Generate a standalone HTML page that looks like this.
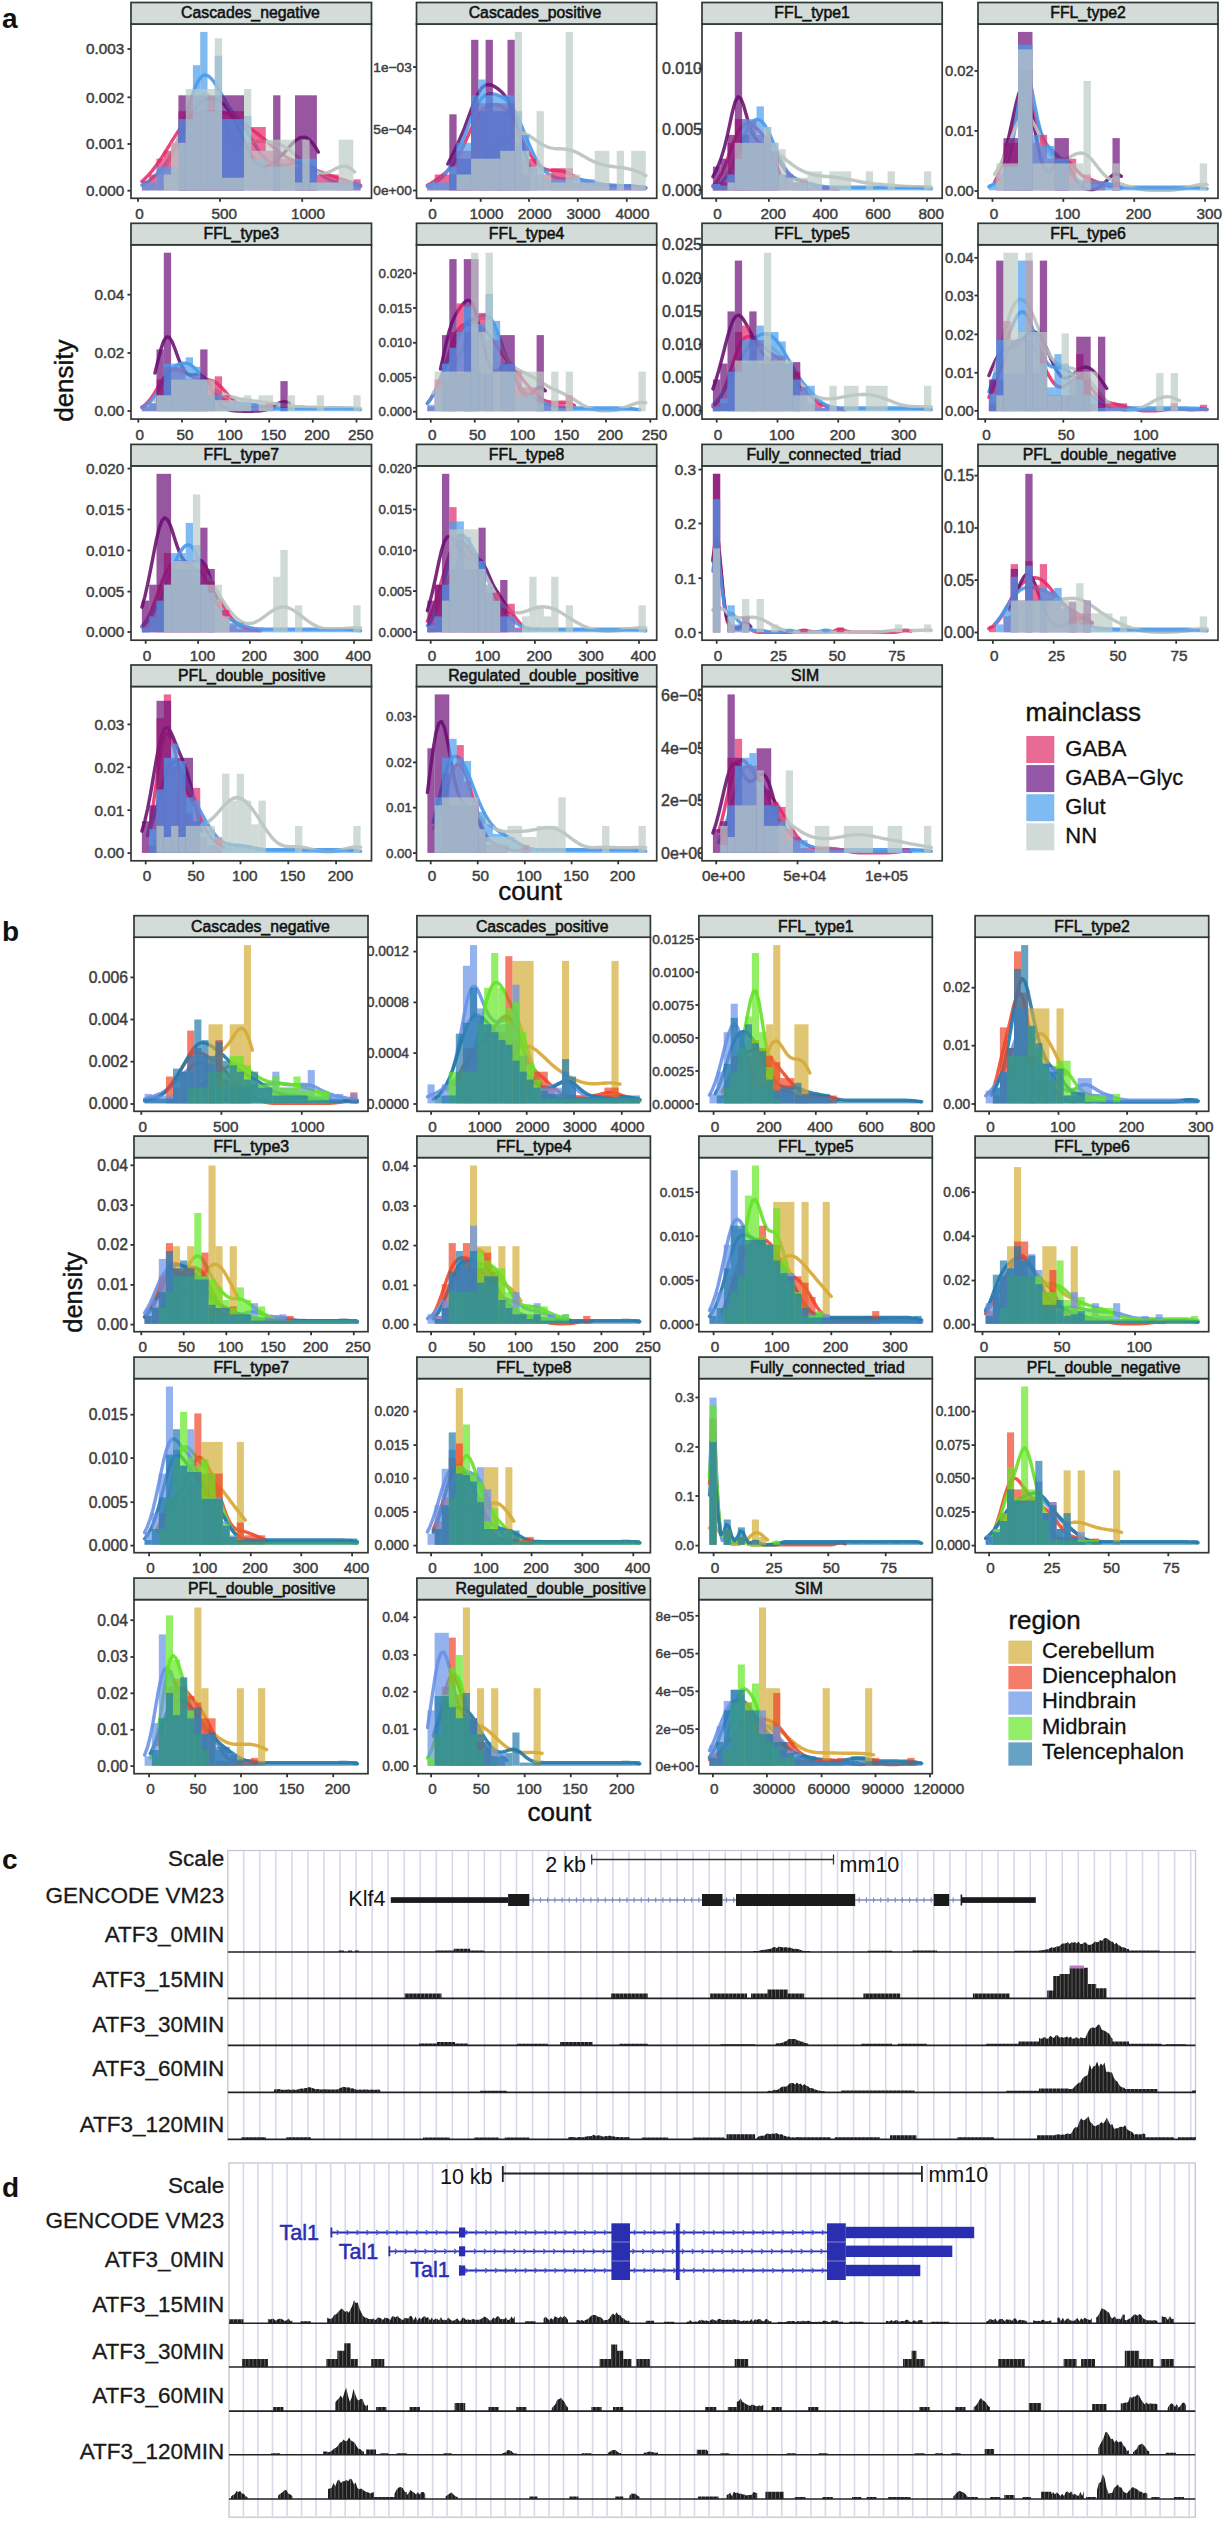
<!DOCTYPE html>
<html><head><meta charset="utf-8"><style>html,body{margin:0;padding:0;background:#fff;}svg{display:block;font-family:"Liberation Sans",sans-serif;}</style></head><body>
<svg width="1224" height="2521" viewBox="0 0 1224 2521" font-family="&quot;Liberation Sans&quot;, sans-serif">
<rect width="1224" height="2521" fill="#fff"/>
<g font-weight="bold" font-size="28" fill="#111">
<text x="2" y="27.7">a</text>
<text x="2" y="941">b</text>
<text x="2" y="1868.5">c</text>
<text x="2" y="2196.5">d</text>
</g>
<text x="124.2" y="54.3" font-size="15.3" fill="#3d3d3d" stroke="#3d3d3d" stroke-width="0.45" text-anchor="end">0.003</text>
<text x="124.2" y="102.6" font-size="15.3" fill="#3d3d3d" stroke="#3d3d3d" stroke-width="0.45" text-anchor="end">0.002</text>
<text x="124.2" y="149.3" font-size="15.3" fill="#3d3d3d" stroke="#3d3d3d" stroke-width="0.45" text-anchor="end">0.001</text>
<text x="124.2" y="196" font-size="15.3" fill="#3d3d3d" stroke="#3d3d3d" stroke-width="0.45" text-anchor="end">0.000</text>
<text x="411.8" y="71.7" font-size="13.7" fill="#3d3d3d" stroke="#3d3d3d" stroke-width="0.45" text-anchor="end">1e−03</text>
<text x="411.8" y="133.7" font-size="13.7" fill="#3d3d3d" stroke="#3d3d3d" stroke-width="0.45" text-anchor="end">5e−04</text>
<text x="411.8" y="195.2" font-size="13.7" fill="#3d3d3d" stroke="#3d3d3d" stroke-width="0.45" text-anchor="end">0e+00</text>
<text x="702" y="74.1" font-size="16" fill="#3d3d3d" stroke="#3d3d3d" stroke-width="0.45" text-anchor="end">0.010</text>
<text x="702" y="134.7" font-size="16" fill="#3d3d3d" stroke="#3d3d3d" stroke-width="0.45" text-anchor="end">0.005</text>
<text x="702" y="195.5" font-size="16" fill="#3d3d3d" stroke="#3d3d3d" stroke-width="0.45" text-anchor="end">0.000</text>
<text x="973.8" y="76" font-size="14.8" fill="#3d3d3d" stroke="#3d3d3d" stroke-width="0.45" text-anchor="end">0.02</text>
<text x="973.8" y="136" font-size="14.8" fill="#3d3d3d" stroke="#3d3d3d" stroke-width="0.45" text-anchor="end">0.01</text>
<text x="973.8" y="196.1" font-size="14.8" fill="#3d3d3d" stroke="#3d3d3d" stroke-width="0.45" text-anchor="end">0.00</text>
<text x="124.2" y="300" font-size="15.3" fill="#3d3d3d" stroke="#3d3d3d" stroke-width="0.45" text-anchor="end">0.04</text>
<text x="124.2" y="358.3" font-size="15.3" fill="#3d3d3d" stroke="#3d3d3d" stroke-width="0.45" text-anchor="end">0.02</text>
<text x="124.2" y="416.3" font-size="15.3" fill="#3d3d3d" stroke="#3d3d3d" stroke-width="0.45" text-anchor="end">0.00</text>
<text x="411.9" y="277.9" font-size="13.3" fill="#3d3d3d" stroke="#3d3d3d" stroke-width="0.45" text-anchor="end">0.020</text>
<text x="411.9" y="312.6" font-size="13.3" fill="#3d3d3d" stroke="#3d3d3d" stroke-width="0.45" text-anchor="end">0.015</text>
<text x="411.9" y="347.4" font-size="13.3" fill="#3d3d3d" stroke="#3d3d3d" stroke-width="0.45" text-anchor="end">0.010</text>
<text x="411.9" y="382.1" font-size="13.3" fill="#3d3d3d" stroke="#3d3d3d" stroke-width="0.45" text-anchor="end">0.005</text>
<text x="411.9" y="416.3" font-size="13.3" fill="#3d3d3d" stroke="#3d3d3d" stroke-width="0.45" text-anchor="end">0.000</text>
<text x="702" y="249.9" font-size="16" fill="#3d3d3d" stroke="#3d3d3d" stroke-width="0.45" text-anchor="end">0.025</text>
<text x="702" y="283.7" font-size="16" fill="#3d3d3d" stroke="#3d3d3d" stroke-width="0.45" text-anchor="end">0.020</text>
<text x="702" y="316.8" font-size="16" fill="#3d3d3d" stroke="#3d3d3d" stroke-width="0.45" text-anchor="end">0.015</text>
<text x="702" y="349.9" font-size="16" fill="#3d3d3d" stroke="#3d3d3d" stroke-width="0.45" text-anchor="end">0.010</text>
<text x="702" y="383" font-size="16" fill="#3d3d3d" stroke="#3d3d3d" stroke-width="0.45" text-anchor="end">0.005</text>
<text x="702" y="416.1" font-size="16" fill="#3d3d3d" stroke="#3d3d3d" stroke-width="0.45" text-anchor="end">0.000</text>
<text x="973.8" y="262.9" font-size="14.8" fill="#3d3d3d" stroke="#3d3d3d" stroke-width="0.45" text-anchor="end">0.04</text>
<text x="973.8" y="300.6" font-size="14.8" fill="#3d3d3d" stroke="#3d3d3d" stroke-width="0.45" text-anchor="end">0.03</text>
<text x="973.8" y="339.5" font-size="14.8" fill="#3d3d3d" stroke="#3d3d3d" stroke-width="0.45" text-anchor="end">0.02</text>
<text x="973.8" y="377.9" font-size="14.8" fill="#3d3d3d" stroke="#3d3d3d" stroke-width="0.45" text-anchor="end">0.01</text>
<text x="973.8" y="415.9" font-size="14.8" fill="#3d3d3d" stroke="#3d3d3d" stroke-width="0.45" text-anchor="end">0.00</text>
<text x="124.2" y="473.9" font-size="15.3" fill="#3d3d3d" stroke="#3d3d3d" stroke-width="0.45" text-anchor="end">0.020</text>
<text x="124.2" y="514.8" font-size="15.3" fill="#3d3d3d" stroke="#3d3d3d" stroke-width="0.45" text-anchor="end">0.015</text>
<text x="124.2" y="555.8" font-size="15.3" fill="#3d3d3d" stroke="#3d3d3d" stroke-width="0.45" text-anchor="end">0.010</text>
<text x="124.2" y="596.9" font-size="15.3" fill="#3d3d3d" stroke="#3d3d3d" stroke-width="0.45" text-anchor="end">0.005</text>
<text x="124.2" y="637.3" font-size="15.3" fill="#3d3d3d" stroke="#3d3d3d" stroke-width="0.45" text-anchor="end">0.000</text>
<text x="411.9" y="472.5" font-size="13.3" fill="#3d3d3d" stroke="#3d3d3d" stroke-width="0.45" text-anchor="end">0.020</text>
<text x="411.9" y="514.1" font-size="13.3" fill="#3d3d3d" stroke="#3d3d3d" stroke-width="0.45" text-anchor="end">0.015</text>
<text x="411.9" y="555.1" font-size="13.3" fill="#3d3d3d" stroke="#3d3d3d" stroke-width="0.45" text-anchor="end">0.010</text>
<text x="411.9" y="595.7" font-size="13.3" fill="#3d3d3d" stroke="#3d3d3d" stroke-width="0.45" text-anchor="end">0.005</text>
<text x="411.9" y="636.6" font-size="13.3" fill="#3d3d3d" stroke="#3d3d3d" stroke-width="0.45" text-anchor="end">0.000</text>
<text x="696.1" y="474.9" font-size="15.4" fill="#3d3d3d" stroke="#3d3d3d" stroke-width="0.45" text-anchor="end">0.3</text>
<text x="696.1" y="528.8" font-size="15.4" fill="#3d3d3d" stroke="#3d3d3d" stroke-width="0.45" text-anchor="end">0.2</text>
<text x="696.1" y="583.5" font-size="15.4" fill="#3d3d3d" stroke="#3d3d3d" stroke-width="0.45" text-anchor="end">0.1</text>
<text x="696.1" y="637.9" font-size="15.4" fill="#3d3d3d" stroke="#3d3d3d" stroke-width="0.45" text-anchor="end">0.0</text>
<text x="974.3" y="481" font-size="15.6" fill="#3d3d3d" stroke="#3d3d3d" stroke-width="0.45" text-anchor="end">0.15</text>
<text x="974.3" y="533.4" font-size="15.6" fill="#3d3d3d" stroke="#3d3d3d" stroke-width="0.45" text-anchor="end">0.10</text>
<text x="974.3" y="585.5" font-size="15.6" fill="#3d3d3d" stroke="#3d3d3d" stroke-width="0.45" text-anchor="end">0.05</text>
<text x="974.3" y="637.9" font-size="15.6" fill="#3d3d3d" stroke="#3d3d3d" stroke-width="0.45" text-anchor="end">0.00</text>
<text x="124.2" y="729.7" font-size="15.3" fill="#3d3d3d" stroke="#3d3d3d" stroke-width="0.45" text-anchor="end">0.03</text>
<text x="124.2" y="772.6" font-size="15.3" fill="#3d3d3d" stroke="#3d3d3d" stroke-width="0.45" text-anchor="end">0.02</text>
<text x="124.2" y="815.5" font-size="15.3" fill="#3d3d3d" stroke="#3d3d3d" stroke-width="0.45" text-anchor="end">0.01</text>
<text x="124.2" y="858.4" font-size="15.3" fill="#3d3d3d" stroke="#3d3d3d" stroke-width="0.45" text-anchor="end">0.00</text>
<text x="411.9" y="721.2" font-size="13.3" fill="#3d3d3d" stroke="#3d3d3d" stroke-width="0.45" text-anchor="end">0.03</text>
<text x="411.9" y="767" font-size="13.3" fill="#3d3d3d" stroke="#3d3d3d" stroke-width="0.45" text-anchor="end">0.02</text>
<text x="411.9" y="812.3" font-size="13.3" fill="#3d3d3d" stroke="#3d3d3d" stroke-width="0.45" text-anchor="end">0.01</text>
<text x="411.9" y="857.7" font-size="13.3" fill="#3d3d3d" stroke="#3d3d3d" stroke-width="0.45" text-anchor="end">0.00</text>
<text x="706" y="701" font-size="16" fill="#3d3d3d" stroke="#3d3d3d" stroke-width="0.45" text-anchor="end">6e−05</text>
<text x="706" y="753.7" font-size="16" fill="#3d3d3d" stroke="#3d3d3d" stroke-width="0.45" text-anchor="end">4e−05</text>
<text x="706" y="805.9" font-size="16" fill="#3d3d3d" stroke="#3d3d3d" stroke-width="0.45" text-anchor="end">2e−05</text>
<text x="706" y="858.6" font-size="16" fill="#3d3d3d" stroke="#3d3d3d" stroke-width="0.45" text-anchor="end">0e+00</text>
<text x="127.9" y="982.8" font-size="15.7" fill="#3d3d3d" stroke="#3d3d3d" stroke-width="0.45" text-anchor="end">0.006</text>
<text x="127.9" y="1024.9" font-size="15.7" fill="#3d3d3d" stroke="#3d3d3d" stroke-width="0.45" text-anchor="end">0.004</text>
<text x="127.9" y="1067.1" font-size="15.7" fill="#3d3d3d" stroke="#3d3d3d" stroke-width="0.45" text-anchor="end">0.002</text>
<text x="127.9" y="1109.4" font-size="15.7" fill="#3d3d3d" stroke="#3d3d3d" stroke-width="0.45" text-anchor="end">0.000</text>
<text x="409" y="956.3" font-size="13.8" fill="#3d3d3d" stroke="#3d3d3d" stroke-width="0.45" text-anchor="end">0.0012</text>
<text x="409" y="1007.1" font-size="13.8" fill="#3d3d3d" stroke="#3d3d3d" stroke-width="0.45" text-anchor="end">0.0008</text>
<text x="409" y="1057.8" font-size="13.8" fill="#3d3d3d" stroke="#3d3d3d" stroke-width="0.45" text-anchor="end">0.0004</text>
<text x="409" y="1108.7" font-size="13.8" fill="#3d3d3d" stroke="#3d3d3d" stroke-width="0.45" text-anchor="end">0.0000</text>
<text x="694" y="943.8" font-size="13.7" fill="#3d3d3d" stroke="#3d3d3d" stroke-width="0.45" text-anchor="end">0.0125</text>
<text x="694" y="976.9" font-size="13.7" fill="#3d3d3d" stroke="#3d3d3d" stroke-width="0.45" text-anchor="end">0.0100</text>
<text x="694" y="1009.7" font-size="13.7" fill="#3d3d3d" stroke="#3d3d3d" stroke-width="0.45" text-anchor="end">0.0075</text>
<text x="694" y="1042.6" font-size="13.7" fill="#3d3d3d" stroke="#3d3d3d" stroke-width="0.45" text-anchor="end">0.0050</text>
<text x="694" y="1075.7" font-size="13.7" fill="#3d3d3d" stroke="#3d3d3d" stroke-width="0.45" text-anchor="end">0.0025</text>
<text x="694" y="1108.7" font-size="13.7" fill="#3d3d3d" stroke="#3d3d3d" stroke-width="0.45" text-anchor="end">0.0000</text>
<text x="970.2" y="992.4" font-size="13.8" fill="#3d3d3d" stroke="#3d3d3d" stroke-width="0.45" text-anchor="end">0.02</text>
<text x="970.2" y="1050.4" font-size="13.8" fill="#3d3d3d" stroke="#3d3d3d" stroke-width="0.45" text-anchor="end">0.01</text>
<text x="970.2" y="1108.7" font-size="13.8" fill="#3d3d3d" stroke="#3d3d3d" stroke-width="0.45" text-anchor="end">0.00</text>
<text x="127.9" y="1170.7" font-size="15.7" fill="#3d3d3d" stroke="#3d3d3d" stroke-width="0.45" text-anchor="end">0.04</text>
<text x="127.9" y="1210.6" font-size="15.7" fill="#3d3d3d" stroke="#3d3d3d" stroke-width="0.45" text-anchor="end">0.03</text>
<text x="127.9" y="1250.3" font-size="15.7" fill="#3d3d3d" stroke="#3d3d3d" stroke-width="0.45" text-anchor="end">0.02</text>
<text x="127.9" y="1290.3" font-size="15.7" fill="#3d3d3d" stroke="#3d3d3d" stroke-width="0.45" text-anchor="end">0.01</text>
<text x="127.9" y="1330" font-size="15.7" fill="#3d3d3d" stroke="#3d3d3d" stroke-width="0.45" text-anchor="end">0.00</text>
<text x="409" y="1170.7" font-size="13.8" fill="#3d3d3d" stroke="#3d3d3d" stroke-width="0.45" text-anchor="end">0.04</text>
<text x="409" y="1210.7" font-size="13.8" fill="#3d3d3d" stroke="#3d3d3d" stroke-width="0.45" text-anchor="end">0.03</text>
<text x="409" y="1250.3" font-size="13.8" fill="#3d3d3d" stroke="#3d3d3d" stroke-width="0.45" text-anchor="end">0.02</text>
<text x="409" y="1290.1" font-size="13.8" fill="#3d3d3d" stroke="#3d3d3d" stroke-width="0.45" text-anchor="end">0.01</text>
<text x="409" y="1329.3" font-size="13.8" fill="#3d3d3d" stroke="#3d3d3d" stroke-width="0.45" text-anchor="end">0.00</text>
<text x="694" y="1196.9" font-size="13.7" fill="#3d3d3d" stroke="#3d3d3d" stroke-width="0.45" text-anchor="end">0.015</text>
<text x="694" y="1241" font-size="13.7" fill="#3d3d3d" stroke="#3d3d3d" stroke-width="0.45" text-anchor="end">0.010</text>
<text x="694" y="1285.2" font-size="13.7" fill="#3d3d3d" stroke="#3d3d3d" stroke-width="0.45" text-anchor="end">0.005</text>
<text x="694" y="1329.3" font-size="13.7" fill="#3d3d3d" stroke="#3d3d3d" stroke-width="0.45" text-anchor="end">0.000</text>
<text x="970.2" y="1196.9" font-size="13.8" fill="#3d3d3d" stroke="#3d3d3d" stroke-width="0.45" text-anchor="end">0.06</text>
<text x="970.2" y="1241" font-size="13.8" fill="#3d3d3d" stroke="#3d3d3d" stroke-width="0.45" text-anchor="end">0.04</text>
<text x="970.2" y="1285.2" font-size="13.8" fill="#3d3d3d" stroke="#3d3d3d" stroke-width="0.45" text-anchor="end">0.02</text>
<text x="970.2" y="1329.3" font-size="13.8" fill="#3d3d3d" stroke="#3d3d3d" stroke-width="0.45" text-anchor="end">0.00</text>
<text x="127.9" y="1420.1" font-size="15.7" fill="#3d3d3d" stroke="#3d3d3d" stroke-width="0.45" text-anchor="end">0.015</text>
<text x="127.9" y="1463.5" font-size="15.7" fill="#3d3d3d" stroke="#3d3d3d" stroke-width="0.45" text-anchor="end">0.010</text>
<text x="127.9" y="1507.6" font-size="15.7" fill="#3d3d3d" stroke="#3d3d3d" stroke-width="0.45" text-anchor="end">0.005</text>
<text x="127.9" y="1551" font-size="15.7" fill="#3d3d3d" stroke="#3d3d3d" stroke-width="0.45" text-anchor="end">0.000</text>
<text x="409" y="1416.2" font-size="13.8" fill="#3d3d3d" stroke="#3d3d3d" stroke-width="0.45" text-anchor="end">0.020</text>
<text x="409" y="1449.8" font-size="13.8" fill="#3d3d3d" stroke="#3d3d3d" stroke-width="0.45" text-anchor="end">0.015</text>
<text x="409" y="1483.1" font-size="13.8" fill="#3d3d3d" stroke="#3d3d3d" stroke-width="0.45" text-anchor="end">0.010</text>
<text x="409" y="1516.7" font-size="13.8" fill="#3d3d3d" stroke="#3d3d3d" stroke-width="0.45" text-anchor="end">0.005</text>
<text x="409" y="1550.3" font-size="13.8" fill="#3d3d3d" stroke="#3d3d3d" stroke-width="0.45" text-anchor="end">0.000</text>
<text x="694" y="1402.2" font-size="13.7" fill="#3d3d3d" stroke="#3d3d3d" stroke-width="0.45" text-anchor="end">0.3</text>
<text x="694" y="1451.7" font-size="13.7" fill="#3d3d3d" stroke="#3d3d3d" stroke-width="0.45" text-anchor="end">0.2</text>
<text x="694" y="1500.7" font-size="13.7" fill="#3d3d3d" stroke="#3d3d3d" stroke-width="0.45" text-anchor="end">0.1</text>
<text x="694" y="1550.3" font-size="13.7" fill="#3d3d3d" stroke="#3d3d3d" stroke-width="0.45" text-anchor="end">0.0</text>
<text x="970.2" y="1416.2" font-size="13.8" fill="#3d3d3d" stroke="#3d3d3d" stroke-width="0.45" text-anchor="end">0.100</text>
<text x="970.2" y="1449.8" font-size="13.8" fill="#3d3d3d" stroke="#3d3d3d" stroke-width="0.45" text-anchor="end">0.075</text>
<text x="970.2" y="1483.1" font-size="13.8" fill="#3d3d3d" stroke="#3d3d3d" stroke-width="0.45" text-anchor="end">0.050</text>
<text x="970.2" y="1516.7" font-size="13.8" fill="#3d3d3d" stroke="#3d3d3d" stroke-width="0.45" text-anchor="end">0.025</text>
<text x="970.2" y="1550.3" font-size="13.8" fill="#3d3d3d" stroke="#3d3d3d" stroke-width="0.45" text-anchor="end">0.000</text>
<text x="127.9" y="1625.6" font-size="15.7" fill="#3d3d3d" stroke="#3d3d3d" stroke-width="0.45" text-anchor="end">0.04</text>
<text x="127.9" y="1662.4" font-size="15.7" fill="#3d3d3d" stroke="#3d3d3d" stroke-width="0.45" text-anchor="end">0.03</text>
<text x="127.9" y="1698.7" font-size="15.7" fill="#3d3d3d" stroke="#3d3d3d" stroke-width="0.45" text-anchor="end">0.02</text>
<text x="127.9" y="1735.2" font-size="15.7" fill="#3d3d3d" stroke="#3d3d3d" stroke-width="0.45" text-anchor="end">0.01</text>
<text x="127.9" y="1771.5" font-size="15.7" fill="#3d3d3d" stroke="#3d3d3d" stroke-width="0.45" text-anchor="end">0.00</text>
<text x="409" y="1622" font-size="13.8" fill="#3d3d3d" stroke="#3d3d3d" stroke-width="0.45" text-anchor="end">0.04</text>
<text x="409" y="1659.7" font-size="13.8" fill="#3d3d3d" stroke="#3d3d3d" stroke-width="0.45" text-anchor="end">0.03</text>
<text x="409" y="1696.5" font-size="13.8" fill="#3d3d3d" stroke="#3d3d3d" stroke-width="0.45" text-anchor="end">0.02</text>
<text x="409" y="1734" font-size="13.8" fill="#3d3d3d" stroke="#3d3d3d" stroke-width="0.45" text-anchor="end">0.01</text>
<text x="409" y="1770.8" font-size="13.8" fill="#3d3d3d" stroke="#3d3d3d" stroke-width="0.45" text-anchor="end">0.00</text>
<text x="694" y="1620.5" font-size="13.7" fill="#3d3d3d" stroke="#3d3d3d" stroke-width="0.45" text-anchor="end">8e−05</text>
<text x="694" y="1658.3" font-size="13.7" fill="#3d3d3d" stroke="#3d3d3d" stroke-width="0.45" text-anchor="end">6e−05</text>
<text x="694" y="1696" font-size="13.7" fill="#3d3d3d" stroke="#3d3d3d" stroke-width="0.45" text-anchor="end">4e−05</text>
<text x="694" y="1733.8" font-size="13.7" fill="#3d3d3d" stroke="#3d3d3d" stroke-width="0.45" text-anchor="end">2e−05</text>
<text x="694" y="1771" font-size="13.7" fill="#3d3d3d" stroke="#3d3d3d" stroke-width="0.45" text-anchor="end">0e+00</text>
<clipPath id="ca00"><rect x="131" y="24" width="240.5" height="174.3"/></clipPath>
<rect x="131" y="24" width="240.5" height="174.3" fill="#fff"/>
<g clip-path="url(#ca00)">
<path d="M141.9,181.4 L144.8,178.8 L147.7,175.9 L150.6,172.7 L153.4,169.1 L156.3,165.3 L159.2,161.2 L162.1,156.9 L164.9,152.4 L167.8,147.8 L170.7,143.1 L173.6,138.4 L176.5,133.9 L179.3,129.6 L182.2,125.7 L185.1,122.2 L188,119.3 L190.8,116.9 L193.7,115.1 L196.6,113.8 L199.5,112.8 L202.3,112.2 L205.2,111.8 L208.1,111.5 L211,111.4 L213.9,111.5 L216.7,111.6 L219.6,111.9 L222.5,112.4 L225.4,113.1 L228.2,114 L231.1,115.2 L234,116.7 L236.9,118.5 L239.7,120.5 L242.6,122.5 L245.5,124.7 L248.4,126.9 L251.2,129 L254.1,131.2 L257,133.4 L259.9,135.6 L262.8,138 L265.6,140.4 L268.5,142.9 L271.4,145.5 L274.3,147.9 L277.1,150.3 L280,152.6 L282.9,154.7 L285.8,156.6 L288.6,158.4 L291.5,160 L294.4,161.5 L297.3,162.8 L300.2,164.1 L303,165.3 L305.9,166.5 L308.8,167.6 L311.7,168.6 L314.5,169.7 L317.4,170.8 L320.3,171.8 L323.2,172.8 L326,173.9 L328.9,174.9 L331.8,175.9 L334.7,176.9 L337.6,177.8 L340.4,178.8 L343.3,179.7 L346.2,180.7 L349.1,181.6 L351.9,182.6 L354.8,183.5 L357.7,184.5 L360.6,185.4" fill="none" stroke="#E3336E" stroke-opacity="0.9" stroke-width="3.4" stroke-linejoin="round" stroke-linecap="round"/>
<path d="M176.9,146.4 L179.8,139.3 L182.7,132.3 L185.6,125.7 L188.5,119.6 L191.3,114.3 L194.2,109.7 L197.1,106 L200,103 L202.9,100.9 L205.8,99.4 L208.7,98.6 L211.5,98.4 L214.4,98.8 L217.3,99.7 L220.2,101.4 L223.1,103.7 L226,106.8 L228.9,110.6 L231.7,115.3 L234.6,120.7 L237.5,126.6 L240.4,132.9 L243.3,139.4 L246.2,145.7 L249,151.5 L251.9,156.5 L254.8,160.6 L257.7,163.7 L260.6,165.6 L263.5,166.5 L266.4,166.4 L269.2,165.4 L272.1,163.8 L275,161.7 L277.9,159.2 L280.8,156.4 L283.7,153.3 L286.6,150.1 L289.4,146.8 L292.3,143.7 L295.2,141 L298.1,138.8 L301,137.4 L303.9,137.1 L306.8,137.9 L309.6,139.9 L312.5,143.1 L315.4,147.2 L318.3,152.1" fill="none" stroke="#6A1470" stroke-opacity="0.9" stroke-width="3.4" stroke-linejoin="round" stroke-linecap="round"/>
<path d="M141.9,185.2 L144.8,183.5 L147.7,181.6 L150.6,179.4 L153.4,177.1 L156.3,174.5 L159.2,171.8 L162.1,168.7 L164.9,165.2 L167.8,161.1 L170.7,156.3 L173.6,150.4 L176.5,143.6 L179.3,135.8 L182.2,127.2 L185.1,118.1 L188,108.7 L190.8,99.5 L193.7,91.2 L196.6,84.2 L199.5,79 L202.3,75.9 L205.2,74.9 L208.1,75.8 L211,78.2 L213.9,81.8 L216.7,86.1 L219.6,90.8 L222.5,95.9 L225.4,100.9 L228.2,105.7 L231.1,110.1 L234,114.1 L236.9,117.7 L239.7,121.3 L242.6,125 L245.5,129.2 L248.4,133.7 L251.2,138.5 L254.1,143.5 L257,148.2 L259.9,152.5 L262.8,156.2 L265.6,159.2 L268.5,161.5 L271.4,163.1 L274.3,164.3 L277.1,165 L280,165.3 L282.9,165.2 L285.8,164.9 L288.6,164.4 L291.5,163.8 L294.4,163.1 L297.3,162.6 L300.2,162.4 L303,162.5 L305.9,163.2 L308.8,164.5 L311.7,166.4 L314.5,168.7 L317.4,171.2 L320.3,173.8 L323.2,176.1 L326,178.1 L328.9,179.6 L331.8,180.7 L334.7,181.5 L337.6,182 L340.4,182.4 L343.3,182.7 L346.2,183 L349.1,183.5 L351.9,184 L354.8,184.7 L357.7,185.5 L360.6,186.4" fill="none" stroke="#4A98E8" stroke-opacity="0.9" stroke-width="3.4" stroke-linejoin="round" stroke-linecap="round"/>
<path d="M162.3,173.3 L165.2,168.4 L168.1,162.8 L171,156.5 L173.8,149.8 L176.7,142.7 L179.6,135.4 L182.4,128.2 L185.3,121.3 L188.2,114.8 L191.1,108.9 L193.9,103.8 L196.8,99.7 L199.7,96.6 L202.5,94.8 L205.4,94.3 L208.3,95.3 L211.2,97.9 L214,102 L216.9,107.4 L219.8,113.8 L222.6,120.7 L225.5,127.5 L228.4,133.7 L231.3,138.7 L234.1,142.4 L237,144.5 L239.9,145.3 L242.7,145.1 L245.6,144.3 L248.5,143.2 L251.4,142.3 L254.2,141.6 L257.1,141.2 L260,141.2 L262.8,141.3 L265.7,141.6 L268.6,141.9 L271.5,142.4 L274.3,142.9 L277.2,143.6 L280.1,144.6 L282.9,145.9 L285.8,147.5 L288.7,149.4 L291.6,151.6 L294.4,154 L297.3,156.5 L300.2,159.1 L303,161.7 L305.9,164.2 L308.8,166.7 L311.7,168.9 L314.5,170.8 L317.4,172.2 L320.3,173.1 L323.2,173.4 L326,173.1 L328.9,172.1 L331.8,170.8 L334.6,169.2 L337.5,167.8 L340.4,166.6 L343.3,166.1 L346.1,166.4 L349,167.5 L351.9,169.4 L354.7,171.9" fill="none" stroke="#B8C2BE" stroke-opacity="0.9" stroke-width="3.4" stroke-linejoin="round" stroke-linecap="round"/>
<g fill="#E12A69" fill-opacity="0.7">
<rect x="141.9" y="180.9" width="7.3" height="9.5"/>
<rect x="149.2" y="174.5" width="7.3" height="15.8"/>
<rect x="156.5" y="158.7" width="7.3" height="31.7"/>
<rect x="163.8" y="150.8" width="7.3" height="39.6"/>
<rect x="171.1" y="142.8" width="7.3" height="47.5"/>
<rect x="178.4" y="111.2" width="65.6" height="79.2"/>
<rect x="244" y="142.8" width="7.3" height="47.5"/>
<rect x="251.2" y="127" width="14.6" height="63.4"/>
<rect x="265.8" y="150.8" width="14.6" height="39.6"/>
<rect x="280.4" y="158.7" width="14.6" height="31.7"/>
<rect x="295" y="166.6" width="21.9" height="23.8"/>
<rect x="316.8" y="174.5" width="21.9" height="15.8"/>
<rect x="338.7" y="182.5" width="14.6" height="7.9"/>
<rect x="353.3" y="179.3" width="7.3" height="11.1"/>
</g>
<g fill="#6E0E78" fill-opacity="0.7">
<rect x="178.4" y="95.3" width="65.6" height="95.1"/>
<rect x="273.1" y="95.3" width="7.3" height="95.1"/>
<rect x="295" y="95.3" width="21.9" height="95.1"/>
</g>
<g fill="#499CEC" fill-opacity="0.7">
<rect x="141.9" y="182.5" width="14.6" height="7.9"/>
<rect x="156.5" y="166.6" width="21.9" height="23.8"/>
<rect x="178.4" y="119.1" width="14.6" height="71.3"/>
<rect x="192.9" y="65.2" width="7.3" height="125.2"/>
<rect x="200.2" y="31.9" width="7.3" height="158.5"/>
<rect x="207.5" y="111.2" width="7.3" height="79.2"/>
<rect x="214.8" y="55.7" width="7.3" height="134.7"/>
<rect x="222.1" y="119.1" width="21.9" height="71.3"/>
<rect x="244" y="115.9" width="7.3" height="74.5"/>
<rect x="251.2" y="158.7" width="14.6" height="31.7"/>
<rect x="265.8" y="166.6" width="29.2" height="23.8"/>
<rect x="295" y="158.7" width="21.9" height="31.7"/>
<rect x="316.8" y="182.5" width="43.7" height="7.9"/>
</g>
<g fill="#BCCAC4" fill-opacity="0.7">
<rect x="163.8" y="174.5" width="7.3" height="15.8"/>
<rect x="171.1" y="142.8" width="14.6" height="47.5"/>
<rect x="185.7" y="89" width="29.2" height="101.4"/>
<rect x="214.8" y="38.3" width="7.3" height="152.1"/>
<rect x="222.1" y="177.7" width="21.9" height="12.7"/>
<rect x="244" y="89" width="7.3" height="101.4"/>
<rect x="251.2" y="150.8" width="14.6" height="39.6"/>
<rect x="265.8" y="139.7" width="29.2" height="50.7"/>
<rect x="295" y="182.5" width="7.3" height="7.9"/>
<rect x="302.3" y="139.7" width="7.3" height="50.7"/>
<rect x="309.6" y="182.5" width="29.2" height="7.9"/>
<rect x="338.7" y="139.7" width="14.6" height="50.7"/>
</g>
</g>
<rect x="131" y="24" width="240.5" height="174.3" fill="none" stroke="#333835" stroke-width="1.7"/>
<rect x="131" y="2.5" width="240.5" height="21.5" fill="#D3DCD8" stroke="#2E3834" stroke-width="1.7"/>
<text x="250.5" y="18.3" font-size="15.8" fill="#111" stroke="#111" stroke-width="0.55" text-anchor="middle">Cascades_negative</text>
<line x1="127.5" y1="49" x2="131" y2="49" stroke="#333" stroke-width="1.8"/>
<line x1="127.5" y1="97.3" x2="131" y2="97.3" stroke="#333" stroke-width="1.8"/>
<line x1="127.5" y1="144" x2="131" y2="144" stroke="#333" stroke-width="1.8"/>
<line x1="127.5" y1="190.7" x2="131" y2="190.7" stroke="#333" stroke-width="1.8"/>
<line x1="138" y1="198.3" x2="138" y2="201.8" stroke="#333" stroke-width="1.8"/>
<text x="139.4" y="218.9" font-size="15.3" fill="#3d3d3d" stroke="#3d3d3d" stroke-width="0.45" text-anchor="middle">0</text>
<line x1="220" y1="198.3" x2="220" y2="201.8" stroke="#333" stroke-width="1.8"/>
<text x="224.3" y="218.9" font-size="15.3" fill="#3d3d3d" stroke="#3d3d3d" stroke-width="0.45" text-anchor="middle">500</text>
<line x1="302.2" y1="198.3" x2="302.2" y2="201.8" stroke="#333" stroke-width="1.8"/>
<text x="308" y="218.9" font-size="15.3" fill="#3d3d3d" stroke="#3d3d3d" stroke-width="0.45" text-anchor="middle">1000</text>
<clipPath id="ca10"><rect x="416.5" y="24" width="240.2" height="174.3"/></clipPath>
<rect x="416.5" y="24" width="240.2" height="174.3" fill="#fff"/>
<g clip-path="url(#ca10)">
<path d="M427.4,185.3 L430.3,183.6 L433.2,181.8 L436,179.9 L438.9,177.9 L441.8,175.7 L444.7,173.4 L447.5,170.8 L450.4,167.7 L453.3,164.1 L456.1,159.8 L459,154.8 L461.9,149.2 L464.8,143 L467.6,136.6 L470.5,130.1 L473.4,124 L476.3,118.5 L479.1,113.9 L482,110.2 L484.9,107.6 L487.8,105.9 L490.6,104.9 L493.5,104.5 L496.4,104.6 L499.2,105.3 L502.1,106.7 L505,108.9 L507.9,111.9 L510.7,115.9 L513.6,120.8 L516.5,126.4 L519.4,132.5 L522.2,138.8 L525.1,144.9 L528,150.5 L530.9,155.5 L533.7,159.8 L536.6,163.2 L539.5,165.9 L542.3,167.9 L545.2,169.2 L548.1,169.9 L551,170.3 L553.8,170.4 L556.7,170.5 L559.6,170.7 L562.5,171.1 L565.3,171.9 L568.2,173.1 L571.1,174.5 L574,176 L576.8,177.6 L579.7,179 L582.6,180.3 L585.4,181.4 L588.3,182.3 L591.2,183.1 L594.1,183.7 L596.9,184.2 L599.8,184.6 L602.7,184.9 L605.6,185.1 L608.4,185.3 L611.3,185.5 L614.2,185.5 L617.1,185.6 L619.9,185.6 L622.8,185.7 L625.7,185.7 L628.5,185.8 L631.4,186 L634.3,186.2 L637.2,186.6 L640,187 L642.9,187.5 L645.8,188" fill="none" stroke="#E3336E" stroke-opacity="0.9" stroke-width="3.4" stroke-linejoin="round" stroke-linecap="round"/>
<path d="M447.8,164 L450.7,158.3 L453.5,152.5 L456.4,146.6 L459.2,140.4 L462.1,133.8 L465,126.6 L467.8,118.9 L470.7,111.1 L473.6,103.6 L476.4,97 L479.3,91.5 L482.1,87.6 L485,85.3 L487.9,84.5 L490.7,84.8 L493.6,86 L496.4,87.7 L499.3,89.9 L502.2,92.5 L505,95.9 L507.9,100.4 L510.7,106.4 L513.6,114 L516.5,123 L519.3,133.1 L522.2,143.5 L525.1,153.5 L527.9,162.6 L530.8,170.4" fill="none" stroke="#6A1470" stroke-opacity="0.9" stroke-width="3.4" stroke-linejoin="round" stroke-linecap="round"/>
<path d="M427.4,186.5 L430.3,185.3 L433.2,184 L436,182.3 L438.9,180.3 L441.8,177.8 L444.7,174.6 L447.5,170.9 L450.4,166.4 L453.3,161.2 L456.1,155.4 L459,149.1 L461.9,142.2 L464.8,135 L467.6,127.5 L470.5,120.1 L473.4,113.1 L476.3,106.9 L479.1,101.7 L482,97.9 L484.9,95.4 L487.8,94.1 L490.6,93.7 L493.5,94 L496.4,94.7 L499.2,95.7 L502.1,97.1 L505,99.1 L507.9,101.7 L510.7,105.1 L513.6,109.4 L516.5,114.7 L519.4,120.8 L522.2,127.5 L525.1,134.6 L528,141.6 L530.9,148.4 L533.7,154.5 L536.6,159.9 L539.5,164.5 L542.3,168.3 L545.2,171.4 L548.1,173.8 L551,175.6 L553.8,176.9 L556.7,177.8 L559.6,178.4 L562.5,178.8 L565.3,179.1 L568.2,179.2 L571.1,179.3 L574,179.4 L576.8,179.5 L579.7,179.7 L582.6,180 L585.4,180.4 L588.3,181 L591.2,181.6 L594.1,182.3 L596.9,183 L599.8,183.6 L602.7,184.2 L605.6,184.7 L608.4,185 L611.3,185.3 L614.2,185.4 L617.1,185.5 L619.9,185.6 L622.8,185.7 L625.7,185.7 L628.5,185.8 L631.4,186 L634.3,186.2 L637.2,186.6 L640,187 L642.9,187.5 L645.8,188" fill="none" stroke="#4A98E8" stroke-opacity="0.9" stroke-width="3.4" stroke-linejoin="round" stroke-linecap="round"/>
<path d="M455.1,180.1 L458,178.3 L460.9,176.3 L463.7,174.3 L466.6,172.2 L469.5,170.1 L472.4,167.9 L475.3,165.8 L478.2,163.6 L481.1,161.3 L484,159 L486.9,156.6 L489.8,154.1 L492.6,151.5 L495.5,148.7 L498.4,145.9 L501.3,143.1 L504.2,140.5 L507.1,138 L510,135.9 L512.9,134.2 L515.8,133.1 L518.6,132.6 L521.5,132.7 L524.4,133.4 L527.3,134.7 L530.2,136.3 L533.1,138.3 L536,140.3 L538.9,142.3 L541.8,144.2 L544.7,145.7 L547.5,147 L550.4,147.9 L553.3,148.4 L556.2,148.7 L559.1,148.8 L562,148.9 L564.9,149.1 L567.8,149.5 L570.7,150.1 L573.5,151.1 L576.4,152.3 L579.3,153.8 L582.2,155.4 L585.1,157.1 L588,158.7 L590.9,160.3 L593.8,161.6 L596.7,162.8 L599.6,163.8 L602.4,164.7 L605.3,165.3 L608.2,165.9 L611.1,166.3 L614,166.7 L616.9,167.1 L619.8,167.4 L622.7,167.8 L625.6,168.3 L628.4,168.8 L631.3,169.5 L634.2,170.4 L637.1,171.4 L640,172.7 L642.9,174 L645.8,175.6" fill="none" stroke="#B8C2BE" stroke-opacity="0.9" stroke-width="3.4" stroke-linejoin="round" stroke-linecap="round"/>
<g fill="#E12A69" fill-opacity="0.7">
<rect x="427.4" y="185.6" width="7.3" height="4.8"/>
<rect x="434.7" y="174.5" width="21.8" height="15.8"/>
<rect x="456.5" y="150.8" width="14.6" height="39.6"/>
<rect x="471.1" y="103.2" width="43.7" height="87.1"/>
<rect x="514.8" y="127" width="7.3" height="63.4"/>
<rect x="522" y="158.7" width="14.6" height="31.7"/>
<rect x="536.6" y="174.5" width="14.6" height="15.8"/>
<rect x="551.2" y="168.2" width="21.8" height="22.2"/>
<rect x="573" y="182.5" width="21.8" height="7.9"/>
<rect x="594.8" y="185.6" width="51" height="4.8"/>
</g>
<g fill="#6E0E78" fill-opacity="0.7">
<rect x="449.3" y="114.3" width="7.3" height="76.1"/>
<rect x="456.5" y="158.7" width="14.6" height="31.7"/>
<rect x="471.1" y="39.8" width="7.3" height="150.5"/>
<rect x="478.4" y="111.2" width="7.3" height="79.2"/>
<rect x="485.6" y="39.8" width="7.3" height="150.5"/>
<rect x="492.9" y="111.2" width="14.6" height="79.2"/>
<rect x="507.5" y="39.8" width="7.3" height="150.5"/>
<rect x="514.8" y="142.8" width="7.3" height="47.5"/>
<rect x="522" y="174.5" width="7.3" height="15.8"/>
</g>
<g fill="#499CEC" fill-opacity="0.7">
<rect x="427.4" y="184" width="7.3" height="6.3"/>
<rect x="434.7" y="182.5" width="14.6" height="7.9"/>
<rect x="449.3" y="166.6" width="7.3" height="23.8"/>
<rect x="456.5" y="142.8" width="14.6" height="47.5"/>
<rect x="471.1" y="95.3" width="7.3" height="95.1"/>
<rect x="478.4" y="79.5" width="7.3" height="110.9"/>
<rect x="485.6" y="95.3" width="29.1" height="95.1"/>
<rect x="514.8" y="111.2" width="7.3" height="79.2"/>
<rect x="522" y="134.9" width="7.3" height="55.5"/>
<rect x="529.3" y="166.6" width="14.6" height="23.8"/>
<rect x="543.9" y="179.3" width="51" height="11.1"/>
<rect x="594.8" y="185.6" width="51" height="4.8"/>
</g>
<g fill="#BCCAC4" fill-opacity="0.7">
<rect x="456.5" y="174.5" width="14.6" height="15.8"/>
<rect x="471.1" y="158.7" width="29.1" height="31.7"/>
<rect x="500.2" y="150.8" width="14.6" height="39.6"/>
<rect x="514.8" y="31.9" width="7.3" height="158.5"/>
<rect x="522" y="150.8" width="7.3" height="39.6"/>
<rect x="529.3" y="166.6" width="7.3" height="23.8"/>
<rect x="536.6" y="111.2" width="7.3" height="79.2"/>
<rect x="543.9" y="174.5" width="7.3" height="15.8"/>
<rect x="551.2" y="182.5" width="14.6" height="7.9"/>
<rect x="565.7" y="31.9" width="7.3" height="158.5"/>
<rect x="573" y="174.5" width="7.3" height="15.8"/>
<rect x="580.3" y="182.5" width="14.6" height="7.9"/>
<rect x="594.8" y="150.8" width="14.6" height="39.6"/>
<rect x="616.7" y="150.8" width="7.3" height="39.6"/>
<rect x="631.2" y="150.8" width="14.6" height="39.6"/>
</g>
</g>
<rect x="416.5" y="24" width="240.2" height="174.3" fill="none" stroke="#333835" stroke-width="1.7"/>
<rect x="416.5" y="2.5" width="240.2" height="21.5" fill="#D3DCD8" stroke="#2E3834" stroke-width="1.7"/>
<text x="535" y="18.3" font-size="15.8" fill="#111" stroke="#111" stroke-width="0.55" text-anchor="middle">Cascades_positive</text>
<line x1="413" y1="67" x2="416.5" y2="67" stroke="#333" stroke-width="1.8"/>
<line x1="413" y1="129" x2="416.5" y2="129" stroke="#333" stroke-width="1.8"/>
<line x1="413" y1="190.5" x2="416.5" y2="190.5" stroke="#333" stroke-width="1.8"/>
<line x1="431" y1="198.3" x2="431" y2="201.8" stroke="#333" stroke-width="1.8"/>
<text x="432.4" y="218.9" font-size="15.3" fill="#3d3d3d" stroke="#3d3d3d" stroke-width="0.45" text-anchor="middle">0</text>
<line x1="480.7" y1="198.3" x2="480.7" y2="201.8" stroke="#333" stroke-width="1.8"/>
<text x="486.5" y="218.9" font-size="15.3" fill="#3d3d3d" stroke="#3d3d3d" stroke-width="0.45" text-anchor="middle">1000</text>
<line x1="529" y1="198.3" x2="529" y2="201.8" stroke="#333" stroke-width="1.8"/>
<text x="534.8" y="218.9" font-size="15.3" fill="#3d3d3d" stroke="#3d3d3d" stroke-width="0.45" text-anchor="middle">2000</text>
<line x1="577.8" y1="198.3" x2="577.8" y2="201.8" stroke="#333" stroke-width="1.8"/>
<text x="583.6" y="218.9" font-size="15.3" fill="#3d3d3d" stroke="#3d3d3d" stroke-width="0.45" text-anchor="middle">3000</text>
<line x1="626.8" y1="198.3" x2="626.8" y2="201.8" stroke="#333" stroke-width="1.8"/>
<text x="632.6" y="218.9" font-size="15.3" fill="#3d3d3d" stroke="#3d3d3d" stroke-width="0.45" text-anchor="middle">4000</text>
<clipPath id="ca20"><rect x="702" y="24" width="240.2" height="174.3"/></clipPath>
<rect x="702" y="24" width="240.2" height="174.3" fill="#fff"/>
<g clip-path="url(#ca20)">
<path d="M712.9,185.6 L715.8,182.8 L718.6,178.9 L721.5,173.8 L724.3,167.3 L727.1,159.8 L730,151.7 L732.8,143.9 L735.7,136.8 L738.5,131.1 L741.4,127.1 L744.2,124.7 L747.1,123.8 L749.9,124.1 L752.8,125.5 L755.6,127.6 L758.4,130.1 L761.3,133.1 L764.1,136.5 L767,140.4 L769.8,144.7 L772.7,149.5 L775.5,154.6 L778.4,159.7 L781.2,164.4 L784.1,168.6 L786.9,172 L789.7,174.7 L792.6,176.9 L795.4,178.5 L798.3,179.9 L801.1,181.1 L804,182.2 L806.8,183.3 L809.7,184.3 L812.5,185.2 L815.4,185.9 L818.2,186.5 L821,186.9 L823.9,187.2 L826.7,187.5 L829.6,187.8 L832.4,188.2 L835.3,188.6 L838.1,189" fill="none" stroke="#E3336E" stroke-opacity="0.9" stroke-width="3.4" stroke-linejoin="round" stroke-linecap="round"/>
<path d="M712.9,176.7 L715.7,171.2 L718.5,165 L721.3,157.6 L724.1,148.6 L726.9,137.5 L729.7,124.7 L732.4,111.9 L735.2,101.7 L738,96.8 L740.8,98.4 L743.6,105.4 L746.4,115.2 L749.2,124.9 L752,132.5 L754.8,137.7 L757.6,140.8 L760.4,142.7 L763.1,144.3 L765.9,146.4 L768.7,149.6 L771.5,154.1 L774.3,159.9 L777.1,166.6 L779.9,173.4" fill="none" stroke="#6A1470" stroke-opacity="0.9" stroke-width="3.4" stroke-linejoin="round" stroke-linecap="round"/>
<path d="M712.9,186.9 L715.8,185.7 L718.7,184.1 L721.5,182 L724.4,179.2 L727.3,175.5 L730.2,170.8 L733,164.9 L735.9,158.1 L738.8,150.6 L741.6,143 L744.5,135.8 L747.4,129.5 L750.3,124.6 L753.1,121.2 L756,119.5 L758.9,119.6 L761.8,121.4 L764.6,124.9 L767.5,129.9 L770.4,135.9 L773.3,142.7 L776.1,149.7 L779,156.4 L781.9,162.5 L784.7,167.6 L787.6,171.8 L790.5,174.9 L793.4,177.4 L796.2,179.2 L799.1,180.5 L802,181.5 L804.9,182.4 L807.7,183.1 L810.6,183.8 L813.5,184.5 L816.4,185.1 L819.2,185.8 L822.1,186.3 L825,186.7 L827.8,186.9 L830.7,187.1 L833.6,187.1 L836.5,187.2 L839.3,187.2 L842.2,187.2 L845.1,187.2 L848,187.2 L850.8,187.2 L853.7,187.2 L856.6,187.2 L859.5,187.2 L862.3,187.2 L865.2,187.2 L868.1,187.2 L870.9,187.2 L873.8,187.2 L876.7,187.2 L879.6,187.2 L882.4,187.2 L885.3,187.2 L888.2,187.2 L891.1,187.2 L893.9,187.2 L896.8,187.2 L899.7,187.2 L902.6,187.2 L905.4,187.2 L908.3,187.2 L911.2,187.2 L914,187.3 L916.9,187.4 L919.8,187.5 L922.7,187.7 L925.5,188 L928.4,188.4 L931.3,188.8" fill="none" stroke="#4A98E8" stroke-opacity="0.9" stroke-width="3.4" stroke-linejoin="round" stroke-linecap="round"/>
<path d="M726,174.4 L728.9,171.4 L731.8,168.2 L734.7,165 L737.6,161.8 L740.5,158.7 L743.4,155.9 L746.3,153.3 L749.1,151 L752,149.1 L754.9,147.7 L757.8,146.8 L760.7,146.4 L763.6,146.4 L766.5,147 L769.4,148 L772.3,149.4 L775.2,151.2 L778.1,153.2 L780.9,155.5 L783.8,157.9 L786.7,160.3 L789.6,162.6 L792.5,164.8 L795.4,166.9 L798.3,168.7 L801.2,170.3 L804.1,171.7 L807,172.8 L809.9,173.7 L812.8,174.5 L815.6,175.1 L818.5,175.5 L821.4,175.9 L824.3,176.2 L827.2,176.5 L830.1,176.7 L833,177 L835.9,177.4 L838.8,177.7 L841.7,178.2 L844.6,178.7 L847.4,179.2 L850.3,179.8 L853.2,180.3 L856.1,180.9 L859,181.5 L861.9,182 L864.8,182.5 L867.7,182.9 L870.6,183.2 L873.5,183.6 L876.4,183.9 L879.2,184.1 L882.1,184.4 L885,184.7 L887.9,184.9 L890.8,185.2 L893.7,185.4 L896.6,185.7 L899.5,185.9 L902.4,186.1 L905.3,186.3 L908.2,186.4 L911,186.5 L913.9,186.6 L916.8,186.6 L919.7,186.6 L922.6,186.7 L925.5,186.8 L928.4,186.9 L931.3,187.1" fill="none" stroke="#B8C2BE" stroke-opacity="0.9" stroke-width="3.4" stroke-linejoin="round" stroke-linecap="round"/>
<g fill="#E12A69" fill-opacity="0.7">
<rect x="712.9" y="185.6" width="7.3" height="4.8"/>
<rect x="720.2" y="182.5" width="7.3" height="7.9"/>
<rect x="727.5" y="142.8" width="7.3" height="47.5"/>
<rect x="734.8" y="119.1" width="14.6" height="71.3"/>
<rect x="749.3" y="120.7" width="7.3" height="69.7"/>
<rect x="756.6" y="134.9" width="14.6" height="55.5"/>
<rect x="771.1" y="150.8" width="7.3" height="39.6"/>
<rect x="778.4" y="174.5" width="14.6" height="15.8"/>
<rect x="793" y="182.5" width="7.3" height="7.9"/>
<rect x="800.3" y="179.3" width="7.3" height="11.1"/>
<rect x="807.5" y="187.2" width="29.1" height="3.2"/>
</g>
<g fill="#6E0E78" fill-opacity="0.7">
<rect x="712.9" y="166.6" width="7.3" height="23.8"/>
<rect x="720.2" y="158.7" width="7.3" height="31.7"/>
<rect x="727.5" y="134.9" width="7.3" height="55.5"/>
<rect x="734.8" y="31.9" width="7.3" height="158.5"/>
<rect x="742" y="134.9" width="7.3" height="55.5"/>
<rect x="749.3" y="142.8" width="21.8" height="47.5"/>
<rect x="771.1" y="152.3" width="7.3" height="38"/>
</g>
<g fill="#499CEC" fill-opacity="0.7">
<rect x="712.9" y="184" width="7.3" height="6.3"/>
<rect x="720.2" y="185.6" width="7.3" height="4.8"/>
<rect x="727.5" y="174.5" width="7.3" height="15.8"/>
<rect x="734.8" y="158.7" width="7.3" height="31.7"/>
<rect x="742" y="119.1" width="14.6" height="71.3"/>
<rect x="756.6" y="106.4" width="7.3" height="84"/>
<rect x="763.9" y="127" width="7.3" height="63.4"/>
<rect x="771.1" y="142.8" width="7.3" height="47.5"/>
<rect x="778.4" y="174.5" width="14.6" height="15.8"/>
<rect x="793" y="182.5" width="21.8" height="7.9"/>
<rect x="814.8" y="187.2" width="116.5" height="3.2"/>
</g>
<g fill="#BCCAC4" fill-opacity="0.7">
<rect x="727.5" y="182.5" width="7.3" height="7.9"/>
<rect x="734.8" y="142.8" width="29.1" height="47.5"/>
<rect x="763.9" y="127" width="7.3" height="63.4"/>
<rect x="771.1" y="142.8" width="7.3" height="47.5"/>
<rect x="778.4" y="149.2" width="7.3" height="41.2"/>
<rect x="785.7" y="177.7" width="21.8" height="12.7"/>
<rect x="807.5" y="171.4" width="14.6" height="19"/>
<rect x="829.4" y="171.4" width="21.8" height="19"/>
<rect x="865.8" y="171.4" width="7.3" height="19"/>
<rect x="887.6" y="171.4" width="7.3" height="19"/>
<rect x="924" y="171.4" width="7.3" height="19"/>
</g>
</g>
<rect x="702" y="24" width="240.2" height="174.3" fill="none" stroke="#333835" stroke-width="1.7"/>
<rect x="702" y="2.5" width="240.2" height="21.5" fill="#D3DCD8" stroke="#2E3834" stroke-width="1.7"/>
<text x="812.1" y="18.3" font-size="15.8" fill="#111" stroke="#111" stroke-width="0.55" text-anchor="middle">FFL_type1</text>
<line x1="698.5" y1="68.6" x2="702" y2="68.6" stroke="#333" stroke-width="1.8"/>
<line x1="698.5" y1="129.2" x2="702" y2="129.2" stroke="#333" stroke-width="1.8"/>
<line x1="698.5" y1="190" x2="702" y2="190" stroke="#333" stroke-width="1.8"/>
<line x1="716.2" y1="198.3" x2="716.2" y2="201.8" stroke="#333" stroke-width="1.8"/>
<text x="717.6" y="218.9" font-size="15.3" fill="#3d3d3d" stroke="#3d3d3d" stroke-width="0.45" text-anchor="middle">0</text>
<line x1="768.9" y1="198.3" x2="768.9" y2="201.8" stroke="#333" stroke-width="1.8"/>
<text x="773.2" y="218.9" font-size="15.3" fill="#3d3d3d" stroke="#3d3d3d" stroke-width="0.45" text-anchor="middle">200</text>
<line x1="821" y1="198.3" x2="821" y2="201.8" stroke="#333" stroke-width="1.8"/>
<text x="825.3" y="218.9" font-size="15.3" fill="#3d3d3d" stroke="#3d3d3d" stroke-width="0.45" text-anchor="middle">400</text>
<line x1="873.8" y1="198.3" x2="873.8" y2="201.8" stroke="#333" stroke-width="1.8"/>
<text x="878.1" y="218.9" font-size="15.3" fill="#3d3d3d" stroke="#3d3d3d" stroke-width="0.45" text-anchor="middle">600</text>
<line x1="927" y1="198.3" x2="927" y2="201.8" stroke="#333" stroke-width="1.8"/>
<text x="931.3" y="218.9" font-size="15.3" fill="#3d3d3d" stroke="#3d3d3d" stroke-width="0.45" text-anchor="middle">800</text>
<clipPath id="ca30"><rect x="978" y="24" width="240" height="174.3"/></clipPath>
<rect x="978" y="24" width="240" height="174.3" fill="#fff"/>
<g clip-path="url(#ca30)">
<path d="M994.7,181.8 L997.6,176.3 L1000.5,169.3 L1003.4,161.2 L1006.2,152.6 L1009.1,143.5 L1012,133.2 L1014.9,121.5 L1017.7,109.1 L1020.6,98.1 L1023.5,91.2 L1026.4,90.3 L1029.2,95.5 L1032.1,105.1 L1035,116.2 L1037.9,126.4 L1040.7,134.6 L1043.6,140.8 L1046.5,145.9 L1049.4,150.2 L1052.2,153.6 L1055.1,156.1 L1058,157.6 L1060.9,158.5 L1063.8,159.3 L1066.6,160.4 L1069.5,162.3 L1072.4,165.1 L1075.3,168.5 L1078.1,171.9 L1081,174.6 L1083.9,176.6 L1086.8,177.9 L1089.6,178.9 L1092.5,180.1 L1095.4,181.3 L1098.3,182.6 L1101.1,183.8 L1104,184.9 L1106.9,185.8 L1109.8,186.2 L1112.6,186.4 L1115.5,186.6 L1118.4,187.1 L1121.3,187.8" fill="none" stroke="#E3336E" stroke-opacity="0.9" stroke-width="3.4" stroke-linejoin="round" stroke-linecap="round"/>
<path d="M1002,163.6 L1004.8,153.5 L1007.7,141.9 L1010.5,129 L1013.4,115.7 L1016.2,103.1 L1019,93 L1021.9,87.2 L1024.7,87.2 L1027.6,93.4 L1030.4,105.1 L1033.2,120.4 L1036.1,136.6 L1038.9,151.2 L1041.8,162.3 L1044.6,169 L1047.4,171.5 L1050.3,170.5 L1053.1,167.4 L1056,163.8 L1058.8,161 L1061.6,160 L1064.5,161.2 L1067.3,164.5 L1070.2,169.2 L1073,174.4 L1075.8,179.3 L1078.7,183.3 L1081.5,186.2 L1084.4,188.1 L1087.2,189.1 L1090,189.6 L1092.9,189.5 L1095.7,188.9 L1098.6,187.7 L1101.4,185.8 L1104.2,183.2 L1107.1,180.3 L1109.9,177.4 L1112.8,175.1 L1115.6,174 L1118.4,174.5 L1121.3,176.3" fill="none" stroke="#6A1470" stroke-opacity="0.9" stroke-width="3.4" stroke-linejoin="round" stroke-linecap="round"/>
<path d="M988.9,186.8 L991.8,185.1 L994.6,183.1 L997.5,180.7 L1000.4,177.5 L1003.3,173.4 L1006.1,167.6 L1009,159.1 L1011.9,146.6 L1014.7,129.6 L1017.6,109.8 L1020.5,91.1 L1023.4,77.9 L1026.2,73.5 L1029.1,78.3 L1032,90.2 L1034.8,105.2 L1037.7,119.6 L1040.6,131 L1043.5,138.8 L1046.3,143.9 L1049.2,147.4 L1052.1,150.3 L1054.9,153 L1057.8,155.9 L1060.7,159.1 L1063.5,162.6 L1066.4,166.7 L1069.3,171 L1072.2,175 L1075,178.2 L1077.9,180.4 L1080.8,181.6 L1083.6,182.1 L1086.5,182.4 L1089.4,182.4 L1092.3,182.5 L1095.1,182.5 L1098,182.5 L1100.9,182.6 L1103.7,182.9 L1106.6,183.3 L1109.5,184 L1112.4,184.8 L1115.2,185.6 L1118.1,186.2 L1121,186.7 L1123.8,187 L1126.7,187.1 L1129.6,187.2 L1132.5,187.2 L1135.3,187.2 L1138.2,187.2 L1141.1,187.2 L1143.9,187.2 L1146.8,187.2 L1149.7,187.2 L1152.5,187.2 L1155.4,187.2 L1158.3,187.2 L1161.2,187.2 L1164,187.2 L1166.9,187.2 L1169.8,187.2 L1172.6,187.2 L1175.5,187.2 L1178.4,187.2 L1181.3,187.2 L1184.1,187.2 L1187,187.2 L1189.9,187.2 L1192.7,187.3 L1195.6,187.3 L1198.5,187.5 L1201.4,187.8 L1204.2,188.3 L1207.1,188.8" fill="none" stroke="#4A98E8" stroke-opacity="0.9" stroke-width="3.4" stroke-linejoin="round" stroke-linecap="round"/>
<path d="M994.7,174.2 L997.6,169.6 L1000.5,164.2 L1003.3,158 L1006.2,151.1 L1009.1,143.7 L1011.9,136.3 L1014.8,129.2 L1017.7,123.1 L1020.6,118.4 L1023.4,115.7 L1026.3,115.2 L1029.2,116.9 L1032,120.5 L1034.9,125.6 L1037.8,131.5 L1040.6,137.7 L1043.5,143.5 L1046.4,148.7 L1049.3,152.9 L1052.1,156 L1055,158.2 L1057.9,159.3 L1060.7,159.7 L1063.6,159.4 L1066.5,158.5 L1069.3,157.2 L1072.2,155.8 L1075.1,154.4 L1078,153.4 L1080.8,153 L1083.7,153.4 L1086.6,154.8 L1089.4,157.1 L1092.3,160.2 L1095.2,163.8 L1098,167.5 L1100.9,171.1 L1103.8,174.3 L1106.6,176.9 L1109.5,179 L1112.4,180.6 L1115.3,181.8 L1118.1,182.9 L1121,183.9 L1123.9,184.9 L1126.7,185.8 L1129.6,186.7 L1132.5,187.6 L1135.3,188.3 L1138.2,188.9 L1141.1,189.4 L1144,189.7 L1146.8,190 L1149.7,190.2 L1152.6,190.2 L1155.4,190.3 L1158.3,190.3 L1161.2,190.3 L1164,190.3 L1166.9,190.3 L1169.8,190.2 L1172.7,190 L1175.5,189.8 L1178.4,189.4 L1181.3,189 L1184.1,188.4 L1187,187.7 L1189.9,186.9 L1192.7,186.1 L1195.6,185.4 L1198.5,184.8 L1201.4,184.5 L1204.2,184.4 L1207.1,184.6" fill="none" stroke="#B8C2BE" stroke-opacity="0.9" stroke-width="3.4" stroke-linejoin="round" stroke-linecap="round"/>
<g fill="#E12A69" fill-opacity="0.7">
<rect x="996.2" y="177.7" width="7.3" height="12.7"/>
<rect x="1003.5" y="142.8" width="14.5" height="47.5"/>
<rect x="1018" y="70" width="14.5" height="120.4"/>
<rect x="1032.5" y="142.8" width="7.3" height="47.5"/>
<rect x="1039.8" y="134.9" width="7.3" height="55.5"/>
<rect x="1047.1" y="158.7" width="29.1" height="31.7"/>
<rect x="1076.2" y="182.5" width="7.3" height="7.9"/>
<rect x="1083.5" y="174.5" width="7.3" height="15.8"/>
<rect x="1090.7" y="182.5" width="14.5" height="7.9"/>
<rect x="1112.5" y="182.5" width="7.3" height="7.9"/>
</g>
<g fill="#6E0E78" fill-opacity="0.7">
<rect x="1003.5" y="138.1" width="14.5" height="52.3"/>
<rect x="1018" y="31.9" width="14.5" height="158.5"/>
<rect x="1054.4" y="138.1" width="14.5" height="52.3"/>
<rect x="1112.5" y="138.1" width="7.3" height="52.3"/>
</g>
<g fill="#499CEC" fill-opacity="0.7">
<rect x="988.9" y="184" width="7.3" height="6.3"/>
<rect x="996.2" y="182.5" width="7.3" height="7.9"/>
<rect x="1003.5" y="166.6" width="14.5" height="23.8"/>
<rect x="1018" y="44.6" width="14.5" height="145.8"/>
<rect x="1032.5" y="134.9" width="7.3" height="55.5"/>
<rect x="1039.8" y="146" width="14.5" height="44.4"/>
<rect x="1054.4" y="158.7" width="14.5" height="31.7"/>
<rect x="1068.9" y="182.5" width="43.6" height="7.9"/>
<rect x="1112.5" y="187.2" width="94.5" height="3.2"/>
</g>
<g fill="#BCCAC4" fill-opacity="0.7">
<rect x="996.2" y="163.4" width="21.8" height="26.9"/>
<rect x="1018" y="49.4" width="14.5" height="141"/>
<rect x="1032.5" y="163.4" width="50.9" height="26.9"/>
<rect x="1083.5" y="81" width="7.3" height="109.3"/>
<rect x="1112.5" y="163.4" width="7.3" height="26.9"/>
<rect x="1199.8" y="163.4" width="7.3" height="26.9"/>
</g>
</g>
<rect x="978" y="24" width="240" height="174.3" fill="none" stroke="#333835" stroke-width="1.7"/>
<rect x="978" y="2.5" width="240" height="21.5" fill="#D3DCD8" stroke="#2E3834" stroke-width="1.7"/>
<text x="1088" y="18.3" font-size="15.8" fill="#111" stroke="#111" stroke-width="0.55" text-anchor="middle">FFL_type2</text>
<line x1="974.5" y1="70.9" x2="978" y2="70.9" stroke="#333" stroke-width="1.8"/>
<line x1="974.5" y1="130.9" x2="978" y2="130.9" stroke="#333" stroke-width="1.8"/>
<line x1="974.5" y1="191" x2="978" y2="191" stroke="#333" stroke-width="1.8"/>
<line x1="992.5" y1="198.3" x2="992.5" y2="201.8" stroke="#333" stroke-width="1.8"/>
<text x="993.9" y="218.9" font-size="15.3" fill="#3d3d3d" stroke="#3d3d3d" stroke-width="0.45" text-anchor="middle">0</text>
<line x1="1063.3" y1="198.3" x2="1063.3" y2="201.8" stroke="#333" stroke-width="1.8"/>
<text x="1067.6" y="218.9" font-size="15.3" fill="#3d3d3d" stroke="#3d3d3d" stroke-width="0.45" text-anchor="middle">100</text>
<line x1="1134.2" y1="198.3" x2="1134.2" y2="201.8" stroke="#333" stroke-width="1.8"/>
<text x="1138.5" y="218.9" font-size="15.3" fill="#3d3d3d" stroke="#3d3d3d" stroke-width="0.45" text-anchor="middle">200</text>
<line x1="1205" y1="198.3" x2="1205" y2="201.8" stroke="#333" stroke-width="1.8"/>
<text x="1209.3" y="218.9" font-size="15.3" fill="#3d3d3d" stroke="#3d3d3d" stroke-width="0.45" text-anchor="middle">300</text>
<clipPath id="ca01"><rect x="131" y="244.8" width="240.5" height="174.3"/></clipPath>
<rect x="131" y="244.8" width="240.5" height="174.3" fill="#fff"/>
<g clip-path="url(#ca01)">
<path d="M141.9,407.1 L144.8,405.1 L147.7,402.3 L150.6,398.8 L153.5,394.7 L156.3,390 L159.2,385.1 L162.1,380.5 L165,376.4 L167.9,373.2 L170.8,371 L173.6,369.9 L176.5,369.7 L179.4,370.2 L182.3,371.4 L185.2,372.9 L188.1,374.6 L191,376.1 L193.8,377.4 L196.7,378.2 L199.6,378.8 L202.5,379.2 L205.4,379.4 L208.3,379.8 L211.1,380.4 L214,381.5 L216.9,383.3 L219.8,385.8 L222.7,388.8 L225.6,392 L228.4,395.3 L231.3,398.3 L234.2,400.8 L237.1,402.7 L240,404.1 L242.9,405.1 L245.7,405.7 L248.6,406 L251.5,406.2 L254.4,406.2 L257.3,406.1 L260.2,406.1 L263,406.2 L265.9,406.4 L268.8,406.8 L271.7,407.5 L274.6,408.2" fill="none" stroke="#E3336E" stroke-opacity="0.9" stroke-width="3.4" stroke-linejoin="round" stroke-linecap="round"/>
<path d="M155,373 L157.9,360.8 L160.8,349.6 L163.6,341.1 L166.5,336.9 L169.3,337.3 L172.2,341.9 L175,349 L177.9,357 L180.7,364.1 L183.6,369.6 L186.4,373 L189.3,374.6 L192.1,374.9 L195,374.6 L197.8,374.4 L200.7,375.1 L203.6,377 L206.4,380.3 L209.3,384.9 L212.1,390.2 L215,395.5 L217.8,400.2 L220.7,404.1 L223.5,406.9 L226.4,408.8 L229.2,409.9 L232.1,410.6 L234.9,410.9 L237.8,411.1 L240.6,411.1 L243.5,411.2 L246.4,411.2 L249.2,411.2 L252.1,411.2 L254.9,411.1 L257.8,411 L260.6,410.8 L263.5,410.4 L266.3,409.7 L269.2,408.6 L272,407.1 L274.9,405.4 L277.7,403.7 L280.6,402.4 L283.4,401.8 L286.3,402 L289.1,403.1" fill="none" stroke="#6A1470" stroke-opacity="0.9" stroke-width="3.4" stroke-linejoin="round" stroke-linecap="round"/>
<path d="M141.9,407.7 L144.8,406.1 L147.7,404.2 L150.6,401.6 L153.4,398.3 L156.3,394.2 L159.2,389.5 L162.1,384.3 L164.9,379.1 L167.8,374.4 L170.7,370.4 L173.6,367.4 L176.5,365.3 L179.3,363.9 L182.2,363.2 L185.1,363.1 L188,363.6 L190.8,365 L193.7,367.1 L196.6,370.1 L199.5,373.7 L202.3,377.6 L205.2,381.7 L208.1,385.7 L211,389.2 L213.9,392.3 L216.7,394.9 L219.6,397 L222.5,398.8 L225.4,400.2 L228.2,401.3 L231.1,402.1 L234,402.6 L236.9,403 L239.7,403.2 L242.6,403.3 L245.5,403.5 L248.4,403.8 L251.2,404.2 L254.1,404.7 L257,405.3 L259.9,405.9 L262.8,406.5 L265.6,407.1 L268.5,407.4 L271.4,407.7 L274.3,407.9 L277.1,407.9 L280,408 L282.9,408 L285.8,408 L288.6,408 L291.5,408 L294.4,408 L297.3,408 L300.2,408 L303,408 L305.9,408 L308.8,408 L311.7,408 L314.5,408 L317.4,408 L320.3,408 L323.2,408 L326,408 L328.9,408 L331.8,408 L334.7,408 L337.6,408 L340.4,408 L343.3,408.1 L346.2,408.2 L349.1,408.3 L351.9,408.5 L354.8,408.8 L357.7,409.2 L360.6,409.6" fill="none" stroke="#4A98E8" stroke-opacity="0.9" stroke-width="3.4" stroke-linejoin="round" stroke-linecap="round"/>
<path d="M155,401 L157.9,399.2 L160.8,397.3 L163.7,395.4 L166.6,393.5 L169.5,391.7 L172.4,389.9 L175.3,388.3 L178.2,386.9 L181.1,385.7 L184,384.8 L186.9,384.1 L189.8,383.7 L192.7,383.6 L195.6,383.7 L198.5,384.1 L201.4,384.7 L204.3,385.6 L207.2,386.6 L210,387.8 L212.9,389 L215.8,390.3 L218.7,391.7 L221.6,392.9 L224.5,394.2 L227.4,395.3 L230.3,396.3 L233.2,397.2 L236.1,398 L239,398.7 L241.9,399.2 L244.8,399.7 L247.7,400.1 L250.6,400.5 L253.5,400.9 L256.4,401.2 L259.3,401.5 L262.2,401.9 L265,402.3 L267.9,402.7 L270.8,403.1 L273.7,403.5 L276.6,403.9 L279.5,404.3 L282.4,404.8 L285.3,405.1 L288.2,405.5 L291.1,405.8 L294,406.1 L296.9,406.4 L299.8,406.6 L302.7,406.8 L305.6,407 L308.5,407.1 L311.4,407.2 L314.3,407.3 L317.1,407.4 L320,407.5 L322.9,407.6 L325.8,407.7 L328.7,407.8 L331.6,407.9 L334.5,408 L337.4,408 L340.3,408.1 L343.2,408.1 L346.1,408.1 L349,408.1 L351.9,408.1 L354.8,408.2 L357.7,408.3 L360.6,408.4" fill="none" stroke="#B8C2BE" stroke-opacity="0.9" stroke-width="3.4" stroke-linejoin="round" stroke-linecap="round"/>
<g fill="#E12A69" fill-opacity="0.7">
<rect x="141.9" y="406.4" width="7.3" height="4.8"/>
<rect x="149.2" y="403.3" width="7.3" height="7.9"/>
<rect x="156.5" y="379.5" width="7.3" height="31.7"/>
<rect x="163.8" y="366.8" width="21.9" height="44.4"/>
<rect x="185.7" y="379.5" width="29.2" height="31.7"/>
<rect x="214.8" y="376.3" width="7.3" height="34.9"/>
<rect x="222.1" y="395.3" width="7.3" height="15.8"/>
<rect x="229.4" y="403.3" width="7.3" height="7.9"/>
<rect x="236.7" y="406.4" width="29.2" height="4.8"/>
<rect x="265.8" y="403.3" width="7.3" height="7.9"/>
</g>
<g fill="#6E0E78" fill-opacity="0.7">
<rect x="156.5" y="349.4" width="7.3" height="61.8"/>
<rect x="163.8" y="252.7" width="7.3" height="158.5"/>
<rect x="171.1" y="379.5" width="29.2" height="31.7"/>
<rect x="200.2" y="349.4" width="7.3" height="61.8"/>
<rect x="207.5" y="395.3" width="7.3" height="15.8"/>
<rect x="280.4" y="381.1" width="7.3" height="30.1"/>
</g>
<g fill="#499CEC" fill-opacity="0.7">
<rect x="141.9" y="406.4" width="7.3" height="4.8"/>
<rect x="149.2" y="403.3" width="7.3" height="7.9"/>
<rect x="156.5" y="395.3" width="7.3" height="15.8"/>
<rect x="163.8" y="363.6" width="21.9" height="47.5"/>
<rect x="185.7" y="357.3" width="7.3" height="53.9"/>
<rect x="192.9" y="366.8" width="7.3" height="44.4"/>
<rect x="200.2" y="379.5" width="7.3" height="31.7"/>
<rect x="207.5" y="395.3" width="14.6" height="15.8"/>
<rect x="222.1" y="403.3" width="36.4" height="7.9"/>
<rect x="258.5" y="408" width="102" height="3.2"/>
</g>
<g fill="#BCCAC4" fill-opacity="0.7">
<rect x="156.5" y="395.3" width="14.6" height="15.8"/>
<rect x="171.1" y="379.5" width="43.7" height="31.7"/>
<rect x="214.8" y="400.1" width="29.2" height="11.1"/>
<rect x="244" y="395.3" width="7.3" height="15.8"/>
<rect x="258.5" y="395.3" width="14.6" height="15.8"/>
<rect x="287.7" y="395.3" width="7.3" height="15.8"/>
<rect x="316.8" y="395.3" width="7.3" height="15.8"/>
<rect x="353.3" y="395.3" width="7.3" height="15.8"/>
</g>
</g>
<rect x="131" y="244.8" width="240.5" height="174.3" fill="none" stroke="#333835" stroke-width="1.7"/>
<rect x="131" y="223.3" width="240.5" height="21.5" fill="#D3DCD8" stroke="#2E3834" stroke-width="1.7"/>
<text x="241.3" y="239.1" font-size="15.8" fill="#111" stroke="#111" stroke-width="0.55" text-anchor="middle">FFL_type3</text>
<line x1="127.5" y1="294.7" x2="131" y2="294.7" stroke="#333" stroke-width="1.8"/>
<line x1="127.5" y1="353" x2="131" y2="353" stroke="#333" stroke-width="1.8"/>
<line x1="127.5" y1="411" x2="131" y2="411" stroke="#333" stroke-width="1.8"/>
<line x1="138.3" y1="419.1" x2="138.3" y2="422.6" stroke="#333" stroke-width="1.8"/>
<text x="139.7" y="439.7" font-size="15.3" fill="#3d3d3d" stroke="#3d3d3d" stroke-width="0.45" text-anchor="middle">0</text>
<line x1="182" y1="419.1" x2="182" y2="422.6" stroke="#333" stroke-width="1.8"/>
<text x="184.9" y="439.7" font-size="15.3" fill="#3d3d3d" stroke="#3d3d3d" stroke-width="0.45" text-anchor="middle">50</text>
<line x1="225.8" y1="419.1" x2="225.8" y2="422.6" stroke="#333" stroke-width="1.8"/>
<text x="230.1" y="439.7" font-size="15.3" fill="#3d3d3d" stroke="#3d3d3d" stroke-width="0.45" text-anchor="middle">100</text>
<line x1="269.2" y1="419.1" x2="269.2" y2="422.6" stroke="#333" stroke-width="1.8"/>
<text x="273.5" y="439.7" font-size="15.3" fill="#3d3d3d" stroke="#3d3d3d" stroke-width="0.45" text-anchor="middle">150</text>
<line x1="312.8" y1="419.1" x2="312.8" y2="422.6" stroke="#333" stroke-width="1.8"/>
<text x="317.1" y="439.7" font-size="15.3" fill="#3d3d3d" stroke="#3d3d3d" stroke-width="0.45" text-anchor="middle">200</text>
<line x1="356.5" y1="419.1" x2="356.5" y2="422.6" stroke="#333" stroke-width="1.8"/>
<text x="360.8" y="439.7" font-size="15.3" fill="#3d3d3d" stroke="#3d3d3d" stroke-width="0.45" text-anchor="middle">250</text>
<clipPath id="ca11"><rect x="416.5" y="244.8" width="240.2" height="174.3"/></clipPath>
<rect x="416.5" y="244.8" width="240.2" height="174.3" fill="#fff"/>
<g clip-path="url(#ca11)">
<path d="M427.4,403.3 L430.3,399.4 L433.2,394.6 L436.1,388.9 L438.9,382.4 L441.8,375 L444.7,366.7 L447.6,357.8 L450.5,348.7 L453.4,340.2 L456.2,333.2 L459.1,328.2 L462,325.4 L464.9,324.4 L467.8,324.6 L470.7,325.2 L473.5,325.8 L476.4,326.3 L479.3,327 L482.2,328.3 L485.1,330.5 L488,333.5 L490.8,337.1 L493.7,341.3 L496.6,345.7 L499.5,350 L502.4,354.3 L505.3,358.2 L508.1,361.9 L511,365.4 L513.9,368.7 L516.8,372.1 L519.7,375.6 L522.6,379.1 L525.4,382.6 L528.3,385.9 L531.2,389.1 L534.1,392.2 L537,395 L539.9,397.4 L542.7,399.4 L545.6,400.9 L548.5,401.8 L551.4,402.3 L554.3,402.5 L557.2,402.4 L560,402.2 L562.9,402.2 L565.8,402.4 L568.7,403 L571.6,404.1 L574.5,405.5" fill="none" stroke="#E3336E" stroke-opacity="0.9" stroke-width="3.4" stroke-linejoin="round" stroke-linecap="round"/>
<path d="M440.5,369.1 L443.4,355.9 L446.2,343.1 L449,331.9 L451.9,323 L454.7,316.4 L457.5,311.5 L460.3,307.3 L463.2,303.7 L466,300.9 L468.8,300.2 L471.7,302.6 L474.5,308.9 L477.3,318.7 L480.2,330.7 L483,343.3 L485.8,354.7 L488.7,363.6 L491.5,369.2 L494.3,371.4 L497.2,370.8 L500,368.5 L502.8,366 L505.7,364.6 L508.5,365.6 L511.3,369.2 L514.2,375 L517,381.8 L519.8,388.3 L522.7,393.2 L525.5,395.7 L528.3,395.7 L531.2,393.8 L534,390.9 L536.8,388.4 L539.7,387.2 L542.5,388 L545.3,390.7" fill="none" stroke="#6A1470" stroke-opacity="0.9" stroke-width="3.4" stroke-linejoin="round" stroke-linecap="round"/>
<path d="M427.4,403.5 L430.3,399.7 L433.2,394.9 L436,389.2 L438.9,382.7 L441.8,375.8 L444.7,368.6 L447.5,361.4 L450.4,354.2 L453.3,347.3 L456.1,340.7 L459,334.7 L461.9,329.4 L464.8,325.2 L467.6,322.1 L470.5,320.2 L473.4,319 L476.2,318 L479.1,317 L482,316 L484.9,315.5 L487.7,316 L490.6,318.3 L493.5,322.7 L496.3,329.1 L499.2,336.8 L502.1,345.2 L505,353.5 L507.8,361.4 L510.7,368.6 L513.6,375.1 L516.5,380.8 L519.3,385.6 L522.2,389.5 L525.1,392.4 L527.9,394.6 L530.8,396.4 L533.7,397.9 L536.6,399.3 L539.4,400.7 L542.3,402 L545.2,403.2 L548,404.3 L550.9,405.2 L553.8,406 L556.7,406.7 L559.5,407.2 L562.4,407.6 L565.3,407.8 L568.2,407.9 L571,408 L573.9,408 L576.8,408 L579.6,408 L582.5,408 L585.4,408 L588.3,408 L591.1,408 L594,408 L596.9,408 L599.7,408 L602.6,408 L605.5,408 L608.4,408 L611.2,408 L614.1,408 L617,408 L619.9,408.1 L622.7,408.1 L625.6,408.2 L628.5,408.4 L631.3,408.6 L634.2,409 L637.1,409.4 L640,409.8" fill="none" stroke="#4A98E8" stroke-opacity="0.9" stroke-width="3.4" stroke-linejoin="round" stroke-linecap="round"/>
<path d="M433.2,393 L436.1,389.3 L439,385.5 L441.9,381.8 L444.7,378.1 L447.6,374.3 L450.5,370.4 L453.3,366.2 L456.2,361.4 L459.1,356.1 L462,350.2 L464.8,343.8 L467.7,337.3 L470.6,331.1 L473.5,325.6 L476.3,321.3 L479.2,318.6 L482.1,317.6 L484.9,318.6 L487.8,321.4 L490.7,325.8 L493.6,331.3 L496.4,337.4 L499.3,343.7 L502.2,349.7 L505,355.1 L507.9,359.8 L510.8,363.5 L513.7,366.4 L516.5,368.7 L519.4,370.4 L522.3,371.8 L525.2,373.1 L528,374.4 L530.9,375.8 L533.8,377.4 L536.6,379.2 L539.5,381 L542.4,382.9 L545.3,384.7 L548.1,386.4 L551,387.9 L553.9,389.3 L556.7,390.6 L559.6,391.9 L562.5,393.2 L565.4,394.5 L568.2,396.1 L571.1,397.7 L574,399.5 L576.9,401.4 L579.7,403.2 L582.6,404.9 L585.5,406.5 L588.3,407.8 L591.2,408.8 L594.1,409.6 L597,410.2 L599.8,410.5 L602.7,410.7 L605.6,410.8 L608.4,410.8 L611.3,410.6 L614.2,410.3 L617.1,409.8 L619.9,409.1 L622.8,408.2 L625.7,407.2 L628.5,406.1 L631.4,404.9 L634.3,403.8 L637.2,403 L640,402.5 L642.9,402.4 L645.8,402.7" fill="none" stroke="#B8C2BE" stroke-opacity="0.9" stroke-width="3.4" stroke-linejoin="round" stroke-linecap="round"/>
<g fill="#E12A69" fill-opacity="0.7">
<rect x="427.4" y="406.4" width="7.3" height="4.8"/>
<rect x="434.7" y="379.5" width="14.6" height="31.7"/>
<rect x="449.3" y="332" width="7.3" height="79.2"/>
<rect x="456.5" y="303.4" width="7.3" height="107.7"/>
<rect x="463.8" y="332" width="14.6" height="79.2"/>
<rect x="478.4" y="312.9" width="7.3" height="98.2"/>
<rect x="485.6" y="339.9" width="14.6" height="71.3"/>
<rect x="500.2" y="363.6" width="14.6" height="47.5"/>
<rect x="514.8" y="371.6" width="7.3" height="39.6"/>
<rect x="522" y="387.4" width="14.6" height="23.8"/>
<rect x="536.6" y="403.3" width="29.1" height="7.9"/>
<rect x="565.7" y="395.3" width="7.3" height="15.8"/>
</g>
<g fill="#6E0E78" fill-opacity="0.7">
<rect x="442" y="335.1" width="7.3" height="76.1"/>
<rect x="449.3" y="259.1" width="7.3" height="152.1"/>
<rect x="456.5" y="373.1" width="7.3" height="38"/>
<rect x="463.8" y="259.1" width="14.6" height="152.1"/>
<rect x="478.4" y="373.1" width="14.6" height="38"/>
<rect x="500.2" y="335.1" width="14.6" height="76.1"/>
<rect x="536.6" y="335.1" width="7.3" height="76.1"/>
</g>
<g fill="#499CEC" fill-opacity="0.7">
<rect x="427.4" y="404.8" width="7.3" height="6.3"/>
<rect x="434.7" y="387.4" width="7.3" height="23.8"/>
<rect x="442" y="363.6" width="7.3" height="47.5"/>
<rect x="449.3" y="347.8" width="7.3" height="63.4"/>
<rect x="456.5" y="332" width="7.3" height="79.2"/>
<rect x="463.8" y="306.6" width="7.3" height="104.6"/>
<rect x="471.1" y="324" width="14.6" height="87.1"/>
<rect x="485.6" y="293.9" width="7.3" height="117.3"/>
<rect x="492.9" y="320.9" width="7.3" height="90.3"/>
<rect x="500.2" y="363.6" width="14.6" height="47.5"/>
<rect x="514.8" y="395.3" width="21.8" height="15.8"/>
<rect x="536.6" y="403.3" width="14.6" height="7.9"/>
<rect x="551.2" y="408" width="87.3" height="3.2"/>
</g>
<g fill="#BCCAC4" fill-opacity="0.7">
<rect x="434.7" y="371.6" width="36.4" height="39.6"/>
<rect x="471.1" y="252.7" width="7.3" height="158.5"/>
<rect x="478.4" y="332" width="7.3" height="79.2"/>
<rect x="485.6" y="252.7" width="7.3" height="158.5"/>
<rect x="492.9" y="371.6" width="51" height="39.6"/>
<rect x="551.2" y="371.6" width="7.3" height="39.6"/>
<rect x="565.7" y="371.6" width="7.3" height="39.6"/>
<rect x="638.5" y="371.6" width="7.3" height="39.6"/>
</g>
</g>
<rect x="416.5" y="244.8" width="240.2" height="174.3" fill="none" stroke="#333835" stroke-width="1.7"/>
<rect x="416.5" y="223.3" width="240.2" height="21.5" fill="#D3DCD8" stroke="#2E3834" stroke-width="1.7"/>
<text x="526.6" y="239.1" font-size="15.8" fill="#111" stroke="#111" stroke-width="0.55" text-anchor="middle">FFL_type4</text>
<line x1="413" y1="273.3" x2="416.5" y2="273.3" stroke="#333" stroke-width="1.8"/>
<line x1="413" y1="308" x2="416.5" y2="308" stroke="#333" stroke-width="1.8"/>
<line x1="413" y1="342.8" x2="416.5" y2="342.8" stroke="#333" stroke-width="1.8"/>
<line x1="413" y1="377.5" x2="416.5" y2="377.5" stroke="#333" stroke-width="1.8"/>
<line x1="413" y1="411.7" x2="416.5" y2="411.7" stroke="#333" stroke-width="1.8"/>
<line x1="430.8" y1="419.1" x2="430.8" y2="422.6" stroke="#333" stroke-width="1.8"/>
<text x="432.2" y="439.7" font-size="15.3" fill="#3d3d3d" stroke="#3d3d3d" stroke-width="0.45" text-anchor="middle">0</text>
<line x1="474.7" y1="419.1" x2="474.7" y2="422.6" stroke="#333" stroke-width="1.8"/>
<text x="477.6" y="439.7" font-size="15.3" fill="#3d3d3d" stroke="#3d3d3d" stroke-width="0.45" text-anchor="middle">50</text>
<line x1="518.3" y1="419.1" x2="518.3" y2="422.6" stroke="#333" stroke-width="1.8"/>
<text x="522.6" y="439.7" font-size="15.3" fill="#3d3d3d" stroke="#3d3d3d" stroke-width="0.45" text-anchor="middle">100</text>
<line x1="562.2" y1="419.1" x2="562.2" y2="422.6" stroke="#333" stroke-width="1.8"/>
<text x="566.5" y="439.7" font-size="15.3" fill="#3d3d3d" stroke="#3d3d3d" stroke-width="0.45" text-anchor="middle">150</text>
<line x1="606" y1="419.1" x2="606" y2="422.6" stroke="#333" stroke-width="1.8"/>
<text x="610.3" y="439.7" font-size="15.3" fill="#3d3d3d" stroke="#3d3d3d" stroke-width="0.45" text-anchor="middle">200</text>
<line x1="650.3" y1="419.1" x2="650.3" y2="422.6" stroke="#333" stroke-width="1.8"/>
<text x="654.6" y="439.7" font-size="15.3" fill="#3d3d3d" stroke="#3d3d3d" stroke-width="0.45" text-anchor="middle">250</text>
<clipPath id="ca21"><rect x="702" y="244.8" width="240.2" height="174.3"/></clipPath>
<rect x="702" y="244.8" width="240.2" height="174.3" fill="#fff"/>
<g clip-path="url(#ca21)">
<path d="M712.9,406.6 L715.8,404 L718.7,400.3 L721.6,395.3 L724.4,388.7 L727.3,380.8 L730.2,371.9 L733.1,362.6 L736,354 L738.8,346.7 L741.7,341.2 L744.6,337.9 L747.5,336.5 L750.4,336.8 L753.2,338.2 L756.1,340.3 L759,342.8 L761.9,345.5 L764.8,348.1 L767.6,350.6 L770.5,352.8 L773.4,354.8 L776.3,356.7 L779.2,358.7 L782,361 L784.9,363.6 L787.8,366.4 L790.7,369.5 L793.6,372.9 L796.4,376.6 L799.3,380.6 L802.2,384.7 L805.1,388.9 L808,392.9 L810.8,396.5 L813.7,399.4 L816.6,401.8 L819.5,403.6 L822.4,405 L825.2,406 L828.1,406.8 L831,407.5 L833.9,408 L836.8,408.4 L839.6,408.9 L842.5,409.3 L845.4,409.8" fill="none" stroke="#E3336E" stroke-opacity="0.9" stroke-width="3.4" stroke-linejoin="round" stroke-linecap="round"/>
<path d="M712.9,388.9 L715.8,380.6 L718.6,371 L721.5,360.3 L724.4,349 L727.2,337.9 L730.1,328 L733,320.5 L735.8,316.1 L738.7,315.1 L741.6,317 L744.4,321 L747.3,326.1 L750.2,331.6 L753,337 L755.9,342.2 L758.8,347.1 L761.6,351.6 L764.5,355.4 L767.3,358.5 L770.2,360.7 L773.1,362.1 L775.9,363 L778.8,363.6 L781.7,364.3 L784.5,365.3 L787.4,367 L790.3,369.6 L793.1,373.4 L796,378.3 L798.9,384 L801.7,390" fill="none" stroke="#6A1470" stroke-opacity="0.9" stroke-width="3.4" stroke-linejoin="round" stroke-linecap="round"/>
<path d="M712.9,404.7 L715.8,402 L718.7,398.7 L721.5,394.7 L724.4,390.1 L727.3,385.1 L730.2,379.8 L733,374.3 L735.9,368.7 L738.8,363.1 L741.6,357.7 L744.5,352.5 L747.4,347.9 L750.3,343.7 L753.1,340.2 L756,337.5 L758.9,335.5 L761.8,334.3 L764.6,333.8 L767.5,334.2 L770.4,335.5 L773.3,337.5 L776.1,340.3 L779,343.9 L781.9,348.2 L784.7,353 L787.6,358.1 L790.5,363.2 L793.4,368.3 L796.2,373.1 L799.1,377.5 L802,381.5 L804.9,385.2 L807.7,388.6 L810.6,391.9 L813.5,395 L816.4,397.9 L819.2,400.5 L822.1,402.7 L825,404.4 L827.8,405.7 L830.7,406.7 L833.6,407.3 L836.5,407.6 L839.3,407.8 L842.2,407.9 L845.1,408 L848,408 L850.8,408 L853.7,408 L856.6,408 L859.5,408 L862.3,408 L865.2,408 L868.1,408 L870.9,408 L873.8,408 L876.7,408 L879.6,408 L882.4,408 L885.3,408 L888.2,408 L891.1,408 L893.9,408 L896.8,408 L899.7,408 L902.6,408 L905.4,408 L908.3,408 L911.2,408.1 L914,408.2 L916.9,408.3 L919.8,408.4 L922.7,408.6 L925.5,408.9 L928.4,409.2 L931.3,409.6" fill="none" stroke="#4A98E8" stroke-opacity="0.9" stroke-width="3.4" stroke-linejoin="round" stroke-linecap="round"/>
<path d="M733.3,384.9 L736.2,380.6 L739,376.2 L741.9,371.7 L744.8,367.2 L747.6,362.8 L750.5,358.8 L753.4,355.1 L756.3,352 L759.1,349.5 L762,347.7 L764.9,346.7 L767.7,346.6 L770.6,347.3 L773.5,348.9 L776.3,351.2 L779.2,354.1 L782.1,357.6 L784.9,361.5 L787.8,365.5 L790.7,369.7 L793.6,373.9 L796.4,377.8 L799.3,381.6 L802.2,385 L805,388.1 L807.9,390.8 L810.8,393.1 L813.6,395 L816.5,396.5 L819.4,397.6 L822.2,398.3 L825.1,398.7 L828,398.9 L830.9,398.8 L833.7,398.5 L836.6,398.1 L839.5,397.7 L842.3,397.1 L845.2,396.6 L848.1,396.1 L850.9,395.6 L853.8,395.2 L856.7,394.8 L859.5,394.6 L862.4,394.5 L865.3,394.4 L868.2,394.6 L871,394.9 L873.9,395.4 L876.8,396 L879.6,396.8 L882.5,397.8 L885.4,398.9 L888.2,400 L891.1,401.2 L894,402.3 L896.9,403.4 L899.7,404.3 L902.6,405.1 L905.5,405.6 L908.3,406.1 L911.2,406.4 L914.1,406.5 L916.9,406.6 L919.8,406.6 L922.7,406.6 L925.5,406.6 L928.4,406.7 L931.3,406.9" fill="none" stroke="#B8C2BE" stroke-opacity="0.9" stroke-width="3.4" stroke-linejoin="round" stroke-linecap="round"/>
<g fill="#E12A69" fill-opacity="0.7">
<rect x="712.9" y="406.4" width="7.3" height="4.8"/>
<rect x="720.2" y="403.3" width="7.3" height="7.9"/>
<rect x="727.5" y="371.6" width="7.3" height="39.6"/>
<rect x="734.8" y="332" width="7.3" height="79.2"/>
<rect x="742" y="325.6" width="7.3" height="85.6"/>
<rect x="749.3" y="339.9" width="14.6" height="71.3"/>
<rect x="763.9" y="355.7" width="21.8" height="55.5"/>
<rect x="785.7" y="371.6" width="14.6" height="39.6"/>
<rect x="800.3" y="387.4" width="7.3" height="23.8"/>
<rect x="807.5" y="403.3" width="14.6" height="7.9"/>
<rect x="822.1" y="408" width="21.8" height="3.2"/>
</g>
<g fill="#6E0E78" fill-opacity="0.7">
<rect x="712.9" y="379.5" width="7.3" height="31.7"/>
<rect x="720.2" y="363.6" width="7.3" height="47.5"/>
<rect x="727.5" y="311.4" width="7.3" height="99.8"/>
<rect x="734.8" y="260.6" width="7.3" height="150.5"/>
<rect x="742" y="363.6" width="7.3" height="47.5"/>
<rect x="749.3" y="311.4" width="7.3" height="99.8"/>
<rect x="756.6" y="363.6" width="36.4" height="47.5"/>
<rect x="793" y="362.1" width="7.3" height="49.1"/>
</g>
<g fill="#499CEC" fill-opacity="0.7">
<rect x="712.9" y="406.4" width="7.3" height="4.8"/>
<rect x="720.2" y="398.5" width="7.3" height="12.7"/>
<rect x="727.5" y="371.6" width="14.6" height="39.6"/>
<rect x="742" y="339.9" width="14.6" height="71.3"/>
<rect x="756.6" y="325.6" width="7.3" height="85.6"/>
<rect x="763.9" y="332" width="14.6" height="79.2"/>
<rect x="778.4" y="341.5" width="7.3" height="69.7"/>
<rect x="785.7" y="363.6" width="7.3" height="47.5"/>
<rect x="793" y="379.5" width="7.3" height="31.7"/>
<rect x="800.3" y="387.4" width="7.3" height="23.8"/>
<rect x="807.5" y="385.8" width="7.3" height="25.4"/>
<rect x="814.8" y="408" width="116.5" height="3.2"/>
</g>
<g fill="#BCCAC4" fill-opacity="0.7">
<rect x="734.8" y="360.5" width="29.1" height="50.7"/>
<rect x="763.9" y="252.7" width="7.3" height="158.5"/>
<rect x="771.1" y="360.5" width="21.8" height="50.7"/>
<rect x="793" y="395.3" width="21.8" height="15.8"/>
<rect x="829.4" y="385.8" width="7.3" height="25.4"/>
<rect x="843.9" y="385.8" width="14.6" height="25.4"/>
<rect x="865.8" y="385.8" width="21.8" height="25.4"/>
<rect x="924" y="385.8" width="7.3" height="25.4"/>
</g>
</g>
<rect x="702" y="244.8" width="240.2" height="174.3" fill="none" stroke="#333835" stroke-width="1.7"/>
<rect x="702" y="223.3" width="240.2" height="21.5" fill="#D3DCD8" stroke="#2E3834" stroke-width="1.7"/>
<text x="812.1" y="239.1" font-size="15.8" fill="#111" stroke="#111" stroke-width="0.55" text-anchor="middle">FFL_type5</text>
<line x1="698.5" y1="244.4" x2="702" y2="244.4" stroke="#333" stroke-width="1.8"/>
<line x1="698.5" y1="278.2" x2="702" y2="278.2" stroke="#333" stroke-width="1.8"/>
<line x1="698.5" y1="311.3" x2="702" y2="311.3" stroke="#333" stroke-width="1.8"/>
<line x1="698.5" y1="344.4" x2="702" y2="344.4" stroke="#333" stroke-width="1.8"/>
<line x1="698.5" y1="377.5" x2="702" y2="377.5" stroke="#333" stroke-width="1.8"/>
<line x1="698.5" y1="410.6" x2="702" y2="410.6" stroke="#333" stroke-width="1.8"/>
<line x1="716.7" y1="419.1" x2="716.7" y2="422.6" stroke="#333" stroke-width="1.8"/>
<text x="718.1" y="439.7" font-size="15.3" fill="#3d3d3d" stroke="#3d3d3d" stroke-width="0.45" text-anchor="middle">0</text>
<line x1="777.5" y1="419.1" x2="777.5" y2="422.6" stroke="#333" stroke-width="1.8"/>
<text x="781.8" y="439.7" font-size="15.3" fill="#3d3d3d" stroke="#3d3d3d" stroke-width="0.45" text-anchor="middle">100</text>
<line x1="838.2" y1="419.1" x2="838.2" y2="422.6" stroke="#333" stroke-width="1.8"/>
<text x="842.5" y="439.7" font-size="15.3" fill="#3d3d3d" stroke="#3d3d3d" stroke-width="0.45" text-anchor="middle">200</text>
<line x1="899.5" y1="419.1" x2="899.5" y2="422.6" stroke="#333" stroke-width="1.8"/>
<text x="903.8" y="439.7" font-size="15.3" fill="#3d3d3d" stroke="#3d3d3d" stroke-width="0.45" text-anchor="middle">300</text>
<clipPath id="ca31"><rect x="978" y="244.8" width="240" height="174.3"/></clipPath>
<rect x="978" y="244.8" width="240" height="174.3" fill="#fff"/>
<g clip-path="url(#ca31)">
<path d="M988.9,397.3 L991.8,391.5 L994.6,384.7 L997.5,377.1 L1000.4,369.2 L1003.3,361.5 L1006.1,354.6 L1009,349 L1011.9,344.8 L1014.7,342 L1017.6,340.4 L1020.5,339.8 L1023.4,340 L1026.2,340.9 L1029.1,342.6 L1032,345.2 L1034.8,348.7 L1037.7,353.3 L1040.6,358.7 L1043.5,364.6 L1046.3,370.7 L1049.2,376.2 L1052.1,380.9 L1054.9,384.4 L1057.8,386.5 L1060.7,387.1 L1063.5,386.5 L1066.4,385 L1069.3,382.8 L1072.2,380.6 L1075,378.9 L1077.9,378.1 L1080.8,378.4 L1083.6,379.9 L1086.5,382.5 L1089.4,385.9 L1092.3,389.5 L1095.1,393 L1098,396.1 L1100.9,398.5 L1103.7,400.4 L1106.6,401.7 L1109.5,402.7 L1112.4,403.4 L1115.2,404 L1118.1,404.7 L1121,405.4 L1123.8,406.2 L1126.7,407.1 L1129.6,408 L1132.5,408.8 L1135.3,409.5 L1138.2,410.1 L1141.1,410.5 L1143.9,410.7 L1146.8,410.9 L1149.7,410.9 L1152.5,410.9 L1155.4,410.7 L1158.3,410.5 L1161.2,410.2 L1164,409.8 L1166.9,409.5 L1169.8,409.2 L1172.6,409 L1175.5,408.9 L1178.4,409 L1181.3,409.2 L1184.1,409.4 L1187,409.6 L1189.9,409.7 L1192.7,409.7 L1195.6,409.6 L1198.5,409.5 L1201.4,409.4 L1204.2,409.4 L1207.1,409.5" fill="none" stroke="#E3336E" stroke-opacity="0.9" stroke-width="3.4" stroke-linejoin="round" stroke-linecap="round"/>
<path d="M988.9,375.6 L991.8,368.4 L994.7,362 L997.5,356.6 L1000.4,352.7 L1003.3,350.1 L1006.1,348.7 L1009,347.9 L1011.9,347.1 L1014.8,345.9 L1017.6,344.1 L1020.5,341.6 L1023.4,338.6 L1026.3,335.7 L1029.1,333.3 L1032,331.9 L1034.9,331.9 L1037.8,333.6 L1040.6,337 L1043.5,341.9 L1046.4,347.9 L1049.3,354.6 L1052.1,361.3 L1055,367.4 L1057.9,372.4 L1060.7,376 L1063.6,377.8 L1066.5,378.1 L1069.4,377 L1072.2,375 L1075.1,372.5 L1078,370.1 L1080.9,368.2 L1083.7,367.2 L1086.6,367.2 L1089.5,368.2 L1092.4,370.1 L1095.2,372.9 L1098.1,376.2 L1101,380.1 L1103.9,384.2 L1106.7,388.4" fill="none" stroke="#6A1470" stroke-opacity="0.9" stroke-width="3.4" stroke-linejoin="round" stroke-linecap="round"/>
<path d="M988.9,391.9 L991.8,383.8 L994.6,374.8 L997.5,365.5 L1000.4,356.7 L1003.3,348.6 L1006.1,341.2 L1009,334.1 L1011.9,327.1 L1014.7,320.6 L1017.6,315.2 L1020.5,312 L1023.4,311.7 L1026.2,314.5 L1029.1,319.9 L1032,326.9 L1034.8,334.8 L1037.7,342.8 L1040.6,350.3 L1043.5,356.9 L1046.3,361.9 L1049.2,365.3 L1052.1,366.9 L1054.9,367.3 L1057.8,367.2 L1060.7,367.2 L1063.5,368 L1066.4,369.6 L1069.3,372 L1072.2,374.9 L1075,378 L1077.9,381.2 L1080.8,384.3 L1083.6,387.4 L1086.5,390.4 L1089.4,393.3 L1092.3,396.1 L1095.1,398.6 L1098,401 L1100.9,403 L1103.7,404.7 L1106.6,406 L1109.5,406.9 L1112.4,407.4 L1115.2,407.7 L1118.1,407.9 L1121,408 L1123.8,408 L1126.7,408 L1129.6,408 L1132.5,408 L1135.3,408 L1138.2,408 L1141.1,408 L1143.9,408 L1146.8,408 L1149.7,408 L1152.5,408 L1155.4,408 L1158.3,408 L1161.2,408 L1164,408 L1166.9,408 L1169.8,408 L1172.6,408 L1175.5,408 L1178.4,408 L1181.3,408 L1184.1,408 L1187,408 L1189.9,408.1 L1192.7,408.2 L1195.6,408.3 L1198.5,408.5 L1201.4,408.8 L1204.2,409.2 L1207.1,409.6" fill="none" stroke="#4A98E8" stroke-opacity="0.9" stroke-width="3.4" stroke-linejoin="round" stroke-linecap="round"/>
<path d="M994.7,370.6 L997.6,359.7 L1000.5,348.1 L1003.4,336.5 L1006.3,325.7 L1009.2,316.2 L1012,308.6 L1014.9,303.2 L1017.8,300.1 L1020.7,299.2 L1023.6,300.3 L1026.5,303.2 L1029.4,307.7 L1032.2,313.5 L1035.1,320.2 L1038,327.4 L1040.9,334.9 L1043.8,342.2 L1046.7,348.9 L1049.6,354.6 L1052.5,359.2 L1055.3,362.6 L1058.2,364.8 L1061.1,366.2 L1064,367 L1066.9,367.4 L1069.8,367.8 L1072.7,368.5 L1075.5,369.4 L1078.4,370.9 L1081.3,372.7 L1084.2,375.1 L1087.1,377.9 L1090,381 L1092.9,384.5 L1095.7,388.2 L1098.6,391.9 L1101.5,395.5 L1104.4,398.8 L1107.3,401.8 L1110.2,404.3 L1113.1,406.3 L1116,407.9 L1118.8,409 L1121.7,409.7 L1124.6,410.2 L1127.5,410.3 L1130.4,410.2 L1133.3,409.9 L1136.2,409.4 L1139,408.5 L1141.9,407.5 L1144.8,406.1 L1147.7,404.6 L1150.6,403 L1153.5,401.3 L1156.4,399.8 L1159.3,398.4 L1162.1,397.4 L1165,396.9 L1167.9,396.8 L1170.8,397.1 L1173.7,398 L1176.6,399.2 L1179.5,400.6" fill="none" stroke="#B8C2BE" stroke-opacity="0.9" stroke-width="3.4" stroke-linejoin="round" stroke-linecap="round"/>
<g fill="#E12A69" fill-opacity="0.7">
<rect x="988.9" y="403.3" width="7.3" height="7.9"/>
<rect x="996.2" y="379.5" width="7.3" height="31.7"/>
<rect x="1003.5" y="320.9" width="7.3" height="90.3"/>
<rect x="1010.7" y="339.9" width="21.8" height="71.3"/>
<rect x="1032.5" y="332" width="7.3" height="79.2"/>
<rect x="1039.8" y="363.6" width="7.3" height="47.5"/>
<rect x="1047.1" y="395.3" width="21.8" height="15.8"/>
<rect x="1068.9" y="379.5" width="7.3" height="31.7"/>
<rect x="1076.2" y="354.1" width="7.3" height="57"/>
<rect x="1083.5" y="379.5" width="7.3" height="31.7"/>
<rect x="1090.7" y="403.3" width="36.4" height="7.9"/>
<rect x="1170.7" y="403.3" width="7.3" height="7.9"/>
<rect x="1199.8" y="404.8" width="7.3" height="6.3"/>
</g>
<g fill="#6E0E78" fill-opacity="0.7">
<rect x="988.9" y="379.5" width="7.3" height="31.7"/>
<rect x="996.2" y="260.6" width="7.3" height="150.5"/>
<rect x="1003.5" y="373.1" width="21.8" height="38"/>
<rect x="1025.3" y="260.6" width="7.3" height="150.5"/>
<rect x="1032.5" y="373.1" width="7.3" height="38"/>
<rect x="1039.8" y="260.6" width="7.3" height="150.5"/>
<rect x="1047.1" y="395.3" width="29.1" height="15.8"/>
<rect x="1076.2" y="336.7" width="14.5" height="74.5"/>
<rect x="1098" y="336.7" width="7.3" height="74.5"/>
</g>
<g fill="#499CEC" fill-opacity="0.7">
<rect x="988.9" y="393.7" width="7.3" height="17.4"/>
<rect x="996.2" y="339.9" width="21.8" height="71.3"/>
<rect x="1018" y="260.6" width="7.3" height="150.5"/>
<rect x="1025.3" y="332" width="14.5" height="79.2"/>
<rect x="1039.8" y="363.6" width="7.3" height="47.5"/>
<rect x="1047.1" y="387.4" width="7.3" height="23.8"/>
<rect x="1054.4" y="354.1" width="7.3" height="57"/>
<rect x="1061.6" y="363.6" width="7.3" height="47.5"/>
<rect x="1068.9" y="379.5" width="14.5" height="31.7"/>
<rect x="1083.5" y="395.3" width="14.5" height="15.8"/>
<rect x="1098" y="408" width="109.1" height="3.2"/>
</g>
<g fill="#BCCAC4" fill-opacity="0.7">
<rect x="996.2" y="395.3" width="7.3" height="15.8"/>
<rect x="1003.5" y="252.7" width="14.5" height="158.5"/>
<rect x="1018" y="332" width="7.3" height="79.2"/>
<rect x="1025.3" y="252.7" width="7.3" height="158.5"/>
<rect x="1032.5" y="332" width="14.5" height="79.2"/>
<rect x="1047.1" y="395.3" width="14.5" height="15.8"/>
<rect x="1061.6" y="333.5" width="7.3" height="77.6"/>
<rect x="1068.9" y="371.6" width="29.1" height="39.6"/>
<rect x="1156.2" y="373.1" width="7.3" height="38"/>
<rect x="1170.7" y="373.1" width="7.3" height="38"/>
</g>
</g>
<rect x="978" y="244.8" width="240" height="174.3" fill="none" stroke="#333835" stroke-width="1.7"/>
<rect x="978" y="223.3" width="240" height="21.5" fill="#D3DCD8" stroke="#2E3834" stroke-width="1.7"/>
<text x="1088" y="239.1" font-size="15.8" fill="#111" stroke="#111" stroke-width="0.55" text-anchor="middle">FFL_type6</text>
<line x1="974.5" y1="257.8" x2="978" y2="257.8" stroke="#333" stroke-width="1.8"/>
<line x1="974.5" y1="295.5" x2="978" y2="295.5" stroke="#333" stroke-width="1.8"/>
<line x1="974.5" y1="334.4" x2="978" y2="334.4" stroke="#333" stroke-width="1.8"/>
<line x1="974.5" y1="372.8" x2="978" y2="372.8" stroke="#333" stroke-width="1.8"/>
<line x1="974.5" y1="410.8" x2="978" y2="410.8" stroke="#333" stroke-width="1.8"/>
<line x1="985.2" y1="419.1" x2="985.2" y2="422.6" stroke="#333" stroke-width="1.8"/>
<text x="986.6" y="439.7" font-size="15.3" fill="#3d3d3d" stroke="#3d3d3d" stroke-width="0.45" text-anchor="middle">0</text>
<line x1="1063.3" y1="419.1" x2="1063.3" y2="422.6" stroke="#333" stroke-width="1.8"/>
<text x="1066.2" y="439.7" font-size="15.3" fill="#3d3d3d" stroke="#3d3d3d" stroke-width="0.45" text-anchor="middle">50</text>
<line x1="1141.4" y1="419.1" x2="1141.4" y2="422.6" stroke="#333" stroke-width="1.8"/>
<text x="1145.7" y="439.7" font-size="15.3" fill="#3d3d3d" stroke="#3d3d3d" stroke-width="0.45" text-anchor="middle">100</text>
<clipPath id="ca02"><rect x="131" y="465.9" width="240.5" height="174.3"/></clipPath>
<rect x="131" y="465.9" width="240.5" height="174.3" fill="#fff"/>
<g clip-path="url(#ca02)">
<path d="M141.9,626.2 L144.8,622.9 L147.7,618.3 L150.6,612.5 L153.4,605.5 L156.3,597.6 L159.2,589.4 L162.1,581.4 L165,574.4 L167.8,568.9 L170.7,565.1 L173.6,562.8 L176.5,561.7 L179.4,561.6 L182.2,562.2 L185.1,563.2 L188,564.6 L190.9,566.1 L193.8,567.7 L196.6,569.4 L199.5,571.2 L202.4,573.3 L205.3,576.1 L208.2,579.7 L211,584.1 L213.9,589 L216.8,594.3 L219.7,599.6 L222.6,604.7 L225.4,609.5 L228.3,613.9 L231.2,617.8 L234.1,621 L237,623.7 L239.8,625.7 L242.7,627.2 L245.6,628.2 L248.5,628.9 L251.4,629.5 L254.2,630 L257.1,630.4 L260,630.9" fill="none" stroke="#E3336E" stroke-opacity="0.9" stroke-width="3.4" stroke-linejoin="round" stroke-linecap="round"/>
<path d="M141.9,607.2 L144.8,596.9 L147.6,584.4 L150.5,570.2 L153.4,555.1 L156.2,540.7 L159.1,528.7 L161.9,520.8 L164.8,517.8 L167.7,519.8 L170.5,525.9 L173.4,534.4 L176.2,543.4 L179.1,551.4 L182,557.5 L184.8,561.3 L187.7,563 L190.5,563 L193.4,562 L196.3,560.7 L199.1,560.1 L202,561.2 L204.8,564.6 L207.7,570.7 L210.5,579.1 L213.4,589.1 L216.3,599.3" fill="none" stroke="#6A1470" stroke-opacity="0.9" stroke-width="3.4" stroke-linejoin="round" stroke-linecap="round"/>
<path d="M141.9,627 L144.8,624.4 L147.7,621 L150.6,617 L153.4,612.2 L156.3,606.8 L159.2,600.7 L162.1,594.1 L164.9,587.1 L167.8,579.8 L170.7,572.5 L173.6,565.5 L176.5,559.1 L179.3,553.5 L182.2,549 L185.1,545.9 L188,544.8 L190.8,545.9 L193.7,549.4 L196.6,555 L199.5,562.1 L202.3,570 L205.2,577.8 L208.1,585.2 L211,591.8 L213.9,597.7 L216.7,603 L219.6,607.6 L222.5,611.6 L225.4,614.9 L228.2,617.6 L231.1,619.8 L234,621.5 L236.9,622.9 L239.7,624.1 L242.6,625.3 L245.5,626.3 L248.4,627.1 L251.2,627.9 L254.1,628.4 L257,628.7 L259.9,628.9 L262.8,629 L265.6,629.1 L268.5,629.1 L271.4,629.1 L274.3,629.1 L277.1,629.1 L280,629.1 L282.9,629.1 L285.8,629.1 L288.6,629.1 L291.5,629.1 L294.4,629.1 L297.3,629.1 L300.2,629.1 L303,629.1 L305.9,629.1 L308.8,629.1 L311.7,629.1 L314.5,629.1 L317.4,629.1 L320.3,629.1 L323.2,629.1 L326,629.1 L328.9,629.1 L331.8,629.1 L334.7,629.1 L337.6,629.1 L340.4,629.1 L343.3,629.2 L346.2,629.3 L349.1,629.4 L351.9,629.6 L354.8,629.9 L357.7,630.3 L360.6,630.7" fill="none" stroke="#4A98E8" stroke-opacity="0.9" stroke-width="3.4" stroke-linejoin="round" stroke-linecap="round"/>
<path d="M162.3,601.5 L165.2,596.6 L168.1,591.5 L171,586.5 L173.8,581.6 L176.7,577.2 L179.6,573.2 L182.4,569.9 L185.3,567.3 L188.2,565.5 L191.1,564.7 L193.9,564.7 L196.8,565.7 L199.7,567.6 L202.6,570.2 L205.4,573.5 L208.3,577.4 L211.2,581.8 L214,586.4 L216.9,591.1 L219.8,595.9 L222.7,600.5 L225.5,604.9 L228.4,609 L231.3,612.7 L234.2,615.9 L237,618.6 L239.9,620.8 L242.8,622.3 L245.7,623.2 L248.5,623.6 L251.4,623.3 L254.3,622.6 L257.1,621.3 L260,619.6 L262.9,617.7 L265.8,615.5 L268.6,613.4 L271.5,611.3 L274.4,609.6 L277.3,608.2 L280.1,607.3 L283,606.9 L285.9,607.2 L288.7,608 L291.6,609.2 L294.5,610.9 L297.4,612.9 L300.2,615.1 L303.1,617.4 L306,619.6 L308.9,621.7 L311.7,623.6 L314.6,625.2 L317.5,626.6 L320.3,627.7 L323.2,628.5 L326.1,629.1 L329,629.4 L331.8,629.5 L334.7,629.5 L337.6,629.3 L340.5,629.1 L343.3,628.7 L346.2,628.4 L349.1,628.1 L352,627.9 L354.8,627.8 L357.7,627.8 L360.6,627.9" fill="none" stroke="#B8C2BE" stroke-opacity="0.9" stroke-width="3.4" stroke-linejoin="round" stroke-linecap="round"/>
<g fill="#E12A69" fill-opacity="0.7">
<rect x="141.9" y="627.5" width="7.3" height="4.8"/>
<rect x="149.2" y="616.4" width="7.3" height="15.8"/>
<rect x="156.5" y="584.7" width="7.3" height="47.5"/>
<rect x="163.8" y="553.1" width="7.3" height="79.2"/>
<rect x="171.1" y="561" width="21.9" height="71.3"/>
<rect x="192.9" y="576.8" width="7.3" height="55.5"/>
<rect x="200.2" y="564.1" width="7.3" height="68.1"/>
<rect x="207.5" y="581.6" width="7.3" height="50.7"/>
<rect x="214.8" y="600.6" width="7.3" height="31.7"/>
<rect x="222.1" y="610.1" width="7.3" height="22.2"/>
<rect x="229.4" y="624.4" width="7.3" height="7.9"/>
<rect x="236.7" y="629.1" width="21.9" height="3.2"/>
</g>
<g fill="#6E0E78" fill-opacity="0.7">
<rect x="141.9" y="600.6" width="7.3" height="31.7"/>
<rect x="149.2" y="584.7" width="7.3" height="47.5"/>
<rect x="156.5" y="473.8" width="14.6" height="158.5"/>
<rect x="171.1" y="568.9" width="29.2" height="63.4"/>
<rect x="200.2" y="527.7" width="7.3" height="104.6"/>
<rect x="207.5" y="568.9" width="7.3" height="63.4"/>
</g>
<g fill="#499CEC" fill-opacity="0.7">
<rect x="141.9" y="627.5" width="7.3" height="4.8"/>
<rect x="149.2" y="616.4" width="7.3" height="15.8"/>
<rect x="156.5" y="600.6" width="7.3" height="31.7"/>
<rect x="163.8" y="584.7" width="7.3" height="47.5"/>
<rect x="171.1" y="553.1" width="14.6" height="79.2"/>
<rect x="185.7" y="522.9" width="7.3" height="109.3"/>
<rect x="192.9" y="545.1" width="7.3" height="87.2"/>
<rect x="200.2" y="584.7" width="7.3" height="47.5"/>
<rect x="207.5" y="592.7" width="7.3" height="39.6"/>
<rect x="214.8" y="608.5" width="7.3" height="23.8"/>
<rect x="222.1" y="619.6" width="7.3" height="12.7"/>
<rect x="229.4" y="622.8" width="14.6" height="9.5"/>
<rect x="244" y="629.1" width="116.6" height="3.2"/>
</g>
<g fill="#BCCAC4" fill-opacity="0.7">
<rect x="163.8" y="584.7" width="7.3" height="47.5"/>
<rect x="171.1" y="561" width="21.9" height="71.3"/>
<rect x="192.9" y="494.4" width="7.3" height="137.9"/>
<rect x="200.2" y="584.7" width="21.9" height="47.5"/>
<rect x="222.1" y="616.4" width="7.3" height="15.8"/>
<rect x="273.1" y="576.8" width="7.3" height="55.5"/>
<rect x="280.4" y="549.9" width="7.3" height="82.4"/>
<rect x="295" y="605.3" width="7.3" height="26.9"/>
<rect x="353.3" y="605.3" width="7.3" height="26.9"/>
</g>
</g>
<rect x="131" y="465.9" width="240.5" height="174.3" fill="none" stroke="#333835" stroke-width="1.7"/>
<rect x="131" y="444.4" width="240.5" height="21.5" fill="#D3DCD8" stroke="#2E3834" stroke-width="1.7"/>
<text x="241.3" y="460.2" font-size="15.8" fill="#111" stroke="#111" stroke-width="0.55" text-anchor="middle">FFL_type7</text>
<line x1="127.5" y1="468.6" x2="131" y2="468.6" stroke="#333" stroke-width="1.8"/>
<line x1="127.5" y1="509.5" x2="131" y2="509.5" stroke="#333" stroke-width="1.8"/>
<line x1="127.5" y1="550.5" x2="131" y2="550.5" stroke="#333" stroke-width="1.8"/>
<line x1="127.5" y1="591.6" x2="131" y2="591.6" stroke="#333" stroke-width="1.8"/>
<line x1="127.5" y1="632" x2="131" y2="632" stroke="#333" stroke-width="1.8"/>
<line x1="145.7" y1="640.2" x2="145.7" y2="643.7" stroke="#333" stroke-width="1.8"/>
<text x="147.1" y="660.8" font-size="15.3" fill="#3d3d3d" stroke="#3d3d3d" stroke-width="0.45" text-anchor="middle">0</text>
<line x1="198.1" y1="640.2" x2="198.1" y2="643.7" stroke="#333" stroke-width="1.8"/>
<text x="202.4" y="660.8" font-size="15.3" fill="#3d3d3d" stroke="#3d3d3d" stroke-width="0.45" text-anchor="middle">100</text>
<line x1="249.9" y1="640.2" x2="249.9" y2="643.7" stroke="#333" stroke-width="1.8"/>
<text x="254.2" y="660.8" font-size="15.3" fill="#3d3d3d" stroke="#3d3d3d" stroke-width="0.45" text-anchor="middle">200</text>
<line x1="301.8" y1="640.2" x2="301.8" y2="643.7" stroke="#333" stroke-width="1.8"/>
<text x="306.1" y="660.8" font-size="15.3" fill="#3d3d3d" stroke="#3d3d3d" stroke-width="0.45" text-anchor="middle">300</text>
<line x1="354" y1="640.2" x2="354" y2="643.7" stroke="#333" stroke-width="1.8"/>
<text x="358.3" y="660.8" font-size="15.3" fill="#3d3d3d" stroke="#3d3d3d" stroke-width="0.45" text-anchor="middle">400</text>
<clipPath id="ca12"><rect x="416.5" y="465.9" width="240.2" height="174.3"/></clipPath>
<rect x="416.5" y="465.9" width="240.2" height="174.3" fill="#fff"/>
<g clip-path="url(#ca12)">
<path d="M427.4,621.2 L430.2,615.5 L433.1,608.5 L435.9,600.3 L438.7,591.1 L441.5,581.3 L444.4,571.2 L447.2,561.6 L450,553.1 L452.9,546.6 L455.7,542.6 L458.5,541.1 L461.3,541.7 L464.2,543.7 L467,546.6 L469.8,550 L472.6,553.9 L475.5,558.2 L478.3,562.9 L481.1,567.8 L483.9,573 L486.8,578.1 L489.6,583 L492.4,587.6 L495.2,591.9 L498.1,595.8 L500.9,599.5 L503.7,603 L506.5,606.4 L509.4,609.8 L512.2,613.4 L515,617.1 L517.8,620.7 L520.7,624 L523.5,626.7" fill="none" stroke="#E3336E" stroke-opacity="0.9" stroke-width="3.4" stroke-linejoin="round" stroke-linecap="round"/>
<path d="M427.4,610.5 L430.2,600.9 L433,589.3 L435.9,576.2 L438.7,562.6 L441.5,550.5 L444.3,541.5 L447.1,536.9 L449.9,536.4 L452.7,538.9 L455.5,542.8 L458.3,546.9 L461.2,550.7 L464,554 L466.8,556.6 L469.6,558.1 L472.4,558.6 L475.2,558.5 L478,558.7 L480.8,560.4 L483.6,564.2 L486.5,569.9 L489.3,576.5 L492.1,582.8 L494.9,588.2 L497.7,592.5 L500.5,596.6 L503.3,601.1 L506.1,606.5 L508.9,612.5" fill="none" stroke="#6A1470" stroke-opacity="0.9" stroke-width="3.4" stroke-linejoin="round" stroke-linecap="round"/>
<path d="M427.4,625.6 L430.3,621.9 L433.2,616.9 L436,610.1 L438.9,601.5 L441.8,591.2 L444.7,579.5 L447.5,567.4 L450.4,556 L453.3,546.5 L456.1,539.7 L459,535.8 L461.9,534.9 L464.8,536.5 L467.6,539.7 L470.5,544.1 L473.4,549.1 L476.3,554.5 L479.1,560.2 L482,566.3 L484.9,572.6 L487.8,579.1 L490.6,585.7 L493.5,592 L496.4,597.9 L499.2,603.3 L502.1,607.9 L505,612 L507.9,615.4 L510.7,618.4 L513.6,621.1 L516.5,623.3 L519.4,625.2 L522.2,626.6 L525.1,627.7 L528,628.3 L530.9,628.7 L533.7,628.9 L536.6,629 L539.5,629.1 L542.3,629.1 L545.2,629.1 L548.1,629.1 L551,629.1 L553.8,629.1 L556.7,629.1 L559.6,629.1 L562.5,629.1 L565.3,629.1 L568.2,629.1 L571.1,629.1 L574,629.1 L576.8,629.1 L579.7,629.1 L582.6,629.1 L585.4,629.1 L588.3,629.1 L591.2,629.1 L594.1,629.1 L596.9,629.1 L599.8,629.1 L602.7,629.1 L605.6,629.1 L608.4,629.1 L611.3,629.1 L614.2,629.1 L617.1,629.1 L619.9,629.1 L622.8,629.1 L625.7,629.1 L628.5,629.2 L631.4,629.3 L634.3,629.4 L637.2,629.6 L640,629.9 L642.9,630.3 L645.8,630.7" fill="none" stroke="#4A98E8" stroke-opacity="0.9" stroke-width="3.4" stroke-linejoin="round" stroke-linecap="round"/>
<path d="M440.5,596.3 L443.4,590.2 L446.3,584 L449.2,578 L452.1,572.4 L455,567.4 L457.9,563.2 L460.8,560 L463.6,557.9 L466.5,556.9 L469.4,557.1 L472.3,558.5 L475.2,561 L478.1,564.3 L481,568.4 L483.9,573.1 L486.8,578.2 L489.7,583.4 L492.6,588.6 L495.4,593.6 L498.3,598.2 L501.2,602.3 L504.1,605.8 L507,608.6 L509.9,610.7 L512.8,612.1 L515.7,612.8 L518.6,612.9 L521.5,612.5 L524.4,611.7 L527.3,610.8 L530.1,609.7 L533,608.7 L535.9,607.9 L538.8,607.2 L541.7,606.9 L544.6,606.9 L547.5,607.2 L550.4,607.8 L553.3,608.8 L556.2,610 L559.1,611.5 L561.9,613.1 L564.8,614.9 L567.7,616.7 L570.6,618.6 L573.5,620.4 L576.4,622.2 L579.3,623.8 L582.2,625.3 L585.1,626.7 L588,627.8 L590.9,628.8 L593.7,629.6 L596.6,630.2 L599.5,630.6 L602.4,630.9 L605.3,631.1 L608.2,631.1 L611.1,631 L614,630.9 L616.9,630.6 L619.8,630.2 L622.7,629.8 L625.5,629.4 L628.4,629 L631.3,628.6 L634.2,628.2 L637.1,628 L640,627.8 L642.9,627.8 L645.8,627.9" fill="none" stroke="#B8C2BE" stroke-opacity="0.9" stroke-width="3.4" stroke-linejoin="round" stroke-linecap="round"/>
<g fill="#E12A69" fill-opacity="0.7">
<rect x="427.4" y="627.5" width="7.3" height="4.8"/>
<rect x="434.7" y="584.7" width="14.6" height="47.5"/>
<rect x="449.3" y="507.1" width="7.3" height="125.2"/>
<rect x="456.5" y="545.1" width="14.6" height="87.2"/>
<rect x="471.1" y="553.1" width="7.3" height="79.2"/>
<rect x="478.4" y="568.9" width="7.3" height="63.4"/>
<rect x="485.6" y="586.3" width="7.3" height="46"/>
<rect x="492.9" y="592.7" width="7.3" height="39.6"/>
<rect x="500.2" y="608.5" width="7.3" height="23.8"/>
<rect x="507.5" y="603.8" width="7.3" height="28.5"/>
<rect x="514.8" y="627.5" width="7.3" height="4.8"/>
</g>
<g fill="#6E0E78" fill-opacity="0.7">
<rect x="427.4" y="600.6" width="7.3" height="31.7"/>
<rect x="434.7" y="584.7" width="7.3" height="47.5"/>
<rect x="442" y="473.8" width="7.3" height="158.5"/>
<rect x="449.3" y="568.9" width="7.3" height="63.4"/>
<rect x="456.5" y="534" width="7.3" height="98.2"/>
<rect x="463.8" y="568.9" width="14.6" height="63.4"/>
<rect x="478.4" y="527.7" width="7.3" height="104.6"/>
<rect x="485.6" y="592.7" width="7.3" height="39.6"/>
<rect x="492.9" y="600.6" width="7.3" height="31.7"/>
<rect x="500.2" y="580" width="7.3" height="52.3"/>
</g>
<g fill="#499CEC" fill-opacity="0.7">
<rect x="427.4" y="625.9" width="7.3" height="6.3"/>
<rect x="434.7" y="616.4" width="7.3" height="15.8"/>
<rect x="442" y="584.7" width="7.3" height="47.5"/>
<rect x="449.3" y="521.4" width="14.6" height="110.9"/>
<rect x="463.8" y="537.2" width="7.3" height="95.1"/>
<rect x="471.1" y="553.1" width="7.3" height="79.2"/>
<rect x="478.4" y="561" width="7.3" height="71.3"/>
<rect x="485.6" y="584.7" width="7.3" height="47.5"/>
<rect x="492.9" y="600.6" width="7.3" height="31.7"/>
<rect x="500.2" y="616.4" width="14.6" height="15.8"/>
<rect x="514.8" y="629.1" width="131" height="3.2"/>
</g>
<g fill="#BCCAC4" fill-opacity="0.7">
<rect x="442" y="600.6" width="7.3" height="31.7"/>
<rect x="449.3" y="529.3" width="29.1" height="103"/>
<rect x="478.4" y="568.9" width="7.3" height="63.4"/>
<rect x="485.6" y="584.7" width="7.3" height="47.5"/>
<rect x="492.9" y="600.6" width="7.3" height="31.7"/>
<rect x="522" y="616.4" width="7.3" height="15.8"/>
<rect x="529.3" y="576.8" width="7.3" height="55.5"/>
<rect x="536.6" y="605.3" width="7.3" height="26.9"/>
<rect x="543.9" y="616.4" width="7.3" height="15.8"/>
<rect x="551.2" y="576.8" width="7.3" height="55.5"/>
<rect x="565.7" y="605.3" width="7.3" height="26.9"/>
<rect x="638.5" y="605.3" width="7.3" height="26.9"/>
</g>
</g>
<rect x="416.5" y="465.9" width="240.2" height="174.3" fill="none" stroke="#333835" stroke-width="1.7"/>
<rect x="416.5" y="444.4" width="240.2" height="21.5" fill="#D3DCD8" stroke="#2E3834" stroke-width="1.7"/>
<text x="526.6" y="460.2" font-size="15.8" fill="#111" stroke="#111" stroke-width="0.55" text-anchor="middle">FFL_type8</text>
<line x1="413" y1="467.9" x2="416.5" y2="467.9" stroke="#333" stroke-width="1.8"/>
<line x1="413" y1="509.5" x2="416.5" y2="509.5" stroke="#333" stroke-width="1.8"/>
<line x1="413" y1="550.5" x2="416.5" y2="550.5" stroke="#333" stroke-width="1.8"/>
<line x1="413" y1="591.1" x2="416.5" y2="591.1" stroke="#333" stroke-width="1.8"/>
<line x1="413" y1="632" x2="416.5" y2="632" stroke="#333" stroke-width="1.8"/>
<line x1="430.7" y1="640.2" x2="430.7" y2="643.7" stroke="#333" stroke-width="1.8"/>
<text x="432.1" y="660.8" font-size="15.3" fill="#3d3d3d" stroke="#3d3d3d" stroke-width="0.45" text-anchor="middle">0</text>
<line x1="483.1" y1="640.2" x2="483.1" y2="643.7" stroke="#333" stroke-width="1.8"/>
<text x="487.4" y="660.8" font-size="15.3" fill="#3d3d3d" stroke="#3d3d3d" stroke-width="0.45" text-anchor="middle">100</text>
<line x1="534.9" y1="640.2" x2="534.9" y2="643.7" stroke="#333" stroke-width="1.8"/>
<text x="539.2" y="660.8" font-size="15.3" fill="#3d3d3d" stroke="#3d3d3d" stroke-width="0.45" text-anchor="middle">200</text>
<line x1="586.8" y1="640.2" x2="586.8" y2="643.7" stroke="#333" stroke-width="1.8"/>
<text x="591.1" y="660.8" font-size="15.3" fill="#3d3d3d" stroke="#3d3d3d" stroke-width="0.45" text-anchor="middle">300</text>
<line x1="639" y1="640.2" x2="639" y2="643.7" stroke="#333" stroke-width="1.8"/>
<text x="643.3" y="660.8" font-size="15.3" fill="#3d3d3d" stroke="#3d3d3d" stroke-width="0.45" text-anchor="middle">400</text>
<clipPath id="ca22"><rect x="702" y="465.9" width="240.2" height="174.3"/></clipPath>
<rect x="702" y="465.9" width="240.2" height="174.3" fill="#fff"/>
<g clip-path="url(#ca22)">
<path d="M712.9,559.5 L715.8,534.8 L718.7,542.9 L721.5,575.8 L724.4,606.5 L727.3,621.7 L730.1,626 L733,627.4 L735.9,628.8 L738.7,629.4 L741.6,628.5 L744.5,627.4 L747.3,627.6 L750.2,629.2 L753.1,630.9 L756,631.8 L758.8,632.2 L761.7,632.3 L764.6,632.3 L767.4,632.3 L770.3,632.3 L773.2,632.3 L776,632.3 L778.9,632.3 L781.8,632.3 L784.7,632.3 L787.5,632.3 L790.4,632.2 L793.3,632.1 L796.1,631.8 L799,631.1 L801.9,630.5 L804.7,630.3 L807.6,630.8 L810.5,631.5 L813.3,632 L816.2,632.2 L819.1,632.3 L822,632.3 L824.8,632.3 L827.7,632.2 L830.6,631.9 L833.4,631.3 L836.3,630.2 L839.2,629.4 L842,629.5 L844.9,630.5 L847.8,631.5 L850.6,632 L853.5,632.2 L856.4,632.3 L859.3,632.3 L862.1,632.3 L865,632.3 L867.9,632.3 L870.7,632.3 L873.6,632.3 L876.5,632.3 L879.3,632.3 L882.2,632.3 L885.1,632.3 L887.9,632.3 L890.8,632.3 L893.7,632.2 L896.6,632 L899.4,631.5 L902.3,630.8 L905.2,630.3 L908,630.5 L910.9,631.2" fill="none" stroke="#E3336E" stroke-opacity="0.9" stroke-width="3.4" stroke-linejoin="round" stroke-linecap="round"/>
<path d="M712.9,561.3 L715.6,540.9 L718.3,544.9 L721,569.9 L723.7,598.2 L726.4,616.6 L729.1,624.3 L731.8,626.7 L734.5,627.8 L737.2,627.9 L740,626.6 L742.7,624.2 L745.4,622.9 L748.1,624 L750.8,626.8" fill="none" stroke="#6A1470" stroke-opacity="0.9" stroke-width="3.4" stroke-linejoin="round" stroke-linecap="round"/>
<path d="M712.9,571.1 L715.8,550.3 L718.7,556.9 L721.5,583.5 L724.4,606.3 L727.3,614.2 L730.2,613.6 L733,614 L735.9,617.6 L738.8,621.4 L741.7,623.7 L744.6,625.2 L747.4,626.8 L750.3,628.9 L753.2,630.3 L756.1,630.5 L758.9,630.3 L761.8,630.4 L764.7,631 L767.6,631.7 L770.4,632.1 L773.3,632.2 L776.2,632.2 L779.1,632.1 L781.9,631.7 L784.8,631 L787.7,630.4 L790.6,630.4 L793.4,630.9 L796.3,631.6 L799.2,632.1 L802.1,632.2 L805,632.3 L807.8,632.3 L810.7,632.3 L813.6,632.2 L816.5,632 L819.3,631.5 L822.2,630.8 L825.1,630.3 L828,630.5 L830.8,631.2" fill="none" stroke="#4A98E8" stroke-opacity="0.9" stroke-width="3.4" stroke-linejoin="round" stroke-linecap="round"/>
<path d="M712.9,610 L715.8,608.2 L718.7,607.7 L721.5,608.5 L724.4,610.2 L727.3,612.3 L730.2,614.4 L733,616 L735.9,617.1 L738.8,617.6 L741.6,617.7 L744.5,617.5 L747.4,617.2 L750.3,617.1 L753.1,617.2 L756,617.6 L758.9,618.3 L761.8,619.4 L764.6,620.8 L767.5,622.3 L770.4,623.9 L773.3,625.5 L776.1,626.9 L779,628.2 L781.9,629.3 L784.7,630.2 L787.6,630.8 L790.5,631.3 L793.4,631.7 L796.2,631.9 L799.1,632.1 L802,632.2 L804.9,632.2 L807.7,632.3 L810.6,632.3 L813.5,632.3 L816.4,632.3 L819.2,632.3 L822.1,632.3 L825,632.3 L827.8,632.3 L830.7,632.3 L833.6,632.3 L836.5,632.3 L839.3,632.3 L842.2,632.3 L845.1,632.3 L848,632.3 L850.8,632.3 L853.7,632.3 L856.6,632.3 L859.5,632.3 L862.3,632.3 L865.2,632.3 L868.1,632.2 L870.9,632.2 L873.8,632.1 L876.7,632 L879.6,631.8 L882.4,631.6 L885.3,631.3 L888.2,630.9 L891.1,630.6 L893.9,630.3 L896.8,630.2 L899.7,630.1 L902.6,630.2 L905.4,630.3 L908.3,630.4 L911.2,630.5 L914,630.5 L916.9,630.5 L919.8,630.3 L922.7,630.2 L925.5,630.1 L928.4,630.1 L931.3,630.3" fill="none" stroke="#B8C2BE" stroke-opacity="0.9" stroke-width="3.4" stroke-linejoin="round" stroke-linecap="round"/>
<g fill="#E12A69" fill-opacity="0.7">
<rect x="712.9" y="473.8" width="7.3" height="158.5"/>
<rect x="727.5" y="624.4" width="7.3" height="7.9"/>
<rect x="742" y="624.4" width="7.3" height="7.9"/>
<rect x="800.3" y="629.1" width="7.3" height="3.2"/>
<rect x="836.7" y="627.5" width="7.3" height="4.8"/>
<rect x="902.2" y="629.1" width="7.3" height="3.2"/>
</g>
<g fill="#6E0E78" fill-opacity="0.7">
<rect x="712.9" y="473.8" width="7.3" height="158.5"/>
<rect x="727.5" y="624.4" width="7.3" height="7.9"/>
<rect x="742" y="616.4" width="7.3" height="15.8"/>
</g>
<g fill="#499CEC" fill-opacity="0.7">
<rect x="712.9" y="499.2" width="7.3" height="133.1"/>
<rect x="727.5" y="605.3" width="7.3" height="26.9"/>
<rect x="734.8" y="624.4" width="14.6" height="7.9"/>
<rect x="756.6" y="629.1" width="7.3" height="3.2"/>
<rect x="785.7" y="629.1" width="7.3" height="3.2"/>
<rect x="822.1" y="629.1" width="7.3" height="3.2"/>
</g>
<g fill="#BCCAC4" fill-opacity="0.7">
<rect x="712.9" y="548.3" width="7.3" height="84"/>
<rect x="727.5" y="616.4" width="7.3" height="15.8"/>
<rect x="742" y="599" width="7.3" height="33.3"/>
<rect x="756.6" y="599" width="7.3" height="33.3"/>
<rect x="771.1" y="624.4" width="7.3" height="7.9"/>
<rect x="894.9" y="624.4" width="7.3" height="7.9"/>
<rect x="924" y="624.4" width="7.3" height="7.9"/>
</g>
</g>
<rect x="702" y="465.9" width="240.2" height="174.3" fill="none" stroke="#333835" stroke-width="1.7"/>
<rect x="702" y="444.4" width="240.2" height="21.5" fill="#D3DCD8" stroke="#2E3834" stroke-width="1.7"/>
<text x="823.7" y="460.2" font-size="15.8" fill="#111" stroke="#111" stroke-width="0.55" text-anchor="middle">Fully_connected_triad</text>
<line x1="698.5" y1="469.6" x2="702" y2="469.6" stroke="#333" stroke-width="1.8"/>
<line x1="698.5" y1="523.5" x2="702" y2="523.5" stroke="#333" stroke-width="1.8"/>
<line x1="698.5" y1="578.2" x2="702" y2="578.2" stroke="#333" stroke-width="1.8"/>
<line x1="698.5" y1="632.6" x2="702" y2="632.6" stroke="#333" stroke-width="1.8"/>
<line x1="716.7" y1="640.2" x2="716.7" y2="643.7" stroke="#333" stroke-width="1.8"/>
<text x="718.1" y="660.8" font-size="15.3" fill="#3d3d3d" stroke="#3d3d3d" stroke-width="0.45" text-anchor="middle">0</text>
<line x1="775.5" y1="640.2" x2="775.5" y2="643.7" stroke="#333" stroke-width="1.8"/>
<text x="778.4" y="660.8" font-size="15.3" fill="#3d3d3d" stroke="#3d3d3d" stroke-width="0.45" text-anchor="middle">25</text>
<line x1="834.3" y1="640.2" x2="834.3" y2="643.7" stroke="#333" stroke-width="1.8"/>
<text x="837.2" y="660.8" font-size="15.3" fill="#3d3d3d" stroke="#3d3d3d" stroke-width="0.45" text-anchor="middle">50</text>
<line x1="893.9" y1="640.2" x2="893.9" y2="643.7" stroke="#333" stroke-width="1.8"/>
<text x="896.8" y="660.8" font-size="15.3" fill="#3d3d3d" stroke="#3d3d3d" stroke-width="0.45" text-anchor="middle">75</text>
<clipPath id="ca32"><rect x="978" y="465.9" width="240" height="174.3"/></clipPath>
<rect x="978" y="465.9" width="240" height="174.3" fill="#fff"/>
<g clip-path="url(#ca32)">
<path d="M988.9,628.6 L991.8,627 L994.6,624.8 L997.5,621.8 L1000.4,618 L1003.3,613.4 L1006.1,608.3 L1009,602.9 L1011.9,597.6 L1014.7,592.8 L1017.6,588.7 L1020.5,585.2 L1023.3,582.5 L1026.2,580.4 L1029.1,578.9 L1031.9,578 L1034.8,577.7 L1037.7,578.1 L1040.5,579.3 L1043.4,581.2 L1046.3,583.8 L1049.2,587 L1052,590.4 L1054.9,594 L1057.8,597.6 L1060.6,600.8 L1063.5,603.8 L1066.4,606.3 L1069.2,608.5 L1072.1,610.4 L1075,612.1 L1077.8,613.8 L1080.7,615.5 L1083.6,617.4 L1086.4,619.4 L1089.3,621.6 L1092.2,623.8" fill="none" stroke="#E3336E" stroke-opacity="0.9" stroke-width="3.4" stroke-linejoin="round" stroke-linecap="round"/>
<path d="M1009.3,609.9 L1012.1,603.3 L1015,596.3 L1017.8,589.2 L1020.7,582.6 L1023.6,577.2 L1026.4,574.1 L1029.3,574.2 L1032.1,577.8 L1035,584.1 L1037.9,592.1 L1040.7,600.4 L1043.6,608 L1046.4,614.3 L1049.3,619.3 L1052.2,622.9 L1055,625.2 L1057.9,626.2 L1060.7,626 L1063.6,625 L1066.5,623.4 L1069.3,621.6 L1072.2,620.1 L1075,618.9 L1077.9,618.2 L1080.7,618.1 L1083.6,618.4 L1086.5,619.3 L1089.3,620.8 L1092.2,622.7" fill="none" stroke="#6A1470" stroke-opacity="0.9" stroke-width="3.4" stroke-linejoin="round" stroke-linecap="round"/>
<path d="M994.7,624 L997.6,620.6 L1000.5,616.7 L1003.3,612.3 L1006.2,607.7 L1009.1,603.1 L1011.9,598.8 L1014.8,595.1 L1017.7,592.1 L1020.6,589.8 L1023.4,588.3 L1026.3,587.4 L1029.2,587.2 L1032,587.4 L1034.9,588 L1037.8,588.8 L1040.6,589.7 L1043.5,590.6 L1046.4,591.6 L1049.3,592.8 L1052.1,594.3 L1055,596.3 L1057.9,598.8 L1060.7,601.9 L1063.6,605.3 L1066.5,608.9 L1069.3,612.4 L1072.2,615.7 L1075.1,618.5 L1078,620.8 L1080.8,622.6 L1083.7,624 L1086.6,625.2 L1089.4,626.1 L1092.3,626.8 L1095.2,627.4 L1098,627.9 L1100.9,628.3 L1103.8,628.6 L1106.6,628.8 L1109.5,628.9 L1112.4,629 L1115.3,629.1 L1118.1,629.1 L1121,629.1 L1123.9,629.1 L1126.7,629.1 L1129.6,629.1 L1132.5,629.1 L1135.3,629.1 L1138.2,629.1 L1141.1,629.1 L1144,629.1 L1146.8,629.1 L1149.7,629.1 L1152.6,629.1 L1155.4,629.1 L1158.3,629.1 L1161.2,629.1 L1164,629.1 L1166.9,629.1 L1169.8,629.1 L1172.7,629.1 L1175.5,629.1 L1178.4,629.1 L1181.3,629.1 L1184.1,629.1 L1187,629.2 L1189.9,629.3 L1192.7,629.4 L1195.6,629.5 L1198.5,629.7 L1201.4,630 L1204.2,630.3 L1207.1,630.7" fill="none" stroke="#4A98E8" stroke-opacity="0.9" stroke-width="3.4" stroke-linejoin="round" stroke-linecap="round"/>
<path d="M1009.3,617.9 L1012.1,615.1 L1015,612.3 L1017.9,609.8 L1020.7,607.5 L1023.6,605.6 L1026.5,604.1 L1029.3,603 L1032.2,602.1 L1035.1,601.5 L1037.9,601.1 L1040.8,600.9 L1043.7,600.7 L1046.5,600.5 L1049.4,600.4 L1052.3,600.2 L1055.1,600 L1058,599.7 L1060.9,599.4 L1063.7,599 L1066.6,598.7 L1069.5,598.4 L1072.3,598.3 L1075.2,598.4 L1078.1,598.9 L1080.9,599.7 L1083.8,600.9 L1086.7,602.4 L1089.5,604.1 L1092.4,606.1 L1095.3,608.1 L1098.1,610.2 L1101,612.3 L1103.9,614.2 L1106.7,616.1 L1109.6,617.9 L1112.5,619.5 L1115.3,621 L1118.2,622.5 L1121.1,623.8 L1124,625.1 L1126.8,626.3 L1129.7,627.4 L1132.6,628.4 L1135.4,629.2 L1138.3,630 L1141.2,630.6 L1144,631.1 L1146.9,631.5 L1149.8,631.8 L1152.6,632 L1155.5,632.1 L1158.4,632.2 L1161.2,632.2 L1164.1,632.2 L1167,632.2 L1169.8,632.1 L1172.7,632.1 L1175.6,631.9 L1178.4,631.7 L1181.3,631.4 L1184.2,631.1 L1187,630.7 L1189.9,630.2 L1192.8,629.8 L1195.6,629.3 L1198.5,629 L1201.4,628.8 L1204.2,628.8 L1207.1,628.9" fill="none" stroke="#B8C2BE" stroke-opacity="0.9" stroke-width="3.4" stroke-linejoin="round" stroke-linecap="round"/>
<g fill="#E12A69" fill-opacity="0.7">
<rect x="988.9" y="625.9" width="7.3" height="6.3"/>
<rect x="1003.5" y="616.4" width="7.3" height="15.8"/>
<rect x="1010.7" y="564.1" width="7.3" height="68.1"/>
<rect x="1018" y="600.6" width="7.3" height="31.7"/>
<rect x="1025.3" y="561" width="7.3" height="71.3"/>
<rect x="1032.5" y="584.7" width="7.3" height="47.5"/>
<rect x="1039.8" y="564.1" width="7.3" height="68.1"/>
<rect x="1047.1" y="592.7" width="7.3" height="39.6"/>
<rect x="1054.4" y="600.6" width="7.3" height="31.7"/>
<rect x="1061.6" y="608.5" width="7.3" height="23.8"/>
<rect x="1068.9" y="613.3" width="21.8" height="19"/>
</g>
<g fill="#6E0E78" fill-opacity="0.7">
<rect x="1010.7" y="568.9" width="7.3" height="63.4"/>
<rect x="1025.3" y="473.8" width="7.3" height="158.5"/>
<rect x="1039.8" y="600.6" width="7.3" height="31.7"/>
<rect x="1068.9" y="602.2" width="7.3" height="30.1"/>
<rect x="1083.5" y="600.6" width="7.3" height="31.7"/>
</g>
<g fill="#499CEC" fill-opacity="0.7">
<rect x="996.2" y="624.4" width="7.3" height="7.9"/>
<rect x="1003.5" y="608.5" width="7.3" height="23.8"/>
<rect x="1010.7" y="576.8" width="7.3" height="55.5"/>
<rect x="1018" y="600.6" width="7.3" height="31.7"/>
<rect x="1025.3" y="565.7" width="7.3" height="66.6"/>
<rect x="1032.5" y="600.6" width="7.3" height="31.7"/>
<rect x="1039.8" y="587.9" width="7.3" height="44.4"/>
<rect x="1047.1" y="592.7" width="7.3" height="39.6"/>
<rect x="1054.4" y="587.9" width="7.3" height="44.4"/>
<rect x="1061.6" y="608.5" width="7.3" height="23.8"/>
<rect x="1068.9" y="624.4" width="21.8" height="7.9"/>
<rect x="1090.7" y="629.1" width="116.4" height="3.2"/>
</g>
<g fill="#BCCAC4" fill-opacity="0.7">
<rect x="1010.7" y="600.6" width="65.5" height="31.7"/>
<rect x="1076.2" y="583.2" width="7.3" height="49.1"/>
<rect x="1083.5" y="600.6" width="7.3" height="31.7"/>
<rect x="1090.7" y="613.3" width="21.8" height="19"/>
<rect x="1119.8" y="616.4" width="7.3" height="15.8"/>
<rect x="1199.8" y="616.4" width="7.3" height="15.8"/>
</g>
</g>
<rect x="978" y="465.9" width="240" height="174.3" fill="none" stroke="#333835" stroke-width="1.7"/>
<rect x="978" y="444.4" width="240" height="21.5" fill="#D3DCD8" stroke="#2E3834" stroke-width="1.7"/>
<text x="1099.5" y="460.2" font-size="15.8" fill="#111" stroke="#111" stroke-width="0.55" text-anchor="middle">PFL_double_negative</text>
<line x1="974.5" y1="475.6" x2="978" y2="475.6" stroke="#333" stroke-width="1.8"/>
<line x1="974.5" y1="528" x2="978" y2="528" stroke="#333" stroke-width="1.8"/>
<line x1="974.5" y1="580.1" x2="978" y2="580.1" stroke="#333" stroke-width="1.8"/>
<line x1="974.5" y1="632.5" x2="978" y2="632.5" stroke="#333" stroke-width="1.8"/>
<line x1="992.9" y1="640.2" x2="992.9" y2="643.7" stroke="#333" stroke-width="1.8"/>
<text x="994.3" y="660.8" font-size="15.3" fill="#3d3d3d" stroke="#3d3d3d" stroke-width="0.45" text-anchor="middle">0</text>
<line x1="1053.7" y1="640.2" x2="1053.7" y2="643.7" stroke="#333" stroke-width="1.8"/>
<text x="1056.6" y="660.8" font-size="15.3" fill="#3d3d3d" stroke="#3d3d3d" stroke-width="0.45" text-anchor="middle">25</text>
<line x1="1115" y1="640.2" x2="1115" y2="643.7" stroke="#333" stroke-width="1.8"/>
<text x="1117.9" y="660.8" font-size="15.3" fill="#3d3d3d" stroke="#3d3d3d" stroke-width="0.45" text-anchor="middle">50</text>
<line x1="1176.2" y1="640.2" x2="1176.2" y2="643.7" stroke="#333" stroke-width="1.8"/>
<text x="1179.1" y="660.8" font-size="15.3" fill="#3d3d3d" stroke="#3d3d3d" stroke-width="0.45" text-anchor="middle">75</text>
<clipPath id="ca03"><rect x="131" y="686.5" width="240.5" height="174.3"/></clipPath>
<rect x="131" y="686.5" width="240.5" height="174.3" fill="#fff"/>
<g clip-path="url(#ca03)">
<path d="M147.8,834.7 L150.7,820.8 L153.6,802.2 L156.5,780.7 L159.4,759.9 L162.3,743.6 L165.3,734.5 L168.2,733.4 L171.1,738.8 L174,748.4 L176.9,759.4 L179.8,770.2 L182.7,779.7 L185.7,787.7 L188.6,794.2 L191.5,799.5 L194.4,804.5 L197.3,810.1 L200.2,816.7 L203.1,823.6 L206.1,830.1 L209,835.2 L211.9,838.8 L214.8,841.2 L217.7,843.1 L220.6,845 L223.6,847" fill="none" stroke="#E3336E" stroke-opacity="0.9" stroke-width="3.4" stroke-linejoin="round" stroke-linecap="round"/>
<path d="M141.9,831.1 L144.8,821.2 L147.6,808.8 L150.5,793.9 L153.3,777.4 L156.2,760.5 L159,745.4 L161.9,734.1 L164.7,728.2 L167.5,727.6 L170.4,731.3 L173.2,737.5 L176.1,744.6 L178.9,751.5 L181.8,758.1 L184.6,765.2 L187.5,773.6 L190.3,783.9 L193.2,795.8 L196,808.4 L198.8,820.6 L201.7,831.1" fill="none" stroke="#6A1470" stroke-opacity="0.9" stroke-width="3.4" stroke-linejoin="round" stroke-linecap="round"/>
<path d="M147.8,835.6 L150.6,827.7 L153.5,818.2 L156.4,807.7 L159.3,796.7 L162.1,786.2 L165,776.7 L167.9,769.2 L170.8,764.1 L173.6,761.7 L176.5,762.2 L179.4,765.3 L182.3,770.5 L185.1,776.9 L188,783.9 L190.9,790.9 L193.8,797.5 L196.6,803.7 L199.5,809.5 L202.4,814.9 L205.3,820.1 L208.2,824.9 L211,829.4 L213.9,833.4 L216.8,836.9 L219.7,839.6 L222.5,841.7 L225.4,843.1 L228.3,844 L231.2,844.5 L234,844.9 L236.9,845.1 L239.8,845.3 L242.7,845.7 L245.5,846.1 L248.4,846.7 L251.3,847.3 L254.2,848 L257,848.5 L259.9,849 L262.8,849.3 L265.7,849.5 L268.5,849.6 L271.4,849.7 L274.3,849.7 L277.2,849.7 L280,849.7 L282.9,849.7 L285.8,849.7 L288.7,849.7 L291.6,849.7 L294.4,849.7 L297.3,849.7 L300.2,849.7 L303.1,849.7 L305.9,849.7 L308.8,849.7 L311.7,849.7 L314.6,849.7 L317.4,849.7 L320.3,849.7 L323.2,849.7 L326.1,849.7 L328.9,849.7 L331.8,849.7 L334.7,849.7 L337.6,849.7 L340.4,849.7 L343.3,849.8 L346.2,849.9 L349.1,850 L351.9,850.2 L354.8,850.5 L357.7,850.9 L360.6,851.3" fill="none" stroke="#4A98E8" stroke-opacity="0.9" stroke-width="3.4" stroke-linejoin="round" stroke-linecap="round"/>
<path d="M155,842.5 L157.9,840.6 L160.8,838.7 L163.7,837 L166.6,835.5 L169.5,834.2 L172.4,833.1 L175.3,832.1 L178.2,831.3 L181.1,830.6 L184,829.9 L186.9,829.3 L189.8,828.6 L192.7,828 L195.6,827.2 L198.5,826.4 L201.4,825.4 L204.3,824.1 L207.2,822.5 L210,820.4 L212.9,817.9 L215.8,815 L218.7,811.8 L221.6,808.4 L224.5,805.2 L227.4,802.2 L230.3,799.9 L233.2,798.3 L236.1,797.5 L239,797.7 L241.9,798.9 L244.8,800.8 L247.7,803.6 L250.6,806.9 L253.5,810.7 L256.4,814.9 L259.3,819.2 L262.2,823.7 L265,828.1 L267.9,832.3 L270.8,836.1 L273.7,839.4 L276.6,842 L279.5,844.1 L282.4,845.4 L285.3,846.2 L288.2,846.5 L291.1,846.6 L294,846.6 L296.9,846.6 L299.8,846.7 L302.7,847.1 L305.6,847.6 L308.5,848.3 L311.4,849.1 L314.3,849.9 L317.1,850.6 L320,851.2 L322.9,851.6 L325.8,851.8 L328.7,851.9 L331.6,851.7 L334.5,851.3 L337.4,850.8 L340.3,850.2 L343.2,849.4 L346.1,848.6 L349,847.9 L351.9,847.3 L354.8,847 L357.7,846.9 L360.6,847.1" fill="none" stroke="#B8C2BE" stroke-opacity="0.9" stroke-width="3.4" stroke-linejoin="round" stroke-linecap="round"/>
<g fill="#E12A69" fill-opacity="0.7">
<rect x="149.2" y="845" width="7.3" height="7.9"/>
<rect x="156.5" y="718.2" width="7.3" height="134.7"/>
<rect x="163.8" y="694.4" width="7.3" height="158.5"/>
<rect x="171.1" y="765.7" width="7.3" height="87.1"/>
<rect x="178.4" y="773.7" width="7.3" height="79.2"/>
<rect x="185.7" y="813.3" width="7.3" height="39.6"/>
<rect x="192.9" y="787.9" width="7.3" height="65"/>
<rect x="200.2" y="837" width="7.3" height="15.8"/>
<rect x="207.5" y="845" width="7.3" height="7.9"/>
<rect x="214.8" y="837" width="7.3" height="15.8"/>
</g>
<g fill="#6E0E78" fill-opacity="0.7">
<rect x="141.9" y="821.2" width="7.3" height="31.7"/>
<rect x="149.2" y="805.3" width="7.3" height="47.5"/>
<rect x="156.5" y="700.8" width="14.6" height="152.1"/>
<rect x="171.1" y="757.8" width="21.9" height="95.1"/>
<rect x="192.9" y="821.2" width="7.3" height="31.7"/>
</g>
<g fill="#499CEC" fill-opacity="0.7">
<rect x="149.2" y="829.1" width="7.3" height="23.8"/>
<rect x="156.5" y="789.5" width="7.3" height="63.4"/>
<rect x="163.8" y="757.8" width="7.3" height="95.1"/>
<rect x="171.1" y="743.5" width="7.3" height="109.3"/>
<rect x="178.4" y="761" width="7.3" height="91.9"/>
<rect x="185.7" y="797.4" width="7.3" height="55.5"/>
<rect x="192.9" y="800.6" width="7.3" height="52.3"/>
<rect x="200.2" y="821.2" width="7.3" height="31.7"/>
<rect x="207.5" y="829.1" width="7.3" height="23.8"/>
<rect x="214.8" y="845" width="36.4" height="7.9"/>
<rect x="251.2" y="849.7" width="109.3" height="3.2"/>
</g>
<g fill="#BCCAC4" fill-opacity="0.7">
<rect x="156.5" y="825.9" width="7.3" height="26.9"/>
<rect x="163.8" y="837" width="7.3" height="15.8"/>
<rect x="171.1" y="825.9" width="7.3" height="26.9"/>
<rect x="178.4" y="837" width="7.3" height="15.8"/>
<rect x="185.7" y="825.9" width="29.2" height="26.9"/>
<rect x="214.8" y="837" width="7.3" height="15.8"/>
<rect x="222.1" y="773.7" width="7.3" height="79.2"/>
<rect x="229.4" y="800.6" width="7.3" height="52.3"/>
<rect x="236.7" y="773.7" width="7.3" height="79.2"/>
<rect x="244" y="800.6" width="7.3" height="52.3"/>
<rect x="251.2" y="824.4" width="7.3" height="28.5"/>
<rect x="258.5" y="800.6" width="7.3" height="52.3"/>
<rect x="295" y="825.9" width="7.3" height="26.9"/>
<rect x="353.3" y="825.9" width="7.3" height="26.9"/>
</g>
</g>
<rect x="131" y="686.5" width="240.5" height="174.3" fill="none" stroke="#333835" stroke-width="1.7"/>
<rect x="131" y="665" width="240.5" height="21.5" fill="#D3DCD8" stroke="#2E3834" stroke-width="1.7"/>
<text x="251.8" y="680.8" font-size="15.8" fill="#111" stroke="#111" stroke-width="0.55" text-anchor="middle">PFL_double_positive</text>
<line x1="127.5" y1="724.4" x2="131" y2="724.4" stroke="#333" stroke-width="1.8"/>
<line x1="127.5" y1="767.3" x2="131" y2="767.3" stroke="#333" stroke-width="1.8"/>
<line x1="127.5" y1="810.2" x2="131" y2="810.2" stroke="#333" stroke-width="1.8"/>
<line x1="127.5" y1="853.1" x2="131" y2="853.1" stroke="#333" stroke-width="1.8"/>
<line x1="145.7" y1="860.8" x2="145.7" y2="864.3" stroke="#333" stroke-width="1.8"/>
<text x="147.1" y="881.4" font-size="15.3" fill="#3d3d3d" stroke="#3d3d3d" stroke-width="0.45" text-anchor="middle">0</text>
<line x1="193.2" y1="860.8" x2="193.2" y2="864.3" stroke="#333" stroke-width="1.8"/>
<text x="196.1" y="881.4" font-size="15.3" fill="#3d3d3d" stroke="#3d3d3d" stroke-width="0.45" text-anchor="middle">50</text>
<line x1="240.5" y1="860.8" x2="240.5" y2="864.3" stroke="#333" stroke-width="1.8"/>
<text x="244.8" y="881.4" font-size="15.3" fill="#3d3d3d" stroke="#3d3d3d" stroke-width="0.45" text-anchor="middle">100</text>
<line x1="288.3" y1="860.8" x2="288.3" y2="864.3" stroke="#333" stroke-width="1.8"/>
<text x="292.6" y="881.4" font-size="15.3" fill="#3d3d3d" stroke="#3d3d3d" stroke-width="0.45" text-anchor="middle">150</text>
<line x1="336.1" y1="860.8" x2="336.1" y2="864.3" stroke="#333" stroke-width="1.8"/>
<text x="340.4" y="881.4" font-size="15.3" fill="#3d3d3d" stroke="#3d3d3d" stroke-width="0.45" text-anchor="middle">200</text>
<clipPath id="ca13"><rect x="416.5" y="686.5" width="240.2" height="174.3"/></clipPath>
<rect x="416.5" y="686.5" width="240.2" height="174.3" fill="#fff"/>
<g clip-path="url(#ca13)">
<path d="M440.5,818.4 L443.4,804.7 L446.3,791.3 L449.3,779.8 L452.2,771.3 L455.1,766 L458,764.2 L460.9,765.8 L463.8,770.5 L466.7,777.7 L469.6,786.4 L472.5,796.1 L475.5,806.1 L478.4,815.7 L481.3,824.4 L484.2,831.6 L487.1,837 L490,840.7 L492.9,843 L495.8,844.4 L498.7,845.5 L501.7,846.5 L504.6,847.6 L507.5,848.7 L510.4,849.8 L513.3,850.4 L516.2,850.6 L519.1,850.4 L522,850 L525,849.8 L527.9,849.9 L530.8,850.4" fill="none" stroke="#E3336E" stroke-opacity="0.9" stroke-width="3.4" stroke-linejoin="round" stroke-linecap="round"/>
<path d="M427.4,792.5 L430.3,770.4 L433.1,749.6 L435.9,733.1 L438.8,723.3 L441.6,721.5 L444.5,727.7 L447.3,740.3 L450.2,756.4 L453,772.4 L455.8,785.8 L458.7,795.2 L461.5,800.9 L464.4,804.1 L467.2,806.2 L470.1,808.4 L472.9,811.4 L475.7,815.7 L478.6,821.3 L481.4,827.7 L484.3,834.3 L487.1,840.3" fill="none" stroke="#6A1470" stroke-opacity="0.9" stroke-width="3.4" stroke-linejoin="round" stroke-linecap="round"/>
<path d="M433.2,822.4 L436.1,810.8 L439,798.3 L441.9,786.1 L444.7,775.1 L447.6,766.3 L450.5,760.2 L453.3,756.9 L456.2,756.2 L459.1,757.8 L462,761.4 L464.8,766.5 L467.7,772.8 L470.6,779.9 L473.5,787.5 L476.3,795 L479.2,802.1 L482.1,808.5 L484.9,814.2 L487.8,819.1 L490.7,823.3 L493.6,826.7 L496.4,829.5 L499.3,831.7 L502.2,833.5 L505,835.1 L507.9,836.7 L510.8,838.4 L513.7,840.1 L516.5,841.9 L519.4,843.7 L522.3,845.3 L525.2,846.7 L528,847.8 L530.9,848.6 L533.8,849.1 L536.6,849.4 L539.5,849.6 L542.4,849.7 L545.3,849.7 L548.1,849.7 L551,849.7 L553.9,849.7 L556.7,849.7 L559.6,849.7 L562.5,849.7 L565.4,849.7 L568.2,849.7 L571.1,849.7 L574,849.7 L576.9,849.7 L579.7,849.7 L582.6,849.7 L585.5,849.7 L588.3,849.7 L591.2,849.7 L594.1,849.7 L597,849.7 L599.8,849.7 L602.7,849.7 L605.6,849.7 L608.4,849.7 L611.3,849.7 L614.2,849.7 L617.1,849.7 L619.9,849.7 L622.8,849.7 L625.7,849.7 L628.5,849.8 L631.4,849.9 L634.3,850 L637.2,850.2 L640,850.5 L642.9,850.9 L645.8,851.3" fill="none" stroke="#4A98E8" stroke-opacity="0.9" stroke-width="3.4" stroke-linejoin="round" stroke-linecap="round"/>
<path d="M433.2,828.7 L436.1,824.7 L439,820.6 L441.9,816.8 L444.7,813.3 L447.6,810.3 L450.5,807.9 L453.3,806.1 L456.2,805 L459.1,804.5 L462,804.7 L464.8,805.6 L467.7,807 L470.6,808.9 L473.5,811.2 L476.3,813.7 L479.2,816.4 L482.1,819.1 L484.9,821.8 L487.8,824.1 L490.7,826.2 L493.6,828 L496.4,829.3 L499.3,830.3 L502.2,831 L505,831.4 L507.9,831.6 L510.8,831.7 L513.7,831.6 L516.5,831.5 L519.4,831.4 L522.3,831.2 L525.2,831 L528,830.7 L530.9,830.3 L533.8,829.8 L536.6,829.3 L539.5,828.8 L542.4,828.3 L545.3,827.9 L548.1,827.7 L551,827.8 L553.9,828.3 L556.7,829.2 L559.6,830.4 L562.5,832.1 L565.4,834 L568.2,836.1 L571.1,838.3 L574,840.5 L576.9,842.4 L579.7,844.1 L582.6,845.5 L585.5,846.5 L588.3,847.1 L591.2,847.5 L594.1,847.6 L597,847.5 L599.8,847.4 L602.7,847.3 L605.6,847.3 L608.4,847.3 L611.3,847.4 L614.2,847.5 L617.1,847.6 L619.9,847.8 L622.8,847.8 L625.7,847.8 L628.5,847.7 L631.4,847.6 L634.3,847.5 L637.2,847.4 L640,847.4 L642.9,847.5 L645.8,847.7" fill="none" stroke="#B8C2BE" stroke-opacity="0.9" stroke-width="3.4" stroke-linejoin="round" stroke-linecap="round"/>
<g fill="#E12A69" fill-opacity="0.7">
<rect x="442" y="773.7" width="7.3" height="79.2"/>
<rect x="449.3" y="765.7" width="7.3" height="87.1"/>
<rect x="456.5" y="745.1" width="7.3" height="107.7"/>
<rect x="463.8" y="781.6" width="7.3" height="71.3"/>
<rect x="471.1" y="799" width="7.3" height="53.9"/>
<rect x="478.4" y="837" width="7.3" height="15.8"/>
<rect x="485.6" y="845" width="21.8" height="7.9"/>
<rect x="522" y="845" width="7.3" height="7.9"/>
</g>
<g fill="#6E0E78" fill-opacity="0.7">
<rect x="427.4" y="748.3" width="7.3" height="104.6"/>
<rect x="434.7" y="694.4" width="14.6" height="158.5"/>
<rect x="449.3" y="805.3" width="29.1" height="47.5"/>
<rect x="478.4" y="829.1" width="7.3" height="23.8"/>
</g>
<g fill="#499CEC" fill-opacity="0.7">
<rect x="434.7" y="797.4" width="7.3" height="55.5"/>
<rect x="442" y="757.8" width="7.3" height="95.1"/>
<rect x="449.3" y="738.8" width="7.3" height="114.1"/>
<rect x="456.5" y="757.8" width="7.3" height="95.1"/>
<rect x="463.8" y="761" width="7.3" height="91.9"/>
<rect x="471.1" y="797.4" width="7.3" height="55.5"/>
<rect x="478.4" y="811.7" width="7.3" height="41.2"/>
<rect x="485.6" y="824.4" width="7.3" height="28.5"/>
<rect x="492.9" y="833.9" width="14.6" height="19"/>
<rect x="507.5" y="837" width="7.3" height="15.8"/>
<rect x="514.8" y="843.4" width="7.3" height="9.5"/>
<rect x="522" y="849.7" width="123.7" height="3.2"/>
</g>
<g fill="#BCCAC4" fill-opacity="0.7">
<rect x="434.7" y="805.3" width="7.3" height="47.5"/>
<rect x="442" y="797.4" width="36.4" height="55.5"/>
<rect x="478.4" y="829.1" width="7.3" height="23.8"/>
<rect x="485.6" y="837" width="21.8" height="15.8"/>
<rect x="507.5" y="825.9" width="14.6" height="26.9"/>
<rect x="522" y="837" width="14.6" height="15.8"/>
<rect x="536.6" y="825.9" width="21.8" height="26.9"/>
<rect x="558.4" y="797.4" width="7.3" height="55.5"/>
<rect x="602.1" y="825.9" width="7.3" height="26.9"/>
<rect x="638.5" y="825.9" width="7.3" height="26.9"/>
</g>
</g>
<rect x="416.5" y="686.5" width="240.2" height="174.3" fill="none" stroke="#333835" stroke-width="1.7"/>
<rect x="416.5" y="665" width="240.2" height="21.5" fill="#D3DCD8" stroke="#2E3834" stroke-width="1.7"/>
<text x="543.5" y="680.8" font-size="15.8" fill="#111" stroke="#111" stroke-width="0.55" text-anchor="middle">Regulated_double_positive</text>
<line x1="413" y1="716.6" x2="416.5" y2="716.6" stroke="#333" stroke-width="1.8"/>
<line x1="413" y1="762.4" x2="416.5" y2="762.4" stroke="#333" stroke-width="1.8"/>
<line x1="413" y1="807.7" x2="416.5" y2="807.7" stroke="#333" stroke-width="1.8"/>
<line x1="413" y1="853.1" x2="416.5" y2="853.1" stroke="#333" stroke-width="1.8"/>
<line x1="430.7" y1="860.8" x2="430.7" y2="864.3" stroke="#333" stroke-width="1.8"/>
<text x="432.1" y="881.4" font-size="15.3" fill="#3d3d3d" stroke="#3d3d3d" stroke-width="0.45" text-anchor="middle">0</text>
<line x1="477.7" y1="860.8" x2="477.7" y2="864.3" stroke="#333" stroke-width="1.8"/>
<text x="480.6" y="881.4" font-size="15.3" fill="#3d3d3d" stroke="#3d3d3d" stroke-width="0.45" text-anchor="middle">50</text>
<line x1="524.8" y1="860.8" x2="524.8" y2="864.3" stroke="#333" stroke-width="1.8"/>
<text x="529.1" y="881.4" font-size="15.3" fill="#3d3d3d" stroke="#3d3d3d" stroke-width="0.45" text-anchor="middle">100</text>
<line x1="571.6" y1="860.8" x2="571.6" y2="864.3" stroke="#333" stroke-width="1.8"/>
<text x="575.9" y="881.4" font-size="15.3" fill="#3d3d3d" stroke="#3d3d3d" stroke-width="0.45" text-anchor="middle">150</text>
<line x1="618.2" y1="860.8" x2="618.2" y2="864.3" stroke="#333" stroke-width="1.8"/>
<text x="622.5" y="881.4" font-size="15.3" fill="#3d3d3d" stroke="#3d3d3d" stroke-width="0.45" text-anchor="middle">200</text>
<clipPath id="ca23"><rect x="702" y="686.5" width="240.2" height="174.3"/></clipPath>
<rect x="702" y="686.5" width="240.2" height="174.3" fill="#fff"/>
<g clip-path="url(#ca23)">
<path d="M718.7,831.3 L721.6,821.1 L724.5,809 L727.3,796.1 L730.2,783.8 L733.1,773.4 L735.9,765.8 L738.8,761.5 L741.7,760.2 L744.6,761.2 L747.4,764 L750.3,767.7 L753.2,771.9 L756,776.3 L758.9,780.6 L761.8,784.7 L764.6,788.5 L767.5,792.2 L770.4,795.7 L773.2,799.4 L776.1,803.3 L779,807.5 L781.8,812 L784.7,816.9 L787.6,821.8 L790.4,826.6 L793.3,831.1 L796.2,835.2 L799,838.7 L801.9,841.6 L804.8,843.9 L807.7,845.6 L810.5,846.7 L813.4,847.4 L816.3,847.8 L819.1,848 L822,848.1 L824.9,848.2 L827.7,848.3 L830.6,848.4 L833.5,848.6 L836.3,849 L839.2,849.5 L842.1,850.1 L844.9,850.7 L847.8,851.3 L850.7,851.9 L853.5,852.3 L856.4,852.5 L859.3,852.7 L862.1,852.8 L865,852.8 L867.9,852.9 L870.7,852.9 L873.6,852.9 L876.5,852.9 L879.4,852.9 L882.2,852.8 L885.1,852.8 L888,852.7 L890.8,852.5 L893.7,852.3 L896.6,852 L899.4,851.7 L902.3,851.4 L905.2,851.3 L908,851.3 L910.9,851.5" fill="none" stroke="#E3336E" stroke-opacity="0.9" stroke-width="3.4" stroke-linejoin="round" stroke-linecap="round"/>
<path d="M712.9,833.1 L715.7,824.6 L718.5,814.3 L721.3,802.5 L724.1,790.2 L726.9,778.8 L729.7,769.8 L732.4,764.3 L735.2,763 L738,765.2 L740.8,769.8 L743.6,775 L746.4,779.2 L749.2,781.4 L752,781.2 L754.8,779.1 L757.6,776.3 L760.4,774.2 L763.1,774 L765.9,776.7 L768.7,782.5 L771.5,791.1 L774.3,801.4 L777.1,812.4 L779.9,822.9" fill="none" stroke="#6A1470" stroke-opacity="0.9" stroke-width="3.4" stroke-linejoin="round" stroke-linecap="round"/>
<path d="M718.7,842.3 L721.6,836.2 L724.5,828.4 L727.4,819 L730.2,808.6 L733.1,797.9 L736,787.8 L738.8,779.1 L741.7,772.3 L744.6,767.7 L747.5,765.6 L750.3,765.8 L753.2,768.3 L756.1,772.6 L759,778.2 L761.8,784.4 L764.7,790.7 L767.6,796.7 L770.4,802.1 L773.3,807.2 L776.2,812.1 L779.1,816.9 L781.9,821.6 L784.8,826.2 L787.7,830.3 L790.5,833.8 L793.4,836.6 L796.3,838.8 L799.2,840.6 L802,842.1 L804.9,843.6 L807.8,845 L810.7,846.3 L813.5,847.4 L816.4,848.3 L819.3,848.9 L822.1,849.3 L825,849.5 L827.9,849.6 L830.8,849.7 L833.6,849.7 L836.5,849.7 L839.4,849.7 L842.2,849.7 L845.1,849.7 L848,849.7 L850.9,849.7 L853.7,849.7 L856.6,849.7 L859.5,849.7 L862.4,849.7 L865.2,849.7 L868.1,849.7 L871,849.7 L873.8,849.7 L876.7,849.7 L879.6,849.7 L882.5,849.7 L885.3,849.7 L888.2,849.7 L891.1,849.7 L893.9,849.7 L896.8,849.7 L899.7,849.7 L902.6,849.7 L905.4,849.7 L908.3,849.7 L911.2,849.7 L914,849.8 L916.9,849.9 L919.8,850 L922.7,850.2 L925.5,850.5 L928.4,850.9 L931.3,851.3" fill="none" stroke="#4A98E8" stroke-opacity="0.9" stroke-width="3.4" stroke-linejoin="round" stroke-linecap="round"/>
<path d="M718.7,837.8 L721.6,835.1 L724.5,832.3 L727.4,829.4 L730.2,826.4 L733.1,823.4 L736,820.6 L738.8,817.9 L741.7,815.4 L744.6,813.3 L747.5,811.6 L750.3,810.2 L753.2,809.3 L756.1,808.8 L759,808.7 L761.8,809 L764.7,809.7 L767.6,810.6 L770.4,811.7 L773.3,813.1 L776.2,814.7 L779.1,816.4 L781.9,818.2 L784.8,820.2 L787.7,822.2 L790.5,824.3 L793.4,826.4 L796.3,828.4 L799.2,830.4 L802,832.2 L804.9,833.8 L807.8,835.2 L810.7,836.3 L813.5,837.2 L816.4,837.8 L819.3,838.3 L822.1,838.5 L825,838.6 L827.9,838.5 L830.8,838.3 L833.6,838 L836.5,837.6 L839.4,837.1 L842.2,836.6 L845.1,836 L848,835.5 L850.9,835.1 L853.7,834.8 L856.6,834.6 L859.5,834.6 L862.4,834.7 L865.2,835 L868.1,835.4 L871,835.9 L873.8,836.5 L876.7,837.1 L879.6,837.7 L882.5,838.3 L885.3,838.8 L888.2,839.3 L891.1,839.9 L893.9,840.4 L896.8,841 L899.7,841.5 L902.6,842.1 L905.4,842.7 L908.3,843.3 L911.2,843.9 L914,844.4 L916.9,844.9 L919.8,845.4 L922.7,845.9 L925.5,846.4 L928.4,846.9 L931.3,847.4" fill="none" stroke="#B8C2BE" stroke-opacity="0.9" stroke-width="3.4" stroke-linejoin="round" stroke-linecap="round"/>
<g fill="#E12A69" fill-opacity="0.7">
<rect x="720.2" y="829.1" width="7.3" height="23.8"/>
<rect x="727.5" y="757.8" width="7.3" height="95.1"/>
<rect x="734.8" y="738.8" width="7.3" height="114.1"/>
<rect x="742" y="765.7" width="14.6" height="87.1"/>
<rect x="756.6" y="789.5" width="14.6" height="63.4"/>
<rect x="771.1" y="802.2" width="7.3" height="50.7"/>
<rect x="778.4" y="806.9" width="7.3" height="46"/>
<rect x="785.7" y="829.1" width="7.3" height="23.8"/>
<rect x="793" y="837" width="7.3" height="15.8"/>
<rect x="800.3" y="848.1" width="43.7" height="4.8"/>
<rect x="902.2" y="848.1" width="7.3" height="4.8"/>
</g>
<g fill="#6E0E78" fill-opacity="0.7">
<rect x="712.9" y="829.1" width="7.3" height="23.8"/>
<rect x="720.2" y="821.2" width="7.3" height="31.7"/>
<rect x="727.5" y="694.4" width="7.3" height="158.5"/>
<rect x="734.8" y="757.8" width="7.3" height="95.1"/>
<rect x="742" y="805.3" width="14.6" height="47.5"/>
<rect x="756.6" y="748.3" width="14.6" height="104.6"/>
<rect x="771.1" y="805.3" width="7.3" height="47.5"/>
</g>
<g fill="#499CEC" fill-opacity="0.7">
<rect x="720.2" y="845" width="7.3" height="7.9"/>
<rect x="727.5" y="805.3" width="7.3" height="47.5"/>
<rect x="734.8" y="765.7" width="7.3" height="87.1"/>
<rect x="742" y="757.8" width="7.3" height="95.1"/>
<rect x="749.3" y="753.1" width="7.3" height="99.8"/>
<rect x="756.6" y="781.6" width="7.3" height="71.3"/>
<rect x="763.9" y="805.3" width="14.6" height="47.5"/>
<rect x="778.4" y="821.2" width="7.3" height="31.7"/>
<rect x="785.7" y="840.2" width="21.8" height="12.7"/>
<rect x="807.5" y="849.7" width="123.7" height="3.2"/>
</g>
<g fill="#BCCAC4" fill-opacity="0.7">
<rect x="720.2" y="825.9" width="7.3" height="26.9"/>
<rect x="727.5" y="837" width="7.3" height="15.8"/>
<rect x="734.8" y="805.3" width="21.8" height="47.5"/>
<rect x="756.6" y="770.5" width="7.3" height="82.4"/>
<rect x="763.9" y="825.9" width="21.8" height="26.9"/>
<rect x="785.7" y="770.5" width="7.3" height="82.4"/>
<rect x="814.8" y="825.9" width="14.6" height="26.9"/>
<rect x="843.9" y="825.9" width="29.1" height="26.9"/>
<rect x="887.6" y="825.9" width="14.6" height="26.9"/>
<rect x="924" y="825.9" width="7.3" height="26.9"/>
</g>
</g>
<rect x="702" y="686.5" width="240.2" height="174.3" fill="none" stroke="#333835" stroke-width="1.7"/>
<rect x="702" y="665" width="240.2" height="21.5" fill="#D3DCD8" stroke="#2E3834" stroke-width="1.7"/>
<text x="805.1" y="680.8" font-size="15.8" fill="#111" stroke="#111" stroke-width="0.55" text-anchor="middle">SIM</text>
<line x1="698.5" y1="695.5" x2="702" y2="695.5" stroke="#333" stroke-width="1.8"/>
<line x1="698.5" y1="748.2" x2="702" y2="748.2" stroke="#333" stroke-width="1.8"/>
<line x1="698.5" y1="800.4" x2="702" y2="800.4" stroke="#333" stroke-width="1.8"/>
<line x1="698.5" y1="853.1" x2="702" y2="853.1" stroke="#333" stroke-width="1.8"/>
<line x1="716.2" y1="860.8" x2="716.2" y2="864.3" stroke="#333" stroke-width="1.8"/>
<text x="723.5" y="881.4" font-size="15.3" fill="#3d3d3d" stroke="#3d3d3d" stroke-width="0.45" text-anchor="middle">0e+00</text>
<line x1="797.5" y1="860.8" x2="797.5" y2="864.3" stroke="#333" stroke-width="1.8"/>
<text x="804.8" y="881.4" font-size="15.3" fill="#3d3d3d" stroke="#3d3d3d" stroke-width="0.45" text-anchor="middle">5e+04</text>
<line x1="879.2" y1="860.8" x2="879.2" y2="864.3" stroke="#333" stroke-width="1.8"/>
<text x="886.5" y="881.4" font-size="15.3" fill="#3d3d3d" stroke="#3d3d3d" stroke-width="0.45" text-anchor="middle">1e+05</text>
<clipPath id="cb00"><rect x="134" y="937.2" width="234" height="174.1"/></clipPath>
<rect x="134" y="937.2" width="234" height="174.1" fill="#fff"/>
<g clip-path="url(#cb00)">
<path d="M207,1072.2 L209.9,1066 L212.7,1060.6 L215.5,1056.5 L218.4,1053.4 L221.2,1051.1 L224.1,1048.7 L226.9,1045.9 L229.7,1042.2 L232.6,1037.8 L235.4,1033.4 L238.2,1029.8 L241.1,1028.2 L243.9,1029.3 L246.7,1033.6 L249.6,1040.8 L252.4,1050.2" fill="none" stroke="#D8A632" stroke-opacity="0.9" stroke-width="3.4" stroke-linejoin="round" stroke-linecap="round"/>
<path d="M164.5,1092.2 L167.3,1089.1 L170.1,1085.7 L172.9,1081.9 L175.7,1077.9 L178.5,1073.5 L181.3,1068.8 L184.1,1064.2 L186.9,1060 L189.6,1056.4 L192.4,1053.9 L195.2,1052.6 L198,1052.4 L200.8,1053 L203.6,1054.3 L206.4,1055.8 L209.2,1057.4 L212,1059 L214.8,1060.9 L217.6,1063 L220.4,1065.6 L223.2,1068.6 L226,1072 L228.8,1075.4 L231.6,1078.8 L234.4,1081.9 L237.2,1084.6 L240,1087.1 L242.8,1089.3 L245.6,1091.4 L248.3,1093.4 L251.1,1095.4 L253.9,1097.2 L256.7,1098.9 L259.5,1100.3 L262.3,1101.3 L265.1,1102.1 L267.9,1102.7 L270.7,1103 L273.5,1103.2 L276.3,1103.3 L279.1,1103.3 L281.9,1103.4 L284.7,1103.4 L287.5,1103.4 L290.3,1103.4 L293.1,1103.4 L295.9,1103.4 L298.7,1103.4 L301.5,1103.4 L304.3,1103.4 L307,1103.4 L309.8,1103.4 L312.6,1103.4 L315.4,1103.4 L318.2,1103.4 L321,1103.4 L323.8,1103.3 L326.6,1103.3 L329.4,1103.2 L332.2,1103.1 L335,1102.8 L337.8,1102.5 L340.6,1102.1 L343.4,1101.6 L346.2,1101.1 L349,1100.6 L351.8,1100.4 L354.6,1100.3 L357.4,1100.5" fill="none" stroke="#EF4A2A" stroke-opacity="0.9" stroke-width="3.4" stroke-linejoin="round" stroke-linecap="round"/>
<path d="M144.6,1099 L147.4,1098.1 L150.2,1097.2 L153,1096.3 L155.8,1095.3 L158.6,1094.2 L161.4,1093 L164.2,1091.5 L167,1089.7 L169.8,1087.6 L172.6,1085.2 L175.4,1082.5 L178.2,1079.7 L181,1076.7 L183.8,1073.8 L186.6,1070.9 L189.4,1068.3 L192.2,1066 L195,1064.3 L197.8,1063.2 L200.6,1062.9 L203.4,1063.5 L206.2,1064.9 L209,1067 L211.8,1069.6 L214.6,1072.5 L217.4,1075.5 L220.2,1078.3 L223,1080.7 L225.8,1082.8 L228.6,1084.3 L231.4,1085.4 L234.2,1086.2 L237,1086.6 L239.8,1086.8 L242.6,1086.9 L245.4,1086.8 L248.2,1086.6 L251,1086.4 L253.8,1086.2 L256.6,1085.8 L259.4,1085.5 L262.2,1085 L265,1084.5 L267.8,1084.1 L270.6,1083.7 L273.4,1083.5 L276.2,1083.4 L279,1083.5 L281.8,1083.8 L284.6,1084.2 L287.4,1084.5 L290.2,1084.8 L293,1084.8 L295.8,1084.8 L298.6,1084.6 L301.4,1084.4 L304.2,1084.4 L307,1084.6 L309.8,1085.1 L312.6,1086 L315.4,1087.1 L318.2,1088.5 L321,1089.9 L323.8,1091.4 L326.6,1092.7 L329.4,1093.8 L332.2,1094.7 L335,1095.6 L337.8,1096.2 L340.6,1096.9 L343.4,1097.4 L346.2,1098 L349,1098.5 L351.8,1099.1 L354.6,1099.6 L357.4,1100.2" fill="none" stroke="#6A94E8" stroke-opacity="0.9" stroke-width="3.4" stroke-linejoin="round" stroke-linecap="round"/>
<path d="M185.8,1095.9 L188.5,1094.1 L191.3,1092.2 L194.1,1090.2 L196.9,1088.2 L199.7,1086.2 L202.5,1084.1 L205.2,1082.1 L208,1080 L210.8,1077.9 L213.6,1075.9 L216.4,1073.8 L219.1,1071.9 L221.9,1070 L224.7,1068.3 L227.5,1066.7 L230.3,1065.4 L233.1,1064.6 L235.8,1064.2 L238.6,1064.4 L241.4,1065.2 L244.2,1066.6 L247,1068.4 L249.7,1070.6 L252.5,1072.8 L255.3,1074.9 L258.1,1076.9 L260.9,1078.5 L263.7,1079.9 L266.4,1080.9 L269.2,1081.6 L272,1082.1 L274.8,1082.6 L277.6,1082.9 L280.3,1083.3 L283.1,1083.6 L285.9,1083.9 L288.7,1084.2 L291.5,1084.6 L294.3,1085 L297,1085.5 L299.8,1086.1 L302.6,1086.8 L305.4,1087.7 L308.2,1088.6 L310.9,1089.5 L313.7,1090.5 L316.5,1091.5 L319.3,1092.6 L322.1,1093.8 L324.9,1095 L327.6,1096.3 L330.4,1097.6" fill="none" stroke="#66E02A" stroke-opacity="0.9" stroke-width="3.4" stroke-linejoin="round" stroke-linecap="round"/>
<path d="M144.6,1100.9 L147.4,1100.3 L150.2,1099.7 L153,1098.9 L155.8,1098 L158.6,1096.8 L161.4,1095.1 L164.2,1093 L167,1090.3 L169.8,1087 L172.6,1083.1 L175.4,1078.9 L178.2,1074.3 L181,1069.5 L183.8,1064.5 L186.6,1059.5 L189.4,1054.7 L192.2,1050.4 L195,1046.9 L197.8,1044.3 L200.6,1042.9 L203.4,1042.7 L206.2,1043.3 L209,1044.7 L211.8,1046.4 L214.6,1048.4 L217.4,1050.5 L220.2,1052.8 L223,1055.1 L225.8,1057.7 L228.6,1060.3 L231.4,1062.9 L234.2,1065.4 L237,1067.8 L239.8,1070 L242.6,1072 L245.4,1073.8 L248.2,1075.5 L251,1077.1 L253.8,1078.7 L256.6,1080.5 L259.4,1082.3 L262.2,1084.1 L265,1086 L267.8,1087.8 L270.6,1089.5 L273.4,1091 L276.2,1092.2 L279,1093.2 L281.8,1094 L284.6,1094.6 L287.4,1095 L290.2,1095.4 L293,1095.7 L295.8,1095.9 L298.6,1096.3 L301.4,1096.7 L304.2,1097.2 L307,1097.7 L309.8,1098.2 L312.6,1098.7 L315.4,1099.2 L318.2,1099.5 L321,1099.8 L323.8,1100 L326.6,1100.1 L329.4,1100.2 L332.2,1100.2 L335,1100.2 L337.8,1100.3 L340.6,1100.4 L343.4,1100.5 L346.2,1100.6 L349,1100.9 L351.8,1101.1 L354.6,1101.5 L357.4,1101.8" fill="none" stroke="#2277A8" stroke-opacity="0.9" stroke-width="3.4" stroke-linejoin="round" stroke-linecap="round"/>
<g fill="#D3AE36" fill-opacity="0.7">
<rect x="208.5" y="1024.3" width="14.2" height="79.1"/>
<rect x="229.7" y="1024.3" width="14.2" height="79.1"/>
<rect x="243.9" y="945.1" width="7.1" height="158.3"/>
</g>
<g fill="#EF442A" fill-opacity="0.7">
<rect x="165.9" y="1076.5" width="7.1" height="26.9"/>
<rect x="173" y="1087.6" width="7.1" height="15.8"/>
<rect x="180.1" y="1071.7" width="7.1" height="31.7"/>
<rect x="187.2" y="1030.6" width="7.1" height="72.8"/>
<rect x="194.3" y="1048" width="7.1" height="55.4"/>
<rect x="201.4" y="1055.9" width="7.1" height="47.5"/>
<rect x="208.5" y="1071.7" width="7.1" height="31.7"/>
<rect x="215.5" y="1040.1" width="7.1" height="63.3"/>
<rect x="222.6" y="1079.6" width="7.1" height="23.7"/>
<rect x="229.7" y="1087.6" width="21.3" height="15.8"/>
<rect x="350.3" y="1092.3" width="7.1" height="11.1"/>
</g>
<g fill="#6691E7" fill-opacity="0.7">
<rect x="144.6" y="1093.9" width="7.1" height="9.5"/>
<rect x="151.7" y="1095.5" width="21.3" height="7.9"/>
<rect x="173" y="1079.6" width="7.1" height="23.7"/>
<rect x="180.1" y="1071.7" width="14.2" height="31.7"/>
<rect x="194.3" y="1048" width="7.1" height="55.4"/>
<rect x="201.4" y="1055.9" width="7.1" height="47.5"/>
<rect x="208.5" y="1063.8" width="7.1" height="39.6"/>
<rect x="215.5" y="1087.6" width="35.5" height="15.8"/>
<rect x="251" y="1084.4" width="7.1" height="19"/>
<rect x="258.1" y="1087.6" width="14.2" height="15.8"/>
<rect x="272.3" y="1071.7" width="7.1" height="31.7"/>
<rect x="279.4" y="1087.6" width="21.3" height="15.8"/>
<rect x="300.6" y="1084.4" width="7.1" height="19"/>
<rect x="307.7" y="1070.1" width="7.1" height="33.2"/>
<rect x="314.8" y="1095.5" width="21.3" height="7.9"/>
<rect x="336.1" y="1093.9" width="7.1" height="9.5"/>
<rect x="350.3" y="1093.9" width="7.1" height="9.5"/>
</g>
<g fill="#63E724" fill-opacity="0.7">
<rect x="187.2" y="1087.6" width="21.3" height="15.8"/>
<rect x="208.5" y="1071.7" width="21.3" height="31.7"/>
<rect x="229.7" y="1055.9" width="14.2" height="47.5"/>
<rect x="243.9" y="1065.4" width="7.1" height="38"/>
<rect x="251" y="1079.6" width="7.1" height="23.7"/>
<rect x="258.1" y="1084.4" width="14.2" height="19"/>
<rect x="272.3" y="1076.5" width="7.1" height="26.9"/>
<rect x="279.4" y="1087.6" width="14.2" height="15.8"/>
<rect x="293.5" y="1076.5" width="7.1" height="26.9"/>
<rect x="300.6" y="1090.7" width="28.4" height="12.7"/>
</g>
<g fill="#247AAB" fill-opacity="0.7">
<rect x="144.6" y="1098.6" width="28.4" height="4.7"/>
<rect x="173" y="1068.6" width="7.1" height="34.8"/>
<rect x="180.1" y="1071.7" width="7.1" height="31.7"/>
<rect x="187.2" y="1055.9" width="7.1" height="47.5"/>
<rect x="194.3" y="1019.5" width="7.1" height="83.9"/>
<rect x="201.4" y="1040.1" width="7.1" height="63.3"/>
<rect x="208.5" y="1055.9" width="7.1" height="47.5"/>
<rect x="215.5" y="1041.7" width="7.1" height="61.7"/>
<rect x="222.6" y="1060.7" width="7.1" height="42.7"/>
<rect x="229.7" y="1065.4" width="7.1" height="38"/>
<rect x="236.8" y="1071.7" width="7.1" height="31.7"/>
<rect x="243.9" y="1079.6" width="7.1" height="23.7"/>
<rect x="251" y="1071.7" width="7.1" height="31.7"/>
<rect x="258.1" y="1087.6" width="14.2" height="15.8"/>
<rect x="272.3" y="1095.5" width="35.5" height="7.9"/>
<rect x="307.7" y="1100.2" width="49.6" height="3.2"/>
</g>
</g>
<rect x="134" y="937.2" width="234" height="174.1" fill="none" stroke="#333835" stroke-width="1.7"/>
<rect x="134" y="915.7" width="234" height="21.5" fill="#D3DCD8" stroke="#2E3834" stroke-width="1.7"/>
<text x="260.5" y="931.5" font-size="15.8" fill="#111" stroke="#111" stroke-width="0.55" text-anchor="middle">Cascades_negative</text>
<line x1="130.5" y1="977.4" x2="134" y2="977.4" stroke="#333" stroke-width="1.8"/>
<line x1="130.5" y1="1019.5" x2="134" y2="1019.5" stroke="#333" stroke-width="1.8"/>
<line x1="130.5" y1="1061.7" x2="134" y2="1061.7" stroke="#333" stroke-width="1.8"/>
<line x1="130.5" y1="1104" x2="134" y2="1104" stroke="#333" stroke-width="1.8"/>
<line x1="141.3" y1="1111.3" x2="141.3" y2="1114.8" stroke="#333" stroke-width="1.8"/>
<text x="142.7" y="1131.9" font-size="15.3" fill="#3d3d3d" stroke="#3d3d3d" stroke-width="0.45" text-anchor="middle">0</text>
<line x1="221.4" y1="1111.3" x2="221.4" y2="1114.8" stroke="#333" stroke-width="1.8"/>
<text x="225.7" y="1131.9" font-size="15.3" fill="#3d3d3d" stroke="#3d3d3d" stroke-width="0.45" text-anchor="middle">500</text>
<line x1="301.8" y1="1111.3" x2="301.8" y2="1114.8" stroke="#333" stroke-width="1.8"/>
<text x="307.6" y="1131.9" font-size="15.3" fill="#3d3d3d" stroke="#3d3d3d" stroke-width="0.45" text-anchor="middle">1000</text>
<clipPath id="cb10"><rect x="416.9" y="937.2" width="233.5" height="174.1"/></clipPath>
<rect x="416.9" y="937.2" width="233.5" height="174.1" fill="#fff"/>
<g clip-path="url(#cb10)">
<path d="M511,1055.5 L513.8,1052.2 L516.6,1049.6 L519.4,1047.6 L522.2,1046.3 L525,1045.8 L527.8,1045.9 L530.6,1046.8 L533.4,1048.3 L536.2,1050.2 L538.9,1052.5 L541.7,1055 L544.5,1057.6 L547.3,1060.3 L550.1,1062.9 L552.9,1065.4 L555.7,1067.7 L558.5,1069.9 L561.3,1071.9 L564.1,1073.8 L566.9,1075.5 L569.7,1077.1 L572.5,1078.5 L575.3,1079.8 L578.1,1080.9 L580.9,1081.9 L583.7,1082.7 L586.4,1083.2 L589.2,1083.6 L592,1083.8 L594.8,1083.8 L597.6,1083.7 L600.4,1083.4 L603.2,1083.2 L606,1083 L608.8,1082.9 L611.6,1082.9 L614.4,1083.1 L617.2,1083.6 L620,1084.2" fill="none" stroke="#D8A632" stroke-opacity="0.9" stroke-width="3.4" stroke-linejoin="round" stroke-linecap="round"/>
<path d="M454.4,1084.6 L457.2,1079 L460,1073.1 L462.8,1067.3 L465.6,1061.9 L468.4,1057.2 L471.3,1053.1 L474.1,1049.6 L476.9,1046.6 L479.7,1043.8 L482.5,1041.1 L485.3,1038.3 L488.1,1035.2 L490.9,1031.9 L493.7,1028.2 L496.5,1024.4 L499.3,1020.8 L502.2,1017.8 L505,1016.2 L507.8,1016.5 L510.6,1019 L513.4,1023.7 L516.2,1030.1 L519,1037.6 L521.8,1045.3 L524.6,1052.6 L527.4,1058.9 L530.2,1064.1 L533,1068.2 L535.9,1071.4 L538.7,1074.1 L541.5,1076.5 L544.3,1078.9 L547.1,1081.4 L549.9,1084.1 L552.7,1086.7 L555.5,1089.1 L558.3,1091.3 L561.1,1093.1 L563.9,1094.5 L566.8,1095.5 L569.6,1096.2 L572.4,1096.6 L575.2,1096.8 L578,1096.9 L580.8,1096.9 L583.6,1096.9 L586.4,1096.7 L589.2,1096.5 L592,1096.1 L594.8,1095.5 L597.7,1094.9 L600.5,1094.2 L603.3,1093.4 L606.1,1092.8 L608.9,1092.5 L611.7,1092.5 L614.5,1092.9 L617.3,1093.5 L620.1,1094.5 L622.9,1095.5 L625.7,1096.6 L628.6,1097.6 L631.4,1098.5 L634.2,1099.4 L637,1100.1 L639.8,1100.8" fill="none" stroke="#EF4A2A" stroke-opacity="0.9" stroke-width="3.4" stroke-linejoin="round" stroke-linecap="round"/>
<path d="M427.5,1096.8 L430.3,1095.4 L433.1,1094.3 L435.9,1093.1 L438.7,1091.6 L441.5,1089.7 L444.3,1086.9 L447.1,1083 L449.9,1077.7 L452.7,1070.2 L455.4,1060.1 L458.2,1047.2 L461,1032.2 L463.8,1016.6 L466.6,1002.6 L469.4,992.2 L472.2,986.7 L475,986.3 L477.8,990.1 L480.6,996.4 L483.4,1003.6 L486.2,1010.2 L489,1015.4 L491.8,1019 L494.5,1021.1 L497.3,1021.9 L500.1,1021.7 L502.9,1020.7 L505.7,1019.5 L508.5,1018.6 L511.3,1019 L514.1,1021.6 L516.9,1026.9 L519.7,1034.8 L522.5,1044.5 L525.3,1054.9 L528.1,1064.5 L530.9,1072.5 L533.6,1078.5 L536.4,1082.5 L539.2,1085 L542,1086.3 L544.8,1086.8 L547.6,1086.8 L550.4,1086.4 L553.2,1085.6 L556,1084.7 L558.8,1083.6 L561.6,1082.7 L564.4,1082.4 L567.2,1082.9 L570,1084.1 L572.8,1086.1 L575.5,1088.5 L578.3,1090.8 L581.1,1092.9 L583.9,1094.5 L586.7,1095.6 L589.5,1096.3 L592.3,1096.7 L595.1,1096.9 L597.9,1097 L600.7,1097 L603.5,1097.1 L606.3,1097.1 L609.1,1097.1 L611.9,1097.1 L614.6,1097.1 L617.4,1097.1 L620.2,1097.1 L623,1097.2 L625.8,1097.3 L628.6,1097.6 L631.4,1098 L634.2,1098.6 L637,1099.4 L639.8,1100.2" fill="none" stroke="#6A94E8" stroke-opacity="0.9" stroke-width="3.4" stroke-linejoin="round" stroke-linecap="round"/>
<path d="M447.3,1089.7 L450.1,1085.4 L452.9,1081.4 L455.7,1077.8 L458.5,1074.9 L461.3,1072.3 L464.1,1069.7 L466.9,1066.3 L469.6,1061.6 L472.4,1054.9 L475.2,1046.3 L478,1035.8 L480.8,1024.2 L483.6,1012.3 L486.4,1001.3 L489.2,992.2 L492,985.8 L494.7,982.6 L497.5,982.5 L500.3,985 L503.1,989.2 L505.9,994.3 L508.7,999.7 L511.5,1005.3 L514.3,1011.2 L517.1,1017.8 L519.8,1025.3 L522.6,1033.6 L525.4,1042.5 L528.2,1051.5 L531,1060.3 L533.8,1068.4 L536.6,1075.7 L539.4,1081.9 L542.2,1087.1 L545,1091.1 L547.7,1094 L550.5,1096 L553.3,1097.3 L556.1,1098 L558.9,1098.4 L561.7,1098.5 L564.5,1098.6 L567.3,1098.6 L570.1,1098.6 L572.8,1098.6 L575.6,1098.6 L578.4,1098.6 L581.2,1098.6 L584,1098.6 L586.8,1098.6 L589.6,1098.6 L592.4,1098.6 L595.2,1098.6 L597.9,1098.6 L600.7,1098.6 L603.5,1098.6 L606.3,1098.6 L609.1,1098.6 L611.9,1098.6 L614.7,1098.6 L617.5,1098.7 L620.3,1098.7 L623.1,1098.7 L625.8,1098.9 L628.6,1099.1 L631.4,1099.4 L634.2,1099.8 L637,1100.4 L639.8,1101" fill="none" stroke="#66E02A" stroke-opacity="0.9" stroke-width="3.4" stroke-linejoin="round" stroke-linecap="round"/>
<path d="M433.2,1099.1 L436,1097.5 L438.8,1095.3 L441.5,1092.4 L444.3,1088.5 L447.1,1083.5 L449.9,1077.1 L452.7,1069.5 L455.5,1060.9 L458.3,1051.7 L461.1,1042.6 L463.9,1034.1 L466.7,1026.8 L469.5,1021.1 L472.3,1017.3 L475.1,1015.3 L477.8,1015.1 L480.6,1016.3 L483.4,1018.5 L486.2,1021.4 L489,1024.6 L491.8,1028 L494.6,1031.4 L497.4,1034.7 L500.2,1038.1 L503,1041.5 L505.8,1045.1 L508.6,1048.8 L511.4,1052.7 L514.1,1056.7 L516.9,1060.8 L519.7,1064.8 L522.5,1068.7 L525.3,1072.3 L528.1,1075.7 L530.9,1078.8 L533.7,1081.5 L536.5,1083.9 L539.3,1085.8 L542.1,1087.3 L544.9,1088.1 L547.6,1088.4 L550.4,1088 L553.2,1087 L556,1085.4 L558.8,1083.7 L561.6,1082.1 L564.4,1081 L567.2,1080.7 L570,1081.3 L572.8,1082.7 L575.6,1084.9 L578.4,1087.3 L581.2,1089.7 L583.9,1091.9 L586.7,1093.7 L589.5,1095 L592.3,1095.9 L595.1,1096.4 L597.9,1096.7 L600.7,1096.9 L603.5,1097 L606.3,1097 L609.1,1097 L611.9,1096.9 L614.7,1096.9 L617.5,1096.8 L620.2,1096.8 L623,1096.8 L625.8,1096.9 L628.6,1097.1 L631.4,1097.5 L634.2,1098.1 L637,1098.8 L639.8,1099.6" fill="none" stroke="#2277A8" stroke-opacity="0.9" stroke-width="3.4" stroke-linejoin="round" stroke-linecap="round"/>
<g fill="#D3AE36" fill-opacity="0.7">
<rect x="512.4" y="960.9" width="21.2" height="142.4"/>
<rect x="562" y="960.9" width="7.1" height="142.4"/>
<rect x="611.5" y="960.9" width="7.1" height="142.4"/>
</g>
<g fill="#EF442A" fill-opacity="0.7">
<rect x="455.8" y="1071.7" width="7.1" height="31.7"/>
<rect x="462.9" y="1048" width="21.2" height="55.4"/>
<rect x="484.1" y="1032.2" width="21.2" height="71.2"/>
<rect x="505.3" y="956.2" width="7.1" height="147.2"/>
<rect x="512.4" y="1040.1" width="7.1" height="63.3"/>
<rect x="519.5" y="1055.9" width="7.1" height="47.5"/>
<rect x="526.6" y="1079.6" width="7.1" height="23.7"/>
<rect x="533.6" y="1071.7" width="14.2" height="31.7"/>
<rect x="547.8" y="1087.6" width="7.1" height="15.8"/>
<rect x="554.9" y="1097.1" width="49.5" height="6.3"/>
<rect x="604.4" y="1087.6" width="14.2" height="15.8"/>
<rect x="618.6" y="1098.6" width="21.2" height="4.7"/>
</g>
<g fill="#6691E7" fill-opacity="0.7">
<rect x="427.5" y="1084.4" width="7.1" height="19"/>
<rect x="441.7" y="1084.4" width="7.1" height="19"/>
<rect x="448.7" y="1079.6" width="14.2" height="23.7"/>
<rect x="462.9" y="965.7" width="7.1" height="137.7"/>
<rect x="470" y="945.1" width="7.1" height="158.3"/>
<rect x="477" y="1008.4" width="7.1" height="95"/>
<rect x="484.1" y="1024.3" width="28.3" height="79.1"/>
<rect x="512.4" y="984.7" width="7.1" height="118.7"/>
<rect x="519.5" y="1055.9" width="7.1" height="47.5"/>
<rect x="526.6" y="1087.6" width="35.4" height="15.8"/>
<rect x="562" y="1071.7" width="7.1" height="31.7"/>
<rect x="569" y="1084.4" width="7.1" height="19"/>
<rect x="576.1" y="1097.1" width="63.7" height="6.3"/>
</g>
<g fill="#63E724" fill-opacity="0.7">
<rect x="448.7" y="1071.7" width="28.3" height="31.7"/>
<rect x="477" y="1024.3" width="7.1" height="79.1"/>
<rect x="484.1" y="987.8" width="7.1" height="115.5"/>
<rect x="491.2" y="953" width="7.1" height="150.4"/>
<rect x="498.3" y="987.8" width="7.1" height="115.5"/>
<rect x="505.3" y="1008.4" width="7.1" height="95"/>
<rect x="512.4" y="1002.1" width="7.1" height="101.3"/>
<rect x="519.5" y="1032.2" width="7.1" height="71.2"/>
<rect x="526.6" y="1063.8" width="7.1" height="39.6"/>
<rect x="533.6" y="1079.6" width="7.1" height="23.7"/>
<rect x="540.7" y="1098.6" width="99.1" height="4.7"/>
</g>
<g fill="#247AAB" fill-opacity="0.7">
<rect x="434.6" y="1095.5" width="21.2" height="7.9"/>
<rect x="455.8" y="1033.7" width="7.1" height="69.6"/>
<rect x="462.9" y="1022.7" width="7.1" height="80.7"/>
<rect x="470" y="987.8" width="7.1" height="115.5"/>
<rect x="477" y="1016.3" width="7.1" height="87"/>
<rect x="484.1" y="1024.3" width="7.1" height="79.1"/>
<rect x="491.2" y="1032.2" width="7.1" height="71.2"/>
<rect x="498.3" y="1040.1" width="7.1" height="63.3"/>
<rect x="505.3" y="1044.8" width="7.1" height="58.6"/>
<rect x="512.4" y="1060.7" width="7.1" height="42.7"/>
<rect x="519.5" y="1071.7" width="7.1" height="31.7"/>
<rect x="526.6" y="1079.6" width="7.1" height="23.7"/>
<rect x="533.6" y="1087.6" width="7.1" height="15.8"/>
<rect x="540.7" y="1090.7" width="7.1" height="12.7"/>
<rect x="547.8" y="1093.9" width="14.2" height="9.5"/>
<rect x="562" y="1059.1" width="7.1" height="44.3"/>
<rect x="569" y="1076.5" width="7.1" height="26.9"/>
<rect x="576.1" y="1097.1" width="49.5" height="6.3"/>
<rect x="625.6" y="1095.5" width="14.2" height="7.9"/>
</g>
</g>
<rect x="416.9" y="937.2" width="233.5" height="174.1" fill="none" stroke="#333835" stroke-width="1.7"/>
<rect x="416.9" y="915.7" width="233.5" height="21.5" fill="#D3DCD8" stroke="#2E3834" stroke-width="1.7"/>
<text x="542.2" y="931.5" font-size="15.8" fill="#111" stroke="#111" stroke-width="0.55" text-anchor="middle">Cascades_positive</text>
<line x1="413.4" y1="951.6" x2="416.9" y2="951.6" stroke="#333" stroke-width="1.8"/>
<line x1="413.4" y1="1002.4" x2="416.9" y2="1002.4" stroke="#333" stroke-width="1.8"/>
<line x1="413.4" y1="1053.1" x2="416.9" y2="1053.1" stroke="#333" stroke-width="1.8"/>
<line x1="413.4" y1="1104" x2="416.9" y2="1104" stroke="#333" stroke-width="1.8"/>
<line x1="431.1" y1="1111.3" x2="431.1" y2="1114.8" stroke="#333" stroke-width="1.8"/>
<text x="432.5" y="1131.9" font-size="15.3" fill="#3d3d3d" stroke="#3d3d3d" stroke-width="0.45" text-anchor="middle">0</text>
<line x1="478.9" y1="1111.3" x2="478.9" y2="1114.8" stroke="#333" stroke-width="1.8"/>
<text x="484.7" y="1131.9" font-size="15.3" fill="#3d3d3d" stroke="#3d3d3d" stroke-width="0.45" text-anchor="middle">1000</text>
<line x1="526.7" y1="1111.3" x2="526.7" y2="1114.8" stroke="#333" stroke-width="1.8"/>
<text x="532.5" y="1131.9" font-size="15.3" fill="#3d3d3d" stroke="#3d3d3d" stroke-width="0.45" text-anchor="middle">2000</text>
<line x1="574" y1="1111.3" x2="574" y2="1114.8" stroke="#333" stroke-width="1.8"/>
<text x="579.8" y="1131.9" font-size="15.3" fill="#3d3d3d" stroke="#3d3d3d" stroke-width="0.45" text-anchor="middle">3000</text>
<line x1="621.8" y1="1111.3" x2="621.8" y2="1114.8" stroke="#333" stroke-width="1.8"/>
<text x="627.6" y="1131.9" font-size="15.3" fill="#3d3d3d" stroke="#3d3d3d" stroke-width="0.45" text-anchor="middle">4000</text>
<clipPath id="cb20"><rect x="698.9" y="937.2" width="233.4" height="174.1"/></clipPath>
<rect x="698.9" y="937.2" width="233.4" height="174.1" fill="#fff"/>
<g clip-path="url(#cb20)">
<path d="M764.7,1062.2 L767.5,1053.5 L770.3,1046.4 L773.2,1042 L776,1040.8 L778.8,1042.5 L781.7,1046.2 L784.5,1050.6 L787.3,1054.6 L790.1,1057.3 L793,1058.6 L795.8,1059 L798.6,1059.3 L801.5,1060.6 L804.3,1063.3 L807.1,1067.6 L809.9,1073.1" fill="none" stroke="#D8A632" stroke-opacity="0.9" stroke-width="3.4" stroke-linejoin="round" stroke-linecap="round"/>
<path d="M722.2,1091.8 L725,1086.7 L727.8,1081 L730.5,1075.2 L733.3,1069.6 L736,1064.8 L738.8,1060.8 L741.6,1057.6 L744.3,1055.1 L747.1,1053 L749.9,1051.2 L752.6,1049.8 L755.4,1049 L758.1,1048.9 L760.9,1049.6 L763.7,1051.1 L766.4,1053.3 L769.2,1056 L772,1059 L774.7,1062.3 L777.5,1065.8 L780.2,1069.3 L783,1072.8 L785.8,1076.2 L788.5,1079.5 L791.3,1082.7 L794,1085.7 L796.8,1088.4 L799.6,1090.7 L802.3,1092.5 L805.1,1093.8 L807.9,1094.6 L810.6,1095.1 L813.4,1095.3 L816.1,1095.4 L818.9,1095.6 L821.7,1095.7 L824.4,1096 L827.2,1096.4 L829.9,1097.1 L832.7,1097.9 L835.5,1098.9 L838.2,1100" fill="none" stroke="#EF4A2A" stroke-opacity="0.9" stroke-width="3.4" stroke-linejoin="round" stroke-linecap="round"/>
<path d="M709.5,1095 L712.3,1089.8 L715,1082.9 L717.8,1074.2 L720.6,1064 L723.3,1053 L726.1,1042.1 L728.9,1032.8 L731.6,1026.5 L734.4,1024.5 L737.2,1026.9 L739.9,1033.3 L742.7,1042.5 L745.5,1052.8 L748.2,1062.8 L751,1071.3 L753.7,1077.8 L756.5,1082.3 L759.3,1085 L762,1086.6 L764.8,1087.5 L767.6,1088 L770.3,1088.6 L773.1,1089.1 L775.9,1089.7 L778.6,1090.1 L781.4,1090.5 L784.2,1090.9 L786.9,1091.5 L789.7,1092.2 L792.5,1093.1 L795.2,1094.2 L798,1095.2 L800.7,1096 L803.5,1096.6 L806.3,1096.8 L809,1097 L811.8,1097.1 L814.6,1097.1 L817.3,1097.2 L820.1,1097.5 L822.9,1098 L825.6,1098.7 L828.4,1099.7 L831.2,1100.8" fill="none" stroke="#6A94E8" stroke-opacity="0.9" stroke-width="3.4" stroke-linejoin="round" stroke-linecap="round"/>
<path d="M722.2,1096.3 L725.1,1091.4 L727.9,1085.5 L730.7,1078.8 L733.6,1071.4 L736.4,1062.9 L739.2,1053.2 L742,1042 L744.9,1029 L747.7,1014.4 L750.5,1000.4 L753.4,991.2 L756.2,991.3 L759,1001.7 L761.8,1018.6 L764.7,1036.9 L767.5,1053.6 L770.3,1067.9 L773.2,1079.8 L776,1089.2 L778.8,1095.7 L781.7,1099.8" fill="none" stroke="#66E02A" stroke-opacity="0.9" stroke-width="3.4" stroke-linejoin="round" stroke-linecap="round"/>
<path d="M715.2,1093.9 L718,1088.5 L720.7,1081.5 L723.5,1073.2 L726.3,1064 L729.1,1054.9 L731.9,1046.6 L734.7,1039.9 L737.5,1035.1 L740.3,1032.4 L743.1,1031.5 L745.9,1032.1 L748.7,1034.1 L751.4,1037.1 L754.2,1041.1 L757,1045.9 L759.8,1051.4 L762.6,1057.4 L765.4,1063.6 L768.2,1069.6 L771,1075 L773.8,1079.4 L776.6,1082.8 L779.4,1085.1 L782.1,1086.4 L784.9,1086.9 L787.7,1087.1 L790.5,1087.2 L793.3,1087.3 L796.1,1087.7 L798.9,1088.4 L801.7,1089.4 L804.5,1090.5 L807.3,1091.5 L810.1,1092.4 L812.8,1093.2 L815.6,1093.7 L818.4,1094.2 L821.2,1094.8 L824,1095.4 L826.8,1096.2 L829.6,1097 L832.4,1097.9 L835.2,1098.6 L838,1099.2 L840.8,1099.6 L843.5,1099.9 L846.3,1100.1 L849.1,1100.2 L851.9,1100.2 L854.7,1100.2 L857.5,1100.2 L860.3,1100.2 L863.1,1100.2 L865.9,1100.2 L868.7,1100.2 L871.5,1100.2 L874.2,1100.2 L877,1100.2 L879.8,1100.2 L882.6,1100.2 L885.4,1100.2 L888.2,1100.2 L891,1100.2 L893.8,1100.2 L896.6,1100.2 L899.4,1100.2 L902.2,1100.2 L904.9,1100.3 L907.7,1100.4 L910.5,1100.5 L913.3,1100.7 L916.1,1101 L918.9,1101.4 L921.7,1101.8" fill="none" stroke="#2277A8" stroke-opacity="0.9" stroke-width="3.4" stroke-linejoin="round" stroke-linecap="round"/>
<g fill="#D3AE36" fill-opacity="0.7">
<rect x="766.1" y="1024.3" width="7.1" height="79.1"/>
<rect x="773.2" y="945.1" width="7.1" height="158.3"/>
<rect x="794.4" y="1024.3" width="14.1" height="79.1"/>
</g>
<g fill="#EF442A" fill-opacity="0.7">
<rect x="723.7" y="1087.6" width="7.1" height="15.8"/>
<rect x="730.7" y="1055.9" width="21.2" height="47.5"/>
<rect x="751.9" y="1040.1" width="7.1" height="63.3"/>
<rect x="759" y="1048" width="7.1" height="55.4"/>
<rect x="766.1" y="1055.9" width="7.1" height="47.5"/>
<rect x="773.2" y="1062.2" width="7.1" height="41.2"/>
<rect x="780.2" y="1078.1" width="14.1" height="25.3"/>
<rect x="794.4" y="1095.5" width="42.4" height="7.9"/>
</g>
<g fill="#6691E7" fill-opacity="0.7">
<rect x="709.5" y="1093.9" width="7.1" height="9.5"/>
<rect x="716.6" y="1071.7" width="7.1" height="31.7"/>
<rect x="723.7" y="1032.2" width="7.1" height="71.2"/>
<rect x="730.7" y="1003.7" width="7.1" height="99.7"/>
<rect x="737.8" y="1032.2" width="7.1" height="71.2"/>
<rect x="744.9" y="1071.7" width="7.1" height="31.7"/>
<rect x="751.9" y="1087.6" width="21.2" height="15.8"/>
<rect x="773.2" y="1090.7" width="21.2" height="12.7"/>
<rect x="794.4" y="1097.1" width="35.4" height="6.3"/>
</g>
<g fill="#63E724" fill-opacity="0.7">
<rect x="723.7" y="1087.6" width="7.1" height="15.8"/>
<rect x="730.7" y="1071.7" width="7.1" height="31.7"/>
<rect x="737.8" y="1048" width="7.1" height="55.4"/>
<rect x="744.9" y="1016.3" width="7.1" height="87"/>
<rect x="751.9" y="953" width="7.1" height="150.4"/>
<rect x="759" y="1032.2" width="7.1" height="71.2"/>
<rect x="766.1" y="1067" width="7.1" height="36.4"/>
<rect x="773.2" y="1098.6" width="7.1" height="4.7"/>
</g>
<g fill="#247AAB" fill-opacity="0.7">
<rect x="716.6" y="1095.5" width="7.1" height="7.9"/>
<rect x="723.7" y="1063.8" width="7.1" height="39.6"/>
<rect x="730.7" y="1017.9" width="7.1" height="85.5"/>
<rect x="737.8" y="1032.2" width="7.1" height="71.2"/>
<rect x="744.9" y="1024.3" width="7.1" height="79.1"/>
<rect x="751.9" y="1043.2" width="7.1" height="60.1"/>
<rect x="759" y="1051.2" width="7.1" height="52.2"/>
<rect x="766.1" y="1079.6" width="7.1" height="23.7"/>
<rect x="773.2" y="1090.7" width="7.1" height="12.7"/>
<rect x="780.2" y="1087.6" width="14.1" height="15.8"/>
<rect x="794.4" y="1082.8" width="7.1" height="20.6"/>
<rect x="801.5" y="1093.9" width="28.3" height="9.5"/>
<rect x="829.7" y="1100.2" width="91.9" height="3.2"/>
</g>
</g>
<rect x="698.9" y="937.2" width="233.4" height="174.1" fill="none" stroke="#333835" stroke-width="1.7"/>
<rect x="698.9" y="915.7" width="233.4" height="21.5" fill="#D3DCD8" stroke="#2E3834" stroke-width="1.7"/>
<text x="815.8" y="931.5" font-size="15.8" fill="#111" stroke="#111" stroke-width="0.55" text-anchor="middle">FFL_type1</text>
<line x1="695.4" y1="939.1" x2="698.9" y2="939.1" stroke="#333" stroke-width="1.8"/>
<line x1="695.4" y1="972.2" x2="698.9" y2="972.2" stroke="#333" stroke-width="1.8"/>
<line x1="695.4" y1="1005" x2="698.9" y2="1005" stroke="#333" stroke-width="1.8"/>
<line x1="695.4" y1="1037.9" x2="698.9" y2="1037.9" stroke="#333" stroke-width="1.8"/>
<line x1="695.4" y1="1071" x2="698.9" y2="1071" stroke="#333" stroke-width="1.8"/>
<line x1="695.4" y1="1104" x2="698.9" y2="1104" stroke="#333" stroke-width="1.8"/>
<line x1="713.6" y1="1111.3" x2="713.6" y2="1114.8" stroke="#333" stroke-width="1.8"/>
<text x="715" y="1131.9" font-size="15.3" fill="#3d3d3d" stroke="#3d3d3d" stroke-width="0.45" text-anchor="middle">0</text>
<line x1="764.6" y1="1111.3" x2="764.6" y2="1114.8" stroke="#333" stroke-width="1.8"/>
<text x="768.9" y="1131.9" font-size="15.3" fill="#3d3d3d" stroke="#3d3d3d" stroke-width="0.45" text-anchor="middle">200</text>
<line x1="815.8" y1="1111.3" x2="815.8" y2="1114.8" stroke="#333" stroke-width="1.8"/>
<text x="820.1" y="1131.9" font-size="15.3" fill="#3d3d3d" stroke="#3d3d3d" stroke-width="0.45" text-anchor="middle">400</text>
<line x1="866.8" y1="1111.3" x2="866.8" y2="1114.8" stroke="#333" stroke-width="1.8"/>
<text x="871.1" y="1131.9" font-size="15.3" fill="#3d3d3d" stroke="#3d3d3d" stroke-width="0.45" text-anchor="middle">600</text>
<line x1="918.3" y1="1111.3" x2="918.3" y2="1114.8" stroke="#333" stroke-width="1.8"/>
<text x="922.6" y="1131.9" font-size="15.3" fill="#3d3d3d" stroke="#3d3d3d" stroke-width="0.45" text-anchor="middle">800</text>
<clipPath id="cb30"><rect x="975.1" y="937.2" width="233.6" height="174.1"/></clipPath>
<rect x="975.1" y="937.2" width="233.6" height="174.1" fill="#fff"/>
<g clip-path="url(#cb30)">
<path d="M1026.8,1062.3 L1029.5,1053.4 L1032.2,1045.4 L1035,1039.2 L1037.7,1035.2 L1040.4,1033.7 L1043.2,1034.4 L1045.9,1037.1 L1048.6,1041.2 L1051.3,1046 L1054.1,1051.3 L1056.8,1056.8 L1059.5,1062.5 L1062.3,1068.4 L1065,1074.3" fill="none" stroke="#D8A632" stroke-opacity="0.9" stroke-width="3.4" stroke-linejoin="round" stroke-linecap="round"/>
<path d="M991.4,1093.8 L994.1,1086.4 L996.9,1076.5 L999.6,1065 L1002.4,1053.2 L1005.2,1041.9 L1007.9,1030.6 L1010.7,1018.8 L1013.4,1006.9 L1016.2,997.2 L1018.9,992.7 L1021.7,995.1 L1024.4,1004.2 L1027.2,1017.8 L1030,1033.1 L1032.7,1047.4 L1035.5,1059.3 L1038.2,1068 L1041,1073.8 L1043.7,1077.4 L1046.5,1079.9 L1049.2,1082.3 L1052,1085.3 L1054.7,1088.9 L1057.5,1092.9 L1060.3,1096.5 L1063,1099.1 L1065.8,1100.6 L1068.5,1101.2 L1071.3,1101.2 L1074,1101 L1076.8,1100.8 L1079.5,1100.5 L1082.3,1100.2 L1085.1,1099.9 L1087.8,1099.8 L1090.6,1100.2 L1093.3,1100.8" fill="none" stroke="#EF4A2A" stroke-opacity="0.9" stroke-width="3.4" stroke-linejoin="round" stroke-linecap="round"/>
<path d="M985.7,1095.7 L988.5,1093 L991.3,1090 L994.1,1086.6 L996.9,1082.8 L999.7,1078.4 L1002.5,1073.3 L1005.3,1067.1 L1008.1,1060 L1010.9,1052 L1013.7,1044.2 L1016.5,1037.4 L1019.2,1032.9 L1022,1031.6 L1024.8,1033.4 L1027.6,1037.8 L1030.4,1043.6 L1033.2,1049.6 L1036,1054.9 L1038.8,1059.2 L1041.6,1062.5 L1044.4,1065.3 L1047.2,1068.2 L1050,1071.4 L1052.8,1075.1 L1055.6,1079.1 L1058.4,1083.2 L1061.2,1086.7 L1064,1089.3 L1066.8,1090.8 L1069.5,1091.1 L1072.3,1090.4 L1075.1,1088.9 L1077.9,1087.2 L1080.7,1085.6 L1083.5,1084.7 L1086.3,1084.6 L1089.1,1085.3 L1091.9,1086.8 L1094.7,1088.5 L1097.5,1090.3 L1100.3,1091.9 L1103.1,1093.2 L1105.9,1094.4 L1108.7,1095.4 L1111.5,1096.4 L1114.3,1097.3 L1117,1098.2 L1119.8,1098.9 L1122.6,1099.4 L1125.4,1099.8 L1128.2,1100 L1131,1100.1 L1133.8,1100.2 L1136.6,1100.2 L1139.4,1100.2 L1142.2,1100.2 L1145,1100.2 L1147.8,1100.2 L1150.6,1100.2 L1153.4,1100.2 L1156.2,1100.2 L1159,1100.2 L1161.8,1100.2 L1164.6,1100.2 L1167.3,1100.2 L1170.1,1100.2 L1172.9,1100.2 L1175.7,1100.2 L1178.5,1100.2 L1181.3,1100.1 L1184.1,1100.1 L1186.9,1100.1 L1189.7,1100.3 L1192.5,1100.5 L1195.3,1100.9 L1198.1,1101.3" fill="none" stroke="#6A94E8" stroke-opacity="0.9" stroke-width="3.4" stroke-linejoin="round" stroke-linecap="round"/>
<path d="M1005.5,1082.8 L1008.3,1076.3 L1011.1,1070 L1013.8,1064.4 L1016.6,1059.5 L1019.4,1055.4 L1022.1,1051.9 L1024.9,1048.9 L1027.7,1046.6 L1030.4,1045.5 L1033.2,1045.7 L1035.9,1047.5 L1038.7,1050.7 L1041.5,1054.8 L1044.2,1059 L1047,1062.7 L1049.8,1065.5 L1052.5,1067.2 L1055.3,1067.8 L1058.1,1068 L1060.8,1068.3 L1063.6,1069.3 L1066.3,1071.3 L1069.1,1074.3 L1071.9,1078.1 L1074.6,1082.1 L1077.4,1085.9 L1080.2,1089.1 L1082.9,1091.6 L1085.7,1093.3 L1088.5,1094.4 L1091.2,1095.1 L1094,1095.7 L1096.8,1096.2 L1099.5,1096.7 L1102.3,1097.3 L1105,1097.8 L1107.8,1098.3 L1110.6,1098.6 L1113.3,1099 L1116.1,1099.4 L1118.9,1099.9 L1121.6,1100.5" fill="none" stroke="#66E02A" stroke-opacity="0.9" stroke-width="3.4" stroke-linejoin="round" stroke-linecap="round"/>
<path d="M991.4,1095.1 L994.2,1090.5 L997,1084.7 L999.8,1077.7 L1002.6,1069.2 L1005.3,1058.5 L1008.1,1045.1 L1010.9,1029.1 L1013.7,1011.7 L1016.5,995.6 L1019.3,983.7 L1022.1,978.6 L1024.9,981.2 L1027.7,990.4 L1030.5,1003.6 L1033.3,1017.6 L1036.1,1030.2 L1038.9,1040.7 L1041.7,1049.2 L1044.5,1056 L1047.2,1061.3 L1050,1065.4 L1052.8,1068.6 L1055.6,1071.5 L1058.4,1074.6 L1061.2,1078.4 L1064,1082.5 L1066.8,1086.4 L1069.6,1089.5 L1072.4,1091.5 L1075.2,1092.7 L1078,1093.7 L1080.8,1094.9 L1083.6,1096.4 L1086.4,1098 L1089.1,1099.4 L1091.9,1100.5 L1094.7,1101.2 L1097.5,1101.6 L1100.3,1101.7 L1103.1,1101.8 L1105.9,1101.8 L1108.7,1101.8 L1111.5,1101.8 L1114.3,1101.8 L1117.1,1101.8 L1119.9,1101.8 L1122.7,1101.8 L1125.5,1101.8 L1128.3,1101.8 L1131,1101.8 L1133.8,1101.8 L1136.6,1101.8 L1139.4,1101.8 L1142.2,1101.8 L1145,1101.8 L1147.8,1101.8 L1150.6,1101.8 L1153.4,1101.8 L1156.2,1101.8 L1159,1101.8 L1161.8,1101.8 L1164.6,1101.8 L1167.4,1101.8 L1170.2,1101.8 L1172.9,1101.7 L1175.7,1101.5 L1178.5,1101.2 L1181.3,1100.7 L1184.1,1100.3 L1186.9,1099.9 L1189.7,1099.7 L1192.5,1099.9 L1195.3,1100.3 L1198.1,1101.1" fill="none" stroke="#2277A8" stroke-opacity="0.9" stroke-width="3.4" stroke-linejoin="round" stroke-linecap="round"/>
<g fill="#D3AE36" fill-opacity="0.7">
<rect x="1028.2" y="1008.4" width="21.2" height="95"/>
<rect x="1056.5" y="1008.4" width="7.1" height="95"/>
</g>
<g fill="#EF442A" fill-opacity="0.7">
<rect x="992.8" y="1095.5" width="7.1" height="7.9"/>
<rect x="999.9" y="1027.4" width="7.1" height="76"/>
<rect x="1007" y="1048" width="7.1" height="55.4"/>
<rect x="1014" y="951.4" width="7.1" height="151.9"/>
<rect x="1021.1" y="992.6" width="7.1" height="110.8"/>
<rect x="1028.2" y="1055.9" width="7.1" height="47.5"/>
<rect x="1035.3" y="1079.6" width="21.2" height="23.7"/>
<rect x="1070.7" y="1098.6" width="7.1" height="4.7"/>
<rect x="1084.8" y="1095.5" width="7.1" height="7.9"/>
</g>
<g fill="#6691E7" fill-opacity="0.7">
<rect x="985.7" y="1090.7" width="7.1" height="12.7"/>
<rect x="992.8" y="1087.6" width="7.1" height="15.8"/>
<rect x="999.9" y="1071.7" width="14.2" height="31.7"/>
<rect x="1014" y="1008.4" width="14.2" height="95"/>
<rect x="1028.2" y="1063.8" width="21.2" height="39.6"/>
<rect x="1049.4" y="1067" width="7.1" height="36.4"/>
<rect x="1056.5" y="1095.5" width="21.2" height="7.9"/>
<rect x="1077.7" y="1078.1" width="14.2" height="25.3"/>
<rect x="1091.9" y="1093.9" width="21.2" height="9.5"/>
<rect x="1113.1" y="1100.2" width="77.9" height="3.2"/>
<rect x="1191" y="1098.6" width="7.1" height="4.7"/>
</g>
<g fill="#63E724" fill-opacity="0.7">
<rect x="1007" y="1055.9" width="21.2" height="47.5"/>
<rect x="1028.2" y="1025.8" width="7.1" height="77.6"/>
<rect x="1035.3" y="1048" width="7.1" height="55.4"/>
<rect x="1042.3" y="1067" width="7.1" height="36.4"/>
<rect x="1049.4" y="1079.6" width="7.1" height="23.7"/>
<rect x="1056.5" y="1060.7" width="14.2" height="42.7"/>
<rect x="1070.7" y="1087.6" width="7.1" height="15.8"/>
<rect x="1077.7" y="1095.5" width="28.3" height="7.9"/>
<rect x="1113.1" y="1093.9" width="7.1" height="9.5"/>
</g>
<g fill="#247AAB" fill-opacity="0.7">
<rect x="992.8" y="1087.6" width="7.1" height="15.8"/>
<rect x="999.9" y="1071.7" width="7.1" height="31.7"/>
<rect x="1007" y="1048" width="7.1" height="55.4"/>
<rect x="1014" y="968.9" width="7.1" height="134.5"/>
<rect x="1021.1" y="945.1" width="7.1" height="158.3"/>
<rect x="1028.2" y="1025.8" width="7.1" height="77.6"/>
<rect x="1035.3" y="1043.2" width="7.1" height="60.1"/>
<rect x="1042.3" y="1063.8" width="7.1" height="39.6"/>
<rect x="1049.4" y="1071.7" width="7.1" height="31.7"/>
<rect x="1056.5" y="1068.6" width="7.1" height="34.8"/>
<rect x="1063.6" y="1095.5" width="7.1" height="7.9"/>
<rect x="1070.7" y="1092.3" width="14.2" height="11.1"/>
<rect x="1084.8" y="1101.8" width="99.1" height="1.6"/>
<rect x="1183.9" y="1098.6" width="14.2" height="4.7"/>
</g>
</g>
<rect x="975.1" y="937.2" width="233.6" height="174.1" fill="none" stroke="#333835" stroke-width="1.7"/>
<rect x="975.1" y="915.7" width="233.6" height="21.5" fill="#D3DCD8" stroke="#2E3834" stroke-width="1.7"/>
<text x="1092.1" y="931.5" font-size="15.8" fill="#111" stroke="#111" stroke-width="0.55" text-anchor="middle">FFL_type2</text>
<line x1="971.6" y1="987.7" x2="975.1" y2="987.7" stroke="#333" stroke-width="1.8"/>
<line x1="971.6" y1="1045.7" x2="975.1" y2="1045.7" stroke="#333" stroke-width="1.8"/>
<line x1="971.6" y1="1104" x2="975.1" y2="1104" stroke="#333" stroke-width="1.8"/>
<line x1="989.1" y1="1111.3" x2="989.1" y2="1114.8" stroke="#333" stroke-width="1.8"/>
<text x="990.5" y="1131.9" font-size="15.3" fill="#3d3d3d" stroke="#3d3d3d" stroke-width="0.45" text-anchor="middle">0</text>
<line x1="1058.5" y1="1111.3" x2="1058.5" y2="1114.8" stroke="#333" stroke-width="1.8"/>
<text x="1062.8" y="1131.9" font-size="15.3" fill="#3d3d3d" stroke="#3d3d3d" stroke-width="0.45" text-anchor="middle">100</text>
<line x1="1127.1" y1="1111.3" x2="1127.1" y2="1114.8" stroke="#333" stroke-width="1.8"/>
<text x="1131.4" y="1131.9" font-size="15.3" fill="#3d3d3d" stroke="#3d3d3d" stroke-width="0.45" text-anchor="middle">200</text>
<line x1="1196.5" y1="1111.3" x2="1196.5" y2="1114.8" stroke="#333" stroke-width="1.8"/>
<text x="1200.8" y="1131.9" font-size="15.3" fill="#3d3d3d" stroke="#3d3d3d" stroke-width="0.45" text-anchor="middle">300</text>
<clipPath id="cb01"><rect x="134" y="1157.6" width="234" height="174.1"/></clipPath>
<rect x="134" y="1157.6" width="234" height="174.1" fill="#fff"/>
<g clip-path="url(#cb01)">
<path d="M171.6,1302 L174.4,1298.8 L177.1,1295.9 L179.9,1293.5 L182.7,1291.6 L185.5,1289.9 L188.2,1288.5 L191,1286.9 L193.8,1284.9 L196.6,1282.5 L199.4,1279.5 L202.1,1275.9 L204.9,1272.3 L207.7,1268.8 L210.5,1266.1 L213.2,1264.5 L216,1264.3 L218.8,1265.5 L221.6,1268.2 L224.3,1272 L227.1,1276.7 L229.9,1281.9 L232.7,1287.3 L235.5,1292.8 L238.2,1298" fill="none" stroke="#D8A632" stroke-opacity="0.9" stroke-width="3.4" stroke-linejoin="round" stroke-linecap="round"/>
<path d="M144.6,1316.5 L147.4,1313 L150.2,1308.5 L153,1302.8 L155.8,1296.2 L158.6,1288.8 L161.3,1281.4 L164.1,1274.6 L166.9,1269.2 L169.7,1265.5 L172.5,1263.7 L175.3,1263.5 L178,1264.2 L180.8,1265.3 L183.6,1266.3 L186.4,1267 L189.2,1267.3 L192,1267.4 L194.7,1267.6 L197.5,1268.4 L200.3,1270.2 L203.1,1273.5 L205.9,1278.1 L208.7,1283.8 L211.4,1289.9 L214.2,1295.5 L217,1300.1 L219.8,1303.5 L222.6,1305.9 L225.4,1307.4 L228.2,1308.7 L230.9,1309.9 L233.7,1311.3 L236.5,1312.8 L239.3,1314.4 L242.1,1315.8 L244.9,1317 L247.6,1317.9 L250.4,1318.4 L253.2,1318.7 L256,1318.9 L258.8,1319 L261.6,1319 L264.3,1319 L267.1,1319 L269.9,1319 L272.7,1318.9 L275.5,1318.9 L278.3,1318.8 L281,1318.7 L283.8,1318.8 L286.6,1319 L289.4,1319.4 L292.2,1320.1 L295,1320.8" fill="none" stroke="#EF4A2A" stroke-opacity="0.9" stroke-width="3.4" stroke-linejoin="round" stroke-linecap="round"/>
<path d="M144.6,1313.1 L147.4,1308.5 L150.2,1303 L153,1296.7 L155.8,1289.9 L158.6,1283.3 L161.4,1277.5 L164.2,1273.1 L167,1270.4 L169.8,1269.4 L172.6,1269.8 L175.4,1271 L178.2,1272.4 L181,1273.8 L183.8,1274.9 L186.6,1275.7 L189.4,1276.4 L192.2,1277.1 L195,1278.3 L197.8,1280.2 L200.6,1283.1 L203.4,1287 L206.2,1291.9 L209,1297.2 L211.8,1302.3 L214.6,1306.9 L217.4,1310.4 L220.2,1312.8 L223,1314.3 L225.8,1315.1 L228.6,1315.5 L231.4,1315.6 L234.2,1315.4 L237,1315.1 L239.8,1314.6 L242.6,1313.9 L245.4,1313.1 L248.2,1312.3 L251,1311.8 L253.8,1311.8 L256.6,1312.2 L259.4,1313 L262.2,1314 L265,1315 L267.8,1315.8 L270.6,1316.3 L273.4,1316.7 L276.2,1316.8 L279,1317 L281.8,1317.3 L284.6,1317.7 L287.4,1318.3 L290.2,1318.9 L293,1319.4 L295.8,1319.9 L298.6,1320.2 L301.4,1320.4 L304.2,1320.5 L307,1320.6 L309.8,1320.6 L312.6,1320.6 L315.4,1320.6 L318.2,1320.6 L321,1320.6 L323.8,1320.6 L326.6,1320.6 L329.4,1320.6 L332.2,1320.6 L335,1320.6 L337.8,1320.6 L340.6,1320.5 L343.4,1320.5 L346.2,1320.5 L349,1320.7 L351.8,1320.9 L354.6,1321.3 L357.4,1321.7" fill="none" stroke="#6A94E8" stroke-opacity="0.9" stroke-width="3.4" stroke-linejoin="round" stroke-linecap="round"/>
<path d="M157.4,1314.1 L160.2,1310 L163,1305.2 L165.8,1300.1 L168.7,1295 L171.5,1290.1 L174.3,1285.7 L177.1,1281.7 L179.9,1278 L182.7,1274.2 L185.6,1270 L188.4,1265.5 L191.2,1261.1 L194,1257.5 L196.8,1255.8 L199.6,1256.5 L202.5,1259.5 L205.3,1264.2 L208.1,1269.7 L210.9,1275.1 L213.7,1280.2 L216.5,1284.6 L219.4,1288.6 L222.2,1292 L225,1294.8 L227.8,1296.8 L230.6,1298.1 L233.4,1298.6 L236.3,1298.6 L239.1,1298.7 L241.9,1299.3 L244.7,1300.5 L247.5,1302.3 L250.3,1304.5 L253.2,1306.8 L256,1308.9 L258.8,1310.8 L261.6,1312.5 L264.4,1314.2 L267.2,1315.8 L270.1,1317.2 L272.9,1318.4 L275.7,1319.3 L278.5,1319.9 L281.3,1320.3 L284.1,1320.5 L287,1320.6 L289.8,1320.6 L292.6,1320.6 L295.4,1320.6 L298.2,1320.6 L301,1320.6 L303.9,1320.6 L306.7,1320.6 L309.5,1320.6 L312.3,1320.6 L315.1,1320.6 L317.9,1320.6 L320.8,1320.6 L323.6,1320.6 L326.4,1320.6 L329.2,1320.6 L332,1320.6 L334.8,1320.6 L337.6,1320.6 L340.5,1320.7 L343.3,1320.8 L346.1,1320.9 L348.9,1321.1 L351.7,1321.4 L354.5,1321.8 L357.4,1322.2" fill="none" stroke="#66E02A" stroke-opacity="0.9" stroke-width="3.4" stroke-linejoin="round" stroke-linecap="round"/>
<path d="M144.6,1317.4 L147.4,1314.6 L150.2,1311 L153,1306.5 L155.8,1301.2 L158.6,1295 L161.4,1288.4 L164.2,1281.8 L167,1275.8 L169.8,1271 L172.6,1267.6 L175.4,1265.7 L178.2,1264.9 L181,1265.1 L183.8,1265.9 L186.6,1267.4 L189.4,1269.3 L192.2,1271.8 L195,1274.5 L197.8,1277.6 L200.6,1281.1 L203.4,1284.9 L206.2,1288.9 L209,1293.1 L211.8,1297.1 L214.6,1300.6 L217.4,1303.5 L220.2,1305.9 L223,1307.7 L225.8,1309.2 L228.6,1310.4 L231.4,1311.5 L234.2,1312.5 L237,1313.4 L239.8,1314.1 L242.6,1314.9 L245.4,1315.7 L248.2,1316.5 L251,1317.4 L253.8,1318.3 L256.6,1319 L259.4,1319.6 L262.2,1320.1 L265,1320.3 L267.8,1320.5 L270.6,1320.6 L273.4,1320.6 L276.2,1320.6 L279,1320.6 L281.8,1320.6 L284.6,1320.6 L287.4,1320.6 L290.2,1320.6 L293,1320.6 L295.8,1320.6 L298.6,1320.6 L301.4,1320.6 L304.2,1320.6 L307,1320.6 L309.8,1320.6 L312.6,1320.6 L315.4,1320.6 L318.2,1320.6 L321,1320.6 L323.8,1320.6 L326.6,1320.6 L329.4,1320.6 L332.2,1320.6 L335,1320.6 L337.8,1320.6 L340.6,1320.5 L343.4,1320.5 L346.2,1320.5 L349,1320.7 L351.8,1320.9 L354.6,1321.3 L357.4,1321.7" fill="none" stroke="#2277A8" stroke-opacity="0.9" stroke-width="3.4" stroke-linejoin="round" stroke-linecap="round"/>
<g fill="#D3AE36" fill-opacity="0.7">
<rect x="173" y="1246.2" width="7.1" height="77.6"/>
<rect x="187.2" y="1246.2" width="7.1" height="77.6"/>
<rect x="208.5" y="1165.5" width="7.1" height="158.3"/>
<rect x="215.5" y="1246.2" width="7.1" height="77.6"/>
<rect x="229.7" y="1246.2" width="7.1" height="77.6"/>
</g>
<g fill="#EF442A" fill-opacity="0.7">
<rect x="144.6" y="1315.9" width="7.1" height="7.9"/>
<rect x="151.7" y="1306.4" width="7.1" height="17.4"/>
<rect x="158.8" y="1276.3" width="7.1" height="47.5"/>
<rect x="165.9" y="1243.1" width="7.1" height="80.7"/>
<rect x="173" y="1268.4" width="28.4" height="55.4"/>
<rect x="201.4" y="1252.6" width="7.1" height="71.2"/>
<rect x="208.5" y="1308" width="21.3" height="15.8"/>
<rect x="229.7" y="1306.4" width="7.1" height="17.4"/>
<rect x="236.8" y="1319" width="49.6" height="4.7"/>
<rect x="286.5" y="1315.9" width="7.1" height="7.9"/>
</g>
<g fill="#6691E7" fill-opacity="0.7">
<rect x="144.6" y="1309.5" width="7.1" height="14.2"/>
<rect x="151.7" y="1300" width="7.1" height="23.7"/>
<rect x="158.8" y="1258.9" width="7.1" height="64.9"/>
<rect x="165.9" y="1260.5" width="7.1" height="63.3"/>
<rect x="173" y="1276.3" width="35.5" height="47.5"/>
<rect x="208.5" y="1315.9" width="35.5" height="7.9"/>
<rect x="243.9" y="1314.3" width="7.1" height="9.5"/>
<rect x="251" y="1303.2" width="7.1" height="20.6"/>
<rect x="258.1" y="1317.5" width="21.3" height="6.3"/>
<rect x="279.4" y="1314.3" width="7.1" height="9.5"/>
<rect x="286.5" y="1320.6" width="63.8" height="3.2"/>
<rect x="350.3" y="1319" width="7.1" height="4.7"/>
</g>
<g fill="#63E724" fill-opacity="0.7">
<rect x="158.8" y="1308" width="7.1" height="15.8"/>
<rect x="165.9" y="1292.1" width="7.1" height="31.7"/>
<rect x="173" y="1276.3" width="21.3" height="47.5"/>
<rect x="194.3" y="1213" width="7.1" height="110.8"/>
<rect x="201.4" y="1276.3" width="7.1" height="47.5"/>
<rect x="208.5" y="1279.5" width="7.1" height="44.3"/>
<rect x="215.5" y="1287.4" width="7.1" height="36.4"/>
<rect x="222.6" y="1300" width="7.1" height="23.7"/>
<rect x="229.7" y="1308" width="7.1" height="15.8"/>
<rect x="236.8" y="1287.4" width="7.1" height="36.4"/>
<rect x="243.9" y="1300" width="7.1" height="23.7"/>
<rect x="251" y="1315.9" width="7.1" height="7.9"/>
<rect x="258.1" y="1306.4" width="7.1" height="17.4"/>
<rect x="265.2" y="1320.6" width="92.2" height="3.2"/>
</g>
<g fill="#247AAB" fill-opacity="0.7">
<rect x="144.6" y="1315.9" width="7.1" height="7.9"/>
<rect x="151.7" y="1308" width="7.1" height="15.8"/>
<rect x="158.8" y="1292.1" width="7.1" height="31.7"/>
<rect x="165.9" y="1251" width="7.1" height="72.8"/>
<rect x="173" y="1268.4" width="7.1" height="55.4"/>
<rect x="180.1" y="1260.5" width="7.1" height="63.3"/>
<rect x="187.2" y="1268.4" width="7.1" height="55.4"/>
<rect x="194.3" y="1279.5" width="14.2" height="44.3"/>
<rect x="208.5" y="1304.8" width="7.1" height="19"/>
<rect x="215.5" y="1308" width="14.2" height="15.8"/>
<rect x="229.7" y="1314.3" width="21.3" height="9.5"/>
<rect x="251" y="1320.6" width="99.3" height="3.2"/>
<rect x="350.3" y="1319" width="7.1" height="4.7"/>
</g>
</g>
<rect x="134" y="1157.6" width="234" height="174.1" fill="none" stroke="#333835" stroke-width="1.7"/>
<rect x="134" y="1136.1" width="234" height="21.5" fill="#D3DCD8" stroke="#2E3834" stroke-width="1.7"/>
<text x="251.2" y="1151.9" font-size="15.8" fill="#111" stroke="#111" stroke-width="0.55" text-anchor="middle">FFL_type3</text>
<line x1="130.5" y1="1165.3" x2="134" y2="1165.3" stroke="#333" stroke-width="1.8"/>
<line x1="130.5" y1="1205.2" x2="134" y2="1205.2" stroke="#333" stroke-width="1.8"/>
<line x1="130.5" y1="1244.9" x2="134" y2="1244.9" stroke="#333" stroke-width="1.8"/>
<line x1="130.5" y1="1284.9" x2="134" y2="1284.9" stroke="#333" stroke-width="1.8"/>
<line x1="130.5" y1="1324.6" x2="134" y2="1324.6" stroke="#333" stroke-width="1.8"/>
<line x1="141.3" y1="1331.7" x2="141.3" y2="1335.2" stroke="#333" stroke-width="1.8"/>
<text x="142.7" y="1352.3" font-size="15.3" fill="#3d3d3d" stroke="#3d3d3d" stroke-width="0.45" text-anchor="middle">0</text>
<line x1="183.7" y1="1331.7" x2="183.7" y2="1335.2" stroke="#333" stroke-width="1.8"/>
<text x="186.6" y="1352.3" font-size="15.3" fill="#3d3d3d" stroke="#3d3d3d" stroke-width="0.45" text-anchor="middle">50</text>
<line x1="226.3" y1="1331.7" x2="226.3" y2="1335.2" stroke="#333" stroke-width="1.8"/>
<text x="230.6" y="1352.3" font-size="15.3" fill="#3d3d3d" stroke="#3d3d3d" stroke-width="0.45" text-anchor="middle">100</text>
<line x1="268.7" y1="1331.7" x2="268.7" y2="1335.2" stroke="#333" stroke-width="1.8"/>
<text x="273" y="1352.3" font-size="15.3" fill="#3d3d3d" stroke="#3d3d3d" stroke-width="0.45" text-anchor="middle">150</text>
<line x1="311.1" y1="1331.7" x2="311.1" y2="1335.2" stroke="#333" stroke-width="1.8"/>
<text x="315.4" y="1352.3" font-size="15.3" fill="#3d3d3d" stroke="#3d3d3d" stroke-width="0.45" text-anchor="middle">200</text>
<line x1="353.8" y1="1331.7" x2="353.8" y2="1335.2" stroke="#333" stroke-width="1.8"/>
<text x="358.1" y="1352.3" font-size="15.3" fill="#3d3d3d" stroke="#3d3d3d" stroke-width="0.45" text-anchor="middle">250</text>
<clipPath id="cb11"><rect x="416.9" y="1157.6" width="233.5" height="174.1"/></clipPath>
<rect x="416.9" y="1157.6" width="233.5" height="174.1" fill="#fff"/>
<g clip-path="url(#cb11)">
<path d="M468.6,1270.9 L471.3,1261.9 L474.1,1254.9 L476.8,1250.8 L479.6,1249.7 L482.3,1251.5 L485.1,1255.4 L487.8,1260.6 L490.6,1266.2 L493.4,1271.5 L496.1,1275.9 L498.9,1279.4 L501.6,1282.1 L504.4,1284.1 L507.1,1286 L509.9,1288 L512.6,1290.3 L515.4,1293.3 L518.2,1296.9 L520.9,1301" fill="none" stroke="#D8A632" stroke-opacity="0.9" stroke-width="3.4" stroke-linejoin="round" stroke-linecap="round"/>
<path d="M433.2,1314.4 L436,1309.3 L438.7,1302.7 L441.5,1295 L444.3,1286.7 L447.1,1278.6 L449.9,1271.4 L452.6,1265.8 L455.4,1261.7 L458.2,1259.2 L461,1257.9 L463.8,1257.6 L466.5,1258 L469.3,1258.9 L472.1,1260.2 L474.9,1261.5 L477.7,1262.6 L480.4,1263.5 L483.2,1264.7 L486,1266.6 L488.8,1269.9 L491.6,1274.7 L494.3,1281.1 L497.1,1288.4 L499.9,1295.8 L502.7,1302.5 L505.5,1308 L508.3,1311.9 L511,1314.5 L513.8,1316 L516.6,1316.8 L519.4,1317.2 L522.2,1317.4 L524.9,1317.6 L527.7,1317.8 L530.5,1318.1 L533.3,1318.6 L536.1,1319.3 L538.8,1320 L541.6,1320.9 L544.4,1321.7 L547.2,1322.4 L550,1323 L552.7,1323.3 L555.5,1323.6 L558.3,1323.7 L561.1,1323.7 L563.9,1323.7 L566.6,1323.6 L569.4,1323.5 L572.2,1323.2 L575,1322.8 L577.8,1322.3 L580.5,1321.8 L583.3,1321.4 L586.1,1321.2 L588.9,1321.2 L591.7,1321.6" fill="none" stroke="#EF4A2A" stroke-opacity="0.9" stroke-width="3.4" stroke-linejoin="round" stroke-linecap="round"/>
<path d="M427.5,1318.5 L430.3,1316.6 L433.1,1314.2 L435.9,1311.3 L438.7,1307.7 L441.5,1303.3 L444.3,1298.2 L447.1,1292.7 L449.9,1287.1 L452.7,1281.7 L455.5,1276.6 L458.3,1271.9 L461.1,1267.7 L463.9,1263.8 L466.7,1260.8 L469.6,1259 L472.4,1259.1 L475.2,1261.1 L478,1264.8 L480.8,1269.6 L483.6,1274.6 L486.4,1279.3 L489.2,1283.5 L492,1287.1 L494.8,1290.4 L497.6,1293.4 L500.4,1295.9 L503.2,1297.7 L506,1299 L508.8,1299.8 L511.6,1300.6 L514.4,1301.7 L517.2,1303.1 L520,1304.9 L522.8,1306.8 L525.6,1308.3 L528.4,1309.5 L531.2,1310.1 L534,1310.6 L536.8,1311.1 L539.6,1311.8 L542.4,1312.8 L545.2,1313.9 L548,1315.2 L550.8,1316.3 L553.6,1317.3 L556.4,1318.1 L559.2,1318.6 L562,1319.1 L564.8,1319.6 L567.6,1320.2 L570.4,1320.9" fill="none" stroke="#6A94E8" stroke-opacity="0.9" stroke-width="3.4" stroke-linejoin="round" stroke-linecap="round"/>
<path d="M447.3,1310.1 L450.1,1305.8 L452.9,1301.7 L455.7,1298.2 L458.5,1295.4 L461.3,1293 L464.1,1290.8 L466.9,1288.3 L469.7,1285 L472.5,1281.1 L475.3,1276.6 L478.1,1272.1 L480.9,1268.3 L483.7,1265.7 L486.5,1264.5 L489.3,1264.7 L492.1,1266 L494.9,1268.2 L497.7,1271.2 L500.5,1275 L503.3,1279.4 L506.1,1284.3 L508.9,1289.3 L511.7,1294.1 L514.5,1298.2 L517.3,1301.4 L520.1,1303.7 L522.9,1305.1 L525.7,1305.8 L528.5,1306.1 L531.3,1306.4 L534.1,1306.6 L536.9,1307.2 L539.7,1308 L542.5,1309.1 L545.3,1310.4 L548.1,1311.9 L550.9,1313.3 L553.7,1314.6 L556.5,1315.6 L559.3,1316.5 L562,1317.3 L564.8,1318.1 L567.6,1319.1 L570.4,1320.1" fill="none" stroke="#66E02A" stroke-opacity="0.9" stroke-width="3.4" stroke-linejoin="round" stroke-linecap="round"/>
<path d="M433.2,1318.9 L436,1316 L438.8,1312 L441.5,1306.7 L444.3,1300.3 L447.1,1292.9 L449.9,1285.2 L452.7,1277.7 L455.5,1271.1 L458.3,1265.9 L461.1,1262.3 L463.9,1260.3 L466.7,1259.8 L469.5,1260.6 L472.3,1262.5 L475.1,1265.1 L477.8,1268.2 L480.6,1271.2 L483.4,1274.1 L486.2,1276.6 L489,1279.1 L491.8,1281.9 L494.6,1285.1 L497.4,1288.8 L500.2,1293 L503,1297.2 L505.8,1301.2 L508.6,1304.8 L511.4,1307.8 L514.1,1310.2 L516.9,1312 L519.7,1313.5 L522.5,1314.6 L525.3,1315.4 L528.1,1316 L530.9,1316.5 L533.7,1316.9 L536.5,1317.4 L539.3,1317.9 L542.1,1318.4 L544.9,1319 L547.6,1319.5 L550.4,1320 L553.2,1320.3 L556,1320.4 L558.8,1320.5 L561.6,1320.6 L564.4,1320.6 L567.2,1320.6 L570,1320.6 L572.8,1320.6 L575.6,1320.6 L578.4,1320.6 L581.2,1320.6 L583.9,1320.6 L586.7,1320.6 L589.5,1320.6 L592.3,1320.6 L595.1,1320.6 L597.9,1320.6 L600.7,1320.6 L603.5,1320.6 L606.3,1320.6 L609.1,1320.6 L611.9,1320.6 L614.7,1320.6 L617.5,1320.6 L620.2,1320.6 L623,1320.5 L625.8,1320.5 L628.6,1320.5 L631.4,1320.7 L634.2,1320.9 L637,1321.3 L639.8,1321.7" fill="none" stroke="#2277A8" stroke-opacity="0.9" stroke-width="3.4" stroke-linejoin="round" stroke-linecap="round"/>
<g fill="#D3AE36" fill-opacity="0.7">
<rect x="470" y="1165.5" width="7.1" height="158.3"/>
<rect x="477" y="1246.2" width="14.2" height="77.6"/>
<rect x="498.3" y="1246.2" width="7.1" height="77.6"/>
<rect x="512.4" y="1246.2" width="7.1" height="77.6"/>
</g>
<g fill="#EF442A" fill-opacity="0.7">
<rect x="434.6" y="1315.9" width="7.1" height="7.9"/>
<rect x="441.7" y="1284.2" width="7.1" height="39.6"/>
<rect x="448.7" y="1243.1" width="7.1" height="80.7"/>
<rect x="455.8" y="1268.4" width="7.1" height="55.4"/>
<rect x="462.9" y="1243.1" width="7.1" height="80.7"/>
<rect x="470" y="1268.4" width="14.2" height="55.4"/>
<rect x="484.1" y="1252.6" width="7.1" height="71.2"/>
<rect x="491.2" y="1271.6" width="7.1" height="52.2"/>
<rect x="498.3" y="1317.5" width="42.5" height="6.3"/>
<rect x="583.2" y="1315.9" width="7.1" height="7.9"/>
</g>
<g fill="#6691E7" fill-opacity="0.7">
<rect x="427.5" y="1314.3" width="7.1" height="9.5"/>
<rect x="434.6" y="1315.9" width="7.1" height="7.9"/>
<rect x="441.7" y="1300" width="7.1" height="23.7"/>
<rect x="448.7" y="1276.3" width="7.1" height="47.5"/>
<rect x="455.8" y="1268.4" width="14.2" height="55.4"/>
<rect x="470" y="1225.7" width="7.1" height="98.1"/>
<rect x="477" y="1284.2" width="21.2" height="39.6"/>
<rect x="498.3" y="1308" width="7.1" height="15.8"/>
<rect x="505.3" y="1300" width="7.1" height="23.7"/>
<rect x="512.4" y="1292.1" width="7.1" height="31.7"/>
<rect x="519.5" y="1314.3" width="14.2" height="9.5"/>
<rect x="533.6" y="1303.2" width="7.1" height="20.6"/>
<rect x="540.7" y="1317.5" width="7.1" height="6.3"/>
<rect x="547.8" y="1314.3" width="7.1" height="9.5"/>
<rect x="562" y="1314.3" width="7.1" height="9.5"/>
</g>
<g fill="#63E724" fill-opacity="0.7">
<rect x="448.7" y="1292.1" width="28.3" height="31.7"/>
<rect x="477" y="1251" width="7.1" height="72.8"/>
<rect x="484.1" y="1260.5" width="7.1" height="63.3"/>
<rect x="491.2" y="1268.4" width="14.2" height="55.4"/>
<rect x="505.3" y="1292.1" width="7.1" height="31.7"/>
<rect x="512.4" y="1308" width="14.2" height="15.8"/>
<rect x="526.6" y="1304.8" width="7.1" height="19"/>
<rect x="533.6" y="1306.4" width="14.2" height="17.4"/>
<rect x="547.8" y="1317.5" width="14.2" height="6.3"/>
<rect x="562" y="1314.3" width="7.1" height="9.5"/>
</g>
<g fill="#247AAB" fill-opacity="0.7">
<rect x="434.6" y="1319" width="7.1" height="4.7"/>
<rect x="441.7" y="1308" width="7.1" height="15.8"/>
<rect x="448.7" y="1271.6" width="7.1" height="52.2"/>
<rect x="455.8" y="1251" width="7.1" height="72.8"/>
<rect x="462.9" y="1260.5" width="7.1" height="63.3"/>
<rect x="470" y="1251" width="7.1" height="72.8"/>
<rect x="477" y="1282.6" width="7.1" height="41.2"/>
<rect x="484.1" y="1276.3" width="14.2" height="47.5"/>
<rect x="498.3" y="1300" width="7.1" height="23.7"/>
<rect x="505.3" y="1308" width="7.1" height="15.8"/>
<rect x="512.4" y="1314.3" width="14.2" height="9.5"/>
<rect x="526.6" y="1319" width="7.1" height="4.7"/>
<rect x="533.6" y="1314.3" width="7.1" height="9.5"/>
<rect x="540.7" y="1320.6" width="92" height="3.2"/>
<rect x="632.7" y="1319" width="7.1" height="4.7"/>
</g>
</g>
<rect x="416.9" y="1157.6" width="233.5" height="174.1" fill="none" stroke="#333835" stroke-width="1.7"/>
<rect x="416.9" y="1136.1" width="233.5" height="21.5" fill="#D3DCD8" stroke="#2E3834" stroke-width="1.7"/>
<text x="533.9" y="1151.9" font-size="15.8" fill="#111" stroke="#111" stroke-width="0.55" text-anchor="middle">FFL_type4</text>
<line x1="413.4" y1="1166" x2="416.9" y2="1166" stroke="#333" stroke-width="1.8"/>
<line x1="413.4" y1="1206" x2="416.9" y2="1206" stroke="#333" stroke-width="1.8"/>
<line x1="413.4" y1="1245.6" x2="416.9" y2="1245.6" stroke="#333" stroke-width="1.8"/>
<line x1="413.4" y1="1285.4" x2="416.9" y2="1285.4" stroke="#333" stroke-width="1.8"/>
<line x1="413.4" y1="1324.6" x2="416.9" y2="1324.6" stroke="#333" stroke-width="1.8"/>
<line x1="431.1" y1="1331.7" x2="431.1" y2="1335.2" stroke="#333" stroke-width="1.8"/>
<text x="432.5" y="1352.3" font-size="15.3" fill="#3d3d3d" stroke="#3d3d3d" stroke-width="0.45" text-anchor="middle">0</text>
<line x1="474" y1="1331.7" x2="474" y2="1335.2" stroke="#333" stroke-width="1.8"/>
<text x="476.9" y="1352.3" font-size="15.3" fill="#3d3d3d" stroke="#3d3d3d" stroke-width="0.45" text-anchor="middle">50</text>
<line x1="515.6" y1="1331.7" x2="515.6" y2="1335.2" stroke="#333" stroke-width="1.8"/>
<text x="519.9" y="1352.3" font-size="15.3" fill="#3d3d3d" stroke="#3d3d3d" stroke-width="0.45" text-anchor="middle">100</text>
<line x1="558.5" y1="1331.7" x2="558.5" y2="1335.2" stroke="#333" stroke-width="1.8"/>
<text x="562.8" y="1352.3" font-size="15.3" fill="#3d3d3d" stroke="#3d3d3d" stroke-width="0.45" text-anchor="middle">150</text>
<line x1="601.4" y1="1331.7" x2="601.4" y2="1335.2" stroke="#333" stroke-width="1.8"/>
<text x="605.7" y="1352.3" font-size="15.3" fill="#3d3d3d" stroke="#3d3d3d" stroke-width="0.45" text-anchor="middle">200</text>
<line x1="643.6" y1="1331.7" x2="643.6" y2="1335.2" stroke="#333" stroke-width="1.8"/>
<text x="647.9" y="1352.3" font-size="15.3" fill="#3d3d3d" stroke="#3d3d3d" stroke-width="0.45" text-anchor="middle">250</text>
<clipPath id="cb21"><rect x="698.9" y="1157.6" width="233.4" height="174.1"/></clipPath>
<rect x="698.9" y="1157.6" width="233.4" height="174.1" fill="#fff"/>
<g clip-path="url(#cb21)">
<path d="M771.7,1275.3 L774.6,1270 L777.4,1265.4 L780.2,1261.5 L783.1,1258.5 L785.9,1256.5 L788.7,1255.6 L791.6,1255.6 L794.4,1256.6 L797.2,1258.3 L800,1260.7 L802.9,1263.5 L805.7,1266.7 L808.5,1270 L811.4,1273.4 L814.2,1276.7 L817,1280.1 L819.8,1283.4 L822.7,1286.7 L825.5,1290 L828.3,1293.2 L831.2,1296.4" fill="none" stroke="#D8A632" stroke-opacity="0.9" stroke-width="3.4" stroke-linejoin="round" stroke-linecap="round"/>
<path d="M722.2,1311.2 L725,1305.2 L727.8,1297.8 L730.6,1289.5 L733.4,1280.7 L736.1,1272.1 L738.9,1264.2 L741.7,1257.5 L744.5,1252.2 L747.3,1248.1 L750,1245 L752.8,1242.6 L755.6,1240.7 L758.4,1239.4 L761.2,1238.8 L763.9,1239.2 L766.7,1240.7 L769.5,1243.2 L772.3,1246.6 L775,1250.9 L777.8,1255.6 L780.6,1260.4 L783.4,1265 L786.2,1269 L788.9,1272.2 L791.7,1274.8 L794.5,1277 L797.3,1279.2 L800.1,1281.6 L802.8,1284.6 L805.6,1288.3 L808.4,1292.6 L811.2,1297.4 L814,1302.2 L816.7,1306.7 L819.5,1310.6 L822.3,1313.7 L825.1,1315.9 L827.9,1317.4 L830.6,1318.2 L833.4,1318.7 L836.2,1318.9 L839,1319 L841.8,1319 L844.5,1319 L847.3,1319 L850.1,1319 L852.9,1319 L855.7,1318.9 L858.4,1318.7 L861.2,1318.5 L864,1318.2 L866.8,1317.8 L869.6,1317.6 L872.3,1317.6 L875.1,1317.9 L877.9,1318.6 L880.7,1319.5" fill="none" stroke="#EF4A2A" stroke-opacity="0.9" stroke-width="3.4" stroke-linejoin="round" stroke-linecap="round"/>
<path d="M709.5,1310.4 L712.3,1304.1 L715.1,1296.1 L717.9,1286.1 L720.7,1274.2 L723.5,1261.1 L726.3,1247.8 L729.1,1235.7 L731.8,1226.2 L734.6,1220.7 L737.4,1219.2 L740.2,1221.2 L743,1225.4 L745.8,1230.4 L748.6,1235.2 L751.4,1238.9 L754.2,1241.7 L757,1243.6 L759.8,1245.1 L762.6,1246.7 L765.3,1248.6 L768.1,1251.1 L770.9,1254.1 L773.7,1257.6 L776.5,1261.1 L779.3,1264.7 L782.1,1268.3 L784.9,1272 L787.7,1276.2 L790.5,1280.9 L793.3,1286.1 L796.1,1291.7 L798.8,1297.1 L801.6,1302 L804.4,1306.1 L807.2,1309.2 L810,1311.4 L812.8,1312.9 L815.6,1313.8 L818.4,1314.5 L821.2,1315.1 L824,1315.8 L826.8,1316.5 L829.6,1317.4 L832.4,1318.2 L835.1,1319 L837.9,1319.6 L840.7,1320 L843.5,1320.3 L846.3,1320.5 L849.1,1320.6 L851.9,1320.6 L854.7,1320.6 L857.5,1320.6 L860.3,1320.6 L863.1,1320.6 L865.9,1320.6 L868.6,1320.6 L871.4,1320.6 L874.2,1320.6 L877,1320.6 L879.8,1320.6 L882.6,1320.6 L885.4,1320.6 L888.2,1320.6 L891,1320.6 L893.8,1320.6 L896.6,1320.6 L899.4,1320.6 L902.1,1320.6 L904.9,1320.7 L907.7,1320.8 L910.5,1320.9 L913.3,1321.1 L916.1,1321.4 L918.9,1321.8 L921.7,1322.2" fill="none" stroke="#6A94E8" stroke-opacity="0.9" stroke-width="3.4" stroke-linejoin="round" stroke-linecap="round"/>
<path d="M722.2,1315.6 L725,1311.1 L727.7,1305.7 L730.5,1299.4 L733.2,1291.9 L736,1282.6 L738.8,1270.7 L741.5,1255.9 L744.3,1239.1 L747,1222.4 L749.8,1208.7 L752.5,1200.6 L755.3,1199.4 L758,1204.2 L760.8,1212.6 L763.5,1221.2 L766.3,1227.5 L769,1230.6 L771.8,1231.5 L774.5,1232.4 L777.3,1235.5 L780,1241.7 L782.8,1250.3 L785.6,1259.9 L788.3,1269.3 L791.1,1277.5 L793.8,1284.9 L796.6,1291.5 L799.3,1297.7 L802.1,1303.3 L804.8,1307.9 L807.6,1311.2 L810.3,1313.1 L813.1,1314.2 L815.8,1314.9 L818.6,1315.9 L821.3,1317.3 L824.1,1319" fill="none" stroke="#66E02A" stroke-opacity="0.9" stroke-width="3.4" stroke-linejoin="round" stroke-linecap="round"/>
<path d="M709.5,1316.4 L712.3,1312.5 L715.1,1307.3 L717.9,1300.5 L720.7,1292.2 L723.5,1282.5 L726.3,1272 L729.1,1261.6 L731.8,1252.1 L734.6,1244.5 L737.4,1239.1 L740.2,1236 L743,1234.8 L745.8,1235 L748.6,1236.1 L751.4,1237.4 L754.2,1238.7 L757,1240 L759.8,1241.4 L762.6,1243 L765.3,1245.2 L768.1,1247.9 L770.9,1251.3 L773.7,1255.1 L776.5,1259.3 L779.3,1263.5 L782.1,1267.8 L784.9,1272 L787.7,1276.2 L790.5,1280.5 L793.3,1285.1 L796.1,1289.8 L798.8,1294.7 L801.6,1299.4 L804.4,1303.8 L807.2,1307.6 L810,1310.7 L812.8,1313.2 L815.6,1314.9 L818.4,1316 L821.2,1316.7 L824,1317.1 L826.8,1317.3 L829.6,1317.4 L832.4,1317.4 L835.1,1317.4 L837.9,1317.5 L840.7,1317.5 L843.5,1317.5 L846.3,1317.5 L849.1,1317.5 L851.9,1317.5 L854.7,1317.5 L857.5,1317.5 L860.3,1317.5 L863.1,1317.5 L865.9,1317.5 L868.6,1317.5 L871.4,1317.5 L874.2,1317.5 L877,1317.5 L879.8,1317.5 L882.6,1317.5 L885.4,1317.5 L888.2,1317.5 L891,1317.5 L893.8,1317.5 L896.6,1317.4 L899.4,1317.4 L902.1,1317.4 L904.9,1317.4 L907.7,1317.5 L910.5,1317.7 L913.3,1318 L916.1,1318.5 L918.9,1319.3 L921.7,1320.1" fill="none" stroke="#2277A8" stroke-opacity="0.9" stroke-width="3.4" stroke-linejoin="round" stroke-linecap="round"/>
<g fill="#D3AE36" fill-opacity="0.7">
<rect x="773.2" y="1201.9" width="21.2" height="121.9"/>
<rect x="801.5" y="1201.9" width="7.1" height="121.9"/>
<rect x="822.7" y="1201.9" width="7.1" height="121.9"/>
</g>
<g fill="#EF442A" fill-opacity="0.7">
<rect x="723.7" y="1308" width="7.1" height="15.8"/>
<rect x="730.7" y="1276.3" width="7.1" height="47.5"/>
<rect x="737.8" y="1244.7" width="21.2" height="79.1"/>
<rect x="759" y="1225.7" width="7.1" height="98.1"/>
<rect x="766.1" y="1244.7" width="14.1" height="79.1"/>
<rect x="780.2" y="1276.3" width="21.2" height="47.5"/>
<rect x="801.5" y="1282.6" width="7.1" height="41.2"/>
<rect x="808.5" y="1296.9" width="7.1" height="26.9"/>
<rect x="815.6" y="1319" width="56.6" height="4.7"/>
<rect x="872.2" y="1311.1" width="7.1" height="12.7"/>
</g>
<g fill="#6691E7" fill-opacity="0.7">
<rect x="709.5" y="1308" width="7.1" height="15.8"/>
<rect x="716.6" y="1292.1" width="7.1" height="31.7"/>
<rect x="723.7" y="1244.7" width="7.1" height="79.1"/>
<rect x="730.7" y="1170.3" width="7.1" height="153.5"/>
<rect x="737.8" y="1228.8" width="7.1" height="95"/>
<rect x="744.9" y="1244.7" width="28.3" height="79.1"/>
<rect x="773.2" y="1268.4" width="14.1" height="55.4"/>
<rect x="787.3" y="1273.1" width="7.1" height="50.6"/>
<rect x="794.4" y="1300" width="7.1" height="23.7"/>
<rect x="801.5" y="1314.3" width="28.3" height="9.5"/>
<rect x="829.7" y="1320.6" width="91.9" height="3.2"/>
</g>
<g fill="#63E724" fill-opacity="0.7">
<rect x="723.7" y="1308" width="7.1" height="15.8"/>
<rect x="730.7" y="1292.1" width="7.1" height="31.7"/>
<rect x="737.8" y="1276.3" width="7.1" height="47.5"/>
<rect x="744.9" y="1195.6" width="7.1" height="128.2"/>
<rect x="751.9" y="1165.5" width="7.1" height="158.3"/>
<rect x="759" y="1236.7" width="7.1" height="87"/>
<rect x="766.1" y="1244.7" width="7.1" height="79.1"/>
<rect x="773.2" y="1208.2" width="7.1" height="115.5"/>
<rect x="780.2" y="1260.5" width="7.1" height="63.3"/>
<rect x="787.3" y="1281.1" width="7.1" height="42.7"/>
<rect x="794.4" y="1292.1" width="7.1" height="31.7"/>
<rect x="801.5" y="1315.9" width="14.1" height="7.9"/>
<rect x="815.6" y="1311.1" width="7.1" height="12.7"/>
</g>
<g fill="#247AAB" fill-opacity="0.7">
<rect x="709.5" y="1315.9" width="7.1" height="7.9"/>
<rect x="716.6" y="1308" width="7.1" height="15.8"/>
<rect x="723.7" y="1268.4" width="7.1" height="55.4"/>
<rect x="730.7" y="1225.7" width="14.1" height="98.1"/>
<rect x="744.9" y="1239.9" width="21.2" height="83.9"/>
<rect x="766.1" y="1244.7" width="7.1" height="79.1"/>
<rect x="773.2" y="1260.5" width="7.1" height="63.3"/>
<rect x="780.2" y="1273.1" width="7.1" height="50.6"/>
<rect x="787.3" y="1276.3" width="7.1" height="47.5"/>
<rect x="794.4" y="1293.7" width="7.1" height="30.1"/>
<rect x="801.5" y="1308" width="7.1" height="15.8"/>
<rect x="808.5" y="1317.5" width="106.1" height="6.3"/>
<rect x="914.6" y="1315.9" width="7.1" height="7.9"/>
</g>
</g>
<rect x="698.9" y="1157.6" width="233.4" height="174.1" fill="none" stroke="#333835" stroke-width="1.7"/>
<rect x="698.9" y="1136.1" width="233.4" height="21.5" fill="#D3DCD8" stroke="#2E3834" stroke-width="1.7"/>
<text x="815.8" y="1151.9" font-size="15.8" fill="#111" stroke="#111" stroke-width="0.55" text-anchor="middle">FFL_type5</text>
<line x1="695.4" y1="1192.2" x2="698.9" y2="1192.2" stroke="#333" stroke-width="1.8"/>
<line x1="695.4" y1="1236.3" x2="698.9" y2="1236.3" stroke="#333" stroke-width="1.8"/>
<line x1="695.4" y1="1280.5" x2="698.9" y2="1280.5" stroke="#333" stroke-width="1.8"/>
<line x1="695.4" y1="1324.6" x2="698.9" y2="1324.6" stroke="#333" stroke-width="1.8"/>
<line x1="713.6" y1="1331.7" x2="713.6" y2="1335.2" stroke="#333" stroke-width="1.8"/>
<text x="715" y="1352.3" font-size="15.3" fill="#3d3d3d" stroke="#3d3d3d" stroke-width="0.45" text-anchor="middle">0</text>
<line x1="772.5" y1="1331.7" x2="772.5" y2="1335.2" stroke="#333" stroke-width="1.8"/>
<text x="776.8" y="1352.3" font-size="15.3" fill="#3d3d3d" stroke="#3d3d3d" stroke-width="0.45" text-anchor="middle">100</text>
<line x1="831.3" y1="1331.7" x2="831.3" y2="1335.2" stroke="#333" stroke-width="1.8"/>
<text x="835.6" y="1352.3" font-size="15.3" fill="#3d3d3d" stroke="#3d3d3d" stroke-width="0.45" text-anchor="middle">200</text>
<line x1="890.8" y1="1331.7" x2="890.8" y2="1335.2" stroke="#333" stroke-width="1.8"/>
<text x="895.1" y="1352.3" font-size="15.3" fill="#3d3d3d" stroke="#3d3d3d" stroke-width="0.45" text-anchor="middle">300</text>
<clipPath id="cb31"><rect x="975.1" y="1157.6" width="233.6" height="174.1"/></clipPath>
<rect x="975.1" y="1157.6" width="233.6" height="174.1" fill="#fff"/>
<g clip-path="url(#cb31)">
<path d="M1005.5,1283.3 L1008.4,1274.9 L1011.2,1268.3 L1014,1264.6 L1016.9,1264.4 L1019.7,1267.6 L1022.5,1273.4 L1025.4,1280.3 L1028.2,1286.9 L1031,1291.7 L1033.9,1294.1 L1036.7,1294 L1039.5,1291.8 L1042.3,1288.6 L1045.2,1285.4 L1048,1283.4 L1050.8,1282.9 L1053.7,1284.1 L1056.5,1286.6 L1059.3,1289.6 L1062.2,1292.4 L1065,1294.7 L1067.8,1296.4 L1070.7,1297.8 L1073.5,1299.3 L1076.3,1301.4 L1079.2,1304.2" fill="none" stroke="#D8A632" stroke-opacity="0.9" stroke-width="3.4" stroke-linejoin="round" stroke-linecap="round"/>
<path d="M985.7,1313.8 L988.5,1309.7 L991.3,1305 L994.1,1299.9 L996.9,1294.4 L999.7,1288.9 L1002.4,1283.3 L1005.2,1277.8 L1008,1272.3 L1010.8,1266.9 L1013.6,1262.1 L1016.4,1258.2 L1019.2,1255.8 L1022,1255.3 L1024.7,1256.9 L1027.5,1260.1 L1030.3,1264.2 L1033.1,1268.7 L1035.9,1273 L1038.7,1276.6 L1041.5,1279.7 L1044.3,1282.3 L1047,1284.8 L1049.8,1287.8 L1052.6,1291.6 L1055.4,1296.2 L1058.2,1301.2 L1061,1306.2 L1063.8,1310.6 L1066.5,1314 L1069.3,1316.3 L1072.1,1317.7 L1074.9,1318.4 L1077.7,1318.8 L1080.5,1319 L1083.3,1319 L1086.1,1319.1 L1088.8,1319.1 L1091.6,1319.2 L1094.4,1319.4 L1097.2,1319.7 L1100,1320.1 L1102.8,1320.7 L1105.6,1321.3 L1108.4,1321.9 L1111.1,1322.5 L1113.9,1323 L1116.7,1323.3 L1119.5,1323.5 L1122.3,1323.7 L1125.1,1323.7 L1127.9,1323.8 L1130.7,1323.8 L1133.4,1323.8 L1136.2,1323.7 L1139,1323.7 L1141.8,1323.6 L1144.6,1323.4 L1147.4,1323.2 L1150.2,1322.9 L1153,1322.6 L1155.7,1322.3 L1158.5,1322.2 L1161.3,1322.3 L1164.1,1322.5" fill="none" stroke="#EF4A2A" stroke-opacity="0.9" stroke-width="3.4" stroke-linejoin="round" stroke-linecap="round"/>
<path d="M985.7,1309.5 L988.5,1305.2 L991.3,1300.6 L994.1,1295.8 L996.9,1291 L999.7,1286.3 L1002.4,1281.9 L1005.2,1277.7 L1008,1274 L1010.8,1270.8 L1013.6,1268 L1016.4,1265.9 L1019.2,1264.3 L1022,1263.5 L1024.7,1263.6 L1027.5,1264.7 L1030.3,1266.9 L1033.1,1270.2 L1035.9,1274.6 L1038.7,1279.8 L1041.5,1285.4 L1044.3,1291 L1047,1296.1 L1049.8,1300.4 L1052.6,1303.7 L1055.4,1306 L1058.2,1307.2 L1061,1307.7 L1063.8,1307.7 L1066.5,1307.4 L1069.3,1307.1 L1072.1,1307 L1074.9,1307.2 L1077.7,1307.7 L1080.5,1308.5 L1083.3,1309.2 L1086.1,1309.9 L1088.8,1310.4 L1091.6,1310.8 L1094.4,1311.1 L1097.2,1311.4 L1100,1311.6 L1102.8,1311.8 L1105.6,1312 L1108.4,1312.1 L1111.1,1312.3 L1113.9,1312.6 L1116.7,1313.1 L1119.5,1313.7 L1122.3,1314.5 L1125.1,1315.4 L1127.9,1316.2 L1130.7,1317 L1133.4,1317.6 L1136.2,1318 L1139,1318.3 L1141.8,1318.6 L1144.6,1318.8 L1147.4,1318.9 L1150.2,1319.1 L1153,1319.4 L1155.7,1319.7 L1158.5,1320 L1161.3,1320.5 L1164.1,1321" fill="none" stroke="#6A94E8" stroke-opacity="0.9" stroke-width="3.4" stroke-linejoin="round" stroke-linecap="round"/>
<path d="M998.5,1310.5 L1001.3,1306 L1004.1,1301 L1006.9,1296 L1009.7,1291.3 L1012.5,1287.1 L1015.3,1283.7 L1018.1,1281.1 L1021,1279.4 L1023.8,1278.4 L1026.6,1278 L1029.4,1278.2 L1032.2,1278.7 L1035,1279.6 L1037.8,1280.7 L1040.6,1281.8 L1043.4,1282.8 L1046.3,1283.5 L1049.1,1283.9 L1051.9,1284.2 L1054.7,1284.6 L1057.5,1285.3 L1060.3,1286.6 L1063.1,1288.4 L1065.9,1290.8 L1068.7,1293.4 L1071.6,1296 L1074.4,1298.3 L1077.2,1300.3 L1080,1301.8 L1082.8,1303.1 L1085.6,1304.2 L1088.4,1305.1 L1091.2,1306 L1094.1,1306.8 L1096.9,1307.5 L1099.7,1308.3 L1102.5,1309.2 L1105.3,1310.2 L1108.1,1311.3 L1110.9,1312.5 L1113.7,1313.7 L1116.5,1315 L1119.4,1316.1 L1122.2,1317 L1125,1317.7 L1127.8,1318.3 L1130.6,1318.6 L1133.4,1318.8 L1136.2,1318.9 L1139,1319 L1141.9,1319 L1144.7,1319 L1147.5,1319 L1150.3,1319 L1153.1,1319 L1155.9,1319 L1158.7,1319 L1161.5,1319 L1164.3,1319 L1167.2,1319 L1170,1319 L1172.8,1319 L1175.6,1318.9 L1178.4,1318.9 L1181.2,1318.9 L1184,1318.9 L1186.8,1319 L1189.6,1319.2 L1192.5,1319.5 L1195.3,1320 L1198.1,1320.6" fill="none" stroke="#66E02A" stroke-opacity="0.9" stroke-width="3.4" stroke-linejoin="round" stroke-linecap="round"/>
<path d="M985.7,1311.2 L988.5,1305.3 L991.3,1298.3 L994.1,1290.8 L996.9,1283.5 L999.7,1277 L1002.5,1271.6 L1005.3,1267.4 L1008.1,1264.1 L1010.9,1261.5 L1013.7,1259.5 L1016.5,1258.2 L1019.2,1257.7 L1022,1258.1 L1024.8,1259.5 L1027.6,1262 L1030.4,1265.7 L1033.2,1270.4 L1036,1275.9 L1038.8,1281.8 L1041.6,1287.5 L1044.4,1292.6 L1047.2,1296.8 L1050,1299.9 L1052.8,1302.1 L1055.6,1303.9 L1058.4,1305.4 L1061.2,1307 L1064,1308.6 L1066.8,1310.1 L1069.5,1311.5 L1072.3,1312.6 L1075.1,1313.5 L1077.9,1314.3 L1080.7,1315.1 L1083.5,1316 L1086.3,1317 L1089.1,1318 L1091.9,1318.9 L1094.7,1319.6 L1097.5,1320.1 L1100.3,1320.3 L1103.1,1320.5 L1105.9,1320.6 L1108.7,1320.6 L1111.5,1320.6 L1114.3,1320.6 L1117,1320.6 L1119.8,1320.6 L1122.6,1320.6 L1125.4,1320.6 L1128.2,1320.6 L1131,1320.6 L1133.8,1320.6 L1136.6,1320.6 L1139.4,1320.6 L1142.2,1320.6 L1145,1320.6 L1147.8,1320.6 L1150.6,1320.6 L1153.4,1320.6 L1156.2,1320.6 L1159,1320.6 L1161.8,1320.6 L1164.6,1320.6 L1167.3,1320.6 L1170.1,1320.6 L1172.9,1320.6 L1175.7,1320.6 L1178.5,1320.6 L1181.3,1320.7 L1184.1,1320.8 L1186.9,1320.9 L1189.7,1321.1 L1192.5,1321.4 L1195.3,1321.8 L1198.1,1322.2" fill="none" stroke="#2277A8" stroke-opacity="0.9" stroke-width="3.4" stroke-linejoin="round" stroke-linecap="round"/>
<g fill="#D3AE36" fill-opacity="0.7">
<rect x="1007" y="1246.2" width="7.1" height="77.6"/>
<rect x="1014" y="1167.1" width="7.1" height="156.7"/>
<rect x="1042.3" y="1246.2" width="14.2" height="77.6"/>
<rect x="1070.7" y="1246.2" width="7.1" height="77.6"/>
</g>
<g fill="#EF442A" fill-opacity="0.7">
<rect x="985.7" y="1311.1" width="7.1" height="12.7"/>
<rect x="992.8" y="1296.9" width="7.1" height="26.9"/>
<rect x="999.9" y="1276.3" width="14.2" height="47.5"/>
<rect x="1014" y="1241.5" width="14.2" height="82.3"/>
<rect x="1028.2" y="1276.3" width="14.2" height="47.5"/>
<rect x="1042.3" y="1292.1" width="7.1" height="31.7"/>
<rect x="1049.4" y="1270" width="7.1" height="53.8"/>
<rect x="1056.5" y="1319" width="49.6" height="4.7"/>
<rect x="1155.6" y="1319" width="7.1" height="4.7"/>
</g>
<g fill="#6691E7" fill-opacity="0.7">
<rect x="985.7" y="1303.2" width="7.1" height="20.6"/>
<rect x="992.8" y="1292.1" width="7.1" height="31.7"/>
<rect x="999.9" y="1276.3" width="7.1" height="47.5"/>
<rect x="1007" y="1268.4" width="7.1" height="55.4"/>
<rect x="1014" y="1260.5" width="14.2" height="63.3"/>
<rect x="1028.2" y="1254.1" width="7.1" height="69.6"/>
<rect x="1035.3" y="1270" width="7.1" height="53.8"/>
<rect x="1042.3" y="1311.1" width="28.3" height="12.7"/>
<rect x="1070.7" y="1292.1" width="7.1" height="31.7"/>
<rect x="1077.7" y="1315.9" width="14.2" height="7.9"/>
<rect x="1091.9" y="1303.2" width="7.1" height="20.6"/>
<rect x="1099" y="1315.9" width="14.2" height="7.9"/>
<rect x="1113.1" y="1303.2" width="7.1" height="20.6"/>
<rect x="1120.2" y="1319" width="21.2" height="4.7"/>
<rect x="1141.5" y="1315.9" width="7.1" height="7.9"/>
<rect x="1155.6" y="1314.3" width="7.1" height="9.5"/>
</g>
<g fill="#63E724" fill-opacity="0.7">
<rect x="999.9" y="1308" width="7.1" height="15.8"/>
<rect x="1007" y="1276.3" width="35.4" height="47.5"/>
<rect x="1042.3" y="1292.1" width="14.2" height="31.7"/>
<rect x="1056.5" y="1260.5" width="7.1" height="63.3"/>
<rect x="1063.6" y="1300" width="7.1" height="23.7"/>
<rect x="1070.7" y="1308" width="7.1" height="15.8"/>
<rect x="1077.7" y="1296.9" width="7.1" height="26.9"/>
<rect x="1084.8" y="1308" width="28.3" height="15.8"/>
<rect x="1113.1" y="1319" width="77.9" height="4.7"/>
<rect x="1191" y="1315.9" width="7.1" height="7.9"/>
</g>
<g fill="#247AAB" fill-opacity="0.7">
<rect x="985.7" y="1315.9" width="7.1" height="7.9"/>
<rect x="992.8" y="1274.7" width="7.1" height="49.1"/>
<rect x="999.9" y="1260.5" width="7.1" height="63.3"/>
<rect x="1007" y="1268.4" width="7.1" height="55.4"/>
<rect x="1014" y="1246.2" width="7.1" height="77.6"/>
<rect x="1021.1" y="1260.5" width="7.1" height="63.3"/>
<rect x="1028.2" y="1255.7" width="7.1" height="68.1"/>
<rect x="1035.3" y="1284.2" width="7.1" height="39.6"/>
<rect x="1042.3" y="1304.8" width="14.2" height="19"/>
<rect x="1056.5" y="1300" width="7.1" height="23.7"/>
<rect x="1063.6" y="1315.9" width="7.1" height="7.9"/>
<rect x="1070.7" y="1314.3" width="7.1" height="9.5"/>
<rect x="1077.7" y="1311.1" width="7.1" height="12.7"/>
<rect x="1084.8" y="1320.6" width="113.3" height="3.2"/>
</g>
</g>
<rect x="975.1" y="1157.6" width="233.6" height="174.1" fill="none" stroke="#333835" stroke-width="1.7"/>
<rect x="975.1" y="1136.1" width="233.6" height="21.5" fill="#D3DCD8" stroke="#2E3834" stroke-width="1.7"/>
<text x="1092.1" y="1151.9" font-size="15.8" fill="#111" stroke="#111" stroke-width="0.55" text-anchor="middle">FFL_type6</text>
<line x1="971.6" y1="1192.2" x2="975.1" y2="1192.2" stroke="#333" stroke-width="1.8"/>
<line x1="971.6" y1="1236.3" x2="975.1" y2="1236.3" stroke="#333" stroke-width="1.8"/>
<line x1="971.6" y1="1280.5" x2="975.1" y2="1280.5" stroke="#333" stroke-width="1.8"/>
<line x1="971.6" y1="1324.6" x2="975.1" y2="1324.6" stroke="#333" stroke-width="1.8"/>
<line x1="982.5" y1="1331.7" x2="982.5" y2="1335.2" stroke="#333" stroke-width="1.8"/>
<text x="983.9" y="1352.3" font-size="15.3" fill="#3d3d3d" stroke="#3d3d3d" stroke-width="0.45" text-anchor="middle">0</text>
<line x1="1059.2" y1="1331.7" x2="1059.2" y2="1335.2" stroke="#333" stroke-width="1.8"/>
<text x="1062.1" y="1352.3" font-size="15.3" fill="#3d3d3d" stroke="#3d3d3d" stroke-width="0.45" text-anchor="middle">50</text>
<line x1="1135" y1="1331.7" x2="1135" y2="1335.2" stroke="#333" stroke-width="1.8"/>
<text x="1139.3" y="1352.3" font-size="15.3" fill="#3d3d3d" stroke="#3d3d3d" stroke-width="0.45" text-anchor="middle">100</text>
<clipPath id="cb02"><rect x="134" y="1378.6" width="234" height="174.1"/></clipPath>
<rect x="134" y="1378.6" width="234" height="174.1" fill="#fff"/>
<g clip-path="url(#cb02)">
<path d="M199.9,1502.6 L202.8,1496.7 L205.6,1491.7 L208.5,1487.9 L211.3,1485.6 L214.1,1484.9 L217,1485.6 L219.8,1487.7 L222.6,1490.6 L225.5,1494.2 L228.3,1498 L231.1,1501.9 L234,1505.7 L236.8,1509.4 L239.7,1513 L242.5,1516.6 L245.3,1520.1" fill="none" stroke="#D8A632" stroke-opacity="0.9" stroke-width="3.4" stroke-linejoin="round" stroke-linecap="round"/>
<path d="M157.4,1528.7 L160.2,1523 L163,1517.1 L165.8,1511.5 L168.6,1506.7 L171.4,1502.7 L174.2,1499.4 L177,1496.3 L179.8,1492.8 L182.6,1488.5 L185.4,1482.9 L188.2,1476.3 L191,1469.4 L193.8,1463.2 L196.6,1458.9 L199.4,1457.3 L202.2,1458.4 L205,1461.6 L207.8,1466.3 L210.6,1471.9 L213.4,1478.2 L216.2,1485.4 L219,1493.3 L221.8,1501.8 L224.6,1510.2 L227.4,1517.5 L230.2,1523.1 L233,1526.8 L235.8,1529 L238.6,1530.1 L241.4,1530.9 L244.2,1531.5 L247,1532.4 L249.8,1533.4 L252.6,1534.4 L255.4,1535.5 L258.2,1536.7 L261,1538 L263.8,1539.3 L266.6,1540.7" fill="none" stroke="#EF4A2A" stroke-opacity="0.9" stroke-width="3.4" stroke-linejoin="round" stroke-linecap="round"/>
<path d="M144.6,1532.6 L147.4,1526.8 L150.1,1519.2 L152.9,1509.7 L155.6,1498.3 L158.4,1485.4 L161.2,1472 L163.9,1459.4 L166.7,1449 L169.4,1442.1 L172.2,1439 L174.9,1439.2 L177.7,1441.7 L180.4,1445 L183.2,1448.3 L185.9,1451.5 L188.7,1454.9 L191.4,1459.1 L194.2,1464.4 L196.9,1470.6 L199.7,1477 L202.4,1483.1 L205.2,1488.3 L208,1492.6 L210.7,1496 L213.5,1499.2 L216.2,1502.5 L219,1506.3 L221.7,1510.7 L224.5,1515.6 L227.2,1520.8 L230,1525.8 L232.7,1530.5 L235.5,1534.5 L238.2,1537.8" fill="none" stroke="#6A94E8" stroke-opacity="0.9" stroke-width="3.4" stroke-linejoin="round" stroke-linecap="round"/>
<path d="M157.4,1531.9 L160.2,1525.3 L163,1517 L165.8,1507 L168.7,1495.7 L171.5,1483.8 L174.3,1472.1 L177.1,1461.7 L179.9,1453.6 L182.7,1448.5 L185.6,1446.7 L188.4,1447.7 L191.2,1450.5 L194,1454.1 L196.8,1457.8 L199.6,1461.2 L202.5,1464.5 L205.3,1468.2 L208.1,1472.6 L210.9,1478 L213.7,1484.5 L216.5,1491.9 L219.4,1499.6 L222.2,1507.5 L225,1514.8 L227.8,1521.4 L230.6,1527 L233.4,1531.5 L236.3,1535 L239.1,1537.5 L241.9,1539.2 L244.7,1540.3 L247.5,1540.9 L250.3,1541.3 L253.2,1541.5 L256,1541.6 L258.8,1541.6 L261.6,1541.6 L264.4,1541.6 L267.2,1541.6 L270.1,1541.6 L272.9,1541.6 L275.7,1541.6 L278.5,1541.6 L281.3,1541.6 L284.1,1541.6 L287,1541.6 L289.8,1541.6 L292.6,1541.6 L295.4,1541.6 L298.2,1541.6 L301,1541.6 L303.9,1541.6 L306.7,1541.6 L309.5,1541.6 L312.3,1541.6 L315.1,1541.6 L317.9,1541.6 L320.8,1541.6 L323.6,1541.6 L326.4,1541.6 L329.2,1541.6 L332,1541.6 L334.8,1541.6 L337.6,1541.6 L340.5,1541.7 L343.3,1541.8 L346.1,1541.9 L348.9,1542.1 L351.7,1542.4 L354.5,1542.8 L357.4,1543.2" fill="none" stroke="#66E02A" stroke-opacity="0.9" stroke-width="3.4" stroke-linejoin="round" stroke-linecap="round"/>
<path d="M144.6,1538.7 L147.4,1535.2 L150.2,1530.4 L153,1524.2 L155.8,1516.3 L158.6,1506.9 L161.4,1496.5 L164.2,1485.6 L167,1475.2 L169.8,1466.3 L172.6,1459.7 L175.4,1456 L178.2,1455 L181,1456.5 L183.8,1459.5 L186.6,1463.4 L189.4,1467.5 L192.2,1471.6 L195,1475.7 L197.8,1479.8 L200.6,1484 L203.4,1488.1 L206.2,1492 L209,1495.5 L211.8,1498.8 L214.6,1502.3 L217.4,1506.1 L220.2,1510.4 L223,1515.2 L225.8,1520.1 L228.6,1524.9 L231.4,1529.2 L234.2,1532.6 L237,1535.3 L239.8,1537.2 L242.6,1538.4 L245.4,1539.2 L248.2,1539.6 L251,1539.8 L253.8,1540 L256.6,1540 L259.4,1540 L262.2,1540 L265,1540 L267.8,1540 L270.6,1540 L273.4,1540 L276.2,1540 L279,1540 L281.8,1540 L284.6,1540 L287.4,1540 L290.2,1540 L293,1540 L295.8,1540 L298.6,1540 L301.4,1540 L304.2,1540 L307,1540 L309.8,1540 L312.6,1540 L315.4,1540 L318.2,1540 L321,1540 L323.8,1540 L326.6,1540 L329.4,1540 L332.2,1540 L335,1540 L337.8,1540 L340.6,1540 L343.4,1540 L346.2,1540.1 L349,1540.3 L351.8,1540.7 L354.6,1541.3 L357.4,1541.9" fill="none" stroke="#2277A8" stroke-opacity="0.9" stroke-width="3.4" stroke-linejoin="round" stroke-linecap="round"/>
<g fill="#D3AE36" fill-opacity="0.7">
<rect x="201.4" y="1441.9" width="21.3" height="102.9"/>
<rect x="236.8" y="1441.9" width="7.1" height="102.9"/>
</g>
<g fill="#EF442A" fill-opacity="0.7">
<rect x="158.8" y="1513.1" width="7.1" height="31.7"/>
<rect x="165.9" y="1497.3" width="21.3" height="47.5"/>
<rect x="187.2" y="1481.5" width="7.1" height="63.3"/>
<rect x="194.3" y="1413.4" width="7.1" height="131.4"/>
<rect x="201.4" y="1473.6" width="21.3" height="71.2"/>
<rect x="222.6" y="1536.9" width="14.2" height="7.9"/>
<rect x="236.8" y="1522.6" width="7.1" height="22.2"/>
<rect x="243.9" y="1535.3" width="21.3" height="9.5"/>
</g>
<g fill="#6691E7" fill-opacity="0.7">
<rect x="144.6" y="1532.1" width="7.1" height="12.7"/>
<rect x="151.7" y="1513.1" width="7.1" height="31.7"/>
<rect x="158.8" y="1473.6" width="7.1" height="71.2"/>
<rect x="165.9" y="1386.5" width="7.1" height="158.3"/>
<rect x="173" y="1449.8" width="7.1" height="95"/>
<rect x="180.1" y="1465.7" width="7.1" height="79.1"/>
<rect x="187.2" y="1429.2" width="7.1" height="115.5"/>
<rect x="194.3" y="1481.5" width="7.1" height="63.3"/>
<rect x="201.4" y="1497.3" width="21.3" height="47.5"/>
<rect x="222.6" y="1521" width="7.1" height="23.7"/>
<rect x="229.7" y="1535.3" width="7.1" height="9.5"/>
</g>
<g fill="#63E724" fill-opacity="0.7">
<rect x="158.8" y="1529" width="7.1" height="15.8"/>
<rect x="165.9" y="1497.3" width="7.1" height="47.5"/>
<rect x="173" y="1457.7" width="7.1" height="87"/>
<rect x="180.1" y="1411.8" width="7.1" height="132.9"/>
<rect x="187.2" y="1457.7" width="7.1" height="87"/>
<rect x="194.3" y="1465.7" width="7.1" height="79.1"/>
<rect x="201.4" y="1459.3" width="7.1" height="85.5"/>
<rect x="208.5" y="1473.6" width="7.1" height="71.2"/>
<rect x="215.5" y="1498.9" width="7.1" height="45.9"/>
<rect x="222.6" y="1524.2" width="7.1" height="20.6"/>
<rect x="229.7" y="1536.9" width="7.1" height="7.9"/>
<rect x="236.8" y="1541.6" width="120.5" height="3.2"/>
</g>
<g fill="#247AAB" fill-opacity="0.7">
<rect x="144.6" y="1540" width="7.1" height="4.7"/>
<rect x="151.7" y="1529" width="7.1" height="15.8"/>
<rect x="158.8" y="1497.3" width="7.1" height="47.5"/>
<rect x="165.9" y="1454.6" width="7.1" height="90.2"/>
<rect x="173" y="1429.2" width="7.1" height="115.5"/>
<rect x="180.1" y="1465.7" width="7.1" height="79.1"/>
<rect x="187.2" y="1472" width="14.2" height="72.8"/>
<rect x="201.4" y="1498.9" width="21.3" height="45.9"/>
<rect x="222.6" y="1525.8" width="7.1" height="19"/>
<rect x="229.7" y="1536.9" width="7.1" height="7.9"/>
<rect x="236.8" y="1540" width="113.5" height="4.7"/>
<rect x="350.3" y="1538.5" width="7.1" height="6.3"/>
</g>
</g>
<rect x="134" y="1378.6" width="234" height="174.1" fill="none" stroke="#333835" stroke-width="1.7"/>
<rect x="134" y="1357.1" width="234" height="21.5" fill="#D3DCD8" stroke="#2E3834" stroke-width="1.7"/>
<text x="251.2" y="1372.9" font-size="15.8" fill="#111" stroke="#111" stroke-width="0.55" text-anchor="middle">FFL_type7</text>
<line x1="130.5" y1="1414.7" x2="134" y2="1414.7" stroke="#333" stroke-width="1.8"/>
<line x1="130.5" y1="1458.1" x2="134" y2="1458.1" stroke="#333" stroke-width="1.8"/>
<line x1="130.5" y1="1502.2" x2="134" y2="1502.2" stroke="#333" stroke-width="1.8"/>
<line x1="130.5" y1="1545.6" x2="134" y2="1545.6" stroke="#333" stroke-width="1.8"/>
<line x1="149.1" y1="1552.7" x2="149.1" y2="1556.2" stroke="#333" stroke-width="1.8"/>
<text x="150.5" y="1573.3" font-size="15.3" fill="#3d3d3d" stroke="#3d3d3d" stroke-width="0.45" text-anchor="middle">0</text>
<line x1="200.1" y1="1552.7" x2="200.1" y2="1556.2" stroke="#333" stroke-width="1.8"/>
<text x="204.4" y="1573.3" font-size="15.3" fill="#3d3d3d" stroke="#3d3d3d" stroke-width="0.45" text-anchor="middle">100</text>
<line x1="250.8" y1="1552.7" x2="250.8" y2="1556.2" stroke="#333" stroke-width="1.8"/>
<text x="255.1" y="1573.3" font-size="15.3" fill="#3d3d3d" stroke="#3d3d3d" stroke-width="0.45" text-anchor="middle">200</text>
<line x1="301.3" y1="1552.7" x2="301.3" y2="1556.2" stroke="#333" stroke-width="1.8"/>
<text x="305.6" y="1573.3" font-size="15.3" fill="#3d3d3d" stroke="#3d3d3d" stroke-width="0.45" text-anchor="middle">300</text>
<line x1="352.1" y1="1552.7" x2="352.1" y2="1556.2" stroke="#333" stroke-width="1.8"/>
<text x="356.4" y="1573.3" font-size="15.3" fill="#3d3d3d" stroke="#3d3d3d" stroke-width="0.45" text-anchor="middle">400</text>
<clipPath id="cb12"><rect x="416.9" y="1378.6" width="233.5" height="174.1"/></clipPath>
<rect x="416.9" y="1378.6" width="233.5" height="174.1" fill="#fff"/>
<g clip-path="url(#cb12)">
<path d="M454.4,1511.9 L457.2,1509.3 L460.1,1508 L462.9,1508 L465.7,1508.9 L468.6,1510.3 L471.4,1511.5 L474.2,1512.2 L477,1512.1 L479.9,1511.1 L482.7,1509.3 L485.5,1507.2 L488.4,1505.2 L491.2,1503.6 L494,1502.9 L496.9,1503.1 L499.7,1504.4 L502.5,1506.5 L505.3,1509.5 L508.2,1513.1 L511,1517 L513.8,1521.2" fill="none" stroke="#D8A632" stroke-opacity="0.9" stroke-width="3.4" stroke-linejoin="round" stroke-linecap="round"/>
<path d="M433.2,1529.7 L435.9,1523.1 L438.7,1515.3 L441.4,1506.4 L444.2,1497 L446.9,1487.6 L449.7,1478.9 L452.5,1471.9 L455.2,1467.1 L458,1465 L460.7,1465.7 L463.5,1468.8 L466.2,1473.8 L469,1479.9 L471.7,1486.5 L474.5,1493.4 L477.2,1500.3 L480,1507.3 L482.7,1514.2 L485.5,1520.7 L488.2,1526.5 L491,1531.3 L493.8,1534.8 L496.5,1537.2 L499.3,1538.6 L502,1539.4 L504.8,1539.8 L507.5,1539.9 L510.3,1539.9 L513,1539.9 L515.8,1539.9 L518.5,1539.8 L521.3,1539.7 L524,1539.8 L526.8,1540 L529.6,1540.5 L532.3,1541.1 L535.1,1541.8" fill="none" stroke="#EF4A2A" stroke-opacity="0.9" stroke-width="3.4" stroke-linejoin="round" stroke-linecap="round"/>
<path d="M427.5,1532 L430.3,1525.9 L433.1,1518.4 L435.9,1509.7 L438.7,1500.4 L441.4,1491.1 L444.2,1482.6 L447,1475.7 L449.8,1470.7 L452.6,1467.9 L455.4,1467.1 L458.1,1467.6 L460.9,1468.8 L463.7,1470.2 L466.5,1471.4 L469.3,1472.4 L472.1,1473.4 L474.9,1474.8 L477.6,1477.3 L480.4,1481.1 L483.2,1486.7 L486,1493.7 L488.8,1501.8 L491.6,1510.2 L494.3,1518.1 L497.1,1524.7 L499.9,1529.9 L502.7,1533.7 L505.5,1536.4 L508.3,1538.4 L511.1,1539.9 L513.8,1541.2" fill="none" stroke="#6A94E8" stroke-opacity="0.9" stroke-width="3.4" stroke-linejoin="round" stroke-linecap="round"/>
<path d="M447.3,1520.6 L450.1,1509.4 L452.9,1496.9 L455.7,1484.2 L458.5,1472.5 L461.3,1463.1 L464.1,1457.2 L466.9,1455.5 L469.6,1457.9 L472.4,1463.6 L475.2,1471.2 L478,1479.7 L480.8,1488.2 L483.6,1496 L486.4,1502.8 L489.2,1508.3 L492,1512.5 L494.7,1516 L497.5,1519.2 L500.3,1522.4 L503.1,1525.5 L505.9,1528.5 L508.7,1531.4 L511.5,1534 L514.3,1536.4 L517.1,1538.3 L519.8,1539.7 L522.6,1540.7 L525.4,1541.2 L528.2,1541.5 L531,1541.6 L533.8,1541.6 L536.6,1541.6 L539.4,1541.6 L542.2,1541.6 L545,1541.6 L547.7,1541.6 L550.5,1541.6 L553.3,1541.6 L556.1,1541.6 L558.9,1541.6 L561.7,1541.6 L564.5,1541.6 L567.3,1541.6 L570.1,1541.6 L572.8,1541.6 L575.6,1541.6 L578.4,1541.6 L581.2,1541.6 L584,1541.6 L586.8,1541.6 L589.6,1541.6 L592.4,1541.6 L595.2,1541.6 L597.9,1541.6 L600.7,1541.6 L603.5,1541.6 L606.3,1541.6 L609.1,1541.6 L611.9,1541.6 L614.7,1541.6 L617.5,1541.6 L620.3,1541.6 L623.1,1541.7 L625.8,1541.7 L628.6,1541.8 L631.4,1542 L634.2,1542.3 L637,1542.7 L639.8,1543.2" fill="none" stroke="#66E02A" stroke-opacity="0.9" stroke-width="3.4" stroke-linejoin="round" stroke-linecap="round"/>
<path d="M433.2,1532.3 L436,1525.9 L438.8,1517.8 L441.5,1508.2 L444.3,1497.7 L447.1,1487.5 L449.9,1478.8 L452.7,1472.5 L455.5,1469.2 L458.3,1468.6 L461.1,1470.1 L463.9,1473 L466.7,1476.7 L469.5,1481 L472.3,1485.8 L475.1,1491.3 L477.8,1497.3 L480.6,1503.6 L483.4,1509.8 L486.2,1515.3 L489,1520 L491.8,1523.5 L494.6,1525.9 L497.4,1527.5 L500.2,1528.4 L503,1529.1 L505.8,1529.7 L508.6,1530.4 L511.4,1531.4 L514.1,1532.7 L516.9,1534.3 L519.7,1535.9 L522.5,1537.5 L525.3,1538.9 L528.1,1539.9 L530.9,1540.7 L533.7,1541.1 L536.5,1541.4 L539.3,1541.5 L542.1,1541.6 L544.9,1541.6 L547.6,1541.6 L550.4,1541.6 L553.2,1541.6 L556,1541.6 L558.8,1541.6 L561.6,1541.6 L564.4,1541.6 L567.2,1541.6 L570,1541.6 L572.8,1541.6 L575.6,1541.6 L578.4,1541.6 L581.2,1541.6 L583.9,1541.6 L586.7,1541.6 L589.5,1541.6 L592.3,1541.6 L595.1,1541.6 L597.9,1541.6 L600.7,1541.6 L603.5,1541.6 L606.3,1541.6 L609.1,1541.6 L611.9,1541.6 L614.7,1541.6 L617.5,1541.6 L620.2,1541.6 L623,1541.5 L625.8,1541.5 L628.6,1541.5 L631.4,1541.7 L634.2,1541.9 L637,1542.3 L639.8,1542.7" fill="none" stroke="#2277A8" stroke-opacity="0.9" stroke-width="3.4" stroke-linejoin="round" stroke-linecap="round"/>
<g fill="#D3AE36" fill-opacity="0.7">
<rect x="455.8" y="1388.1" width="7.1" height="156.7"/>
<rect x="484.1" y="1467.2" width="14.2" height="77.6"/>
<rect x="505.3" y="1467.2" width="7.1" height="77.6"/>
</g>
<g fill="#EF442A" fill-opacity="0.7">
<rect x="434.6" y="1521" width="7.1" height="23.7"/>
<rect x="441.7" y="1497.3" width="7.1" height="47.5"/>
<rect x="448.7" y="1457.7" width="7.1" height="87"/>
<rect x="455.8" y="1443.5" width="7.1" height="101.3"/>
<rect x="462.9" y="1473.6" width="7.1" height="71.2"/>
<rect x="470" y="1497.3" width="14.2" height="47.5"/>
<rect x="484.1" y="1540" width="42.5" height="4.7"/>
<rect x="526.6" y="1536.9" width="7.1" height="7.9"/>
</g>
<g fill="#6691E7" fill-opacity="0.7">
<rect x="427.5" y="1533.7" width="7.1" height="11.1"/>
<rect x="434.6" y="1505.2" width="7.1" height="39.6"/>
<rect x="441.7" y="1468.8" width="7.1" height="76"/>
<rect x="448.7" y="1449.8" width="7.1" height="95"/>
<rect x="455.8" y="1473.6" width="21.2" height="71.2"/>
<rect x="477" y="1467.2" width="7.1" height="77.6"/>
<rect x="484.1" y="1489.4" width="7.1" height="55.4"/>
<rect x="491.2" y="1536.9" width="21.2" height="7.9"/>
</g>
<g fill="#63E724" fill-opacity="0.7">
<rect x="448.7" y="1497.3" width="7.1" height="47.5"/>
<rect x="455.8" y="1465.7" width="7.1" height="79.1"/>
<rect x="462.9" y="1424.5" width="7.1" height="120.3"/>
<rect x="470" y="1473.6" width="7.1" height="71.2"/>
<rect x="477" y="1481.5" width="7.1" height="63.3"/>
<rect x="484.1" y="1521" width="7.1" height="23.7"/>
<rect x="491.2" y="1508.4" width="7.1" height="36.4"/>
<rect x="498.3" y="1529" width="14.2" height="15.8"/>
<rect x="512.4" y="1541.6" width="127.4" height="3.2"/>
</g>
<g fill="#247AAB" fill-opacity="0.7">
<rect x="434.6" y="1529" width="7.1" height="15.8"/>
<rect x="441.7" y="1505.2" width="7.1" height="39.6"/>
<rect x="448.7" y="1432.4" width="7.1" height="112.4"/>
<rect x="455.8" y="1473.6" width="7.1" height="71.2"/>
<rect x="462.9" y="1475.1" width="7.1" height="69.6"/>
<rect x="470" y="1481.5" width="7.1" height="63.3"/>
<rect x="477" y="1502.1" width="7.1" height="42.7"/>
<rect x="484.1" y="1529" width="28.3" height="15.8"/>
<rect x="512.4" y="1530.5" width="7.1" height="14.2"/>
<rect x="519.5" y="1541.6" width="113.2" height="3.2"/>
<rect x="632.7" y="1540" width="7.1" height="4.7"/>
</g>
</g>
<rect x="416.9" y="1378.6" width="233.5" height="174.1" fill="none" stroke="#333835" stroke-width="1.7"/>
<rect x="416.9" y="1357.1" width="233.5" height="21.5" fill="#D3DCD8" stroke="#2E3834" stroke-width="1.7"/>
<text x="533.9" y="1372.9" font-size="15.8" fill="#111" stroke="#111" stroke-width="0.55" text-anchor="middle">FFL_type8</text>
<line x1="413.4" y1="1411.5" x2="416.9" y2="1411.5" stroke="#333" stroke-width="1.8"/>
<line x1="413.4" y1="1445.1" x2="416.9" y2="1445.1" stroke="#333" stroke-width="1.8"/>
<line x1="413.4" y1="1478.4" x2="416.9" y2="1478.4" stroke="#333" stroke-width="1.8"/>
<line x1="413.4" y1="1512" x2="416.9" y2="1512" stroke="#333" stroke-width="1.8"/>
<line x1="413.4" y1="1545.6" x2="416.9" y2="1545.6" stroke="#333" stroke-width="1.8"/>
<line x1="431.1" y1="1552.7" x2="431.1" y2="1556.2" stroke="#333" stroke-width="1.8"/>
<text x="432.5" y="1573.3" font-size="15.3" fill="#3d3d3d" stroke="#3d3d3d" stroke-width="0.45" text-anchor="middle">0</text>
<line x1="481.8" y1="1552.7" x2="481.8" y2="1556.2" stroke="#333" stroke-width="1.8"/>
<text x="486.1" y="1573.3" font-size="15.3" fill="#3d3d3d" stroke="#3d3d3d" stroke-width="0.45" text-anchor="middle">100</text>
<line x1="531.6" y1="1552.7" x2="531.6" y2="1556.2" stroke="#333" stroke-width="1.8"/>
<text x="535.9" y="1573.3" font-size="15.3" fill="#3d3d3d" stroke="#3d3d3d" stroke-width="0.45" text-anchor="middle">200</text>
<line x1="582.3" y1="1552.7" x2="582.3" y2="1556.2" stroke="#333" stroke-width="1.8"/>
<text x="586.6" y="1573.3" font-size="15.3" fill="#3d3d3d" stroke="#3d3d3d" stroke-width="0.45" text-anchor="middle">300</text>
<line x1="633.3" y1="1552.7" x2="633.3" y2="1556.2" stroke="#333" stroke-width="1.8"/>
<text x="637.6" y="1573.3" font-size="15.3" fill="#3d3d3d" stroke="#3d3d3d" stroke-width="0.45" text-anchor="middle">400</text>
<clipPath id="cb22"><rect x="698.9" y="1378.6" width="233.4" height="174.1"/></clipPath>
<rect x="698.9" y="1378.6" width="233.4" height="174.1" fill="#fff"/>
<g clip-path="url(#cb22)">
<path d="M709.5,1528.1 L712.3,1526 L715,1526.6 L717.8,1529.7 L720.6,1534 L723.3,1538.2 L726.1,1541.3 L728.8,1543.2 L731.6,1544.1 L734.4,1544.5 L737.1,1544.4 L739.9,1543.9 L742.6,1542.8 L745.4,1541 L748.2,1538.5 L750.9,1535.8 L753.7,1533.6 L756.5,1532.6 L759.2,1533.2 L762,1535 L764.7,1537.5 L767.5,1539.9" fill="none" stroke="#D8A632" stroke-opacity="0.9" stroke-width="3.4" stroke-linejoin="round" stroke-linecap="round"/>
<path d="M709.5,1483.6 L712.3,1442.2 L715.1,1456.4 L717.8,1505.4 L720.6,1533.9 L723.4,1536.8 L726.1,1532.2 L728.9,1533.2 L731.7,1539.2 L734.5,1542.6 L737.2,1541.5 L740,1538.7 L742.8,1538.8 L745.5,1541.7 L748.3,1544 L751.1,1544.7 L753.9,1544.8 L756.6,1544.8 L759.4,1544.8 L762.2,1544.8 L764.9,1544.8 L767.7,1544.8 L770.5,1544.8 L773.2,1544.8 L776,1544.8 L778.8,1544.8 L781.6,1544.8 L784.3,1544.8 L787.1,1544.8 L789.9,1544.8 L792.6,1544.8 L795.4,1544.8 L798.2,1544.8 L801,1544.8 L803.7,1544.8 L806.5,1544.8 L809.3,1544.8 L812,1544.8 L814.8,1544.8 L817.6,1544.8 L820.4,1544.8 L823.1,1544.8 L825.9,1544.8 L828.7,1544.8 L831.4,1544.7 L834.2,1544.3 L837,1543.2 L839.8,1542.2 L842.5,1542.6 L845.3,1543.9" fill="none" stroke="#EF4A2A" stroke-opacity="0.9" stroke-width="3.4" stroke-linejoin="round" stroke-linecap="round"/>
<path d="M709.5,1474.4 L712,1420.8 L714.5,1427.9 L717.1,1485.7 L719.6,1528.4 L722.1,1540.5 L724.6,1539.6 L727.1,1537.8 L729.6,1539.6 L732.1,1542.7" fill="none" stroke="#6A94E8" stroke-opacity="0.9" stroke-width="3.4" stroke-linejoin="round" stroke-linecap="round"/>
<path d="M709.5,1477.5 L712.3,1431.9 L715.1,1447.7 L717.8,1501.7 L720.6,1533.1 L723.4,1536.7 L726.2,1532.2 L728.9,1533.2 L731.7,1539.2 L734.5,1542.6 L737.3,1541.4 L740,1538.7 L742.8,1538.8 L745.6,1541.8 L748.4,1544 L751.1,1544.7 L753.9,1544.8 L756.7,1544.8 L759.5,1544.8 L762.2,1544.8 L765,1544.8 L767.8,1544.7 L770.6,1544.3 L773.3,1543.2 L776.1,1542.2 L778.9,1542.6 L781.7,1543.9" fill="none" stroke="#66E02A" stroke-opacity="0.9" stroke-width="3.4" stroke-linejoin="round" stroke-linecap="round"/>
<path d="M709.5,1495.1 L712.3,1461.3 L715.1,1473.5 L717.9,1513.3 L720.7,1534.6 L723.5,1532.5 L726.3,1524.5 L729.1,1526.7 L731.8,1536.3 L734.6,1540.8 L737.4,1537.1 L740.2,1531.1 L743,1532 L745.8,1538.6 L748.6,1542.8 L751.4,1542.7 L754.2,1541.1 L757,1541.2 L759.8,1543 L762.6,1544.3 L765.3,1544.7 L768.1,1544.8 L770.9,1544.8 L773.7,1544.8 L776.5,1544.5 L779.3,1543.7 L782.1,1542.4 L784.9,1541.7 L787.7,1541.7 L790.5,1541.6 L793.3,1541.7 L796.1,1541.6 L798.8,1541.6 L801.6,1541.7 L804.4,1541.6 L807.2,1541.6 L810,1541.6 L812.8,1541.6 L815.6,1541.7 L818.4,1541.6 L821.2,1541.6 L824,1541.6 L826.8,1541.6 L829.6,1541.7 L832.4,1541.6 L835.1,1541.6 L837.9,1541.7 L840.7,1541.6 L843.5,1541.7 L846.3,1541.6 L849.1,1541.6 L851.9,1541.7 L854.7,1541.6 L857.5,1541.7 L860.3,1541.6 L863.1,1541.6 L865.9,1541.7 L868.6,1541.6 L871.4,1541.7 L874.2,1541.6 L877,1541.6 L879.8,1541.7 L882.6,1541.6 L885.4,1541.7 L888.2,1541.6 L891,1541.6 L893.8,1541.7 L896.6,1541.6 L899.4,1541.7 L902.1,1541.6 L904.9,1541.6 L907.7,1541.7 L910.5,1541.6 L913.3,1541.7 L916.1,1541.7 L918.9,1542 L921.7,1543.2" fill="none" stroke="#2277A8" stroke-opacity="0.9" stroke-width="3.4" stroke-linejoin="round" stroke-linecap="round"/>
<g fill="#D3AE36" fill-opacity="0.7">
<rect x="709.5" y="1497.3" width="7.1" height="47.5"/>
<rect x="751.9" y="1519.5" width="7.1" height="25.3"/>
<rect x="759" y="1536.9" width="7.1" height="7.9"/>
</g>
<g fill="#EF442A" fill-opacity="0.7">
<rect x="709.5" y="1418.2" width="7.1" height="126.6"/>
<rect x="723.7" y="1529" width="7.1" height="15.8"/>
<rect x="737.8" y="1536.9" width="7.1" height="7.9"/>
<rect x="836.8" y="1541.6" width="7.1" height="3.2"/>
</g>
<g fill="#6691E7" fill-opacity="0.7">
<rect x="709.5" y="1397.6" width="7.1" height="147.2"/>
<rect x="723.7" y="1536.9" width="7.1" height="7.9"/>
</g>
<g fill="#63E724" fill-opacity="0.7">
<rect x="709.5" y="1405.5" width="7.1" height="139.3"/>
<rect x="723.7" y="1529" width="7.1" height="15.8"/>
<rect x="737.8" y="1536.9" width="7.1" height="7.9"/>
<rect x="773.2" y="1541.6" width="7.1" height="3.2"/>
</g>
<g fill="#247AAB" fill-opacity="0.7">
<rect x="709.5" y="1441.9" width="7.1" height="102.9"/>
<rect x="723.7" y="1519.5" width="7.1" height="25.3"/>
<rect x="737.8" y="1527.4" width="7.1" height="17.4"/>
<rect x="751.9" y="1540" width="7.1" height="4.7"/>
<rect x="780.2" y="1541.6" width="141.5" height="3.2"/>
</g>
</g>
<rect x="698.9" y="1378.6" width="233.4" height="174.1" fill="none" stroke="#333835" stroke-width="1.7"/>
<rect x="698.9" y="1357.1" width="233.4" height="21.5" fill="#D3DCD8" stroke="#2E3834" stroke-width="1.7"/>
<text x="827.4" y="1372.9" font-size="15.8" fill="#111" stroke="#111" stroke-width="0.55" text-anchor="middle">Fully_connected_triad</text>
<line x1="695.4" y1="1397.5" x2="698.9" y2="1397.5" stroke="#333" stroke-width="1.8"/>
<line x1="695.4" y1="1447" x2="698.9" y2="1447" stroke="#333" stroke-width="1.8"/>
<line x1="695.4" y1="1496" x2="698.9" y2="1496" stroke="#333" stroke-width="1.8"/>
<line x1="695.4" y1="1545.6" x2="698.9" y2="1545.6" stroke="#333" stroke-width="1.8"/>
<line x1="713.6" y1="1552.7" x2="713.6" y2="1556.2" stroke="#333" stroke-width="1.8"/>
<text x="715" y="1573.3" font-size="15.3" fill="#3d3d3d" stroke="#3d3d3d" stroke-width="0.45" text-anchor="middle">0</text>
<line x1="771.2" y1="1552.7" x2="771.2" y2="1556.2" stroke="#333" stroke-width="1.8"/>
<text x="774.1" y="1573.3" font-size="15.3" fill="#3d3d3d" stroke="#3d3d3d" stroke-width="0.45" text-anchor="middle">25</text>
<line x1="828.3" y1="1552.7" x2="828.3" y2="1556.2" stroke="#333" stroke-width="1.8"/>
<text x="831.2" y="1573.3" font-size="15.3" fill="#3d3d3d" stroke="#3d3d3d" stroke-width="0.45" text-anchor="middle">50</text>
<line x1="885.7" y1="1552.7" x2="885.7" y2="1556.2" stroke="#333" stroke-width="1.8"/>
<text x="888.6" y="1573.3" font-size="15.3" fill="#3d3d3d" stroke="#3d3d3d" stroke-width="0.45" text-anchor="middle">75</text>
<clipPath id="cb32"><rect x="975.1" y="1378.6" width="233.6" height="174.1"/></clipPath>
<rect x="975.1" y="1378.6" width="233.6" height="174.1" fill="#fff"/>
<g clip-path="url(#cb32)">
<path d="M1062.2,1526.6 L1065,1525.1 L1067.8,1523.8 L1070.7,1522.8 L1073.5,1522.3 L1076.3,1522.1 L1079.2,1522.3 L1082,1522.8 L1084.8,1523.6 L1087.7,1524.5 L1090.5,1525.5 L1093.3,1526.4 L1096.1,1527.3 L1099,1528 L1101.8,1528.6 L1104.6,1529.1 L1107.5,1529.6 L1110.3,1530 L1113.1,1530.4 L1116,1530.9 L1118.8,1531.6 L1121.6,1532.4" fill="none" stroke="#D8A632" stroke-opacity="0.9" stroke-width="3.4" stroke-linejoin="round" stroke-linecap="round"/>
<path d="M991.4,1535.6 L994.2,1530.1 L997,1522.7 L999.8,1513.6 L1002.6,1503.6 L1005.4,1493.8 L1008.2,1485.7 L1010.9,1480.3 L1013.7,1478.1 L1016.5,1478.8 L1019.3,1481.5 L1022.1,1485.2 L1024.9,1489 L1027.7,1492.6 L1030.5,1495.8 L1033.3,1498.8 L1036.1,1501.5 L1038.9,1503.9 L1041.7,1506.1 L1044.5,1508.2 L1047.3,1510.5 L1050.1,1513.1 L1052.9,1516.3 L1055.7,1520.1 L1058.5,1524 L1061.3,1527.8 L1064.1,1531 L1066.9,1533.5 L1069.6,1535.3 L1072.4,1536.4 L1075.2,1537.3 L1078,1538.1 L1080.8,1538.8 L1083.6,1539.6 L1086.4,1540.2 L1089.2,1540.8 L1092,1541.3 L1094.8,1541.8 L1097.6,1542.3 L1100.4,1542.8" fill="none" stroke="#EF4A2A" stroke-opacity="0.9" stroke-width="3.4" stroke-linejoin="round" stroke-linecap="round"/>
<path d="M985.7,1538.3 L988.5,1535.9 L991.3,1533.1 L994.1,1529.9 L996.9,1526.4 L999.7,1522.6 L1002.5,1518.5 L1005.3,1514.5 L1008.1,1510.9 L1010.8,1507.9 L1013.6,1505.6 L1016.4,1504.1 L1019.2,1503.2 L1022,1502.4 L1024.8,1501.7 L1027.6,1500.7 L1030.4,1499.6 L1033.2,1498.7 L1036,1498.3 L1038.8,1498.7 L1041.6,1500.1 L1044.4,1502.2 L1047.1,1504.9 L1049.9,1507.9 L1052.7,1511.1 L1055.5,1514.4 L1058.3,1517.6 L1061.1,1520.6 L1063.9,1523.3 L1066.7,1525.8 L1069.5,1528.1 L1072.3,1530.2 L1075.1,1532.2 L1077.9,1534.2 L1080.7,1536 L1083.4,1537.9 L1086.2,1539.6" fill="none" stroke="#6A94E8" stroke-opacity="0.9" stroke-width="3.4" stroke-linejoin="round" stroke-linecap="round"/>
<path d="M991.4,1536.4 L994.2,1531.5 L997,1525.2 L999.8,1517.6 L1002.6,1509 L1005.4,1500.1 L1008.2,1491.6 L1010.9,1483.8 L1013.7,1476 L1016.5,1467.2 L1019.3,1457.8 L1022.1,1450.3 L1024.9,1447.7 L1027.7,1451.9 L1030.5,1461.4 L1033.3,1473.2 L1036.1,1484.6 L1038.9,1494.7 L1041.7,1503.8 L1044.5,1512.3 L1047.3,1520.2 L1050.1,1527 L1052.9,1532.4 L1055.7,1536 L1058.5,1538.2 L1061.3,1539.3 L1064.1,1539.8 L1066.9,1540 L1069.6,1540 L1072.4,1540 L1075.2,1540 L1078,1540 L1080.8,1540.1 L1083.6,1540.1 L1086.4,1540.2 L1089.2,1540.4 L1092,1540.7 L1094.8,1541.3 L1097.6,1542 L1100.4,1542.8" fill="none" stroke="#66E02A" stroke-opacity="0.9" stroke-width="3.4" stroke-linejoin="round" stroke-linecap="round"/>
<path d="M985.7,1538.3 L988.5,1536 L991.3,1533.2 L994.1,1529.8 L996.9,1526.1 L999.7,1521.9 L1002.5,1517.6 L1005.3,1513.3 L1008.1,1509.4 L1010.9,1506 L1013.7,1503.2 L1016.5,1501.1 L1019.2,1499.3 L1022,1497.8 L1024.8,1496.3 L1027.6,1495 L1030.4,1493.8 L1033.2,1493 L1036,1492.9 L1038.8,1493.7 L1041.6,1495.6 L1044.4,1498.3 L1047.2,1501.7 L1050,1505.4 L1052.8,1509.1 L1055.6,1512.6 L1058.4,1515.8 L1061.2,1518.8 L1064,1521.6 L1066.8,1524.3 L1069.5,1527 L1072.3,1529.7 L1075.1,1532.2 L1077.9,1534.6 L1080.7,1536.6 L1083.5,1538.2 L1086.3,1539.5 L1089.1,1540.3 L1091.9,1540.9 L1094.7,1541.2 L1097.5,1541.4 L1100.3,1541.5 L1103.1,1541.6 L1105.9,1541.6 L1108.7,1541.6 L1111.5,1541.6 L1114.3,1541.6 L1117,1541.6 L1119.8,1541.6 L1122.6,1541.6 L1125.4,1541.6 L1128.2,1541.6 L1131,1541.6 L1133.8,1541.6 L1136.6,1541.6 L1139.4,1541.6 L1142.2,1541.6 L1145,1541.6 L1147.8,1541.6 L1150.6,1541.6 L1153.4,1541.6 L1156.2,1541.6 L1159,1541.6 L1161.8,1541.6 L1164.6,1541.6 L1167.3,1541.6 L1170.1,1541.6 L1172.9,1541.6 L1175.7,1541.6 L1178.5,1541.6 L1181.3,1541.6 L1184.1,1541.6 L1186.9,1541.7 L1189.7,1541.9 L1192.5,1542.1 L1195.3,1542.4 L1198.1,1542.8" fill="none" stroke="#2277A8" stroke-opacity="0.9" stroke-width="3.4" stroke-linejoin="round" stroke-linecap="round"/>
<g fill="#D3AE36" fill-opacity="0.7">
<rect x="1063.6" y="1470.4" width="7.1" height="74.4"/>
<rect x="1077.7" y="1470.4" width="7.1" height="74.4"/>
<rect x="1113.1" y="1470.4" width="7.1" height="74.4"/>
</g>
<g fill="#EF442A" fill-opacity="0.7">
<rect x="992.8" y="1536.9" width="7.1" height="7.9"/>
<rect x="999.9" y="1513.1" width="7.1" height="31.7"/>
<rect x="1007" y="1432.4" width="7.1" height="112.4"/>
<rect x="1014" y="1489.4" width="14.2" height="55.4"/>
<rect x="1028.2" y="1497.3" width="7.1" height="47.5"/>
<rect x="1035.3" y="1505.2" width="7.1" height="39.6"/>
<rect x="1042.3" y="1513.1" width="7.1" height="31.7"/>
<rect x="1049.4" y="1502.1" width="7.1" height="42.7"/>
<rect x="1056.5" y="1536.9" width="28.3" height="7.9"/>
<rect x="1091.9" y="1538.5" width="7.1" height="6.3"/>
</g>
<g fill="#6691E7" fill-opacity="0.7">
<rect x="985.7" y="1535.3" width="7.1" height="9.5"/>
<rect x="992.8" y="1529" width="7.1" height="15.8"/>
<rect x="999.9" y="1521" width="7.1" height="23.7"/>
<rect x="1007" y="1497.3" width="7.1" height="47.5"/>
<rect x="1014" y="1503.6" width="21.2" height="41.2"/>
<rect x="1035.3" y="1481.5" width="7.1" height="63.3"/>
<rect x="1042.3" y="1513.1" width="7.1" height="31.7"/>
<rect x="1049.4" y="1502.1" width="7.1" height="42.7"/>
<rect x="1056.5" y="1529" width="7.1" height="15.8"/>
<rect x="1063.6" y="1521" width="7.1" height="23.7"/>
<rect x="1070.7" y="1536.9" width="7.1" height="7.9"/>
<rect x="1077.7" y="1532.1" width="7.1" height="12.7"/>
</g>
<g fill="#63E724" fill-opacity="0.7">
<rect x="992.8" y="1529" width="7.1" height="15.8"/>
<rect x="999.9" y="1513.1" width="7.1" height="31.7"/>
<rect x="1007" y="1467.2" width="7.1" height="77.6"/>
<rect x="1014" y="1497.3" width="7.1" height="47.5"/>
<rect x="1021.1" y="1386.5" width="7.1" height="158.3"/>
<rect x="1028.2" y="1489.4" width="14.2" height="55.4"/>
<rect x="1042.3" y="1519.5" width="7.1" height="25.3"/>
<rect x="1049.4" y="1540" width="49.6" height="4.7"/>
</g>
<g fill="#247AAB" fill-opacity="0.7">
<rect x="985.7" y="1536.9" width="7.1" height="7.9"/>
<rect x="992.8" y="1532.1" width="7.1" height="12.7"/>
<rect x="999.9" y="1521" width="7.1" height="23.7"/>
<rect x="1007" y="1489.4" width="7.1" height="55.4"/>
<rect x="1014" y="1500.5" width="21.2" height="44.3"/>
<rect x="1035.3" y="1460.9" width="7.1" height="83.9"/>
<rect x="1042.3" y="1513.1" width="7.1" height="31.7"/>
<rect x="1049.4" y="1505.2" width="7.1" height="39.6"/>
<rect x="1056.5" y="1529" width="7.1" height="15.8"/>
<rect x="1063.6" y="1513.1" width="7.1" height="31.7"/>
<rect x="1070.7" y="1536.9" width="7.1" height="7.9"/>
<rect x="1077.7" y="1541.6" width="113.3" height="3.2"/>
<rect x="1191" y="1540" width="7.1" height="4.7"/>
</g>
</g>
<rect x="975.1" y="1378.6" width="233.6" height="174.1" fill="none" stroke="#333835" stroke-width="1.7"/>
<rect x="975.1" y="1357.1" width="233.6" height="21.5" fill="#D3DCD8" stroke="#2E3834" stroke-width="1.7"/>
<text x="1103.6" y="1372.9" font-size="15.8" fill="#111" stroke="#111" stroke-width="0.55" text-anchor="middle">PFL_double_negative</text>
<line x1="971.6" y1="1411.5" x2="975.1" y2="1411.5" stroke="#333" stroke-width="1.8"/>
<line x1="971.6" y1="1445.1" x2="975.1" y2="1445.1" stroke="#333" stroke-width="1.8"/>
<line x1="971.6" y1="1478.4" x2="975.1" y2="1478.4" stroke="#333" stroke-width="1.8"/>
<line x1="971.6" y1="1512" x2="975.1" y2="1512" stroke="#333" stroke-width="1.8"/>
<line x1="971.6" y1="1545.6" x2="975.1" y2="1545.6" stroke="#333" stroke-width="1.8"/>
<line x1="989.1" y1="1552.7" x2="989.1" y2="1556.2" stroke="#333" stroke-width="1.8"/>
<text x="990.5" y="1573.3" font-size="15.3" fill="#3d3d3d" stroke="#3d3d3d" stroke-width="0.45" text-anchor="middle">0</text>
<line x1="1049.2" y1="1552.7" x2="1049.2" y2="1556.2" stroke="#333" stroke-width="1.8"/>
<text x="1052.1" y="1573.3" font-size="15.3" fill="#3d3d3d" stroke="#3d3d3d" stroke-width="0.45" text-anchor="middle">25</text>
<line x1="1108.7" y1="1552.7" x2="1108.7" y2="1556.2" stroke="#333" stroke-width="1.8"/>
<text x="1111.6" y="1573.3" font-size="15.3" fill="#3d3d3d" stroke="#3d3d3d" stroke-width="0.45" text-anchor="middle">50</text>
<line x1="1168.3" y1="1552.7" x2="1168.3" y2="1556.2" stroke="#333" stroke-width="1.8"/>
<text x="1171.2" y="1573.3" font-size="15.3" fill="#3d3d3d" stroke="#3d3d3d" stroke-width="0.45" text-anchor="middle">75</text>
<clipPath id="cb03"><rect x="134" y="1599.6" width="234" height="174.1"/></clipPath>
<rect x="134" y="1599.6" width="234" height="174.1" fill="#fff"/>
<g clip-path="url(#cb03)">
<path d="M192.9,1731.3 L195.7,1729.4 L198.5,1728.2 L201.4,1727.8 L204.2,1728.1 L207,1729.2 L209.9,1730.9 L212.7,1732.9 L215.5,1735.1 L218.4,1737.3 L221.2,1739.3 L224.1,1741 L226.9,1742.4 L229.7,1743.4 L232.6,1744 L235.4,1744.3 L238.2,1744.3 L241.1,1744.3 L243.9,1744.2 L246.7,1744.2 L249.6,1744.3 L252.4,1744.6 L255.3,1745.1 L258.1,1745.9 L260.9,1747 L263.8,1748.2 L266.6,1749.7" fill="none" stroke="#D8A632" stroke-opacity="0.9" stroke-width="3.4" stroke-linejoin="round" stroke-linecap="round"/>
<path d="M157.4,1744.7 L160.2,1736 L162.9,1726.2 L165.7,1716.2 L168.4,1707 L171.2,1699.3 L174,1693.6 L176.7,1690.1 L179.5,1688.7 L182.2,1689 L185,1690.5 L187.8,1692.9 L190.5,1695.9 L193.3,1699.2 L196,1702.8 L198.8,1706.7 L201.6,1710.8 L204.3,1715.4 L207.1,1720.5 L209.8,1726.1 L212.6,1732.2 L215.4,1738.5 L218.1,1744.5 L220.9,1749.8 L223.6,1754 L226.4,1757 L229.2,1758.9 L231.9,1760 L234.7,1760.5 L237.4,1760.8 L240.2,1760.8 L243,1760.8 L245.7,1760.7 L248.5,1760.8 L251.2,1761 L254,1761.5 L256.7,1762.1 L259.5,1762.8" fill="none" stroke="#EF4A2A" stroke-opacity="0.9" stroke-width="3.4" stroke-linejoin="round" stroke-linecap="round"/>
<path d="M144.6,1755.2 L147.4,1747.7 L150.1,1737 L152.9,1723.1 L155.6,1707 L158.4,1690.9 L161.2,1677.8 L163.9,1669.8 L166.7,1667.8 L169.4,1670.5 L172.2,1676.3 L174.9,1683.2 L177.7,1690.3 L180.4,1696.7 L183.2,1702.2 L185.9,1706.5 L188.7,1710 L191.4,1713 L194.2,1716.1 L196.9,1719.5 L199.7,1723.1 L202.4,1726.8 L205.2,1730.3 L208,1733.5 L210.7,1736.5 L213.5,1739.6 L216.2,1742.6 L219,1745.4 L221.7,1747.7 L224.5,1749.6 L227.2,1751.4 L230,1753.2 L232.7,1755.4 L235.5,1757.8 L238.2,1760.2" fill="none" stroke="#6A94E8" stroke-opacity="0.9" stroke-width="3.4" stroke-linejoin="round" stroke-linecap="round"/>
<path d="M150.3,1757.9 L153.1,1751.1 L156,1740.5 L158.8,1725.7 L161.7,1707.4 L164.5,1687.9 L167.3,1670.7 L170.2,1659.4 L173,1655.4 L175.8,1657.9 L178.7,1664.9 L181.5,1674.2 L184.3,1684.4 L187.2,1694.9 L190,1705.3 L192.9,1715.3 L195.7,1724.6 L198.5,1733 L201.4,1740.5 L204.2,1747.1 L207,1752.9 L209.9,1757.5" fill="none" stroke="#66E02A" stroke-opacity="0.9" stroke-width="3.4" stroke-linejoin="round" stroke-linecap="round"/>
<path d="M150.3,1753.5 L153.1,1747.7 L155.9,1740.9 L158.7,1733.4 L161.5,1725.8 L164.3,1718.9 L167.1,1713.1 L169.9,1708.5 L172.7,1705.1 L175.5,1702.7 L178.3,1701.2 L181.1,1700.7 L183.9,1701.3 L186.7,1702.9 L189.5,1705.5 L192.3,1708.9 L195.1,1712.6 L197.9,1716.6 L200.7,1720.6 L203.5,1724.5 L206.3,1728.4 L209.1,1732 L211.9,1735.3 L214.7,1738.3 L217.5,1741.1 L220.3,1743.7 L223.1,1746.1 L225.9,1748.3 L228.7,1750.4 L231.5,1752.5 L234.2,1754.4 L237,1756.2 L239.8,1757.9 L242.6,1759.2 L245.4,1760.3 L248.2,1761.2 L251,1761.8 L253.8,1762.2 L256.6,1762.4 L259.4,1762.5 L262.2,1762.6 L265,1762.6 L267.8,1762.6 L270.6,1762.6 L273.4,1762.6 L276.2,1762.6 L279,1762.6 L281.8,1762.6 L284.6,1762.6 L287.4,1762.6 L290.2,1762.6 L293,1762.6 L295.8,1762.6 L298.6,1762.6 L301.4,1762.6 L304.2,1762.6 L307,1762.6 L309.8,1762.6 L312.6,1762.6 L315.4,1762.6 L318.2,1762.6 L321,1762.6 L323.8,1762.6 L326.6,1762.6 L329.4,1762.6 L332.2,1762.6 L335,1762.6 L337.8,1762.6 L340.6,1762.5 L343.4,1762.5 L346.2,1762.5 L349,1762.7 L351.8,1762.9 L354.6,1763.3 L357.4,1763.7" fill="none" stroke="#2277A8" stroke-opacity="0.9" stroke-width="3.4" stroke-linejoin="round" stroke-linecap="round"/>
<g fill="#D3AE36" fill-opacity="0.7">
<rect x="194.3" y="1607.5" width="7.1" height="158.3"/>
<rect x="201.4" y="1688.2" width="7.1" height="77.6"/>
<rect x="236.8" y="1688.2" width="7.1" height="77.6"/>
<rect x="258.1" y="1688.2" width="7.1" height="77.6"/>
</g>
<g fill="#EF442A" fill-opacity="0.7">
<rect x="158.8" y="1734.1" width="7.1" height="31.7"/>
<rect x="165.9" y="1686.7" width="7.1" height="79.1"/>
<rect x="173" y="1678.7" width="7.1" height="87"/>
<rect x="180.1" y="1686.7" width="7.1" height="79.1"/>
<rect x="187.2" y="1696.1" width="7.1" height="69.6"/>
<rect x="194.3" y="1702.5" width="7.1" height="63.3"/>
<rect x="201.4" y="1718.3" width="14.2" height="47.5"/>
<rect x="215.5" y="1761" width="35.5" height="4.7"/>
<rect x="251" y="1757.9" width="7.1" height="7.9"/>
</g>
<g fill="#6691E7" fill-opacity="0.7">
<rect x="144.6" y="1756.3" width="7.1" height="9.5"/>
<rect x="151.7" y="1723.1" width="7.1" height="42.7"/>
<rect x="158.8" y="1634.4" width="7.1" height="131.4"/>
<rect x="165.9" y="1670.8" width="7.1" height="95"/>
<rect x="173" y="1686.7" width="7.1" height="79.1"/>
<rect x="180.1" y="1710.4" width="14.2" height="55.4"/>
<rect x="194.3" y="1718.3" width="7.1" height="47.5"/>
<rect x="201.4" y="1734.1" width="14.2" height="31.7"/>
<rect x="215.5" y="1750" width="14.2" height="15.8"/>
<rect x="229.7" y="1753.1" width="7.1" height="12.7"/>
</g>
<g fill="#63E724" fill-opacity="0.7">
<rect x="151.7" y="1757.9" width="7.1" height="7.9"/>
<rect x="158.8" y="1718.3" width="7.1" height="47.5"/>
<rect x="165.9" y="1615.4" width="7.1" height="150.4"/>
<rect x="173" y="1659.7" width="7.1" height="106"/>
<rect x="180.1" y="1678.7" width="7.1" height="87"/>
<rect x="187.2" y="1710.4" width="7.1" height="55.4"/>
<rect x="194.3" y="1734.1" width="7.1" height="31.7"/>
<rect x="201.4" y="1750" width="7.1" height="15.8"/>
</g>
<g fill="#247AAB" fill-opacity="0.7">
<rect x="151.7" y="1750" width="7.1" height="15.8"/>
<rect x="158.8" y="1718.3" width="7.1" height="47.5"/>
<rect x="165.9" y="1693" width="7.1" height="72.8"/>
<rect x="173" y="1715.1" width="7.1" height="50.6"/>
<rect x="180.1" y="1677.2" width="7.1" height="88.6"/>
<rect x="187.2" y="1718.3" width="7.1" height="47.5"/>
<rect x="194.3" y="1707.2" width="7.1" height="58.6"/>
<rect x="201.4" y="1734.1" width="7.1" height="31.7"/>
<rect x="208.5" y="1732.5" width="7.1" height="33.2"/>
<rect x="215.5" y="1746.8" width="14.2" height="19"/>
<rect x="229.7" y="1754.7" width="7.1" height="11.1"/>
<rect x="236.8" y="1759.5" width="7.1" height="6.3"/>
<rect x="243.9" y="1762.6" width="106.4" height="3.2"/>
<rect x="350.3" y="1761" width="7.1" height="4.7"/>
</g>
</g>
<rect x="134" y="1599.6" width="234" height="174.1" fill="none" stroke="#333835" stroke-width="1.7"/>
<rect x="134" y="1578.1" width="234" height="21.5" fill="#D3DCD8" stroke="#2E3834" stroke-width="1.7"/>
<text x="261.8" y="1593.9" font-size="15.8" fill="#111" stroke="#111" stroke-width="0.55" text-anchor="middle">PFL_double_positive</text>
<line x1="130.5" y1="1620.2" x2="134" y2="1620.2" stroke="#333" stroke-width="1.8"/>
<line x1="130.5" y1="1657" x2="134" y2="1657" stroke="#333" stroke-width="1.8"/>
<line x1="130.5" y1="1693.3" x2="134" y2="1693.3" stroke="#333" stroke-width="1.8"/>
<line x1="130.5" y1="1729.8" x2="134" y2="1729.8" stroke="#333" stroke-width="1.8"/>
<line x1="130.5" y1="1766.1" x2="134" y2="1766.1" stroke="#333" stroke-width="1.8"/>
<line x1="149.1" y1="1773.7" x2="149.1" y2="1777.2" stroke="#333" stroke-width="1.8"/>
<text x="150.5" y="1794.3" font-size="15.3" fill="#3d3d3d" stroke="#3d3d3d" stroke-width="0.45" text-anchor="middle">0</text>
<line x1="195.2" y1="1773.7" x2="195.2" y2="1777.2" stroke="#333" stroke-width="1.8"/>
<text x="198.1" y="1794.3" font-size="15.3" fill="#3d3d3d" stroke="#3d3d3d" stroke-width="0.45" text-anchor="middle">50</text>
<line x1="241" y1="1773.7" x2="241" y2="1777.2" stroke="#333" stroke-width="1.8"/>
<text x="245.3" y="1794.3" font-size="15.3" fill="#3d3d3d" stroke="#3d3d3d" stroke-width="0.45" text-anchor="middle">100</text>
<line x1="287.1" y1="1773.7" x2="287.1" y2="1777.2" stroke="#333" stroke-width="1.8"/>
<text x="291.4" y="1794.3" font-size="15.3" fill="#3d3d3d" stroke="#3d3d3d" stroke-width="0.45" text-anchor="middle">150</text>
<line x1="333.2" y1="1773.7" x2="333.2" y2="1777.2" stroke="#333" stroke-width="1.8"/>
<text x="337.5" y="1794.3" font-size="15.3" fill="#3d3d3d" stroke="#3d3d3d" stroke-width="0.45" text-anchor="middle">200</text>
<clipPath id="cb13"><rect x="416.9" y="1599.6" width="233.5" height="174.1"/></clipPath>
<rect x="416.9" y="1599.6" width="233.5" height="174.1" fill="#fff"/>
<g clip-path="url(#cb13)">
<path d="M461.5,1732.5 L464.3,1729.8 L467,1727.7 L469.8,1726.1 L472.6,1725.2 L475.4,1724.9 L478.2,1725.2 L480.9,1726.2 L483.7,1727.6 L486.5,1729.5 L489.3,1731.7 L492.1,1734.2 L494.9,1736.8 L497.6,1739.5 L500.4,1742 L503.2,1744.4 L506,1746.6 L508.8,1748.4 L511.5,1749.9 L514.3,1751.1 L517.1,1751.8 L519.9,1752.3 L522.7,1752.5 L525.5,1752.5 L528.2,1752.5 L531,1752.4 L533.8,1752.4 L536.6,1752.6 L539.4,1752.9 L542.1,1753.5" fill="none" stroke="#D8A632" stroke-opacity="0.9" stroke-width="3.4" stroke-linejoin="round" stroke-linecap="round"/>
<path d="M433.2,1746.4 L436,1735.8 L438.8,1723 L441.7,1709 L444.5,1695.3 L447.3,1684.1 L450.2,1677 L453,1675.3 L455.8,1678.8 L458.6,1685.9 L461.5,1694.7 L464.3,1703.4 L467.1,1710.9 L470,1717.3 L472.8,1723 L475.6,1728.4 L478.5,1733.9 L481.3,1739.4 L484.1,1744.7 L486.9,1749.7 L489.8,1754.1 L492.6,1757.9" fill="none" stroke="#EF4A2A" stroke-opacity="0.9" stroke-width="3.4" stroke-linejoin="round" stroke-linecap="round"/>
<path d="M427.5,1727.5 L430.2,1709.7 L433,1690.7 L435.7,1673.2 L438.4,1659.9 L441.2,1652.7 L443.9,1652.3 L446.6,1657.9 L449.4,1667.8 L452.1,1679.7 L454.8,1691.4 L457.6,1701.3 L460.3,1708.7 L463,1713.9 L465.8,1717.4 L468.5,1720.4 L471.2,1723.9 L474,1728.3 L476.7,1733.4 L479.4,1738.7 L482.2,1743.2 L484.9,1746.5 L487.6,1748.5 L490.4,1749.8 L493.1,1750.8 L495.8,1751.9 L498.6,1753.5 L501.3,1755.5 L504,1757.8 L506.8,1760.3" fill="none" stroke="#6A94E8" stroke-opacity="0.9" stroke-width="3.4" stroke-linejoin="round" stroke-linecap="round"/>
<path d="M427.5,1758 L430.3,1752.9 L433,1746 L435.8,1737.2 L438.6,1726.8 L441.3,1715.3 L444.1,1703.6 L446.9,1692.6 L449.6,1683.4 L452.4,1677 L455.1,1674.5 L457.9,1676.6 L460.7,1683.2 L463.4,1693.4 L466.2,1705 L469,1716.3 L471.7,1726.2 L474.5,1734.5 L477.2,1741.6 L480,1747.8 L482.8,1753.1 L485.5,1757.6" fill="none" stroke="#66E02A" stroke-opacity="0.9" stroke-width="3.4" stroke-linejoin="round" stroke-linecap="round"/>
<path d="M433.2,1736.1 L436,1727.1 L438.8,1718.9 L441.5,1712.5 L444.3,1708.3 L447.1,1706.3 L449.9,1705.9 L452.7,1706.4 L455.5,1707.1 L458.3,1707.7 L461.1,1708.3 L463.9,1709 L466.7,1710.5 L469.5,1713 L472.3,1716.6 L475.1,1721 L477.8,1725.9 L480.6,1730.9 L483.4,1735.7 L486.2,1740.1 L489,1744 L491.8,1747.3 L494.6,1749.8 L497.4,1751.4 L500.2,1752.1 L503,1752 L505.8,1751.2 L508.6,1750.2 L511.4,1749.4 L514.1,1749.3 L516.9,1750.2 L519.7,1751.9 L522.5,1754.2 L525.3,1756.6 L528.1,1758.8 L530.9,1760.4 L533.7,1761.4 L536.5,1762.1 L539.3,1762.4 L542.1,1762.5 L544.9,1762.6 L547.6,1762.6 L550.4,1762.6 L553.2,1762.6 L556,1762.6 L558.8,1762.6 L561.6,1762.6 L564.4,1762.6 L567.2,1762.6 L570,1762.6 L572.8,1762.6 L575.6,1762.6 L578.4,1762.6 L581.2,1762.6 L583.9,1762.6 L586.7,1762.6 L589.5,1762.6 L592.3,1762.6 L595.1,1762.6 L597.9,1762.6 L600.7,1762.6 L603.5,1762.6 L606.3,1762.6 L609.1,1762.6 L611.9,1762.6 L614.7,1762.6 L617.5,1762.6 L620.2,1762.6 L623,1762.5 L625.8,1762.5 L628.6,1762.5 L631.4,1762.7 L634.2,1762.9 L637,1763.3 L639.8,1763.7" fill="none" stroke="#2277A8" stroke-opacity="0.9" stroke-width="3.4" stroke-linejoin="round" stroke-linecap="round"/>
<g fill="#D3AE36" fill-opacity="0.7">
<rect x="462.9" y="1607.5" width="7.1" height="158.3"/>
<rect x="477" y="1688.2" width="7.1" height="77.6"/>
<rect x="491.2" y="1688.2" width="7.1" height="77.6"/>
<rect x="533.6" y="1688.2" width="7.1" height="77.6"/>
</g>
<g fill="#EF442A" fill-opacity="0.7">
<rect x="434.6" y="1734.1" width="7.1" height="31.7"/>
<rect x="441.7" y="1686.7" width="7.1" height="79.1"/>
<rect x="448.7" y="1637.6" width="7.1" height="128.2"/>
<rect x="455.8" y="1694.6" width="7.1" height="71.2"/>
<rect x="462.9" y="1718.3" width="14.2" height="47.5"/>
<rect x="477" y="1742" width="7.1" height="23.7"/>
<rect x="484.1" y="1750" width="7.1" height="15.8"/>
</g>
<g fill="#6691E7" fill-opacity="0.7">
<rect x="427.5" y="1710.4" width="7.1" height="55.4"/>
<rect x="434.6" y="1632.8" width="14.2" height="132.9"/>
<rect x="448.7" y="1686.7" width="7.1" height="79.1"/>
<rect x="455.8" y="1718.3" width="21.2" height="47.5"/>
<rect x="477" y="1750" width="21.2" height="15.8"/>
<rect x="498.3" y="1753.1" width="7.1" height="12.7"/>
</g>
<g fill="#63E724" fill-opacity="0.7">
<rect x="427.5" y="1757.9" width="7.1" height="7.9"/>
<rect x="434.6" y="1734.1" width="7.1" height="31.7"/>
<rect x="441.7" y="1694.6" width="7.1" height="71.2"/>
<rect x="448.7" y="1667.7" width="7.1" height="98.1"/>
<rect x="455.8" y="1655" width="7.1" height="110.8"/>
<rect x="462.9" y="1718.3" width="7.1" height="47.5"/>
<rect x="470" y="1734.1" width="7.1" height="31.7"/>
<rect x="477" y="1750" width="7.1" height="15.8"/>
</g>
<g fill="#247AAB" fill-opacity="0.7">
<rect x="434.6" y="1696.1" width="14.2" height="69.6"/>
<rect x="448.7" y="1707.2" width="7.1" height="58.6"/>
<rect x="455.8" y="1718.3" width="7.1" height="47.5"/>
<rect x="462.9" y="1693" width="7.1" height="72.8"/>
<rect x="470" y="1718.3" width="7.1" height="47.5"/>
<rect x="477" y="1734.1" width="7.1" height="31.7"/>
<rect x="484.1" y="1742" width="7.1" height="23.7"/>
<rect x="491.2" y="1756.3" width="14.2" height="9.5"/>
<rect x="505.3" y="1753.1" width="7.1" height="12.7"/>
<rect x="512.4" y="1732.5" width="7.1" height="33.2"/>
<rect x="519.5" y="1762.6" width="113.2" height="3.2"/>
<rect x="632.7" y="1761" width="7.1" height="4.7"/>
</g>
</g>
<rect x="416.9" y="1599.6" width="233.5" height="174.1" fill="none" stroke="#333835" stroke-width="1.7"/>
<rect x="416.9" y="1578.1" width="233.5" height="21.5" fill="#D3DCD8" stroke="#2E3834" stroke-width="1.7"/>
<text x="550.8" y="1593.9" font-size="15.8" fill="#111" stroke="#111" stroke-width="0.55" text-anchor="middle">Regulated_double_positive</text>
<line x1="413.4" y1="1617.3" x2="416.9" y2="1617.3" stroke="#333" stroke-width="1.8"/>
<line x1="413.4" y1="1655" x2="416.9" y2="1655" stroke="#333" stroke-width="1.8"/>
<line x1="413.4" y1="1691.8" x2="416.9" y2="1691.8" stroke="#333" stroke-width="1.8"/>
<line x1="413.4" y1="1729.3" x2="416.9" y2="1729.3" stroke="#333" stroke-width="1.8"/>
<line x1="413.4" y1="1766.1" x2="416.9" y2="1766.1" stroke="#333" stroke-width="1.8"/>
<line x1="431.1" y1="1773.7" x2="431.1" y2="1777.2" stroke="#333" stroke-width="1.8"/>
<text x="432.5" y="1794.3" font-size="15.3" fill="#3d3d3d" stroke="#3d3d3d" stroke-width="0.45" text-anchor="middle">0</text>
<line x1="478.4" y1="1773.7" x2="478.4" y2="1777.2" stroke="#333" stroke-width="1.8"/>
<text x="481.3" y="1794.3" font-size="15.3" fill="#3d3d3d" stroke="#3d3d3d" stroke-width="0.45" text-anchor="middle">50</text>
<line x1="524.7" y1="1773.7" x2="524.7" y2="1777.2" stroke="#333" stroke-width="1.8"/>
<text x="529" y="1794.3" font-size="15.3" fill="#3d3d3d" stroke="#3d3d3d" stroke-width="0.45" text-anchor="middle">100</text>
<line x1="570.8" y1="1773.7" x2="570.8" y2="1777.2" stroke="#333" stroke-width="1.8"/>
<text x="575.1" y="1794.3" font-size="15.3" fill="#3d3d3d" stroke="#3d3d3d" stroke-width="0.45" text-anchor="middle">150</text>
<line x1="617.4" y1="1773.7" x2="617.4" y2="1777.2" stroke="#333" stroke-width="1.8"/>
<text x="621.7" y="1794.3" font-size="15.3" fill="#3d3d3d" stroke="#3d3d3d" stroke-width="0.45" text-anchor="middle">200</text>
<clipPath id="cb23"><rect x="698.9" y="1599.6" width="233.4" height="174.1"/></clipPath>
<rect x="698.9" y="1599.6" width="233.4" height="174.1" fill="#fff"/>
<g clip-path="url(#cb23)">
<path d="M757.6,1729.6 L760.4,1727.7 L763.1,1726.4 L765.9,1725.6 L768.7,1725.4 L771.4,1725.9 L774.2,1726.8 L776.9,1728.3 L779.7,1730.2 L782.5,1732.5 L785.2,1734.9 L788,1737.4 L790.7,1739.9 L793.5,1742.3 L796.3,1744.6 L799,1746.5 L801.8,1748.2 L804.6,1749.6 L807.3,1750.6 L810.1,1751.5 L812.8,1752 L815.6,1752.4 L818.4,1752.6 L821.1,1752.8 L823.9,1752.8 L826.6,1752.9 L829.4,1752.9 L832.2,1753 L834.9,1753 L837.7,1753.1 L840.5,1753.1 L843.2,1753.2 L846,1753.2 L848.7,1753.2 L851.5,1753.2 L854.3,1753.3 L857,1753.3 L859.8,1753.4 L862.5,1753.5 L865.3,1753.7 L868.1,1754 L870.8,1754.4 L873.6,1754.9" fill="none" stroke="#D8A632" stroke-opacity="0.9" stroke-width="3.4" stroke-linejoin="round" stroke-linecap="round"/>
<path d="M709.5,1759.7 L712.3,1757.9 L715.1,1755.8 L717.9,1753.5 L720.7,1750.7 L723.5,1747.7 L726.3,1744.3 L729,1740.6 L731.8,1736.7 L734.6,1732.7 L737.4,1728.9 L740.2,1725.4 L743,1722.4 L745.8,1720 L748.6,1718.4 L751.4,1717.5 L754.2,1717.2 L757,1717.3 L759.7,1717.8 L762.5,1718.5 L765.3,1719.2 L768.1,1720.1 L770.9,1721.2 L773.7,1722.8 L776.5,1724.8 L779.3,1727.4 L782.1,1730.5 L784.9,1734.1 L787.7,1737.9 L790.4,1741.8 L793.2,1745.4 L796,1748.7 L798.8,1751.5 L801.6,1753.8 L804.4,1755.6 L807.2,1756.9 L810,1757.9 L812.8,1758.5 L815.6,1758.9 L818.4,1759.2 L821.1,1759.3 L823.9,1759.5 L826.7,1759.6 L829.5,1759.8 L832.3,1760.1 L835.1,1760.5 L837.9,1760.9 L840.7,1761.5 L843.5,1762.1 L846.3,1762.7 L849.1,1763.3 L851.8,1763.8 L854.6,1764.2 L857.4,1764.4 L860.2,1764.5 L863,1764.4 L865.8,1764.3 L868.6,1764.1 L871.4,1763.9 L874.2,1763.8 L877,1763.8 L879.8,1763.9 L882.5,1764.1 L885.3,1764.3 L888.1,1764.5 L890.9,1764.6 L893.7,1764.6 L896.5,1764.6 L899.3,1764.4 L902.1,1764.2 L904.9,1764 L907.7,1763.9 L910.5,1763.8 L913.2,1763.8 L916,1764" fill="none" stroke="#EF4A2A" stroke-opacity="0.9" stroke-width="3.4" stroke-linejoin="round" stroke-linecap="round"/>
<path d="M709.5,1750.6 L712.3,1744.8 L715.1,1738.2 L717.8,1731.1 L720.6,1723.9 L723.4,1716.9 L726.2,1710.7 L728.9,1705.7 L731.7,1702.2 L734.5,1700.4 L737.3,1700.5 L740.1,1702.3 L742.8,1705.5 L745.6,1709.4 L748.4,1713.4 L751.2,1716.9 L753.9,1719.7 L756.7,1721.5 L759.5,1722.7 L762.3,1723.8 L765,1725 L767.8,1726.7 L770.6,1728.8 L773.4,1731.3 L776.1,1734.2 L778.9,1737.4 L781.7,1740.6 L784.5,1743.7 L787.3,1746.5 L790,1748.9 L792.8,1751 L795.6,1752.9 L798.4,1754.6 L801.1,1756.2 L803.9,1757.6 L806.7,1758.7 L809.5,1759.6 L812.2,1760.2 L815,1760.6 L817.8,1760.8 L820.6,1761 L823.4,1761 L826.1,1761 L828.9,1761 L831.7,1761 L834.5,1761 L837.2,1761.1 L840,1761.1 L842.8,1761.2 L845.6,1761.3 L848.3,1761.6 L851.1,1762 L853.9,1762.5 L856.7,1763.1 L859.5,1763.7" fill="none" stroke="#6A94E8" stroke-opacity="0.9" stroke-width="3.4" stroke-linejoin="round" stroke-linecap="round"/>
<path d="M722.2,1753.2 L725.1,1745.3 L727.9,1735.2 L730.7,1723.6 L733.6,1711.7 L736.4,1701.2 L739.2,1693.6 L742,1689.5 L744.9,1688.8 L747.7,1690.5 L750.5,1693.9 L753.4,1698.7 L756.2,1704.9 L759,1712.4 L761.8,1720.4 L764.7,1728 L767.5,1734.5 L770.3,1739.7 L773.2,1743.8 L776,1747.1 L778.8,1750 L781.7,1752.5 L784.5,1754.8 L787.3,1756.7 L790.1,1758.5 L793,1760.2 L795.8,1761.8" fill="none" stroke="#66E02A" stroke-opacity="0.9" stroke-width="3.4" stroke-linejoin="round" stroke-linecap="round"/>
<path d="M709.5,1757.3 L712.3,1753.1 L715.1,1747.7 L717.9,1741.3 L720.7,1734 L723.5,1726.3 L726.3,1718.6 L729.1,1711.5 L731.8,1705.8 L734.6,1701.7 L737.4,1699.6 L740.2,1699.3 L743,1700.6 L745.8,1703.1 L748.6,1706.5 L751.4,1710.4 L754.2,1714.5 L757,1718.7 L759.8,1722.8 L762.6,1726.7 L765.3,1730.1 L768.1,1733.2 L770.9,1735.7 L773.7,1738 L776.5,1740 L779.3,1742 L782.1,1744 L784.9,1746.1 L787.7,1748.1 L790.5,1750.1 L793.3,1751.9 L796.1,1753.4 L798.8,1754.6 L801.6,1755.5 L804.4,1756.1 L807.2,1756.7 L810,1757.3 L812.8,1758 L815.6,1758.6 L818.4,1759.3 L821.2,1759.9 L824,1760.3 L826.8,1760.6 L829.6,1760.8 L832.4,1760.9 L835.1,1760.9 L837.9,1760.8 L840.7,1760.5 L843.5,1760.2 L846.3,1759.7 L849.1,1759.2 L851.9,1758.7 L854.7,1758.3 L857.5,1758.1 L860.3,1758.2 L863.1,1758.5 L865.9,1759 L868.6,1759.5 L871.4,1760 L874.2,1760.4 L877,1760.7 L879.8,1760.9 L882.6,1761 L885.4,1761 L888.2,1761 L891,1761 L893.8,1761 L896.6,1761 L899.4,1761.1 L902.1,1761.1 L904.9,1761.1 L907.7,1761.3 L910.5,1761.5 L913.3,1761.8 L916.1,1762.2 L918.9,1762.8 L921.7,1763.4" fill="none" stroke="#2277A8" stroke-opacity="0.9" stroke-width="3.4" stroke-linejoin="round" stroke-linecap="round"/>
<g fill="#D3AE36" fill-opacity="0.7">
<rect x="759" y="1607.5" width="7.1" height="158.3"/>
<rect x="766.1" y="1688.2" width="14.1" height="77.6"/>
<rect x="822.7" y="1688.2" width="7.1" height="77.6"/>
<rect x="865.1" y="1688.2" width="7.1" height="77.6"/>
</g>
<g fill="#EF442A" fill-opacity="0.7">
<rect x="709.5" y="1757.9" width="7.1" height="7.9"/>
<rect x="716.6" y="1753.1" width="7.1" height="12.7"/>
<rect x="723.7" y="1750" width="7.1" height="15.8"/>
<rect x="730.7" y="1734.1" width="7.1" height="31.7"/>
<rect x="737.8" y="1718.3" width="7.1" height="47.5"/>
<rect x="744.9" y="1702.5" width="7.1" height="63.3"/>
<rect x="751.9" y="1718.3" width="14.1" height="47.5"/>
<rect x="766.1" y="1734.1" width="7.1" height="31.7"/>
<rect x="773.2" y="1693" width="7.1" height="72.8"/>
<rect x="780.2" y="1742" width="14.1" height="23.7"/>
<rect x="794.4" y="1759.5" width="42.4" height="6.3"/>
<rect x="836.8" y="1757.9" width="7.1" height="7.9"/>
<rect x="872.2" y="1757.9" width="7.1" height="7.9"/>
<rect x="907.5" y="1757.9" width="7.1" height="7.9"/>
</g>
<g fill="#6691E7" fill-opacity="0.7">
<rect x="709.5" y="1745.2" width="7.1" height="20.6"/>
<rect x="716.6" y="1726.2" width="7.1" height="39.6"/>
<rect x="723.7" y="1700.9" width="7.1" height="64.9"/>
<rect x="730.7" y="1689.8" width="7.1" height="76"/>
<rect x="737.8" y="1694.6" width="7.1" height="71.2"/>
<rect x="744.9" y="1718.3" width="7.1" height="47.5"/>
<rect x="751.9" y="1734.1" width="7.1" height="31.7"/>
<rect x="759" y="1710.4" width="7.1" height="55.4"/>
<rect x="766.1" y="1734.1" width="7.1" height="31.7"/>
<rect x="773.2" y="1726.2" width="7.1" height="39.6"/>
<rect x="780.2" y="1750" width="14.1" height="15.8"/>
<rect x="794.4" y="1753.1" width="7.1" height="12.7"/>
<rect x="801.5" y="1761" width="56.6" height="4.7"/>
</g>
<g fill="#63E724" fill-opacity="0.7">
<rect x="723.7" y="1750" width="7.1" height="15.8"/>
<rect x="730.7" y="1702.5" width="7.1" height="63.3"/>
<rect x="737.8" y="1664.5" width="7.1" height="101.3"/>
<rect x="744.9" y="1702.5" width="7.1" height="63.3"/>
<rect x="751.9" y="1683.5" width="7.1" height="82.3"/>
<rect x="759" y="1734.1" width="7.1" height="31.7"/>
<rect x="766.1" y="1742" width="7.1" height="23.7"/>
<rect x="773.2" y="1746.8" width="7.1" height="19"/>
<rect x="780.2" y="1757.9" width="7.1" height="7.9"/>
<rect x="787.3" y="1756.3" width="7.1" height="9.5"/>
</g>
<g fill="#247AAB" fill-opacity="0.7">
<rect x="709.5" y="1757.9" width="7.1" height="7.9"/>
<rect x="716.6" y="1742" width="7.1" height="23.7"/>
<rect x="723.7" y="1710.4" width="7.1" height="55.4"/>
<rect x="730.7" y="1689.8" width="14.1" height="76"/>
<rect x="744.9" y="1710.4" width="14.1" height="55.4"/>
<rect x="759" y="1734.1" width="14.1" height="31.7"/>
<rect x="773.2" y="1742" width="14.1" height="23.7"/>
<rect x="787.3" y="1753.1" width="7.1" height="12.7"/>
<rect x="794.4" y="1756.3" width="21.2" height="9.5"/>
<rect x="815.6" y="1761" width="35.4" height="4.7"/>
<rect x="851" y="1756.3" width="14.1" height="9.5"/>
<rect x="865.1" y="1761" width="56.6" height="4.7"/>
</g>
</g>
<rect x="698.9" y="1599.6" width="233.4" height="174.1" fill="none" stroke="#333835" stroke-width="1.7"/>
<rect x="698.9" y="1578.1" width="233.4" height="21.5" fill="#D3DCD8" stroke="#2E3834" stroke-width="1.7"/>
<text x="808.8" y="1593.9" font-size="15.8" fill="#111" stroke="#111" stroke-width="0.55" text-anchor="middle">SIM</text>
<line x1="695.4" y1="1615.8" x2="698.9" y2="1615.8" stroke="#333" stroke-width="1.8"/>
<line x1="695.4" y1="1653.6" x2="698.9" y2="1653.6" stroke="#333" stroke-width="1.8"/>
<line x1="695.4" y1="1691.3" x2="698.9" y2="1691.3" stroke="#333" stroke-width="1.8"/>
<line x1="695.4" y1="1729.1" x2="698.9" y2="1729.1" stroke="#333" stroke-width="1.8"/>
<line x1="695.4" y1="1766.3" x2="698.9" y2="1766.3" stroke="#333" stroke-width="1.8"/>
<line x1="712.9" y1="1773.7" x2="712.9" y2="1777.2" stroke="#333" stroke-width="1.8"/>
<text x="714.3" y="1794.3" font-size="15.3" fill="#3d3d3d" stroke="#3d3d3d" stroke-width="0.45" text-anchor="middle">0</text>
<line x1="766.9" y1="1773.7" x2="766.9" y2="1777.2" stroke="#333" stroke-width="1.8"/>
<text x="774.1" y="1794.3" font-size="15.3" fill="#3d3d3d" stroke="#3d3d3d" stroke-width="0.45" text-anchor="middle">30000</text>
<line x1="821.6" y1="1773.7" x2="821.6" y2="1777.2" stroke="#333" stroke-width="1.8"/>
<text x="828.8" y="1794.3" font-size="15.3" fill="#3d3d3d" stroke="#3d3d3d" stroke-width="0.45" text-anchor="middle">60000</text>
<line x1="875.5" y1="1773.7" x2="875.5" y2="1777.2" stroke="#333" stroke-width="1.8"/>
<text x="882.7" y="1794.3" font-size="15.3" fill="#3d3d3d" stroke="#3d3d3d" stroke-width="0.45" text-anchor="middle">90000</text>
<line x1="930" y1="1773.7" x2="930" y2="1777.2" stroke="#333" stroke-width="1.8"/>
<text x="938.7" y="1794.3" font-size="15.3" fill="#3d3d3d" stroke="#3d3d3d" stroke-width="0.45" text-anchor="middle">120000</text>
<text x="73.5" y="380.6" font-size="26" fill="#111" stroke="#111" stroke-width="0.4" text-anchor="middle" transform="rotate(-90 73.5 380.6)">density</text>
<text x="82.5" y="1292.4" font-size="25.5" fill="#111" stroke="#111" stroke-width="0.4" text-anchor="middle" transform="rotate(-90 82.5 1292.4)">density</text>
<text x="498.3" y="900" font-size="26" fill="#111" stroke="#111" stroke-width="0.4">count</text>
<text x="527.5" y="1820.6" font-size="26" fill="#111" stroke="#111" stroke-width="0.4">count</text>
<text x="1025.5" y="720.5" font-size="26" fill="#111" stroke="#111" stroke-width="0.4">mainclass</text>
<rect x="1026.3" y="736" width="28" height="27" fill="#EA6A96"/>
<text x="1065.3" y="755.9" font-size="22" fill="#111" stroke="#111" stroke-width="0.3">GABA</text>
<rect x="1026.3" y="765.1" width="28" height="27" fill="#9456A6"/>
<text x="1065.3" y="785" font-size="22" fill="#111" stroke="#111" stroke-width="0.3">GABA−Glyc</text>
<rect x="1026.3" y="794.2" width="28" height="27" fill="#80BAF2"/>
<text x="1065.3" y="814.1" font-size="22" fill="#111" stroke="#111" stroke-width="0.3">Glut</text>
<rect x="1026.3" y="823.3" width="28" height="27" fill="#D0DAD6"/>
<text x="1065.3" y="843.2" font-size="22" fill="#111" stroke="#111" stroke-width="0.3">NN</text>
<text x="1008.4" y="1629.4" font-size="26" fill="#111" stroke="#111" stroke-width="0.4">region</text>
<rect x="1008.4" y="1640.6" width="23.6" height="23.2" fill="#E0C672"/>
<text x="1042" y="1657.5" font-size="22" fill="#111" stroke="#111" stroke-width="0.3">Cerebellum</text>
<rect x="1008.4" y="1666" width="23.6" height="23.2" fill="#F47C6A"/>
<text x="1042" y="1683" font-size="22" fill="#111" stroke="#111" stroke-width="0.3">Diencephalon</text>
<rect x="1008.4" y="1691.5" width="23.6" height="23.2" fill="#94B2EE"/>
<text x="1042" y="1708.4" font-size="22" fill="#111" stroke="#111" stroke-width="0.3">Hindbrain</text>
<rect x="1008.4" y="1716.9" width="23.6" height="23.2" fill="#92EE66"/>
<text x="1042" y="1733.8" font-size="22" fill="#111" stroke="#111" stroke-width="0.3">Midbrain</text>
<rect x="1008.4" y="1742.4" width="23.6" height="23.2" fill="#66A2C4"/>
<text x="1042" y="1759.3" font-size="22" fill="#111" stroke="#111" stroke-width="0.3">Telencephalon</text>
<defs><pattern id="sigpat" x="0" y="0" width="3.9" height="20" patternUnits="userSpaceOnUse"><rect width="3.9" height="20" fill="#1e1e1e"/><rect x="3" width="0.9" height="20" fill="#666"/></pattern></defs>
<rect x="227.8" y="1850.5" width="967.7" height="289.7" fill="#fff" stroke="#BFC8D2" stroke-width="1.3"/>
<path d="M243.7,1851.2 V2139.5 M259.8,1851.2 V2139.5 M275.8,1851.2 V2139.5 M291.9,1851.2 V2139.5 M307.9,1851.2 V2139.5 M323.9,1851.2 V2139.5 M340,1851.2 V2139.5 M356.1,1851.2 V2139.5 M372.1,1851.2 V2139.5 M388.1,1851.2 V2139.5 M404.2,1851.2 V2139.5 M420.2,1851.2 V2139.5 M436.3,1851.2 V2139.5 M452.4,1851.2 V2139.5 M468.4,1851.2 V2139.5 M484.4,1851.2 V2139.5 M500.5,1851.2 V2139.5 M516.5,1851.2 V2139.5 M532.6,1851.2 V2139.5 M548.6,1851.2 V2139.5 M564.7,1851.2 V2139.5 M580.8,1851.2 V2139.5 M596.8,1851.2 V2139.5 M612.9,1851.2 V2139.5 M628.9,1851.2 V2139.5 M645,1851.2 V2139.5 M661,1851.2 V2139.5 M677,1851.2 V2139.5 M693.1,1851.2 V2139.5 M709.2,1851.2 V2139.5 M725.2,1851.2 V2139.5 M741.2,1851.2 V2139.5 M757.3,1851.2 V2139.5 M773.3,1851.2 V2139.5 M789.4,1851.2 V2139.5 M805.5,1851.2 V2139.5 M821.5,1851.2 V2139.5 M837.5,1851.2 V2139.5 M853.6,1851.2 V2139.5 M869.7,1851.2 V2139.5 M885.7,1851.2 V2139.5 M901.8,1851.2 V2139.5 M917.8,1851.2 V2139.5 M933.8,1851.2 V2139.5 M949.9,1851.2 V2139.5 M966,1851.2 V2139.5 M982,1851.2 V2139.5 M998,1851.2 V2139.5 M1014.1,1851.2 V2139.5 M1030.2,1851.2 V2139.5 M1046.2,1851.2 V2139.5 M1062.2,1851.2 V2139.5 M1078.3,1851.2 V2139.5 M1094.4,1851.2 V2139.5 M1110.4,1851.2 V2139.5 M1126.5,1851.2 V2139.5 M1142.5,1851.2 V2139.5 M1158.5,1851.2 V2139.5 M1174.6,1851.2 V2139.5 M1190.7,1851.2 V2139.5 " stroke="#D6D9EC" stroke-width="1.6" fill="none"/>
<g font-size="22.5" fill="#1a1a1a" stroke="#1a1a1a" stroke-width="0.3" text-anchor="end">
<text x="224.3" y="1865.7">Scale</text>
<text x="224.3" y="1902.7">GENCODE VM23</text>
<text x="224.3" y="1941.7">ATF3_0MIN</text>
<text x="224.3" y="1987.2">ATF3_15MIN</text>
<text x="224.3" y="2031.7">ATF3_30MIN</text>
<text x="224.3" y="2075.7">ATF3_60MIN</text>
<text x="224.3" y="2131.7">ATF3_120MIN</text>
</g>
<path d="M591.7,1859.5 H833.5 M591.7,1854.5 V1864.5 M833.5,1854.5 V1864.5" stroke="#333" stroke-width="1.3" fill="none"/>
<text x="586" y="1871.5" font-size="21.5" fill="#111" text-anchor="end">2 kb</text>
<text x="839.6" y="1871.8" font-size="21.5" fill="#111">mm10</text>
<text x="385.4" y="1906.3" font-size="21.5" fill="#111" text-anchor="end">Klf4</text>
<path d="M529.3,1900 H702 M722.5,1900 H736 M855.2,1900 H933.7 M949.2,1900 H961.4 " stroke="#7C8CC0" stroke-width="1.5" fill="none"/>
<path d="M533.3,1897.5 V1902.5 M540.5,1897.5 V1902.5 M547.7,1897.5 V1902.5 M554.9,1897.5 V1902.5 M562.1,1897.5 V1902.5 M569.3,1897.5 V1902.5 M576.5,1897.5 V1902.5 M583.7,1897.5 V1902.5 M590.9,1897.5 V1902.5 M598.1,1897.5 V1902.5 M605.3,1897.5 V1902.5 M612.5,1897.5 V1902.5 M619.7,1897.5 V1902.5 M626.9,1897.5 V1902.5 M634.1,1897.5 V1902.5 M641.3,1897.5 V1902.5 M648.5,1897.5 V1902.5 M655.7,1897.5 V1902.5 M662.9,1897.5 V1902.5 M670.1,1897.5 V1902.5 M677.3,1897.5 V1902.5 M684.5,1897.5 V1902.5 M691.7,1897.5 V1902.5 M698.9,1897.5 V1902.5 M726.5,1897.5 V1902.5 M733.7,1897.5 V1902.5 M859.2,1897.5 V1902.5 M866.4,1897.5 V1902.5 M873.6,1897.5 V1902.5 M880.8,1897.5 V1902.5 M888,1897.5 V1902.5 M895.2,1897.5 V1902.5 M902.4,1897.5 V1902.5 M909.6,1897.5 V1902.5 M916.8,1897.5 V1902.5 M924,1897.5 V1902.5 M931.2,1897.5 V1902.5 M953.2,1897.5 V1902.5 " stroke="#7C8CC0" stroke-width="1.2" fill="none"/>
<g fill="#1a1a1a">
<rect x="390.8" y="1897.2" width="117.3" height="5.7"/>
<rect x="508.1" y="1894" width="21.2" height="12"/>
<rect x="702" y="1894" width="20.5" height="12"/>
<rect x="736" y="1894" width="119.2" height="12"/>
<rect x="933.7" y="1894" width="15.5" height="12"/>
<rect x="961.4" y="1897.2" width="74.4" height="5.7"/>
<rect x="960.6" y="1894.5" width="1.6" height="11"/>
</g>
<path d="M338.6,1952 H344 V1950.4 H338.6 Z M348,1952 H352 V1950.4 H348 Z M355,1952 H359 V1950.4 H355 Z M435.4,1952 H484.4 V1950.4 H435.4 Z M453.8,1952 H470.1 V1948.7 H453.8 Z M753,1952 L753,1951 L754.8,1951 L756.7,1951 L758.5,1950.9 L760.4,1950.3 L762.2,1949.9 L764,1949.7 L765.9,1949.7 L767.7,1949 L769.5,1948.9 L771.4,1948.6 L773.2,1947.3 L775.1,1946.9 L776.9,1948.2 L778.7,1946.6 L780.6,1947 L782.4,1947.3 L784.3,1947.6 L786.1,1947.1 L787.9,1947.7 L789.8,1947.6 L791.6,1948 L793.5,1949 L795.3,1948.7 L797.1,1948.9 L799,1949.3 L800.8,1950 L802.6,1950.7 L804.5,1950.9 L806.3,1951.1 L808.2,1950.9 L810,1951.1 L810,1952 Z M867.5,1952 H892 V1950.8 H867.5 Z M912.4,1952 H937 V1950.4 H912.4 Z M1014.5,1952 H1039 V1950.8 H1014.5 Z M1039,1952 L1039,1950.6 L1040.8,1950.2 L1042.6,1950.2 L1044.4,1949.7 L1046.2,1949.4 L1048,1949.3 L1049.8,1948.2 L1051.6,1947.3 L1053.4,1947.8 L1055.2,1947.2 L1057,1946.3 L1058.8,1946.6 L1060.6,1944.9 L1062.4,1943.5 L1064.2,1943.4 L1066,1943.3 L1067.8,1941.9 L1069.6,1943.9 L1071.4,1942.2 L1073.2,1942.7 L1075,1941.9 L1076.8,1943.6 L1078.6,1941.5 L1080.4,1944 L1082.2,1944.1 L1084,1942.4 L1085.8,1942.5 L1087.6,1944.6 L1089.4,1944.9 L1091.2,1944.4 L1093,1943.4 L1094.8,1941.4 L1096.6,1942.2 L1098.4,1941.9 L1100.2,1940 L1102,1941 L1103.8,1938.6 L1105.6,1938 L1107.4,1938.5 L1109.2,1940.3 L1111,1941.4 L1112.8,1941.8 L1114.6,1944.2 L1116.4,1942.8 L1118.2,1944.9 L1120,1945.8 L1121.8,1947.2 L1123.6,1947.3 L1125.4,1947.9 L1127.2,1948.9 L1129,1949.1 L1129,1952 Z M1129,1952 H1159.6 V1950.4 H1129 Z" fill="url(#sigpat)"/>
<path d="M227.8,1952 H1195.5" stroke="#222" stroke-width="1.6"/>
<path d="M404.7,1998.4 H441.5 V1993.4 H404.7 Z M611,1998.4 H647.8 V1993.4 H611 Z M710.2,1998.4 H747 V1993.4 H710.2 Z M751,1998.4 H767.4 V1993.4 H751 Z M767.4,1998.4 H787.8 V1989.4 H767.4 Z M787.8,1998.4 H804.2 V1993.4 H787.8 Z M863.4,1998.4 H900.2 V1993.4 H863.4 Z M972.9,1998.4 H1009.6 V1993.4 H972.9 Z M1047.2,1998.4 H1053.3 V1990.4 H1047.2 Z M1053.3,1998.4 H1059.5 V1975.9 H1053.3 Z M1059.5,1998.4 H1069.7 V1973.9 H1059.5 Z M1069.7,1998.4 H1088 V1967.8 H1069.7 Z M1088,1998.4 H1096.2 V1984.1 H1088 Z M1096.2,1998.4 H1106.5 V1988.2 H1096.2 Z" fill="url(#sigpat)"/>
<path d="M227.8,1998.4 H1195.5" stroke="#222" stroke-width="1.6"/>
<path d="M419,2045.4 H468 V2043.4 H419 Z M437,2045.4 H455 V2042.1 H437 Z M517,2045.4 H547.7 V2043.8 H517 Z M560,2045.4 H592.6 V2042.1 H560 Z M619.2,2045.4 H647.8 V2043.8 H619.2 Z M720.4,2045.4 H755 V2044.2 H720.4 Z M775.6,2045.4 L775.6,2043.5 L777.4,2043.3 L779.2,2043.3 L781,2043.1 L782.9,2042.6 L784.7,2041.5 L786.5,2040.9 L788.3,2039.2 L790.1,2039 L792,2038.9 L793.8,2039 L795.6,2039 L797.4,2040.5 L799.2,2040.5 L801,2041.7 L802.8,2041.4 L804.7,2043.1 L806.5,2043.1 L808.3,2043.7 L808.3,2045.4 Z M861.4,2045.4 H892 V2043.8 H861.4 Z M898,2045.4 H926.7 V2043.8 H898 Z M986,2045.4 H1018.6 V2043.8 H986 Z M1018.6,2045.4 H1039 V2041.4 H1018.6 Z M1039,2045.4 L1039,2038.1 L1040.9,2038.7 L1042.7,2038.2 L1044.6,2036.8 L1046.5,2038.8 L1048.3,2038.5 L1050.2,2035.8 L1052,2036.9 L1053.9,2038.1 L1055.8,2035.2 L1057.6,2035.2 L1059.5,2037.8 L1061.4,2036.9 L1063.2,2037.8 L1065.1,2037.3 L1067,2036.5 L1068.8,2038 L1070.7,2036.6 L1072.5,2038.7 L1074.4,2038.5 L1076.3,2037 L1078.1,2038.4 L1080,2038.6 L1080,2045.4 Z M1080,2045.4 L1080,2037.3 L1081.8,2037.7 L1083.6,2037.9 L1085.4,2038 L1087.2,2033.6 L1089.1,2030.1 L1090.9,2027.7 L1092.7,2027.5 L1094.5,2028 L1096.3,2027.1 L1098.1,2024.6 L1099.9,2025.1 L1101.7,2029.7 L1103.5,2030.3 L1105.4,2031.3 L1107.2,2032.5 L1109,2033.5 L1110.8,2036.8 L1112.6,2038.9 L1112.6,2045.4 Z M1112.6,2045.4 H1129 V2041.4 H1112.6 Z M1129,2045.4 H1161.6 V2043.8 H1129 Z M1165.7,2045.4 H1186 V2044.2 H1165.7 Z" fill="url(#sigpat)"/>
<path d="M227.8,2045.4 H1195.5" stroke="#222" stroke-width="1.6"/>
<path d="M274,2092.4 L274,2089.7 L275.8,2089.3 L277.7,2089.3 L279.5,2089.1 L281.3,2089.8 L283.2,2089.8 L285,2089.8 L286.8,2089.8 L288.6,2089.2 L290.5,2089.9 L292.3,2089.4 L294.1,2089.8 L296,2089.7 L297.8,2089.5 L299.6,2088.8 L301.5,2088.4 L303.3,2088.8 L305.1,2088 L307,2088.1 L308.8,2087 L310.6,2087.5 L312.5,2088.1 L314.3,2088.8 L316.1,2089.2 L317.9,2089 L319.8,2089.2 L321.6,2089.7 L323.4,2089.1 L325.3,2089.5 L327.1,2089.2 L328.9,2089.4 L330.8,2089.5 L332.6,2089.6 L334.4,2089.5 L336.3,2089.6 L338.1,2089.3 L339.9,2087.9 L341.7,2087.5 L343.6,2086.8 L345.4,2087.2 L347.2,2087.5 L349.1,2087.3 L350.9,2088.6 L352.7,2088.3 L354.6,2089.1 L356.4,2089.8 L358.2,2089.8 L360.1,2089.5 L361.9,2089.7 L363.7,2089.5 L365.6,2089.4 L367.4,2089.6 L369.2,2089.9 L371,2089.5 L372.9,2089.8 L374.7,2089.8 L376.5,2089.8 L378.4,2089.6 L380.2,2089.9 L380.2,2092.4 Z M480.3,2092.4 H506.9 V2090.8 H480.3 Z M767.4,2092.4 L767.4,2090.9 L769.2,2090.7 L771.1,2091 L772.9,2090.4 L774.8,2089.7 L776.6,2090 L778.5,2089.3 L780.3,2087.7 L782.2,2086.8 L784,2086.4 L785.9,2086.7 L787.7,2085.5 L789.5,2083.6 L791.4,2083 L793.2,2082.9 L795.1,2084.6 L796.9,2082.5 L798.8,2084.2 L800.6,2083.5 L802.5,2085.7 L804.3,2084 L806.1,2085.7 L808,2086.2 L809.8,2087.9 L811.7,2088 L813.5,2088.8 L815.4,2089.4 L817.2,2090.2 L819.1,2090.4 L820.9,2091 L822.8,2091 L824.6,2091.1 L824.6,2092.4 Z M841,2092.4 H914.5 V2090.4 H841 Z M1006.4,2092.4 H1039 V2090.8 H1006.4 Z M1039,2092.4 H1067.6 V2088.4 H1039 Z M1067.6,2092.4 L1067.6,2088.2 L1069.4,2089 L1071.3,2088.9 L1073.1,2088.5 L1075,2086.1 L1076.8,2084.6 L1078.7,2082.7 L1080.5,2082.6 L1082.4,2078.6 L1084.2,2076.8 L1086.1,2076.1 L1087.9,2074.6 L1089.7,2064.1 L1091.6,2069.8 L1093.4,2066.6 L1095.3,2065.8 L1097.1,2061.6 L1099,2067.1 L1100.8,2063.4 L1102.7,2065.5 L1104.5,2062.6 L1106.3,2072.1 L1108.2,2071.4 L1110,2072.6 L1111.9,2072.2 L1113.7,2077.6 L1115.6,2080.2 L1117.4,2081.7 L1119.3,2084.9 L1121.1,2087.1 L1123,2087.5 L1124.8,2087.9 L1124.8,2092.4 Z M1124.8,2092.4 H1157.5 V2089.1 H1124.8 Z M1192,2092.4 H1196 V2090.4 H1192 Z" fill="url(#sigpat)"/>
<path d="M227.8,2092.4 H1195.5" stroke="#222" stroke-width="1.6"/>
<path d="M241.3,2139.2 H265.8 V2137.2 H241.3 Z M286.3,2139.2 H310.8 V2137.2 H286.3 Z M423,2139.2 H449.7 V2137.6 H423 Z M474.2,2139.2 H498.7 V2137.6 H474.2 Z M504.8,2139.2 H529.3 V2137.6 H504.8 Z M568.1,2139.2 L568.1,2137.5 L569.9,2137.1 L571.7,2137.1 L573.5,2136.9 L575.3,2137.4 L577.1,2137.4 L578.9,2137.1 L580.7,2137.1 L582.5,2137.4 L584.3,2136.8 L586.1,2136.7 L587.9,2135.9 L589.7,2136.3 L591.5,2135.9 L593.3,2134.8 L595.1,2135.5 L596.9,2135.7 L598.8,2135.2 L600.6,2135.7 L602.4,2136.6 L604.2,2136.5 L606,2136 L607.8,2136.3 L609.6,2135.6 L611.4,2136.3 L613.2,2136.2 L615,2136.8 L616.8,2137.1 L618.6,2136.9 L620.4,2137.3 L622.2,2136.9 L624,2137.3 L625.8,2137.2 L627.6,2137 L629.4,2137.1 L629.4,2139.2 Z M641.7,2139.2 H668.2 V2137.6 H641.7 Z M692.7,2139.2 H719.3 V2137.6 H692.7 Z M700,2139.2 H724.5 V2137.6 H700 Z M726.6,2139.2 H755.1 V2134.2 H726.6 Z M757.2,2139.2 L757.2,2137.2 L759.1,2136.3 L760.9,2135.7 L762.8,2135.7 L764.7,2135.4 L766.6,2133.6 L768.4,2133.8 L770.3,2134.2 L772.2,2133.5 L774,2133.9 L775.9,2132.9 L777.8,2133.7 L779.7,2134.8 L781.5,2134 L783.4,2135.6 L785.3,2135.9 L787.1,2136.7 L789,2136.4 L790.9,2137.4 L792.7,2137.2 L794.6,2137.5 L796.5,2137.3 L798.4,2137.1 L800.2,2137.2 L802.1,2137.3 L802.1,2139.2 Z M802,2139.2 H830.7 V2137.2 H802 Z M834.8,2139.2 H879.7 V2137.2 H834.8 Z M890,2139.2 H916.5 V2135.2 H890 Z M957.4,2139.2 H994 V2137.2 H957.4 Z M1037,2139.2 H1055.4 V2135.2 H1037 Z M1055.4,2139.2 L1055.4,2134.4 L1057.2,2134.4 L1059.1,2134.2 L1060.9,2135 L1062.7,2134.4 L1064.6,2134.8 L1066.4,2133.7 L1068.2,2133.6 L1070.1,2134.3 L1071.9,2132.6 L1073.7,2128.8 L1075.6,2127 L1077.4,2127.5 L1079.3,2121.7 L1081.1,2118.2 L1082.9,2120.2 L1084.8,2120 L1086.6,2118.3 L1088.4,2116.2 L1090.3,2122.1 L1092.1,2123.4 L1093.9,2125.9 L1095.8,2125.9 L1097.6,2125 L1099.4,2124.2 L1101.3,2121.9 L1103.1,2123.4 L1104.9,2121.4 L1106.8,2117.5 L1108.6,2121.5 L1110.4,2125.1 L1112.3,2124.1 L1114.1,2129.1 L1115.9,2128.2 L1117.8,2128.2 L1119.6,2127.1 L1121.4,2126.8 L1123.3,2127.1 L1125.1,2125.1 L1127,2129.1 L1128.8,2130.6 L1130.6,2131.2 L1132.5,2132.3 L1134.3,2134.7 L1136.1,2133.9 L1138,2134.6 L1139.8,2134.2 L1141.6,2134.2 L1143.5,2133.6 L1145.3,2133.9 L1145.3,2139.2 Z M1145.3,2139.2 H1174 V2137.2 H1145.3 Z M1178,2139.2 H1196 V2137.2 H1178 Z" fill="url(#sigpat)"/>
<path d="M227.8,2139.2 H1195.5" stroke="#222" stroke-width="1.6"/>
<rect x="1069.7" y="1965.5" width="14.3" height="3" fill="#C078C8"/>
<rect x="229" y="2163" width="966.3" height="354.2" fill="#fff" stroke="#BFC8D2" stroke-width="1.3"/>
<path d="M243.4,2163.7 V2516.5 M257.9,2163.7 V2516.5 M272.5,2163.7 V2516.5 M287.1,2163.7 V2516.5 M301.6,2163.7 V2516.5 M316.1,2163.7 V2516.5 M330.7,2163.7 V2516.5 M345.2,2163.7 V2516.5 M359.8,2163.7 V2516.5 M374.4,2163.7 V2516.5 M388.9,2163.7 V2516.5 M403.5,2163.7 V2516.5 M418,2163.7 V2516.5 M432.6,2163.7 V2516.5 M447.1,2163.7 V2516.5 M461.6,2163.7 V2516.5 M476.2,2163.7 V2516.5 M490.8,2163.7 V2516.5 M505.3,2163.7 V2516.5 M519.9,2163.7 V2516.5 M534.4,2163.7 V2516.5 M549,2163.7 V2516.5 M563.5,2163.7 V2516.5 M578.1,2163.7 V2516.5 M592.6,2163.7 V2516.5 M607.1,2163.7 V2516.5 M621.7,2163.7 V2516.5 M636.2,2163.7 V2516.5 M650.8,2163.7 V2516.5 M665.4,2163.7 V2516.5 M679.9,2163.7 V2516.5 M694.5,2163.7 V2516.5 M709,2163.7 V2516.5 M723.6,2163.7 V2516.5 M738.1,2163.7 V2516.5 M752.6,2163.7 V2516.5 M767.2,2163.7 V2516.5 M781.8,2163.7 V2516.5 M796.3,2163.7 V2516.5 M810.9,2163.7 V2516.5 M825.4,2163.7 V2516.5 M840,2163.7 V2516.5 M854.5,2163.7 V2516.5 M869,2163.7 V2516.5 M883.6,2163.7 V2516.5 M898.1,2163.7 V2516.5 M912.7,2163.7 V2516.5 M927.2,2163.7 V2516.5 M941.8,2163.7 V2516.5 M956.4,2163.7 V2516.5 M970.9,2163.7 V2516.5 M985.5,2163.7 V2516.5 M1000,2163.7 V2516.5 M1014.6,2163.7 V2516.5 M1029.1,2163.7 V2516.5 M1043.7,2163.7 V2516.5 M1058.2,2163.7 V2516.5 M1072.8,2163.7 V2516.5 M1087.3,2163.7 V2516.5 M1101.9,2163.7 V2516.5 M1116.4,2163.7 V2516.5 M1131,2163.7 V2516.5 M1145.5,2163.7 V2516.5 M1160.1,2163.7 V2516.5 M1174.6,2163.7 V2516.5 M1189.2,2163.7 V2516.5 " stroke="#D6D9EC" stroke-width="1.6" fill="none"/>
<g font-size="22.5" fill="#1a1a1a" stroke="#1a1a1a" stroke-width="0.3" text-anchor="end">
<text x="224.3" y="2193.2">Scale</text>
<text x="224.3" y="2228.2">GENCODE VM23</text>
<text x="224.3" y="2266.7">ATF3_0MIN</text>
<text x="224.3" y="2311.7">ATF3_15MIN</text>
<text x="224.3" y="2359.2">ATF3_30MIN</text>
<text x="224.3" y="2402.7">ATF3_60MIN</text>
<text x="224.3" y="2459.2">ATF3_120MIN</text>
</g>
<path d="M502.8,2173.5 H921.9 M502.8,2166 V2182 M921.9,2166 V2182" stroke="#222" stroke-width="1.8" fill="none"/>
<text x="492.6" y="2184" font-size="21.5" fill="#111" text-anchor="end">10 kb</text>
<text x="928.4" y="2182" font-size="21.5" fill="#111">mm10</text>
<g fill="#2A2EB0" stroke="#2A2EB0" stroke-width="0.5">
<text x="319" y="2240" font-size="21.5" text-anchor="end">Tal1</text>
<text x="378.2" y="2258.6" font-size="21.5" text-anchor="end">Tal1</text>
<text x="449.7" y="2277.3" font-size="21.5" text-anchor="end">Tal1</text>
</g>
<path d="M330.4,2232.5 H827 M331.4,2227.5 V2237.5 M388.4,2251.3 H827 M389.4,2246.3 V2256.3 M459,2270.5 H827 M460,2265.5 V2275.5 " stroke="#2A2EB0" stroke-width="1.8" fill="none"/>
<path d="M336.8,2230.1 L339.2,2232.5 L336.8,2234.9 M346.7,2230.1 L349.1,2232.5 L346.7,2234.9 M356.6,2230.1 L359,2232.5 L356.6,2234.9 M366.5,2230.1 L368.9,2232.5 L366.5,2234.9 M376.4,2230.1 L378.8,2232.5 L376.4,2234.9 M386.3,2230.1 L388.7,2232.5 L386.3,2234.9 M396.2,2230.1 L398.6,2232.5 L396.2,2234.9 M406.1,2230.1 L408.5,2232.5 L406.1,2234.9 M416,2230.1 L418.4,2232.5 L416,2234.9 M425.9,2230.1 L428.3,2232.5 L425.9,2234.9 M435.8,2230.1 L438.2,2232.5 L435.8,2234.9 M445.7,2230.1 L448.1,2232.5 L445.7,2234.9 M465.5,2230.1 L467.9,2232.5 L465.5,2234.9 M475.4,2230.1 L477.8,2232.5 L475.4,2234.9 M485.3,2230.1 L487.7,2232.5 L485.3,2234.9 M495.2,2230.1 L497.6,2232.5 L495.2,2234.9 M505.1,2230.1 L507.5,2232.5 L505.1,2234.9 M515,2230.1 L517.4,2232.5 L515,2234.9 M524.9,2230.1 L527.3,2232.5 L524.9,2234.9 M534.8,2230.1 L537.2,2232.5 L534.8,2234.9 M544.7,2230.1 L547.1,2232.5 L544.7,2234.9 M554.6,2230.1 L557,2232.5 L554.6,2234.9 M564.5,2230.1 L566.9,2232.5 L564.5,2234.9 M574.4,2230.1 L576.8,2232.5 L574.4,2234.9 M584.3,2230.1 L586.7,2232.5 L584.3,2234.9 M594.2,2230.1 L596.6,2232.5 L594.2,2234.9 M604.1,2230.1 L606.5,2232.5 L604.1,2234.9 M633.8,2230.1 L636.2,2232.5 L633.8,2234.9 M643.7,2230.1 L646.1,2232.5 L643.7,2234.9 M653.6,2230.1 L656,2232.5 L653.6,2234.9 M663.5,2230.1 L665.9,2232.5 L663.5,2234.9 M673.4,2230.1 L675.8,2232.5 L673.4,2234.9 M683.3,2230.1 L685.7,2232.5 L683.3,2234.9 M693.2,2230.1 L695.6,2232.5 L693.2,2234.9 M703.1,2230.1 L705.5,2232.5 L703.1,2234.9 M713,2230.1 L715.4,2232.5 L713,2234.9 M722.9,2230.1 L725.3,2232.5 L722.9,2234.9 M732.8,2230.1 L735.2,2232.5 L732.8,2234.9 M742.7,2230.1 L745.1,2232.5 L742.7,2234.9 M752.6,2230.1 L755,2232.5 L752.6,2234.9 M762.5,2230.1 L764.9,2232.5 L762.5,2234.9 M772.4,2230.1 L774.8,2232.5 L772.4,2234.9 M782.3,2230.1 L784.7,2232.5 L782.3,2234.9 M792.2,2230.1 L794.6,2232.5 L792.2,2234.9 M802.1,2230.1 L804.5,2232.5 L802.1,2234.9 M812,2230.1 L814.4,2232.5 L812,2234.9 M821.9,2230.1 L824.3,2232.5 L821.9,2234.9 M394.8,2248.9 L397.2,2251.3 L394.8,2253.7 M404.7,2248.9 L407.1,2251.3 L404.7,2253.7 M414.6,2248.9 L417,2251.3 L414.6,2253.7 M424.5,2248.9 L426.9,2251.3 L424.5,2253.7 M434.4,2248.9 L436.8,2251.3 L434.4,2253.7 M444.3,2248.9 L446.7,2251.3 L444.3,2253.7 M454.2,2248.9 L456.6,2251.3 L454.2,2253.7 M474,2248.9 L476.4,2251.3 L474,2253.7 M483.9,2248.9 L486.3,2251.3 L483.9,2253.7 M493.8,2248.9 L496.2,2251.3 L493.8,2253.7 M503.7,2248.9 L506.1,2251.3 L503.7,2253.7 M513.6,2248.9 L516,2251.3 L513.6,2253.7 M523.5,2248.9 L525.9,2251.3 L523.5,2253.7 M533.4,2248.9 L535.8,2251.3 L533.4,2253.7 M543.3,2248.9 L545.7,2251.3 L543.3,2253.7 M553.2,2248.9 L555.6,2251.3 L553.2,2253.7 M563.1,2248.9 L565.5,2251.3 L563.1,2253.7 M573,2248.9 L575.4,2251.3 L573,2253.7 M582.9,2248.9 L585.3,2251.3 L582.9,2253.7 M592.8,2248.9 L595.2,2251.3 L592.8,2253.7 M602.7,2248.9 L605.1,2251.3 L602.7,2253.7 M632.4,2248.9 L634.8,2251.3 L632.4,2253.7 M642.3,2248.9 L644.7,2251.3 L642.3,2253.7 M652.2,2248.9 L654.6,2251.3 L652.2,2253.7 M662.1,2248.9 L664.5,2251.3 L662.1,2253.7 M672,2248.9 L674.4,2251.3 L672,2253.7 M681.9,2248.9 L684.3,2251.3 L681.9,2253.7 M691.8,2248.9 L694.2,2251.3 L691.8,2253.7 M701.7,2248.9 L704.1,2251.3 L701.7,2253.7 M711.6,2248.9 L714,2251.3 L711.6,2253.7 M721.5,2248.9 L723.9,2251.3 L721.5,2253.7 M731.4,2248.9 L733.8,2251.3 L731.4,2253.7 M741.3,2248.9 L743.7,2251.3 L741.3,2253.7 M751.2,2248.9 L753.6,2251.3 L751.2,2253.7 M761.1,2248.9 L763.5,2251.3 L761.1,2253.7 M771,2248.9 L773.4,2251.3 L771,2253.7 M780.9,2248.9 L783.3,2251.3 L780.9,2253.7 M790.8,2248.9 L793.2,2251.3 L790.8,2253.7 M800.7,2248.9 L803.1,2251.3 L800.7,2253.7 M810.6,2248.9 L813,2251.3 L810.6,2253.7 M820.5,2248.9 L822.9,2251.3 L820.5,2253.7 M465.4,2268.1 L467.8,2270.5 L465.4,2272.9 M475.3,2268.1 L477.7,2270.5 L475.3,2272.9 M485.2,2268.1 L487.6,2270.5 L485.2,2272.9 M495.1,2268.1 L497.5,2270.5 L495.1,2272.9 M505,2268.1 L507.4,2270.5 L505,2272.9 M514.9,2268.1 L517.3,2270.5 L514.9,2272.9 M524.8,2268.1 L527.2,2270.5 L524.8,2272.9 M534.7,2268.1 L537.1,2270.5 L534.7,2272.9 M544.6,2268.1 L547,2270.5 L544.6,2272.9 M554.5,2268.1 L556.9,2270.5 L554.5,2272.9 M564.4,2268.1 L566.8,2270.5 L564.4,2272.9 M574.3,2268.1 L576.7,2270.5 L574.3,2272.9 M584.2,2268.1 L586.6,2270.5 L584.2,2272.9 M594.1,2268.1 L596.5,2270.5 L594.1,2272.9 M604,2268.1 L606.4,2270.5 L604,2272.9 M633.7,2268.1 L636.1,2270.5 L633.7,2272.9 M643.6,2268.1 L646,2270.5 L643.6,2272.9 M653.5,2268.1 L655.9,2270.5 L653.5,2272.9 M663.4,2268.1 L665.8,2270.5 L663.4,2272.9 M673.3,2268.1 L675.7,2270.5 L673.3,2272.9 M683.2,2268.1 L685.6,2270.5 L683.2,2272.9 M693.1,2268.1 L695.5,2270.5 L693.1,2272.9 M703,2268.1 L705.4,2270.5 L703,2272.9 M712.9,2268.1 L715.3,2270.5 L712.9,2272.9 M722.8,2268.1 L725.2,2270.5 L722.8,2272.9 M732.7,2268.1 L735.1,2270.5 L732.7,2272.9 M742.6,2268.1 L745,2270.5 L742.6,2272.9 M752.5,2268.1 L754.9,2270.5 L752.5,2272.9 M762.4,2268.1 L764.8,2270.5 L762.4,2272.9 M772.3,2268.1 L774.7,2270.5 L772.3,2272.9 M782.2,2268.1 L784.6,2270.5 L782.2,2272.9 M792.1,2268.1 L794.5,2270.5 L792.1,2272.9 M802,2268.1 L804.4,2270.5 L802,2272.9 M811.9,2268.1 L814.3,2270.5 L811.9,2272.9 M821.8,2268.1 L824.2,2270.5 L821.8,2272.9 " stroke="#4A5AD0" stroke-width="1.3" fill="none"/>
<g fill="#2A2EB0">
<rect x="459" y="2227.5" width="6.2" height="10"/>
<rect x="845.8" y="2226.8" width="128.4" height="11.4"/>
<rect x="459" y="2246.3" width="6.2" height="10"/>
<rect x="845.8" y="2245.6" width="106.5" height="11.4"/>
<rect x="459" y="2265.5" width="6.2" height="10"/>
<rect x="845.8" y="2264.8" width="74.5" height="11.4"/>
<rect x="611.4" y="2223.3" width="18.6" height="56.7"/>
<rect x="827" y="2223.3" width="18.8" height="56.7"/>
<rect x="675.8" y="2223.3" width="3.9" height="56.7"/>
</g>
<path d="M611.4,2242 H630 M611.4,2261 H630 M827,2242 H845.8 M827,2261 H845.8" stroke="#9A9AE0" stroke-width="0.8"/>
<path d="M229,2323.3 H243.4 V2319.3 H229 Z M267.9,2323.3 L267.9,2318.7 L269.8,2319.4 L271.7,2319.1 L273.6,2318.7 L275.4,2320.8 L277.3,2319.6 L279.2,2318.7 L281.1,2318.8 L283,2319.8 L284.9,2321.1 L286.7,2320.3 L288.6,2318.4 L290.5,2321.3 L292.4,2320.6 L292.4,2323.3 Z M300.6,2323.3 H310.8 V2321.3 H300.6 Z M327,2323.3 L327,2317.6 L328.8,2318.5 L330.6,2318.9 L332.4,2318 L334.2,2314.7 L336,2314.5 L337.8,2312.5 L339.7,2310.2 L341.5,2308.4 L343.3,2309.7 L345.1,2312.1 L346.9,2310.8 L348.7,2312.8 L350.5,2309.2 L352.3,2305.7 L354.1,2300.1 L355.9,2303.3 L357.7,2302.2 L359.5,2308.8 L361.3,2312.5 L363.2,2316.1 L365,2317.4 L366.8,2317.8 L368.6,2318.9 L370.4,2318.9 L372.2,2319.3 L374,2318.2 L374,2323.3 Z M374,2323.3 L374,2319.3 L375.8,2320.1 L377.6,2317.6 L379.4,2317.8 L381.2,2318.6 L383,2320 L384.8,2317.6 L386.7,2318 L388.5,2318.6 L390.3,2320 L392.1,2316.2 L393.9,2316.5 L395.7,2317.4 L397.5,2315.8 L399.3,2317.9 L401.1,2319.1 L402.9,2320.2 L404.7,2317.8 L406.5,2318.2 L408.3,2318.6 L410.2,2315.8 L412,2316.6 L413.8,2320.2 L415.6,2316.4 L417.4,2320.8 L419.2,2317.5 L421,2319.2 L422.8,2317.2 L424.6,2316 L426.4,2318.1 L428.2,2317 L430,2320.5 L431.8,2317.5 L433.7,2320.2 L435.5,2318.5 L437.3,2319.1 L439.1,2320.4 L440.9,2317.1 L442.7,2320.3 L444.5,2319.5 L446.3,2320.4 L448.1,2317.5 L449.9,2319.3 L451.7,2320.6 L453.5,2320.7 L455.3,2319.7 L457.2,2318.3 L459,2320.7 L460.8,2320.7 L462.6,2317.5 L464.4,2318.2 L466.2,2320.1 L468,2319.2 L469.8,2320.2 L471.6,2319.4 L473.4,2318.9 L475.2,2319.7 L477,2319.8 L478.8,2319.7 L480.7,2319.3 L482.5,2318 L484.3,2316.4 L486.1,2317.6 L487.9,2318.6 L489.7,2320.8 L491.5,2319.9 L493.3,2317.6 L495.1,2318.8 L496.9,2316.6 L498.7,2316.3 L500.5,2319.3 L502.3,2319 L504.2,2319.3 L506,2317.4 L507.8,2320.3 L509.6,2319.4 L511.4,2316.4 L513.2,2318.9 L515,2316 L515,2323.3 Z M525,2323.3 H535.5 V2321.3 H525 Z M543.6,2323.3 L543.6,2318.8 L545.5,2316.6 L547.4,2318.5 L549.2,2320.3 L551.1,2317.9 L553,2319.7 L554.9,2316.2 L556.7,2317.3 L558.6,2318.2 L560.5,2316.2 L562.4,2318.1 L564.2,2316 L566.1,2317.2 L568,2319.9 L568,2323.3 Z M576.3,2323.3 L576.3,2320.6 L578.1,2320 L580,2320.8 L581.8,2319.9 L583.6,2320.9 L585.5,2320.1 L587.3,2319.3 L589.1,2318.1 L590.9,2316.1 L592.8,2314.9 L594.6,2315 L596.4,2315.4 L598.3,2317 L600.1,2316.8 L601.9,2318.2 L603.8,2320.4 L605.6,2320 L607.4,2319.9 L609.3,2318.6 L611.1,2315.6 L612.9,2313.4 L614.8,2315.2 L616.6,2312.3 L618.4,2314.9 L620.2,2315 L622.1,2317.9 L623.9,2318.5 L625.7,2320.5 L627.6,2320.7 L629.4,2320.8 L629.4,2323.3 Z M645.8,2323.3 H654 V2320.8 H645.8 Z M664,2323.3 H674.4 V2321.7 H664 Z M686.6,2323.3 L686.6,2321.7 L688.4,2321.8 L690.3,2320 L692.1,2322 L693.9,2321.8 L695.7,2321.5 L697.6,2321.7 L699.4,2320.1 L701.2,2322 L703.1,2320.3 L704.9,2321.2 L706.7,2321.7 L708.5,2321.5 L710.4,2320.7 L712.2,2321.4 L714,2321.1 L715.9,2321.1 L717.7,2320.7 L719.5,2320.3 L721.3,2321.3 L723.2,2320.5 L725,2320.3 L725,2323.3 Z M700,2323.3 L700,2320.9 L701.8,2319.5 L703.7,2321.6 L705.5,2320.3 L707.3,2320.7 L709.2,2321.4 L711,2319.8 L712.8,2319.2 L714.7,2320.3 L716.5,2320.7 L718.3,2319.1 L720.2,2318.8 L722,2319.9 L723.8,2320.1 L725.7,2319.9 L727.5,2319.7 L729.3,2319.8 L731.2,2320.2 L733,2319.5 L734.8,2319.6 L736.7,2319.9 L738.5,2320.2 L740.3,2320.7 L742.2,2321.2 L744,2320.3 L745.8,2320.9 L747.7,2320.4 L749.5,2321.3 L751.3,2319.1 L753.2,2321.4 L755,2319.2 L756.8,2320.1 L758.7,2319.1 L760.5,2319.2 L762.3,2321.3 L764.2,2321 L766,2318.8 L767.8,2319.8 L769.7,2321.5 L771.5,2321 L771.5,2323.3 Z M777.6,2323.3 L777.6,2322.1 L779.4,2321.7 L781.2,2322.1 L783.1,2322.2 L784.9,2322.2 L786.7,2321.4 L788.5,2320.9 L790.3,2321.3 L792.1,2321 L794,2321 L795.8,2322 L797.6,2320.9 L799.4,2321.3 L801.2,2321.5 L803,2320.4 L804.9,2321.4 L806.7,2320.9 L808.5,2320.7 L810.3,2321.3 L812.1,2322 L813.9,2321.9 L815.8,2321.7 L817.6,2321.9 L819.4,2321.5 L821.2,2322.2 L823,2320.8 L824.8,2320.8 L826.6,2321 L828.5,2322.1 L830.3,2321.9 L832.1,2320.5 L833.9,2320.6 L835.7,2320.8 L837.5,2320.6 L839.4,2321.9 L841.2,2321.7 L843,2321.4 L843,2323.3 Z M849,2323.3 H863.4 V2321.7 H849 Z M886,2323.3 L886,2320.9 L887.8,2321.1 L889.7,2321.4 L891.5,2320 L893.3,2321.6 L895.1,2320.6 L897,2320 L898.8,2321.7 L900.6,2321.2 L902.5,2321.1 L904.3,2321.3 L906.1,2319.8 L908,2319.9 L909.8,2321.7 L911.6,2321.9 L913.5,2320.6 L915.3,2320.8 L917.1,2322 L918.9,2319.9 L920.8,2319.9 L922.6,2320.6 L922.6,2323.3 Z M930.8,2323.3 H949.2 V2321.7 H930.8 Z M986,2323.3 L986,2321.4 L987.9,2321 L989.7,2318.9 L991.6,2319.4 L993.4,2320.2 L995.3,2318.6 L997.1,2321.5 L999,2319.4 L1000.8,2318.9 L1002.7,2318.9 L1004.5,2321.3 L1006.4,2319.3 L1008.3,2319.8 L1010.1,2319.6 L1012,2321.1 L1013.8,2318.5 L1015.7,2318.5 L1017.5,2321.3 L1019.4,2319.8 L1021.2,2319.9 L1023.1,2320.2 L1024.9,2320.5 L1026.8,2320.9 L1026.8,2323.3 Z M1033,2323.3 L1033,2320.2 L1034.8,2320.8 L1036.7,2320.9 L1038.5,2320.8 L1040.3,2321.3 L1042.2,2319.8 L1044,2320.1 L1045.8,2321.4 L1047.6,2321.3 L1049.5,2320.7 L1051.3,2320.5 L1051.3,2323.3 Z M1057.4,2323.3 L1057.4,2317.7 L1059.2,2317.6 L1061,2321 L1062.9,2317.8 L1064.7,2321.2 L1066.5,2319 L1068.3,2318.2 L1070.1,2320.6 L1072,2320.4 L1073.8,2321 L1075.6,2319.5 L1077.4,2318 L1079.3,2321.3 L1081.1,2318.3 L1082.9,2319.7 L1084.7,2317.6 L1086.5,2319.1 L1088.4,2319.5 L1090.2,2320.2 L1092,2317.9 L1092,2323.3 Z M1096.2,2323.3 L1096.2,2317.5 L1098,2315.9 L1099.8,2312.4 L1101.7,2308.3 L1103.5,2309.1 L1105.3,2310.1 L1107.1,2311.4 L1109,2312.5 L1110.8,2317.3 L1112.6,2318.4 L1112.6,2323.3 Z M1112.6,2323.3 L1112.6,2318.2 L1114.6,2316.3 L1116.7,2319.2 L1118.7,2318.5 L1120.7,2319.6 L1122.8,2314.4 L1124.8,2314.8 L1124.8,2323.3 Z M1124.8,2323.3 L1124.8,2319.9 L1126.6,2320.2 L1128.4,2319.3 L1130.2,2318.2 L1132.1,2316.8 L1133.9,2314.6 L1135.7,2314.5 L1137.5,2315.7 L1139.3,2313.9 L1141.2,2315 L1143,2318.3 L1144.8,2319.3 L1146.6,2319.9 L1148.4,2320.4 L1150.2,2320 L1152,2320.7 L1153.9,2319.9 L1155.7,2320.5 L1157.5,2320.7 L1157.5,2323.3 Z M1161.6,2323.3 L1161.6,2315.9 L1163.6,2317 L1165.7,2316.8 L1167.8,2319.9 L1169.8,2316 L1171.9,2319.3 L1173.9,2318.5 L1173.9,2323.3 Z" fill="url(#sigpat)"/>
<path d="M229,2323.3 H1195.3" stroke="#222" stroke-width="1.6"/>
<path d="M242.2,2367 H267.9 V2359 H242.2 Z M326.3,2367 H337.3 V2359 H326.3 Z M337.3,2367 H344.3 V2350.7 H337.3 Z M344.3,2367 H350.8 V2343.3 H344.3 Z M350.8,2367 H357.8 V2359 H350.8 Z M371.2,2367 H384.3 V2359 H371.2 Z M599.6,2367 H611 V2359 H599.6 Z M611,2367 H617.2 V2344.5 H611 Z M617.2,2367 H623.3 V2350.7 H617.2 Z M623.3,2367 H631.5 V2359 H623.3 Z M636.4,2367 H649.8 V2359 H636.4 Z M734.7,2367 H748.2 V2359 H734.7 Z M903,2367 H911.6 V2359 H903 Z M911.6,2367 H916.5 V2350.7 H911.6 Z M916.5,2367 H924.7 V2359 H916.5 Z M998.2,2367 H1024.8 V2359 H998.2 Z M1063.6,2367 H1076.6 V2359 H1063.6 Z M1081.1,2367 H1095 V2359 H1081.1 Z M1124.8,2367 H1139.1 V2350.7 H1124.8 Z M1139.1,2367 H1153.4 V2359 H1139.1 Z M1160.8,2367 H1173.9 V2359 H1160.8 Z" fill="url(#sigpat)"/>
<path d="M229,2367 H1195.3" stroke="#222" stroke-width="1.6"/>
<path d="M273.2,2411.1 H283.4 V2407.1 H273.2 Z M335.3,2411.1 L335.3,2402.6 L337.1,2399.9 L338.9,2398.2 L340.8,2395.6 L342.6,2398.4 L344.4,2392.5 L346.2,2387.4 L348,2395.7 L349.8,2401.8 L351.6,2398.1 L353.5,2388.7 L355.3,2394.5 L357.1,2399.3 L358.9,2400.5 L360.7,2398.7 L362.6,2399.3 L364.4,2404.4 L366.2,2406.2 L368,2404.4 L368,2411.1 Z M376.1,2411.1 H386.4 V2407.1 H376.1 Z M409.6,2411.1 H419.9 V2407.1 H409.6 Z M454.6,2411.1 H465.2 V2403.1 H454.6 Z M488.5,2411.1 H498.7 V2407.1 H488.5 Z M516.3,2411.1 H526.5 V2407.1 H516.3 Z M551.8,2411.1 L551.8,2408 L553.6,2406.3 L555.4,2404.3 L557.2,2399.8 L559,2399.3 L560.9,2397.8 L562.7,2400 L564.5,2402 L566.3,2405.7 L568.1,2407.7 L568.1,2411.1 Z M591.4,2411.1 H601.6 V2407.1 H591.4 Z M613,2411.1 H623.3 V2407.1 H613 Z M705,2411.1 H715.2 V2407.1 H705 Z M706.1,2411.1 H716.3 V2407.1 H706.1 Z M727.8,2411.1 H736.8 V2407.1 H727.8 Z M736.8,2411.1 L736.8,2401.7 L738.7,2401.3 L740.6,2398.3 L742.5,2401.9 L744.4,2402.8 L746.3,2404.3 L748.2,2404.9 L750,2406 L751.9,2404.6 L753.8,2404.9 L755.7,2405.9 L757.6,2406.2 L759.5,2405.2 L761.4,2406.2 L763.3,2404.4 L763.3,2411.1 Z M771.5,2411.1 H781.7 V2407.1 H771.5 Z M808.3,2411.1 H818.5 V2407.1 H808.3 Z M919.4,2411.1 H929.6 V2407.1 H919.4 Z M955.3,2411.1 H965.5 V2407.1 H955.3 Z M973.7,2411.1 L973.7,2407.2 L975.5,2406 L977.3,2403.8 L979.1,2400.6 L980.9,2397.9 L982.8,2400.3 L984.6,2401.3 L986.4,2402.9 L988.2,2406.1 L990,2407.1 L990,2411.1 Z M1028.8,2411.1 H1041.1 V2403.1 H1028.8 Z M1092.2,2411.1 H1106.5 V2404.1 H1092.2 Z M1120.8,2411.1 L1120.8,2403.2 L1122.6,2403.5 L1124.5,2402.8 L1126.3,2402.6 L1128.1,2402.2 L1130,2396.5 L1131.8,2397.9 L1133.6,2396.6 L1135.5,2396.5 L1137.3,2394.4 L1139.2,2395.7 L1141,2399.6 L1142.8,2402.1 L1144.7,2404.4 L1146.5,2402.2 L1148.3,2404.2 L1150.2,2403.2 L1152,2403.7 L1153.8,2403.8 L1155.7,2403.7 L1157.5,2404.2 L1157.5,2411.1 Z M1167.7,2411.1 L1167.7,2407.9 L1169.5,2404.9 L1171.4,2403.3 L1173.2,2404.2 L1175,2406.9 L1176.8,2403.9 L1178.7,2407.8 L1180.5,2405.6 L1182.3,2403.1 L1184.2,2402.6 L1186,2405.3 L1186,2411.1 Z" fill="url(#sigpat)"/>
<path d="M229,2411.1 H1195.3" stroke="#222" stroke-width="1.6"/>
<path d="M271.2,2454.8 H280.1 V2453.2 H271.2 Z M323,2454.8 L323,2451.4 L324.9,2451.4 L326.7,2451.5 L328.6,2452.3 L330.5,2451.4 L332.3,2450.3 L334.2,2448.4 L336,2447.7 L337.9,2445.7 L339.8,2442.7 L341.6,2442.1 L343.5,2439.5 L345.4,2441.2 L347.2,2440.7 L349.1,2437.6 L351,2440.4 L352.8,2441.6 L354.7,2442.7 L356.5,2446.1 L358.4,2448.8 L360.3,2448.9 L362.1,2450.9 L364,2451.7 L364,2454.8 Z M366,2454.8 H376 V2449.5 H366 Z M380.2,2454.8 H388.4 V2453.2 H380.2 Z M396.6,2454.8 H406.8 V2453.2 H396.6 Z M443.5,2454.8 H451.7 V2453.2 H443.5 Z M502,2454.8 L502,2453.3 L503.9,2453.1 L505.8,2452.2 L507.6,2450 L509.5,2450.2 L511.4,2451.1 L513.2,2452.9 L515.1,2453.4 L517,2453.6 L517,2454.8 Z M581.6,2454.8 H591.4 V2453.2 H581.6 Z M607.8,2454.8 L607.8,2452.9 L609.7,2451.8 L611.6,2450.6 L613.5,2450 L615.5,2450 L617.4,2451.8 L619.3,2453 L621.2,2453 L621.2,2454.8 Z M643.7,2454.8 L643.7,2452.6 L645.7,2452.8 L647.8,2451.9 L649.8,2451.5 L651.9,2451.9 L653.9,2452.6 L656,2452.8 L658,2452.6 L658,2454.8 Z M696.8,2454.8 H707 V2449.8 H696.8 Z M700,2454.8 H708.2 V2450.8 H700 Z M720.4,2454.8 H729.4 V2453.2 H720.4 Z M786.6,2454.8 H796 V2453.2 H786.6 Z M818.5,2454.8 H827.5 V2453.2 H818.5 Z M914.5,2454.8 H924.7 V2453.2 H914.5 Z M934.9,2454.8 H943 V2453.2 H934.9 Z M951.2,2454.8 H960.6 V2453.2 H951.2 Z M984.7,2454.8 H994.1 V2449.1 H984.7 Z M1098.3,2454.8 L1098.3,2448.1 L1100.1,2444.6 L1101.9,2441.3 L1103.7,2437.8 L1105.5,2431.7 L1107.3,2432.5 L1109.1,2435.6 L1110.9,2439.1 L1112.7,2438.7 L1114.5,2442.4 L1116.3,2440.1 L1118.1,2442.4 L1119.9,2441.6 L1121.7,2441.8 L1123.5,2445.5 L1125.3,2447.2 L1127.1,2451 L1128.9,2450.2 L1128.9,2454.8 Z M1133,2454.8 L1133,2452.3 L1134.8,2450.4 L1136.6,2449.3 L1138.4,2445.3 L1140.2,2444.5 L1142.1,2443.6 L1143.9,2445.6 L1145.7,2447.5 L1147.5,2450.5 L1149.3,2451.4 L1149.3,2454.8 Z M1165.7,2454.8 H1175.9 V2452.8 H1165.7 Z" fill="url(#sigpat)"/>
<path d="M229,2454.8 H1195.3" stroke="#222" stroke-width="1.6"/>
<path d="M231,2499 L231,2496.7 L232.8,2494.9 L234.7,2494.3 L236.5,2490.9 L238.3,2492.1 L240.2,2490.9 L242,2493.4 L243.8,2493.7 L245.7,2496.2 L247.5,2496.9 L247.5,2499 Z M278.1,2499 L278.1,2495.7 L280.1,2493.7 L282.2,2492.5 L284.2,2490.3 L286.3,2490.1 L288.3,2493.6 L290.4,2494.6 L292.4,2496 L292.4,2499 Z M328,2499 L328,2489.1 L329.8,2488.6 L331.7,2487.7 L333.5,2483.1 L335.4,2486.2 L337.2,2481.1 L339,2479.4 L340.9,2482.9 L342.7,2481.3 L344.6,2481.2 L346.4,2479.7 L348.2,2481.3 L350.1,2478.6 L351.9,2479.5 L353.8,2484.3 L355.6,2482.6 L357.4,2488.1 L359.3,2489.3 L361.1,2488.6 L363,2489.7 L364.8,2491.2 L366.6,2492.1 L368.5,2492.4 L370.3,2493.6 L372.2,2492.6 L374,2492.3 L374,2499 Z M374,2499 H394.5 V2497 H374 Z M394.5,2499 L394.5,2494 L396.6,2489.4 L398.6,2487.5 L400.6,2487 L402.7,2488 L404.8,2491.7 L406.8,2492.2 L406.8,2499 Z M406.8,2499 L406.8,2495.2 L408.6,2493 L410.5,2490 L412.3,2491.4 L414.2,2492.8 L416,2494.5 L417.8,2492.2 L419.7,2494.4 L421.5,2492.1 L423.4,2492.1 L425.2,2493.7 L425.2,2499 Z M445.6,2499 L445.6,2496.4 L447.6,2495 L449.7,2493.5 L451.7,2492.6 L453.7,2494.8 L455.8,2496.4 L457.8,2497 L457.8,2499 Z M529.3,2499 H537.5 V2496.5 H529.3 Z M569.4,2499 H578.4 V2496.5 H569.4 Z M615.1,2499 H623.3 V2496.5 H615.1 Z M629.4,2499 L629.4,2496.1 L631.4,2493.6 L633.5,2493.7 L635.5,2493.8 L637.6,2495.7 L639.6,2496.8 L639.6,2499 Z M698,2499 H718.5 V2496.5 H698 Z M700,2499 H718.4 V2497 H700 Z M726.6,2499 L726.6,2494.9 L728.4,2494.3 L730.2,2492.7 L732,2496.3 L733.8,2491.6 L735.6,2492.9 L737.4,2492.4 L739.2,2493.8 L741,2493.6 L742.8,2494.5 L744.6,2494.5 L746.4,2495.4 L748.2,2495 L750,2495 L751.8,2494.8 L753.6,2492 L755.4,2492.5 L757.2,2493.3 L757.2,2499 Z M765.4,2499 H783.7 V2491.7 H765.4 Z M794.8,2499 H805.4 V2497 H794.8 Z M822.5,2499 H832.8 V2497 H822.5 Z M852,2499 H861.4 V2497 H852 Z M866.7,2499 H876.5 V2497 H866.7 Z M888,2499 H910.4 V2497 H888 Z M953.3,2499 L953.3,2496.4 L955.3,2494.4 L957.4,2492.1 L959.4,2490.7 L961.5,2491.7 L963.5,2492.6 L965.6,2494.2 L967.6,2496.7 L967.6,2499 Z M967.6,2499 H977.8 V2497 H967.6 Z M990,2499 H1000.2 V2497 H990 Z M1004.3,2499 H1014.5 V2495 H1004.3 Z M1022.7,2499 H1030.9 V2497 H1022.7 Z M1041.1,2499 H1051.3 V2491.7 H1041.1 Z M1051.3,2499 L1051.3,2494.1 L1053.1,2492.1 L1054.9,2494.5 L1056.8,2492.3 L1058.6,2494.1 L1060.4,2496.1 L1062.2,2493.7 L1064,2495.9 L1065.8,2491.9 L1067.7,2491.6 L1069.5,2493.3 L1071.3,2491.3 L1073.1,2495.1 L1074.9,2493.8 L1076.7,2495.3 L1078.5,2496 L1080.4,2491.7 L1082.2,2496 L1084,2491.1 L1084,2499 Z M1086,2499 H1096.2 V2497 H1086 Z M1097,2499 L1097,2490 L1098.9,2482.9 L1100.8,2482 L1102.8,2474 L1104.7,2478.3 L1106.6,2488.1 L1108.5,2492.9 L1108.5,2499 Z M1108.5,2499 L1108.5,2493.9 L1110.3,2493.1 L1112.2,2493.1 L1114,2488 L1115.9,2486.5 L1117.7,2484.4 L1119.6,2487.2 L1121.4,2487.6 L1123.3,2491.3 L1125.1,2492.8 L1127,2493.3 L1128.8,2490.9 L1130.7,2488.9 L1132.5,2487 L1134.4,2488 L1136.2,2488.8 L1138.1,2490 L1139.9,2491.7 L1141.8,2491.8 L1143.6,2493.6 L1145.5,2492.4 L1147.3,2493.7 L1147.3,2499 Z M1151.4,2499 H1159.6 V2497 H1151.4 Z M1173.9,2499 H1184 V2497 H1173.9 Z" fill="url(#sigpat)"/>
<path d="M229,2499 H1195.3" stroke="#222" stroke-width="1.6"/>
</svg>
</body></html>
